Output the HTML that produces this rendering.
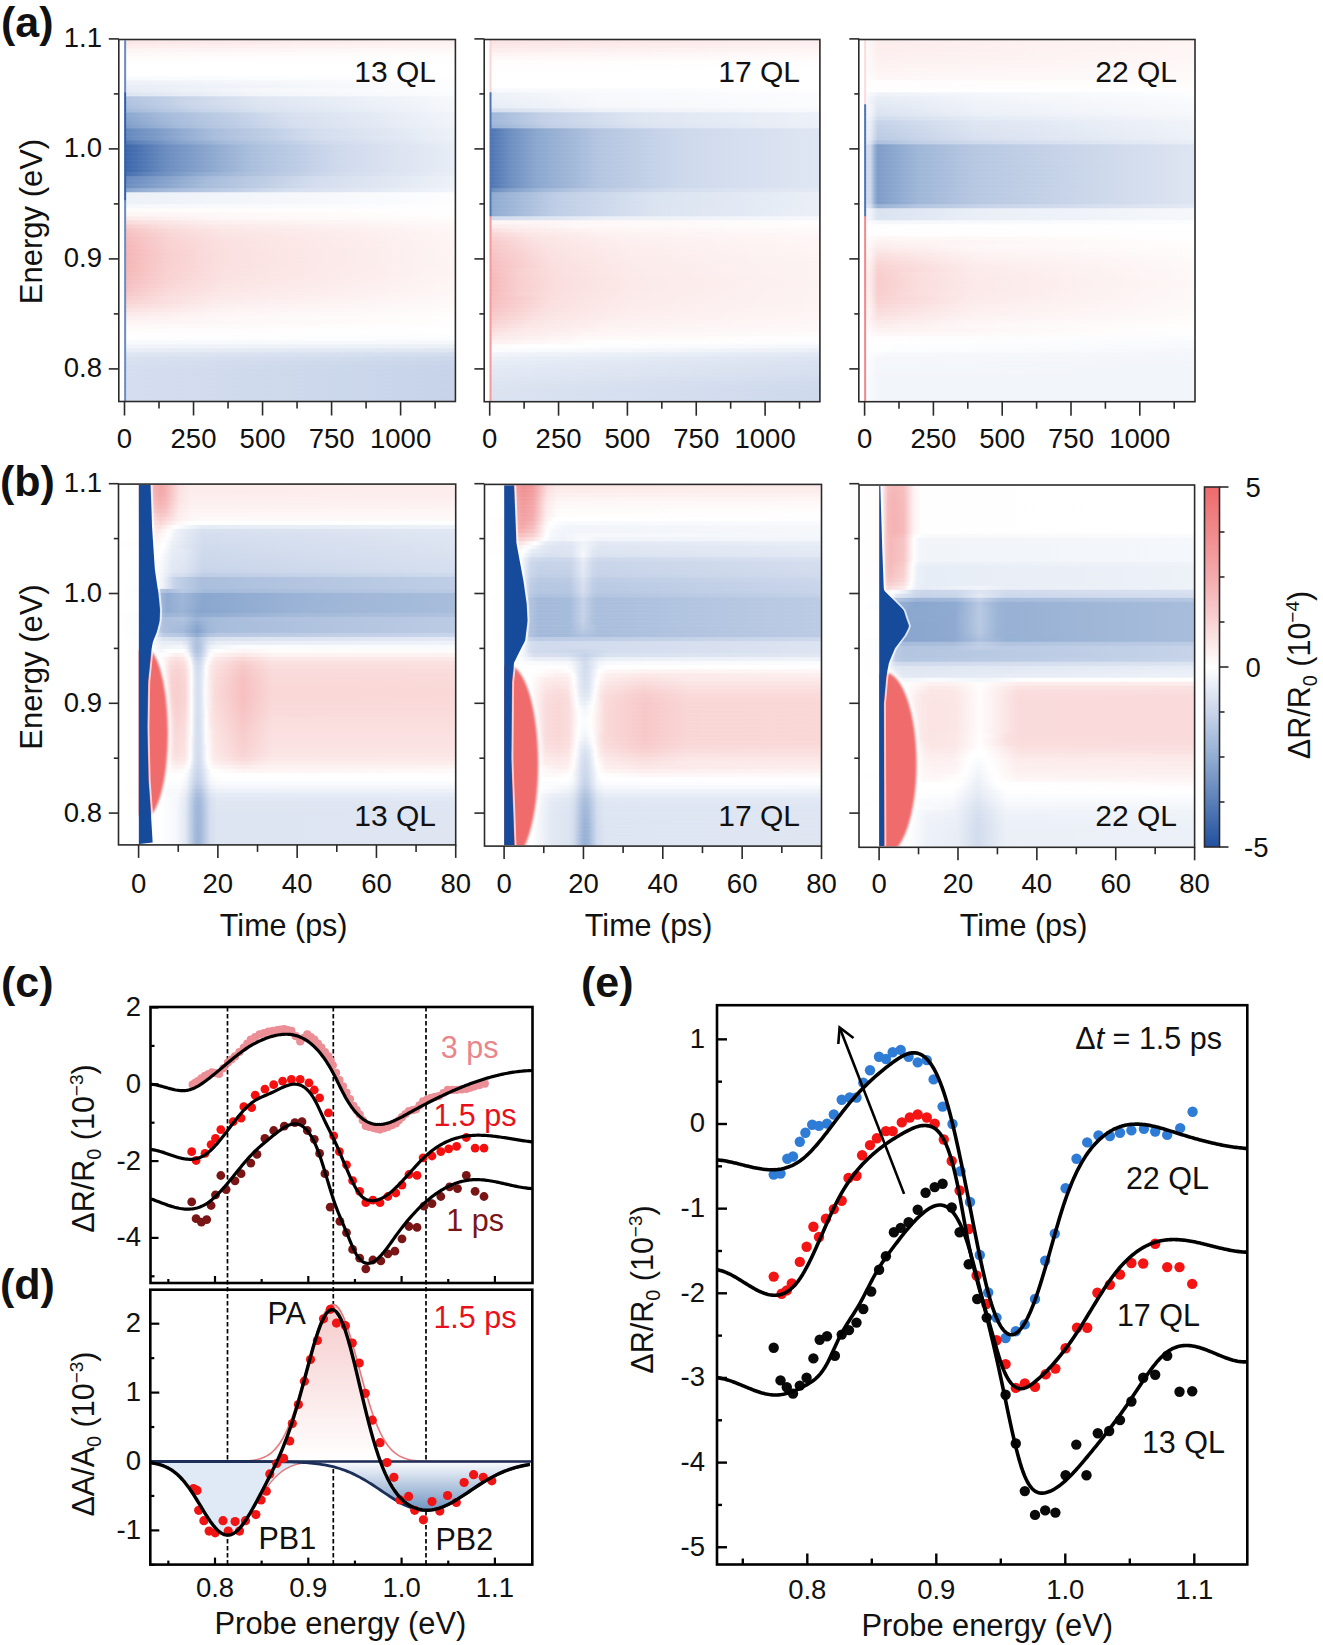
<!DOCTYPE html>
<html><head><meta charset="utf-8"><style>
html,body{margin:0;padding:0;background:#fff;}
svg{display:block;font-family:"Liberation Sans",sans-serif;}
</style></head><body>
<svg width="1323" height="1645" viewBox="0 0 1323 1645">
<rect width="1323" height="1645" fill="#fff"/>
<defs><filter id="bl1" x="-20%" y="-20%" width="140%" height="140%"><feGaussianBlur stdDeviation="1.3"/></filter><filter id="bl2" x="-20%" y="-20%" width="140%" height="140%"><feGaussianBlur stdDeviation="2"/></filter><linearGradient id="h1" x1="119.6" x2="454.6" gradientUnits="userSpaceOnUse"><stop offset="0" stop-color="#ffffff"/><stop offset="0.012" stop-color="#ffffff"/><stop offset="0.015" stop-color="#6a8cbf"/><stop offset="0.018" stop-color="#6a8cbf"/><stop offset="0.021" stop-color="#fce7e7"/><stop offset="1" stop-color="#fdf1f1"/></linearGradient><linearGradient id="h2" x1="119.6" x2="454.6" gradientUnits="userSpaceOnUse"><stop offset="0" stop-color="#ffffff"/><stop offset="0.012" stop-color="#ffffff"/><stop offset="0.015" stop-color="#6a8cbf"/><stop offset="0.018" stop-color="#6a8cbf"/><stop offset="0.021" stop-color="#fdeded"/><stop offset="1" stop-color="#fef5f5"/></linearGradient><linearGradient id="h3" x1="119.6" x2="454.6" gradientUnits="userSpaceOnUse"><stop offset="0" stop-color="#ffffff"/><stop offset="0.012" stop-color="#ffffff"/><stop offset="0.015" stop-color="#6a8cbf"/><stop offset="0.018" stop-color="#6a8cbf"/><stop offset="0.021" stop-color="#fdf4f4"/><stop offset="1" stop-color="#fef9f9"/></linearGradient><linearGradient id="h4" x1="119.6" x2="454.6" gradientUnits="userSpaceOnUse"><stop offset="0" stop-color="#ffffff"/><stop offset="0.012" stop-color="#ffffff"/><stop offset="0.015" stop-color="#6a8cbf"/><stop offset="0.018" stop-color="#6a8cbf"/><stop offset="0.021" stop-color="#fef9f9"/><stop offset="1" stop-color="#fffcfc"/></linearGradient><linearGradient id="h5" x1="119.6" x2="454.6" gradientUnits="userSpaceOnUse"><stop offset="0" stop-color="#ffffff"/><stop offset="0.012" stop-color="#ffffff"/><stop offset="0.015" stop-color="#6a8cbf"/><stop offset="0.018" stop-color="#6a8cbf"/><stop offset="0.021" stop-color="#fffcfc"/><stop offset="1" stop-color="#fffefe"/></linearGradient><linearGradient id="h6" x1="119.6" x2="454.6" gradientUnits="userSpaceOnUse"><stop offset="0" stop-color="#ffffff"/><stop offset="0.012" stop-color="#ffffff"/><stop offset="0.015" stop-color="#6a8cbf"/><stop offset="0.018" stop-color="#6a8cbf"/><stop offset="0.021" stop-color="#fffefe"/><stop offset="1" stop-color="#fffefe"/></linearGradient><linearGradient id="h7" x1="119.6" x2="454.6" gradientUnits="userSpaceOnUse"><stop offset="0" stop-color="#ffffff"/><stop offset="0.012" stop-color="#ffffff"/><stop offset="0.015" stop-color="#6a8cbf"/><stop offset="0.018" stop-color="#6a8cbf"/><stop offset="0.021" stop-color="#ffffff"/><stop offset="1" stop-color="#ffffff"/></linearGradient><linearGradient id="h8" x1="119.6" x2="454.6" gradientUnits="userSpaceOnUse"><stop offset="0" stop-color="#ffffff"/><stop offset="0.012" stop-color="#ffffff"/><stop offset="0.015" stop-color="#6a8cbf"/><stop offset="0.018" stop-color="#6a8cbf"/><stop offset="0.021" stop-color="#ffffff"/><stop offset="1" stop-color="#ffffff"/></linearGradient><linearGradient id="h9" x1="119.6" x2="454.6" gradientUnits="userSpaceOnUse"><stop offset="0" stop-color="#ffffff"/><stop offset="0.012" stop-color="#ffffff"/><stop offset="0.015" stop-color="#6a8cbf"/><stop offset="0.018" stop-color="#6a8cbf"/><stop offset="0.021" stop-color="#ffffff"/><stop offset="1" stop-color="#ffffff"/></linearGradient><linearGradient id="ha" x1="119.6" x2="454.6" gradientUnits="userSpaceOnUse"><stop offset="0" stop-color="#ffffff"/><stop offset="0.012" stop-color="#ffffff"/><stop offset="0.015" stop-color="#6a8cbf"/><stop offset="0.018" stop-color="#6a8cbf"/><stop offset="0.021" stop-color="#f9fbfd"/><stop offset="1" stop-color="#fefeff"/></linearGradient><linearGradient id="hb" x1="119.6" x2="454.6" gradientUnits="userSpaceOnUse"><stop offset="0" stop-color="#ffffff"/><stop offset="0.012" stop-color="#ffffff"/><stop offset="0.015" stop-color="#6a8cbf"/><stop offset="0.018" stop-color="#6a8cbf"/><stop offset="0.021" stop-color="#eef2f8"/><stop offset="1" stop-color="#fdfdfe"/></linearGradient><linearGradient id="hc" x1="119.6" x2="454.6" gradientUnits="userSpaceOnUse"><stop offset="0" stop-color="#ffffff"/><stop offset="0.012" stop-color="#ffffff"/><stop offset="0.015" stop-color="#6a8cbf"/><stop offset="0.018" stop-color="#6a8cbf"/><stop offset="0.021" stop-color="#e9eef7"/><stop offset="1" stop-color="#fcfdfe"/></linearGradient><linearGradient id="hd" x1="119.6" x2="454.6" gradientUnits="userSpaceOnUse"><stop offset="0" stop-color="#ffffff"/><stop offset="0.012" stop-color="#ffffff"/><stop offset="0.015" stop-color="#6a8cbf"/><stop offset="0.018" stop-color="#6a8cbf"/><stop offset="0.021" stop-color="#e6ecf5"/><stop offset="0.427" stop-color="#f5f7fb"/><stop offset="1" stop-color="#fcfdfe"/></linearGradient><linearGradient id="he" x1="119.6" x2="454.6" gradientUnits="userSpaceOnUse"><stop offset="0" stop-color="#ffffff"/><stop offset="0.012" stop-color="#ffffff"/><stop offset="0.015" stop-color="#315ea6"/><stop offset="0.018" stop-color="#315ea6"/><stop offset="0.021" stop-color="#dfe6f2"/><stop offset="0.427" stop-color="#f2f5fa"/><stop offset="1" stop-color="#fbfcfd"/></linearGradient><linearGradient id="hf" x1="119.6" x2="454.6" gradientUnits="userSpaceOnUse"><stop offset="0" stop-color="#ffffff"/><stop offset="0.012" stop-color="#ffffff"/><stop offset="0.015" stop-color="#315ea6"/><stop offset="0.018" stop-color="#315ea6"/><stop offset="0.021" stop-color="#b4c5e1"/><stop offset="0.424" stop-color="#e0e7f3"/><stop offset="1" stop-color="#f6f8fb"/></linearGradient><linearGradient id="h10" x1="119.6" x2="454.6" gradientUnits="userSpaceOnUse"><stop offset="0" stop-color="#ffffff"/><stop offset="0.012" stop-color="#ffffff"/><stop offset="0.015" stop-color="#315ea6"/><stop offset="0.018" stop-color="#315ea6"/><stop offset="0.021" stop-color="#b0c3df"/><stop offset="0.203" stop-color="#cad6ea"/><stop offset="0.424" stop-color="#dee6f2"/><stop offset="1" stop-color="#f6f8fb"/></linearGradient><linearGradient id="h11" x1="119.6" x2="454.6" gradientUnits="userSpaceOnUse"><stop offset="0" stop-color="#ffffff"/><stop offset="0.012" stop-color="#ffffff"/><stop offset="0.015" stop-color="#315ea6"/><stop offset="0.018" stop-color="#315ea6"/><stop offset="0.021" stop-color="#adc0de"/><stop offset="0.212" stop-color="#c9d5ea"/><stop offset="0.424" stop-color="#dde4f2"/><stop offset="1" stop-color="#f5f7fb"/></linearGradient><linearGradient id="h12" x1="119.6" x2="454.6" gradientUnits="userSpaceOnUse"><stop offset="0" stop-color="#ffffff"/><stop offset="0.012" stop-color="#ffffff"/><stop offset="0.015" stop-color="#315ea6"/><stop offset="0.018" stop-color="#315ea6"/><stop offset="0.021" stop-color="#a4bada"/><stop offset="0.027" stop-color="#a5bbda"/><stop offset="0.215" stop-color="#c3d1e8"/><stop offset="0.427" stop-color="#d9e2f0"/><stop offset="1" stop-color="#f4f7fb"/></linearGradient><linearGradient id="h13" x1="119.6" x2="454.6" gradientUnits="userSpaceOnUse"><stop offset="0" stop-color="#ffffff"/><stop offset="0.012" stop-color="#ffffff"/><stop offset="0.015" stop-color="#315ea6"/><stop offset="0.018" stop-color="#315ea6"/><stop offset="0.021" stop-color="#8da9d0"/><stop offset="0.134" stop-color="#a6bcdb"/><stop offset="0.499" stop-color="#d7e0ef"/><stop offset="1" stop-color="#f1f4fa"/></linearGradient><linearGradient id="h14" x1="119.6" x2="454.6" gradientUnits="userSpaceOnUse"><stop offset="0" stop-color="#ffffff"/><stop offset="0.012" stop-color="#ffffff"/><stop offset="0.015" stop-color="#315ea6"/><stop offset="0.018" stop-color="#315ea6"/><stop offset="0.021" stop-color="#8aa6ce"/><stop offset="0.146" stop-color="#a6bbdb"/><stop offset="0.504" stop-color="#d6dfef"/><stop offset="1" stop-color="#f1f4fa"/></linearGradient><linearGradient id="h15" x1="119.6" x2="454.6" gradientUnits="userSpaceOnUse"><stop offset="0" stop-color="#ffffff"/><stop offset="0.012" stop-color="#ffffff"/><stop offset="0.015" stop-color="#315ea6"/><stop offset="0.018" stop-color="#315ea6"/><stop offset="0.021" stop-color="#86a3cd"/><stop offset="0.161" stop-color="#a6bcdb"/><stop offset="0.516" stop-color="#d6dfef"/><stop offset="1" stop-color="#f1f4f9"/></linearGradient><linearGradient id="h16" x1="119.6" x2="454.6" gradientUnits="userSpaceOnUse"><stop offset="0" stop-color="#ffffff"/><stop offset="0.012" stop-color="#ffffff"/><stop offset="0.015" stop-color="#315ea6"/><stop offset="0.018" stop-color="#315ea6"/><stop offset="0.021" stop-color="#809eca"/><stop offset="0.185" stop-color="#a7bcdb"/><stop offset="0.531" stop-color="#d6dfef"/><stop offset="1" stop-color="#f0f3f9"/></linearGradient><linearGradient id="h17" x1="119.6" x2="454.6" gradientUnits="userSpaceOnUse"><stop offset="0" stop-color="#ffffff"/><stop offset="0.012" stop-color="#ffffff"/><stop offset="0.015" stop-color="#315ea6"/><stop offset="0.018" stop-color="#315ea6"/><stop offset="0.021" stop-color="#6689be"/><stop offset="0.275" stop-color="#a8bddc"/><stop offset="0.588" stop-color="#d3ddee"/><stop offset="1" stop-color="#edf1f8"/></linearGradient><linearGradient id="h18" x1="119.6" x2="454.6" gradientUnits="userSpaceOnUse"><stop offset="0" stop-color="#ffffff"/><stop offset="0.012" stop-color="#ffffff"/><stop offset="0.015" stop-color="#315ea6"/><stop offset="0.018" stop-color="#315ea6"/><stop offset="0.021" stop-color="#6689be"/><stop offset="0.275" stop-color="#a8bddc"/><stop offset="0.588" stop-color="#d3ddee"/><stop offset="1" stop-color="#edf1f8"/></linearGradient><linearGradient id="h19" x1="119.6" x2="454.6" gradientUnits="userSpaceOnUse"><stop offset="0" stop-color="#ffffff"/><stop offset="0.012" stop-color="#ffffff"/><stop offset="0.015" stop-color="#315ea6"/><stop offset="0.018" stop-color="#315ea6"/><stop offset="0.021" stop-color="#6689be"/><stop offset="0.275" stop-color="#a8bddc"/><stop offset="0.588" stop-color="#d3ddee"/><stop offset="1" stop-color="#edf1f8"/></linearGradient><linearGradient id="h1a" x1="119.6" x2="454.6" gradientUnits="userSpaceOnUse"><stop offset="0" stop-color="#ffffff"/><stop offset="0.012" stop-color="#ffffff"/><stop offset="0.015" stop-color="#315ea6"/><stop offset="0.018" stop-color="#315ea6"/><stop offset="0.021" stop-color="#5279b5"/><stop offset="0.039" stop-color="#5a7fb8"/><stop offset="0.182" stop-color="#87a4cd"/><stop offset="0.334" stop-color="#a9bedc"/><stop offset="0.624" stop-color="#d1dbed"/><stop offset="1" stop-color="#ebeff7"/></linearGradient><linearGradient id="h1b" x1="119.6" x2="454.6" gradientUnits="userSpaceOnUse"><stop offset="0" stop-color="#ffffff"/><stop offset="0.012" stop-color="#ffffff"/><stop offset="0.015" stop-color="#315ea6"/><stop offset="0.018" stop-color="#315ea6"/><stop offset="0.021" stop-color="#3e68ac"/><stop offset="0.146" stop-color="#6e8fc1"/><stop offset="0.391" stop-color="#aabfdd"/><stop offset="0.66" stop-color="#d0daed"/><stop offset="1" stop-color="#e8edf6"/></linearGradient><linearGradient id="h1c" x1="119.6" x2="454.6" gradientUnits="userSpaceOnUse"><stop offset="0" stop-color="#ffffff"/><stop offset="0.012" stop-color="#ffffff"/><stop offset="0.015" stop-color="#315ea6"/><stop offset="0.018" stop-color="#315ea6"/><stop offset="0.021" stop-color="#3e68ac"/><stop offset="0.146" stop-color="#6e8fc1"/><stop offset="0.391" stop-color="#aabfdd"/><stop offset="0.66" stop-color="#d0daed"/><stop offset="1" stop-color="#e8edf6"/></linearGradient><linearGradient id="h1d" x1="119.6" x2="454.6" gradientUnits="userSpaceOnUse"><stop offset="0" stop-color="#ffffff"/><stop offset="0.012" stop-color="#ffffff"/><stop offset="0.015" stop-color="#315ea6"/><stop offset="0.018" stop-color="#315ea6"/><stop offset="0.021" stop-color="#3e68ac"/><stop offset="0.146" stop-color="#6e8fc1"/><stop offset="0.391" stop-color="#aabfdd"/><stop offset="0.66" stop-color="#d0daed"/><stop offset="1" stop-color="#e8edf6"/></linearGradient><linearGradient id="h1e" x1="119.6" x2="454.6" gradientUnits="userSpaceOnUse"><stop offset="0" stop-color="#ffffff"/><stop offset="0.012" stop-color="#ffffff"/><stop offset="0.015" stop-color="#315ea6"/><stop offset="0.018" stop-color="#315ea6"/><stop offset="0.021" stop-color="#3e68ac"/><stop offset="0.146" stop-color="#6e8fc1"/><stop offset="0.391" stop-color="#aabfdd"/><stop offset="0.66" stop-color="#d0daed"/><stop offset="1" stop-color="#e8edf6"/></linearGradient><linearGradient id="h1f" x1="119.6" x2="454.6" gradientUnits="userSpaceOnUse"><stop offset="0" stop-color="#ffffff"/><stop offset="0.012" stop-color="#ffffff"/><stop offset="0.015" stop-color="#315ea6"/><stop offset="0.018" stop-color="#315ea6"/><stop offset="0.021" stop-color="#3e68ac"/><stop offset="0.146" stop-color="#6e8fc1"/><stop offset="0.391" stop-color="#aabfdd"/><stop offset="0.66" stop-color="#d0daed"/><stop offset="1" stop-color="#e8edf6"/></linearGradient><linearGradient id="h20" x1="119.6" x2="454.6" gradientUnits="userSpaceOnUse"><stop offset="0" stop-color="#ffffff"/><stop offset="0.012" stop-color="#ffffff"/><stop offset="0.015" stop-color="#315ea6"/><stop offset="0.018" stop-color="#315ea6"/><stop offset="0.021" stop-color="#3e68ac"/><stop offset="0.146" stop-color="#6e8fc1"/><stop offset="0.391" stop-color="#aabfdd"/><stop offset="0.66" stop-color="#d0daed"/><stop offset="1" stop-color="#e8edf6"/></linearGradient><linearGradient id="h21" x1="119.6" x2="454.6" gradientUnits="userSpaceOnUse"><stop offset="0" stop-color="#ffffff"/><stop offset="0.012" stop-color="#ffffff"/><stop offset="0.015" stop-color="#315ea6"/><stop offset="0.018" stop-color="#315ea6"/><stop offset="0.021" stop-color="#3e68ac"/><stop offset="0.146" stop-color="#6e8fc1"/><stop offset="0.391" stop-color="#aabfdd"/><stop offset="0.66" stop-color="#d0daed"/><stop offset="1" stop-color="#e8edf6"/></linearGradient><linearGradient id="h22" x1="119.6" x2="454.6" gradientUnits="userSpaceOnUse"><stop offset="0" stop-color="#ffffff"/><stop offset="0.012" stop-color="#ffffff"/><stop offset="0.015" stop-color="#315ea6"/><stop offset="0.018" stop-color="#315ea6"/><stop offset="0.021" stop-color="#4971b1"/><stop offset="0.084" stop-color="#6185bb"/><stop offset="0.236" stop-color="#8faad0"/><stop offset="0.361" stop-color="#aabedc"/><stop offset="0.642" stop-color="#d1dbed"/><stop offset="1" stop-color="#eaeef7"/></linearGradient><linearGradient id="h23" x1="119.6" x2="454.6" gradientUnits="userSpaceOnUse"><stop offset="0" stop-color="#ffffff"/><stop offset="0.012" stop-color="#ffffff"/><stop offset="0.015" stop-color="#315ea6"/><stop offset="0.018" stop-color="#315ea6"/><stop offset="0.021" stop-color="#678abe"/><stop offset="0.275" stop-color="#a8bddc"/><stop offset="0.588" stop-color="#d3ddee"/><stop offset="1" stop-color="#edf1f8"/></linearGradient><linearGradient id="h24" x1="119.6" x2="454.6" gradientUnits="userSpaceOnUse"><stop offset="0" stop-color="#ffffff"/><stop offset="0.012" stop-color="#ffffff"/><stop offset="0.015" stop-color="#315ea6"/><stop offset="0.018" stop-color="#315ea6"/><stop offset="0.021" stop-color="#6a8cc0"/><stop offset="0.263" stop-color="#a8bddb"/><stop offset="0.579" stop-color="#d3ddee"/><stop offset="1" stop-color="#edf1f8"/></linearGradient><linearGradient id="h25" x1="119.6" x2="454.6" gradientUnits="userSpaceOnUse"><stop offset="0" stop-color="#ffffff"/><stop offset="0.012" stop-color="#ffffff"/><stop offset="0.015" stop-color="#315ea6"/><stop offset="0.018" stop-color="#315ea6"/><stop offset="0.021" stop-color="#6e8fc1"/><stop offset="0.251" stop-color="#a7bddb"/><stop offset="0.573" stop-color="#d4ddee"/><stop offset="1" stop-color="#eef2f8"/></linearGradient><linearGradient id="h26" x1="119.6" x2="454.6" gradientUnits="userSpaceOnUse"><stop offset="0" stop-color="#ffffff"/><stop offset="0.012" stop-color="#ffffff"/><stop offset="0.015" stop-color="#315ea6"/><stop offset="0.018" stop-color="#315ea6"/><stop offset="0.021" stop-color="#8ba7cf"/><stop offset="0.14" stop-color="#a6bbdb"/><stop offset="0.501" stop-color="#d6dfef"/><stop offset="1" stop-color="#f1f4fa"/></linearGradient><linearGradient id="h27" x1="119.6" x2="454.6" gradientUnits="userSpaceOnUse"><stop offset="0" stop-color="#ffffff"/><stop offset="0.012" stop-color="#ffffff"/><stop offset="0.015" stop-color="#315ea6"/><stop offset="0.018" stop-color="#315ea6"/><stop offset="0.021" stop-color="#ecf1f8"/><stop offset="1" stop-color="#fdfdfe"/></linearGradient><linearGradient id="h28" x1="119.6" x2="454.6" gradientUnits="userSpaceOnUse"><stop offset="0" stop-color="#ffffff"/><stop offset="0.012" stop-color="#ffffff"/><stop offset="0.015" stop-color="#315ea6"/><stop offset="0.018" stop-color="#315ea6"/><stop offset="0.021" stop-color="#edf1f8"/><stop offset="1" stop-color="#fdfdfe"/></linearGradient><linearGradient id="h29" x1="119.6" x2="454.6" gradientUnits="userSpaceOnUse"><stop offset="0" stop-color="#ffffff"/><stop offset="0.012" stop-color="#ffffff"/><stop offset="0.015" stop-color="#6a8cbf"/><stop offset="0.018" stop-color="#6a8cbf"/><stop offset="0.021" stop-color="#edf1f8"/><stop offset="1" stop-color="#fdfdfe"/></linearGradient><linearGradient id="h2a" x1="119.6" x2="454.6" gradientUnits="userSpaceOnUse"><stop offset="0" stop-color="#ffffff"/><stop offset="0.012" stop-color="#ffffff"/><stop offset="0.015" stop-color="#6a8cbf"/><stop offset="0.018" stop-color="#6a8cbf"/><stop offset="0.021" stop-color="#f7f8fc"/><stop offset="1" stop-color="#fefeff"/></linearGradient><linearGradient id="h2b" x1="119.6" x2="454.6" gradientUnits="userSpaceOnUse"><stop offset="0" stop-color="#ffffff"/><stop offset="0.012" stop-color="#ffffff"/><stop offset="0.015" stop-color="#6a8cbf"/><stop offset="0.018" stop-color="#6a8cbf"/><stop offset="0.021" stop-color="#fefbfb"/><stop offset="1" stop-color="#fffefe"/></linearGradient><linearGradient id="h2c" x1="119.6" x2="454.6" gradientUnits="userSpaceOnUse"><stop offset="0" stop-color="#ffffff"/><stop offset="0.012" stop-color="#ffffff"/><stop offset="0.015" stop-color="#6a8cbf"/><stop offset="0.018" stop-color="#6a8cbf"/><stop offset="0.021" stop-color="#fef5f5"/><stop offset="1" stop-color="#fffefe"/></linearGradient><linearGradient id="h2d" x1="119.6" x2="454.6" gradientUnits="userSpaceOnUse"><stop offset="0" stop-color="#ffffff"/><stop offset="0.012" stop-color="#ffffff"/><stop offset="0.015" stop-color="#6a8cbf"/><stop offset="0.018" stop-color="#6a8cbf"/><stop offset="0.021" stop-color="#fcebeb"/><stop offset="0.304" stop-color="#fef7f7"/><stop offset="1" stop-color="#fffcfc"/></linearGradient><linearGradient id="h2e" x1="119.6" x2="454.6" gradientUnits="userSpaceOnUse"><stop offset="0" stop-color="#ffffff"/><stop offset="0.012" stop-color="#ffffff"/><stop offset="0.015" stop-color="#6a8cbf"/><stop offset="0.018" stop-color="#6a8cbf"/><stop offset="0.021" stop-color="#fadddd"/><stop offset="0.304" stop-color="#fdf0f0"/><stop offset="1" stop-color="#fefafa"/></linearGradient><linearGradient id="h2f" x1="119.6" x2="454.6" gradientUnits="userSpaceOnUse"><stop offset="0" stop-color="#ffffff"/><stop offset="0.012" stop-color="#ffffff"/><stop offset="0.015" stop-color="#6a8cbf"/><stop offset="0.018" stop-color="#6a8cbf"/><stop offset="0.021" stop-color="#f8cfcf"/><stop offset="0.143" stop-color="#fbe0e0"/><stop offset="0.307" stop-color="#fceaea"/><stop offset="1" stop-color="#fef8f8"/></linearGradient><linearGradient id="h30" x1="119.6" x2="454.6" gradientUnits="userSpaceOnUse"><stop offset="0" stop-color="#ffffff"/><stop offset="0.012" stop-color="#ffffff"/><stop offset="0.015" stop-color="#6a8cbf"/><stop offset="0.018" stop-color="#6a8cbf"/><stop offset="0.021" stop-color="#f7c5c6"/><stop offset="0.149" stop-color="#fadada"/><stop offset="0.313" stop-color="#fce6e6"/><stop offset="1" stop-color="#fef6f6"/></linearGradient><linearGradient id="h31" x1="119.6" x2="454.6" gradientUnits="userSpaceOnUse"><stop offset="0" stop-color="#ffffff"/><stop offset="0.012" stop-color="#ffffff"/><stop offset="0.015" stop-color="#6a8cbf"/><stop offset="0.018" stop-color="#6a8cbf"/><stop offset="0.021" stop-color="#f7c0c0"/><stop offset="0.149" stop-color="#f9d6d6"/><stop offset="0.313" stop-color="#fbe4e4"/><stop offset="1" stop-color="#fef5f5"/></linearGradient><linearGradient id="h32" x1="119.6" x2="454.6" gradientUnits="userSpaceOnUse"><stop offset="0" stop-color="#ffffff"/><stop offset="0.012" stop-color="#ffffff"/><stop offset="0.015" stop-color="#6a8cbf"/><stop offset="0.018" stop-color="#6a8cbf"/><stop offset="0.021" stop-color="#f6bcbd"/><stop offset="0.152" stop-color="#f9d4d4"/><stop offset="0.316" stop-color="#fbe2e2"/><stop offset="1" stop-color="#fef5f5"/></linearGradient><linearGradient id="h33" x1="119.6" x2="454.6" gradientUnits="userSpaceOnUse"><stop offset="0" stop-color="#ffffff"/><stop offset="0.012" stop-color="#ffffff"/><stop offset="0.015" stop-color="#6a8cbf"/><stop offset="0.018" stop-color="#6a8cbf"/><stop offset="0.021" stop-color="#f6babb"/><stop offset="0.137" stop-color="#f9d1d1"/><stop offset="0.316" stop-color="#fbe1e1"/><stop offset="1" stop-color="#fef4f4"/></linearGradient><linearGradient id="h34" x1="119.6" x2="454.6" gradientUnits="userSpaceOnUse"><stop offset="0" stop-color="#ffffff"/><stop offset="0.012" stop-color="#ffffff"/><stop offset="0.015" stop-color="#6a8cbf"/><stop offset="0.018" stop-color="#6a8cbf"/><stop offset="0.021" stop-color="#f6b8b9"/><stop offset="0.137" stop-color="#f9d0d0"/><stop offset="0.316" stop-color="#fbe1e1"/><stop offset="1" stop-color="#fef4f4"/></linearGradient><linearGradient id="h35" x1="119.6" x2="454.6" gradientUnits="userSpaceOnUse"><stop offset="0" stop-color="#ffffff"/><stop offset="0.012" stop-color="#ffffff"/><stop offset="0.015" stop-color="#6a8cbf"/><stop offset="0.018" stop-color="#6a8cbf"/><stop offset="0.021" stop-color="#f6b7b8"/><stop offset="0.137" stop-color="#f9cfcf"/><stop offset="0.316" stop-color="#fbe0e0"/><stop offset="1" stop-color="#fdf4f4"/></linearGradient><linearGradient id="h36" x1="119.6" x2="454.6" gradientUnits="userSpaceOnUse"><stop offset="0" stop-color="#ffffff"/><stop offset="0.012" stop-color="#ffffff"/><stop offset="0.015" stop-color="#6a8cbf"/><stop offset="0.018" stop-color="#6a8cbf"/><stop offset="0.021" stop-color="#f5b7b8"/><stop offset="0.137" stop-color="#f8cfcf"/><stop offset="0.316" stop-color="#fbe0e0"/><stop offset="1" stop-color="#fdf4f4"/></linearGradient><linearGradient id="h37" x1="119.6" x2="454.6" gradientUnits="userSpaceOnUse"><stop offset="0" stop-color="#ffffff"/><stop offset="0.012" stop-color="#ffffff"/><stop offset="0.015" stop-color="#6a8cbf"/><stop offset="0.018" stop-color="#6a8cbf"/><stop offset="0.021" stop-color="#f5b7b7"/><stop offset="0.137" stop-color="#f8cfcf"/><stop offset="0.316" stop-color="#fbe0e0"/><stop offset="1" stop-color="#fdf4f4"/></linearGradient><linearGradient id="h38" x1="119.6" x2="454.6" gradientUnits="userSpaceOnUse"><stop offset="0" stop-color="#ffffff"/><stop offset="0.012" stop-color="#ffffff"/><stop offset="0.015" stop-color="#6a8cbf"/><stop offset="0.018" stop-color="#6a8cbf"/><stop offset="0.021" stop-color="#f5b7b8"/><stop offset="0.137" stop-color="#f8cfcf"/><stop offset="0.316" stop-color="#fbe0e0"/><stop offset="1" stop-color="#fdf4f4"/></linearGradient><linearGradient id="h39" x1="119.6" x2="454.6" gradientUnits="userSpaceOnUse"><stop offset="0" stop-color="#ffffff"/><stop offset="0.012" stop-color="#ffffff"/><stop offset="0.015" stop-color="#6a8cbf"/><stop offset="0.018" stop-color="#6a8cbf"/><stop offset="0.021" stop-color="#f6b8b8"/><stop offset="0.137" stop-color="#f9cfcf"/><stop offset="0.316" stop-color="#fbe0e0"/><stop offset="1" stop-color="#fdf4f4"/></linearGradient><linearGradient id="h3a" x1="119.6" x2="454.6" gradientUnits="userSpaceOnUse"><stop offset="0" stop-color="#ffffff"/><stop offset="0.012" stop-color="#ffffff"/><stop offset="0.015" stop-color="#6a8cbf"/><stop offset="0.018" stop-color="#6a8cbf"/><stop offset="0.021" stop-color="#f6b9b9"/><stop offset="0.137" stop-color="#f9d0d0"/><stop offset="0.316" stop-color="#fbe1e1"/><stop offset="1" stop-color="#fef4f4"/></linearGradient><linearGradient id="h3b" x1="119.6" x2="454.6" gradientUnits="userSpaceOnUse"><stop offset="0" stop-color="#ffffff"/><stop offset="0.012" stop-color="#ffffff"/><stop offset="0.015" stop-color="#6a8cbf"/><stop offset="0.018" stop-color="#6a8cbf"/><stop offset="0.021" stop-color="#f6babb"/><stop offset="0.137" stop-color="#f9d1d1"/><stop offset="0.316" stop-color="#fbe1e1"/><stop offset="1" stop-color="#fef4f4"/></linearGradient><linearGradient id="h3c" x1="119.6" x2="454.6" gradientUnits="userSpaceOnUse"><stop offset="0" stop-color="#ffffff"/><stop offset="0.012" stop-color="#ffffff"/><stop offset="0.015" stop-color="#6a8cbf"/><stop offset="0.018" stop-color="#6a8cbf"/><stop offset="0.021" stop-color="#f6bcbc"/><stop offset="0.137" stop-color="#f9d2d2"/><stop offset="0.316" stop-color="#fbe2e2"/><stop offset="1" stop-color="#fef5f5"/></linearGradient><linearGradient id="h3d" x1="119.6" x2="454.6" gradientUnits="userSpaceOnUse"><stop offset="0" stop-color="#ffffff"/><stop offset="0.012" stop-color="#ffffff"/><stop offset="0.015" stop-color="#6a8cbf"/><stop offset="0.018" stop-color="#6a8cbf"/><stop offset="0.021" stop-color="#f6bebf"/><stop offset="0.149" stop-color="#f9d5d5"/><stop offset="0.313" stop-color="#fbe3e3"/><stop offset="1" stop-color="#fef5f5"/></linearGradient><linearGradient id="h3e" x1="119.6" x2="454.6" gradientUnits="userSpaceOnUse"><stop offset="0" stop-color="#ffffff"/><stop offset="0.012" stop-color="#ffffff"/><stop offset="0.015" stop-color="#6a8cbf"/><stop offset="0.018" stop-color="#6a8cbf"/><stop offset="0.021" stop-color="#f7c1c2"/><stop offset="0.149" stop-color="#fad7d7"/><stop offset="0.313" stop-color="#fbe5e5"/><stop offset="1" stop-color="#fef6f6"/></linearGradient><linearGradient id="h3f" x1="119.6" x2="454.6" gradientUnits="userSpaceOnUse"><stop offset="0" stop-color="#ffffff"/><stop offset="0.012" stop-color="#ffffff"/><stop offset="0.015" stop-color="#6a8cbf"/><stop offset="0.018" stop-color="#6a8cbf"/><stop offset="0.021" stop-color="#f7c5c5"/><stop offset="0.149" stop-color="#fadada"/><stop offset="0.313" stop-color="#fce6e6"/><stop offset="1" stop-color="#fef6f6"/></linearGradient><linearGradient id="h40" x1="119.6" x2="454.6" gradientUnits="userSpaceOnUse"><stop offset="0" stop-color="#ffffff"/><stop offset="0.012" stop-color="#ffffff"/><stop offset="0.015" stop-color="#6a8cbf"/><stop offset="0.018" stop-color="#6a8cbf"/><stop offset="0.021" stop-color="#f8c9c9"/><stop offset="0.146" stop-color="#fadcdc"/><stop offset="0.31" stop-color="#fce8e8"/><stop offset="1" stop-color="#fef7f7"/></linearGradient><linearGradient id="h41" x1="119.6" x2="454.6" gradientUnits="userSpaceOnUse"><stop offset="0" stop-color="#ffffff"/><stop offset="0.012" stop-color="#ffffff"/><stop offset="0.015" stop-color="#6a8cbf"/><stop offset="0.018" stop-color="#6a8cbf"/><stop offset="0.021" stop-color="#f8cece"/><stop offset="0.143" stop-color="#fbdfdf"/><stop offset="0.307" stop-color="#fceaea"/><stop offset="1" stop-color="#fef8f8"/></linearGradient><linearGradient id="h42" x1="119.6" x2="454.6" gradientUnits="userSpaceOnUse"><stop offset="0" stop-color="#ffffff"/><stop offset="0.012" stop-color="#ffffff"/><stop offset="0.015" stop-color="#6a8cbf"/><stop offset="0.018" stop-color="#6a8cbf"/><stop offset="0.021" stop-color="#f9d4d4"/><stop offset="0.304" stop-color="#fceded"/><stop offset="1" stop-color="#fef9f9"/></linearGradient><linearGradient id="h43" x1="119.6" x2="454.6" gradientUnits="userSpaceOnUse"><stop offset="0" stop-color="#ffffff"/><stop offset="0.012" stop-color="#ffffff"/><stop offset="0.015" stop-color="#6a8cbf"/><stop offset="0.018" stop-color="#6a8cbf"/><stop offset="0.021" stop-color="#fadbdb"/><stop offset="0.304" stop-color="#fdf0f0"/><stop offset="1" stop-color="#fefafa"/></linearGradient><linearGradient id="h44" x1="119.6" x2="454.6" gradientUnits="userSpaceOnUse"><stop offset="0" stop-color="#ffffff"/><stop offset="0.012" stop-color="#ffffff"/><stop offset="0.015" stop-color="#6a8cbf"/><stop offset="0.018" stop-color="#6a8cbf"/><stop offset="0.021" stop-color="#fbe2e2"/><stop offset="0.304" stop-color="#fdf3f3"/><stop offset="1" stop-color="#fefbfb"/></linearGradient><linearGradient id="h45" x1="119.6" x2="454.6" gradientUnits="userSpaceOnUse"><stop offset="0" stop-color="#ffffff"/><stop offset="0.012" stop-color="#ffffff"/><stop offset="0.015" stop-color="#6a8cbf"/><stop offset="0.018" stop-color="#6a8cbf"/><stop offset="0.021" stop-color="#fce9e9"/><stop offset="0.304" stop-color="#fef6f6"/><stop offset="1" stop-color="#fffcfc"/></linearGradient><linearGradient id="h46" x1="119.6" x2="454.6" gradientUnits="userSpaceOnUse"><stop offset="0" stop-color="#ffffff"/><stop offset="0.012" stop-color="#ffffff"/><stop offset="0.015" stop-color="#6a8cbf"/><stop offset="0.018" stop-color="#6a8cbf"/><stop offset="0.021" stop-color="#fdefef"/><stop offset="0.304" stop-color="#fef8f8"/><stop offset="1" stop-color="#fffdfd"/></linearGradient><linearGradient id="h47" x1="119.6" x2="454.6" gradientUnits="userSpaceOnUse"><stop offset="0" stop-color="#ffffff"/><stop offset="0.012" stop-color="#ffffff"/><stop offset="0.015" stop-color="#6a8cbf"/><stop offset="0.018" stop-color="#6a8cbf"/><stop offset="0.021" stop-color="#fdf4f4"/><stop offset="1" stop-color="#fffdfd"/></linearGradient><linearGradient id="h48" x1="119.6" x2="454.6" gradientUnits="userSpaceOnUse"><stop offset="0" stop-color="#ffffff"/><stop offset="0.012" stop-color="#ffffff"/><stop offset="0.015" stop-color="#6a8cbf"/><stop offset="0.018" stop-color="#6a8cbf"/><stop offset="0.021" stop-color="#fef8f8"/><stop offset="1" stop-color="#fffefe"/></linearGradient><linearGradient id="h49" x1="119.6" x2="454.6" gradientUnits="userSpaceOnUse"><stop offset="0" stop-color="#ffffff"/><stop offset="0.012" stop-color="#ffffff"/><stop offset="0.015" stop-color="#6a8cbf"/><stop offset="0.018" stop-color="#6a8cbf"/><stop offset="0.021" stop-color="#fefbfb"/><stop offset="1" stop-color="#ffffff"/></linearGradient><linearGradient id="h4a" x1="119.6" x2="454.6" gradientUnits="userSpaceOnUse"><stop offset="0" stop-color="#ffffff"/><stop offset="0.012" stop-color="#ffffff"/><stop offset="0.015" stop-color="#6a8cbf"/><stop offset="0.018" stop-color="#6a8cbf"/><stop offset="0.021" stop-color="#fffdfd"/><stop offset="1" stop-color="#fefefe"/></linearGradient><linearGradient id="h4b" x1="119.6" x2="454.6" gradientUnits="userSpaceOnUse"><stop offset="0" stop-color="#ffffff"/><stop offset="0.012" stop-color="#ffffff"/><stop offset="0.015" stop-color="#6a8cbf"/><stop offset="0.018" stop-color="#6a8cbf"/><stop offset="0.021" stop-color="#fefeff"/><stop offset="1" stop-color="#fbfcfd"/></linearGradient><linearGradient id="h4c" x1="119.6" x2="454.6" gradientUnits="userSpaceOnUse"><stop offset="0" stop-color="#ffffff"/><stop offset="0.012" stop-color="#ffffff"/><stop offset="0.015" stop-color="#6a8cbf"/><stop offset="0.018" stop-color="#6a8cbf"/><stop offset="0.021" stop-color="#f9fafd"/><stop offset="1" stop-color="#f5f7fb"/></linearGradient><linearGradient id="h4d" x1="119.6" x2="454.6" gradientUnits="userSpaceOnUse"><stop offset="0" stop-color="#ffffff"/><stop offset="0.012" stop-color="#ffffff"/><stop offset="0.015" stop-color="#6a8cbf"/><stop offset="0.018" stop-color="#6a8cbf"/><stop offset="0.021" stop-color="#f1f4fa"/><stop offset="1" stop-color="#ebf0f7"/></linearGradient><linearGradient id="h4e" x1="119.6" x2="454.6" gradientUnits="userSpaceOnUse"><stop offset="0" stop-color="#ffffff"/><stop offset="0.012" stop-color="#ffffff"/><stop offset="0.015" stop-color="#6a8cbf"/><stop offset="0.018" stop-color="#6a8cbf"/><stop offset="0.021" stop-color="#e8edf6"/><stop offset="1" stop-color="#dfe6f2"/></linearGradient><linearGradient id="h4f" x1="119.6" x2="454.6" gradientUnits="userSpaceOnUse"><stop offset="0" stop-color="#ffffff"/><stop offset="0.012" stop-color="#ffffff"/><stop offset="0.015" stop-color="#6a8cbf"/><stop offset="0.018" stop-color="#6a8cbf"/><stop offset="0.021" stop-color="#dfe6f3"/><stop offset="1" stop-color="#d3ddee"/></linearGradient><linearGradient id="h50" x1="119.6" x2="454.6" gradientUnits="userSpaceOnUse"><stop offset="0" stop-color="#ffffff"/><stop offset="0.012" stop-color="#ffffff"/><stop offset="0.015" stop-color="#6a8cbf"/><stop offset="0.018" stop-color="#6a8cbf"/><stop offset="0.021" stop-color="#dae2f0"/><stop offset="1" stop-color="#ccd8eb"/></linearGradient><linearGradient id="h51" x1="119.6" x2="454.6" gradientUnits="userSpaceOnUse"><stop offset="0" stop-color="#ffffff"/><stop offset="0.012" stop-color="#ffffff"/><stop offset="0.015" stop-color="#6a8cbf"/><stop offset="0.018" stop-color="#6a8cbf"/><stop offset="0.021" stop-color="#d7e0ef"/><stop offset="1" stop-color="#c9d5ea"/></linearGradient><linearGradient id="h52" x1="119.6" x2="454.6" gradientUnits="userSpaceOnUse"><stop offset="0" stop-color="#ffffff"/><stop offset="0.012" stop-color="#ffffff"/><stop offset="0.015" stop-color="#6a8cbf"/><stop offset="0.018" stop-color="#6a8cbf"/><stop offset="0.021" stop-color="#d6dfef"/><stop offset="1" stop-color="#c7d4e9"/></linearGradient><linearGradient id="h53" x1="119.6" x2="454.6" gradientUnits="userSpaceOnUse"><stop offset="0" stop-color="#ffffff"/><stop offset="0.012" stop-color="#ffffff"/><stop offset="0.015" stop-color="#6a8cbf"/><stop offset="0.018" stop-color="#6a8cbf"/><stop offset="0.021" stop-color="#d5deef"/><stop offset="1" stop-color="#c6d3e9"/></linearGradient><linearGradient id="h54" x1="119.6" x2="454.6" gradientUnits="userSpaceOnUse"><stop offset="0" stop-color="#ffffff"/><stop offset="0.012" stop-color="#ffffff"/><stop offset="0.015" stop-color="#6a8cbf"/><stop offset="0.018" stop-color="#6a8cbf"/><stop offset="0.021" stop-color="#d5deef"/><stop offset="1" stop-color="#c6d3e9"/></linearGradient><linearGradient id="h55" x1="119.6" x2="454.6" gradientUnits="userSpaceOnUse"><stop offset="0" stop-color="#ffffff"/><stop offset="0.012" stop-color="#ffffff"/><stop offset="0.015" stop-color="#6a8cbf"/><stop offset="0.018" stop-color="#6a8cbf"/><stop offset="0.021" stop-color="#d5deef"/><stop offset="1" stop-color="#c6d3e9"/></linearGradient><linearGradient id="h56" x1="119.6" x2="454.6" gradientUnits="userSpaceOnUse"><stop offset="0" stop-color="#ffffff"/><stop offset="0.012" stop-color="#ffffff"/><stop offset="0.015" stop-color="#6a8cbf"/><stop offset="0.018" stop-color="#6a8cbf"/><stop offset="0.021" stop-color="#d5deef"/><stop offset="1" stop-color="#c6d3e9"/></linearGradient><linearGradient id="h57" x1="119.6" x2="454.6" gradientUnits="userSpaceOnUse"><stop offset="0" stop-color="#ffffff"/><stop offset="0.012" stop-color="#ffffff"/><stop offset="0.015" stop-color="#6a8cbf"/><stop offset="0.018" stop-color="#6a8cbf"/><stop offset="0.021" stop-color="#d5deef"/><stop offset="1" stop-color="#c6d3e9"/></linearGradient><linearGradient id="h58" x1="119.6" x2="454.6" gradientUnits="userSpaceOnUse"><stop offset="0" stop-color="#ffffff"/><stop offset="0.012" stop-color="#ffffff"/><stop offset="0.015" stop-color="#6a8cbf"/><stop offset="0.018" stop-color="#6a8cbf"/><stop offset="0.021" stop-color="#d5deef"/><stop offset="1" stop-color="#c6d3e9"/></linearGradient><linearGradient id="h59" x1="119.6" x2="454.6" gradientUnits="userSpaceOnUse"><stop offset="0" stop-color="#ffffff"/><stop offset="0.012" stop-color="#ffffff"/><stop offset="0.015" stop-color="#6a8cbf"/><stop offset="0.018" stop-color="#6a8cbf"/><stop offset="0.021" stop-color="#d5deef"/><stop offset="1" stop-color="#c6d3e9"/></linearGradient><linearGradient id="h5a" x1="119.6" x2="454.6" gradientUnits="userSpaceOnUse"><stop offset="0" stop-color="#ffffff"/><stop offset="0.012" stop-color="#ffffff"/><stop offset="0.015" stop-color="#6a8cbf"/><stop offset="0.018" stop-color="#6a8cbf"/><stop offset="0.021" stop-color="#d5deef"/><stop offset="1" stop-color="#c6d3e9"/></linearGradient><linearGradient id="h5b" x1="119.6" x2="454.6" gradientUnits="userSpaceOnUse"><stop offset="0" stop-color="#ffffff"/><stop offset="0.012" stop-color="#ffffff"/><stop offset="0.015" stop-color="#6a8cbf"/><stop offset="0.018" stop-color="#6a8cbf"/><stop offset="0.021" stop-color="#d5deef"/><stop offset="1" stop-color="#c6d3e9"/></linearGradient><linearGradient id="h5c" x1="485" x2="819.1" gradientUnits="userSpaceOnUse"><stop offset="0" stop-color="#ffffff"/><stop offset="0.012" stop-color="#ffffff"/><stop offset="0.015" stop-color="#f9d5d5"/><stop offset="0.018" stop-color="#f9d5d5"/><stop offset="0.021" stop-color="#fbe3e3"/><stop offset="0.045" stop-color="#fbe4e4"/><stop offset="1" stop-color="#fdefef"/></linearGradient><linearGradient id="h5d" x1="485" x2="819.1" gradientUnits="userSpaceOnUse"><stop offset="0" stop-color="#ffffff"/><stop offset="0.012" stop-color="#ffffff"/><stop offset="0.015" stop-color="#f9d5d5"/><stop offset="0.018" stop-color="#f9d5d5"/><stop offset="0.021" stop-color="#fce8e8"/><stop offset="1" stop-color="#fdf2f2"/></linearGradient><linearGradient id="h5e" x1="485" x2="819.1" gradientUnits="userSpaceOnUse"><stop offset="0" stop-color="#ffffff"/><stop offset="0.012" stop-color="#ffffff"/><stop offset="0.015" stop-color="#f9d5d5"/><stop offset="0.018" stop-color="#f9d5d5"/><stop offset="0.021" stop-color="#fdeeee"/><stop offset="1" stop-color="#fef5f5"/></linearGradient><linearGradient id="h5f" x1="485" x2="819.1" gradientUnits="userSpaceOnUse"><stop offset="0" stop-color="#ffffff"/><stop offset="0.012" stop-color="#ffffff"/><stop offset="0.015" stop-color="#f9d5d5"/><stop offset="0.018" stop-color="#f9d5d5"/><stop offset="0.021" stop-color="#fef4f4"/><stop offset="1" stop-color="#fef9f9"/></linearGradient><linearGradient id="h60" x1="485" x2="819.1" gradientUnits="userSpaceOnUse"><stop offset="0" stop-color="#ffffff"/><stop offset="0.012" stop-color="#ffffff"/><stop offset="0.015" stop-color="#f9d5d5"/><stop offset="0.018" stop-color="#f9d5d5"/><stop offset="0.021" stop-color="#fef9f9"/><stop offset="1" stop-color="#fffbfb"/></linearGradient><linearGradient id="h61" x1="485" x2="819.1" gradientUnits="userSpaceOnUse"><stop offset="0" stop-color="#ffffff"/><stop offset="0.012" stop-color="#ffffff"/><stop offset="0.015" stop-color="#f9d5d5"/><stop offset="0.018" stop-color="#f9d5d5"/><stop offset="0.021" stop-color="#fffcfc"/><stop offset="1" stop-color="#fffdfd"/></linearGradient><linearGradient id="h62" x1="485" x2="819.1" gradientUnits="userSpaceOnUse"><stop offset="0" stop-color="#ffffff"/><stop offset="0.012" stop-color="#ffffff"/><stop offset="0.015" stop-color="#f9d5d5"/><stop offset="0.018" stop-color="#f9d5d5"/><stop offset="0.021" stop-color="#fffdfd"/><stop offset="1" stop-color="#fffefe"/></linearGradient><linearGradient id="h63" x1="485" x2="819.1" gradientUnits="userSpaceOnUse"><stop offset="0" stop-color="#ffffff"/><stop offset="0.012" stop-color="#ffffff"/><stop offset="0.015" stop-color="#f9d5d5"/><stop offset="0.018" stop-color="#f9d5d5"/><stop offset="0.021" stop-color="#fffefe"/><stop offset="1" stop-color="#ffffff"/></linearGradient><linearGradient id="h64" x1="485" x2="819.1" gradientUnits="userSpaceOnUse"><stop offset="0" stop-color="#ffffff"/><stop offset="0.012" stop-color="#ffffff"/><stop offset="0.015" stop-color="#f9d5d5"/><stop offset="0.018" stop-color="#f9d5d5"/><stop offset="0.021" stop-color="#ffffff"/><stop offset="1" stop-color="#ffffff"/></linearGradient><linearGradient id="h65" x1="485" x2="819.1" gradientUnits="userSpaceOnUse"><stop offset="0" stop-color="#ffffff"/><stop offset="0.012" stop-color="#ffffff"/><stop offset="0.015" stop-color="#f9d5d5"/><stop offset="0.018" stop-color="#f9d5d5"/><stop offset="0.021" stop-color="#ffffff"/><stop offset="1" stop-color="#ffffff"/></linearGradient><linearGradient id="h66" x1="485" x2="819.1" gradientUnits="userSpaceOnUse"><stop offset="0" stop-color="#ffffff"/><stop offset="0.012" stop-color="#ffffff"/><stop offset="0.015" stop-color="#f9d5d5"/><stop offset="0.018" stop-color="#f9d5d5"/><stop offset="0.021" stop-color="#ffffff"/><stop offset="1" stop-color="#ffffff"/></linearGradient><linearGradient id="h67" x1="485" x2="819.1" gradientUnits="userSpaceOnUse"><stop offset="0" stop-color="#ffffff"/><stop offset="0.012" stop-color="#ffffff"/><stop offset="0.015" stop-color="#f9d5d5"/><stop offset="0.018" stop-color="#f9d5d5"/><stop offset="0.021" stop-color="#ffffff"/><stop offset="1" stop-color="#ffffff"/></linearGradient><linearGradient id="h68" x1="485" x2="819.1" gradientUnits="userSpaceOnUse"><stop offset="0" stop-color="#ffffff"/><stop offset="0.012" stop-color="#ffffff"/><stop offset="0.015" stop-color="#f9d5d5"/><stop offset="0.018" stop-color="#f9d5d5"/><stop offset="0.021" stop-color="#f7f9fc"/><stop offset="1" stop-color="#fefefe"/></linearGradient><linearGradient id="h69" x1="485" x2="819.1" gradientUnits="userSpaceOnUse"><stop offset="0" stop-color="#ffffff"/><stop offset="0.012" stop-color="#ffffff"/><stop offset="0.015" stop-color="#4e75b3"/><stop offset="0.018" stop-color="#4e75b3"/><stop offset="0.021" stop-color="#eef2f8"/><stop offset="0.353" stop-color="#f8f9fc"/><stop offset="1" stop-color="#fcfcfe"/></linearGradient><linearGradient id="h6a" x1="485" x2="819.1" gradientUnits="userSpaceOnUse"><stop offset="0" stop-color="#ffffff"/><stop offset="0.012" stop-color="#ffffff"/><stop offset="0.015" stop-color="#4e75b3"/><stop offset="0.018" stop-color="#4e75b3"/><stop offset="0.021" stop-color="#ecf0f7"/><stop offset="0.353" stop-color="#f7f9fc"/><stop offset="1" stop-color="#fbfcfe"/></linearGradient><linearGradient id="h6b" x1="485" x2="819.1" gradientUnits="userSpaceOnUse"><stop offset="0" stop-color="#ffffff"/><stop offset="0.012" stop-color="#ffffff"/><stop offset="0.015" stop-color="#4e75b3"/><stop offset="0.018" stop-color="#4e75b3"/><stop offset="0.021" stop-color="#e9eef7"/><stop offset="0.353" stop-color="#f6f8fb"/><stop offset="1" stop-color="#fbfcfd"/></linearGradient><linearGradient id="h6c" x1="485" x2="819.1" gradientUnits="userSpaceOnUse"><stop offset="0" stop-color="#ffffff"/><stop offset="0.012" stop-color="#ffffff"/><stop offset="0.015" stop-color="#4e75b3"/><stop offset="0.018" stop-color="#4e75b3"/><stop offset="0.021" stop-color="#e7edf6"/><stop offset="0.353" stop-color="#f5f7fb"/><stop offset="1" stop-color="#fbfcfd"/></linearGradient><linearGradient id="h6d" x1="485" x2="819.1" gradientUnits="userSpaceOnUse"><stop offset="0" stop-color="#ffffff"/><stop offset="0.012" stop-color="#ffffff"/><stop offset="0.015" stop-color="#4e75b3"/><stop offset="0.018" stop-color="#4e75b3"/><stop offset="0.021" stop-color="#d6dfef"/><stop offset="0.353" stop-color="#eef1f8"/><stop offset="1" stop-color="#f7f9fc"/></linearGradient><linearGradient id="h6e" x1="485" x2="819.1" gradientUnits="userSpaceOnUse"><stop offset="0" stop-color="#ffffff"/><stop offset="0.012" stop-color="#ffffff"/><stop offset="0.015" stop-color="#4e75b3"/><stop offset="0.018" stop-color="#4e75b3"/><stop offset="0.021" stop-color="#a1b8d9"/><stop offset="0.168" stop-color="#c2d0e7"/><stop offset="0.467" stop-color="#dee6f2"/><stop offset="1" stop-color="#edf1f8"/></linearGradient><linearGradient id="h6f" x1="485" x2="819.1" gradientUnits="userSpaceOnUse"><stop offset="0" stop-color="#ffffff"/><stop offset="0.012" stop-color="#ffffff"/><stop offset="0.015" stop-color="#4e75b3"/><stop offset="0.018" stop-color="#4e75b3"/><stop offset="0.021" stop-color="#a1b8d9"/><stop offset="0.168" stop-color="#c2d0e7"/><stop offset="0.467" stop-color="#dee6f2"/><stop offset="1" stop-color="#edf1f8"/></linearGradient><linearGradient id="h70" x1="485" x2="819.1" gradientUnits="userSpaceOnUse"><stop offset="0" stop-color="#ffffff"/><stop offset="0.012" stop-color="#ffffff"/><stop offset="0.015" stop-color="#4e75b3"/><stop offset="0.018" stop-color="#4e75b3"/><stop offset="0.021" stop-color="#a1b8d9"/><stop offset="0.168" stop-color="#c2d0e7"/><stop offset="0.467" stop-color="#dee6f2"/><stop offset="1" stop-color="#edf1f8"/></linearGradient><linearGradient id="h71" x1="485" x2="819.1" gradientUnits="userSpaceOnUse"><stop offset="0" stop-color="#ffffff"/><stop offset="0.012" stop-color="#ffffff"/><stop offset="0.015" stop-color="#4e75b3"/><stop offset="0.018" stop-color="#4e75b3"/><stop offset="0.021" stop-color="#99b2d5"/><stop offset="0.192" stop-color="#c1cfe6"/><stop offset="0.488" stop-color="#dce4f2"/><stop offset="1" stop-color="#ecf0f8"/></linearGradient><linearGradient id="h72" x1="485" x2="819.1" gradientUnits="userSpaceOnUse"><stop offset="0" stop-color="#ffffff"/><stop offset="0.012" stop-color="#ffffff"/><stop offset="0.015" stop-color="#4e75b3"/><stop offset="0.078" stop-color="#6f90c2"/><stop offset="0.156" stop-color="#8ca8cf"/><stop offset="0.344" stop-color="#b5c6e1"/><stop offset="0.599" stop-color="#ced9ec"/><stop offset="1" stop-color="#dfe6f3"/></linearGradient><linearGradient id="h73" x1="485" x2="819.1" gradientUnits="userSpaceOnUse"><stop offset="0" stop-color="#ffffff"/><stop offset="0.012" stop-color="#ffffff"/><stop offset="0.015" stop-color="#4e75b3"/><stop offset="0.078" stop-color="#6f90c2"/><stop offset="0.156" stop-color="#8ca8cf"/><stop offset="0.344" stop-color="#b5c6e1"/><stop offset="0.599" stop-color="#ced9ec"/><stop offset="1" stop-color="#dfe6f3"/></linearGradient><linearGradient id="h74" x1="485" x2="819.1" gradientUnits="userSpaceOnUse"><stop offset="0" stop-color="#ffffff"/><stop offset="0.012" stop-color="#ffffff"/><stop offset="0.015" stop-color="#4e75b3"/><stop offset="0.078" stop-color="#6f90c2"/><stop offset="0.156" stop-color="#8ca8cf"/><stop offset="0.344" stop-color="#b5c6e1"/><stop offset="0.599" stop-color="#ced9ec"/><stop offset="1" stop-color="#dfe6f3"/></linearGradient><linearGradient id="h75" x1="485" x2="819.1" gradientUnits="userSpaceOnUse"><stop offset="0" stop-color="#ffffff"/><stop offset="0.012" stop-color="#ffffff"/><stop offset="0.015" stop-color="#4e75b3"/><stop offset="0.078" stop-color="#6f90c2"/><stop offset="0.156" stop-color="#8ca8cf"/><stop offset="0.344" stop-color="#b5c6e1"/><stop offset="0.599" stop-color="#ced9ec"/><stop offset="1" stop-color="#dfe6f3"/></linearGradient><linearGradient id="h76" x1="485" x2="819.1" gradientUnits="userSpaceOnUse"><stop offset="0" stop-color="#ffffff"/><stop offset="0.012" stop-color="#ffffff"/><stop offset="0.015" stop-color="#4e75b3"/><stop offset="0.078" stop-color="#6f90c2"/><stop offset="0.156" stop-color="#8ca8cf"/><stop offset="0.344" stop-color="#b5c6e1"/><stop offset="0.599" stop-color="#ced9ec"/><stop offset="1" stop-color="#dfe6f3"/></linearGradient><linearGradient id="h77" x1="485" x2="819.1" gradientUnits="userSpaceOnUse"><stop offset="0" stop-color="#ffffff"/><stop offset="0.012" stop-color="#ffffff"/><stop offset="0.015" stop-color="#4e75b3"/><stop offset="0.078" stop-color="#6f90c2"/><stop offset="0.156" stop-color="#8ca8cf"/><stop offset="0.344" stop-color="#b5c6e1"/><stop offset="0.599" stop-color="#ced9ec"/><stop offset="1" stop-color="#dfe6f3"/></linearGradient><linearGradient id="h78" x1="485" x2="819.1" gradientUnits="userSpaceOnUse"><stop offset="0" stop-color="#ffffff"/><stop offset="0.012" stop-color="#ffffff"/><stop offset="0.015" stop-color="#4e75b3"/><stop offset="0.078" stop-color="#6f90c2"/><stop offset="0.156" stop-color="#8ca8cf"/><stop offset="0.344" stop-color="#b5c6e1"/><stop offset="0.599" stop-color="#ced9ec"/><stop offset="1" stop-color="#dfe6f3"/></linearGradient><linearGradient id="h79" x1="485" x2="819.1" gradientUnits="userSpaceOnUse"><stop offset="0" stop-color="#ffffff"/><stop offset="0.012" stop-color="#ffffff"/><stop offset="0.015" stop-color="#4e75b3"/><stop offset="0.078" stop-color="#6f90c2"/><stop offset="0.156" stop-color="#8ca8cf"/><stop offset="0.344" stop-color="#b5c6e1"/><stop offset="0.599" stop-color="#ced9ec"/><stop offset="1" stop-color="#dfe6f3"/></linearGradient><linearGradient id="h7a" x1="485" x2="819.1" gradientUnits="userSpaceOnUse"><stop offset="0" stop-color="#ffffff"/><stop offset="0.012" stop-color="#ffffff"/><stop offset="0.015" stop-color="#4e75b3"/><stop offset="0.078" stop-color="#6f90c2"/><stop offset="0.156" stop-color="#8ca8cf"/><stop offset="0.344" stop-color="#b5c6e1"/><stop offset="0.599" stop-color="#ced9ec"/><stop offset="1" stop-color="#dfe6f3"/></linearGradient><linearGradient id="h7b" x1="485" x2="819.1" gradientUnits="userSpaceOnUse"><stop offset="0" stop-color="#ffffff"/><stop offset="0.012" stop-color="#ffffff"/><stop offset="0.015" stop-color="#4e75b3"/><stop offset="0.078" stop-color="#6f90c2"/><stop offset="0.156" stop-color="#8ca8cf"/><stop offset="0.344" stop-color="#b5c6e1"/><stop offset="0.599" stop-color="#ced9ec"/><stop offset="1" stop-color="#dfe6f3"/></linearGradient><linearGradient id="h7c" x1="485" x2="819.1" gradientUnits="userSpaceOnUse"><stop offset="0" stop-color="#ffffff"/><stop offset="0.012" stop-color="#ffffff"/><stop offset="0.015" stop-color="#4e75b3"/><stop offset="0.078" stop-color="#6f90c2"/><stop offset="0.156" stop-color="#8ca8cf"/><stop offset="0.344" stop-color="#b5c6e1"/><stop offset="0.599" stop-color="#ced9ec"/><stop offset="1" stop-color="#dfe6f3"/></linearGradient><linearGradient id="h7d" x1="485" x2="819.1" gradientUnits="userSpaceOnUse"><stop offset="0" stop-color="#ffffff"/><stop offset="0.012" stop-color="#ffffff"/><stop offset="0.015" stop-color="#4e75b3"/><stop offset="0.078" stop-color="#6f90c2"/><stop offset="0.156" stop-color="#8ca8cf"/><stop offset="0.344" stop-color="#b5c6e1"/><stop offset="0.599" stop-color="#ced9ec"/><stop offset="1" stop-color="#dfe6f3"/></linearGradient><linearGradient id="h7e" x1="485" x2="819.1" gradientUnits="userSpaceOnUse"><stop offset="0" stop-color="#ffffff"/><stop offset="0.012" stop-color="#ffffff"/><stop offset="0.015" stop-color="#4e75b3"/><stop offset="0.078" stop-color="#6f90c2"/><stop offset="0.156" stop-color="#8ca8cf"/><stop offset="0.344" stop-color="#b5c6e1"/><stop offset="0.599" stop-color="#ced9ec"/><stop offset="1" stop-color="#dfe6f3"/></linearGradient><linearGradient id="h7f" x1="485" x2="819.1" gradientUnits="userSpaceOnUse"><stop offset="0" stop-color="#ffffff"/><stop offset="0.012" stop-color="#ffffff"/><stop offset="0.015" stop-color="#4e75b3"/><stop offset="0.078" stop-color="#6f90c2"/><stop offset="0.156" stop-color="#8ca8cf"/><stop offset="0.344" stop-color="#b5c6e1"/><stop offset="0.599" stop-color="#ced9ec"/><stop offset="1" stop-color="#dfe6f3"/></linearGradient><linearGradient id="h80" x1="485" x2="819.1" gradientUnits="userSpaceOnUse"><stop offset="0" stop-color="#ffffff"/><stop offset="0.012" stop-color="#ffffff"/><stop offset="0.015" stop-color="#4e75b3"/><stop offset="0.078" stop-color="#6f90c2"/><stop offset="0.156" stop-color="#8ca8cf"/><stop offset="0.344" stop-color="#b5c6e1"/><stop offset="0.599" stop-color="#ced9ec"/><stop offset="1" stop-color="#dfe6f3"/></linearGradient><linearGradient id="h81" x1="485" x2="819.1" gradientUnits="userSpaceOnUse"><stop offset="0" stop-color="#ffffff"/><stop offset="0.012" stop-color="#ffffff"/><stop offset="0.015" stop-color="#4e75b3"/><stop offset="0.018" stop-color="#4e75b3"/><stop offset="0.021" stop-color="#6c8ec0"/><stop offset="0.072" stop-color="#82a0ca"/><stop offset="0.171" stop-color="#a1b8d8"/><stop offset="0.293" stop-color="#b9c9e3"/><stop offset="0.563" stop-color="#d3ddee"/><stop offset="1" stop-color="#e4eaf4"/></linearGradient><linearGradient id="h82" x1="485" x2="819.1" gradientUnits="userSpaceOnUse"><stop offset="0" stop-color="#ffffff"/><stop offset="0.012" stop-color="#ffffff"/><stop offset="0.015" stop-color="#4e75b3"/><stop offset="0.018" stop-color="#4e75b3"/><stop offset="0.021" stop-color="#90abd1"/><stop offset="0.213" stop-color="#bfcee6"/><stop offset="0.503" stop-color="#dae3f1"/><stop offset="1" stop-color="#eaeff7"/></linearGradient><linearGradient id="h83" x1="485" x2="819.1" gradientUnits="userSpaceOnUse"><stop offset="0" stop-color="#ffffff"/><stop offset="0.012" stop-color="#ffffff"/><stop offset="0.015" stop-color="#4e75b3"/><stop offset="0.018" stop-color="#4e75b3"/><stop offset="0.021" stop-color="#90abd1"/><stop offset="0.213" stop-color="#bfcee6"/><stop offset="0.503" stop-color="#dae3f1"/><stop offset="1" stop-color="#eaeff7"/></linearGradient><linearGradient id="h84" x1="485" x2="819.1" gradientUnits="userSpaceOnUse"><stop offset="0" stop-color="#ffffff"/><stop offset="0.012" stop-color="#ffffff"/><stop offset="0.015" stop-color="#4e75b3"/><stop offset="0.018" stop-color="#4e75b3"/><stop offset="0.021" stop-color="#90acd1"/><stop offset="0.213" stop-color="#bfcee6"/><stop offset="0.503" stop-color="#dae3f1"/><stop offset="1" stop-color="#eaeff7"/></linearGradient><linearGradient id="h85" x1="485" x2="819.1" gradientUnits="userSpaceOnUse"><stop offset="0" stop-color="#ffffff"/><stop offset="0.012" stop-color="#ffffff"/><stop offset="0.015" stop-color="#4e75b3"/><stop offset="0.018" stop-color="#4e75b3"/><stop offset="0.021" stop-color="#90acd1"/><stop offset="0.213" stop-color="#bfcee6"/><stop offset="0.503" stop-color="#dbe3f1"/><stop offset="1" stop-color="#eaeff7"/></linearGradient><linearGradient id="h86" x1="485" x2="819.1" gradientUnits="userSpaceOnUse"><stop offset="0" stop-color="#ffffff"/><stop offset="0.012" stop-color="#ffffff"/><stop offset="0.015" stop-color="#4e75b3"/><stop offset="0.018" stop-color="#4e75b3"/><stop offset="0.021" stop-color="#91acd2"/><stop offset="0.21" stop-color="#bfcee6"/><stop offset="0.5" stop-color="#dbe3f1"/><stop offset="1" stop-color="#eaeff7"/></linearGradient><linearGradient id="h87" x1="485" x2="819.1" gradientUnits="userSpaceOnUse"><stop offset="0" stop-color="#ffffff"/><stop offset="0.012" stop-color="#ffffff"/><stop offset="0.015" stop-color="#4e75b3"/><stop offset="0.018" stop-color="#4e75b3"/><stop offset="0.021" stop-color="#92add2"/><stop offset="0.207" stop-color="#bfcee6"/><stop offset="0.5" stop-color="#dbe3f1"/><stop offset="1" stop-color="#ebeff7"/></linearGradient><linearGradient id="h88" x1="485" x2="819.1" gradientUnits="userSpaceOnUse"><stop offset="0" stop-color="#ffffff"/><stop offset="0.012" stop-color="#ffffff"/><stop offset="0.015" stop-color="#f2999a"/><stop offset="0.018" stop-color="#f2999a"/><stop offset="0.021" stop-color="#d0dbed"/><stop offset="0.362" stop-color="#ebeff7"/><stop offset="1" stop-color="#f6f8fc"/></linearGradient><linearGradient id="h89" x1="485" x2="819.1" gradientUnits="userSpaceOnUse"><stop offset="0" stop-color="#ffffff"/><stop offset="0.012" stop-color="#ffffff"/><stop offset="0.015" stop-color="#f2999a"/><stop offset="0.018" stop-color="#f2999a"/><stop offset="0.021" stop-color="#fef5f5"/><stop offset="1" stop-color="#fffdfd"/></linearGradient><linearGradient id="h8a" x1="485" x2="819.1" gradientUnits="userSpaceOnUse"><stop offset="0" stop-color="#ffffff"/><stop offset="0.012" stop-color="#ffffff"/><stop offset="0.015" stop-color="#f2999a"/><stop offset="0.018" stop-color="#f2999a"/><stop offset="0.021" stop-color="#fcecec"/><stop offset="0.284" stop-color="#fef8f8"/><stop offset="1" stop-color="#fffcfc"/></linearGradient><linearGradient id="h8b" x1="485" x2="819.1" gradientUnits="userSpaceOnUse"><stop offset="0" stop-color="#ffffff"/><stop offset="0.012" stop-color="#ffffff"/><stop offset="0.015" stop-color="#f2999a"/><stop offset="0.018" stop-color="#f2999a"/><stop offset="0.021" stop-color="#fbe0e0"/><stop offset="0.087" stop-color="#fce9e9"/><stop offset="0.344" stop-color="#fef4f4"/><stop offset="1" stop-color="#fefafa"/></linearGradient><linearGradient id="h8c" x1="485" x2="819.1" gradientUnits="userSpaceOnUse"><stop offset="0" stop-color="#ffffff"/><stop offset="0.012" stop-color="#ffffff"/><stop offset="0.015" stop-color="#f2999a"/><stop offset="0.018" stop-color="#f2999a"/><stop offset="0.021" stop-color="#f9d6d6"/><stop offset="0.129" stop-color="#fce6e6"/><stop offset="0.383" stop-color="#fdf2f2"/><stop offset="1" stop-color="#fef8f8"/></linearGradient><linearGradient id="h8d" x1="485" x2="819.1" gradientUnits="userSpaceOnUse"><stop offset="0" stop-color="#ffffff"/><stop offset="0.012" stop-color="#ffffff"/><stop offset="0.015" stop-color="#f2999a"/><stop offset="0.018" stop-color="#f2999a"/><stop offset="0.021" stop-color="#f9cfd0"/><stop offset="0.153" stop-color="#fbe4e4"/><stop offset="0.404" stop-color="#fdf0f0"/><stop offset="1" stop-color="#fef6f6"/></linearGradient><linearGradient id="h8e" x1="485" x2="819.1" gradientUnits="userSpaceOnUse"><stop offset="0" stop-color="#ffffff"/><stop offset="0.012" stop-color="#ffffff"/><stop offset="0.015" stop-color="#f2999a"/><stop offset="0.018" stop-color="#f2999a"/><stop offset="0.021" stop-color="#f8cbcc"/><stop offset="0.165" stop-color="#fbe3e3"/><stop offset="0.416" stop-color="#fdefef"/><stop offset="1" stop-color="#fef6f6"/></linearGradient><linearGradient id="h8f" x1="485" x2="819.1" gradientUnits="userSpaceOnUse"><stop offset="0" stop-color="#ffffff"/><stop offset="0.012" stop-color="#ffffff"/><stop offset="0.015" stop-color="#f2999a"/><stop offset="0.018" stop-color="#f2999a"/><stop offset="0.021" stop-color="#f8c9c9"/><stop offset="0.174" stop-color="#fbe2e2"/><stop offset="0.425" stop-color="#fdeeee"/><stop offset="1" stop-color="#fef5f5"/></linearGradient><linearGradient id="h90" x1="485" x2="819.1" gradientUnits="userSpaceOnUse"><stop offset="0" stop-color="#ffffff"/><stop offset="0.012" stop-color="#ffffff"/><stop offset="0.015" stop-color="#f2999a"/><stop offset="0.018" stop-color="#f2999a"/><stop offset="0.021" stop-color="#f7c6c7"/><stop offset="0.183" stop-color="#fbe1e1"/><stop offset="0.431" stop-color="#fdeded"/><stop offset="1" stop-color="#fef5f5"/></linearGradient><linearGradient id="h91" x1="485" x2="819.1" gradientUnits="userSpaceOnUse"><stop offset="0" stop-color="#ffffff"/><stop offset="0.012" stop-color="#ffffff"/><stop offset="0.015" stop-color="#f2999a"/><stop offset="0.018" stop-color="#f2999a"/><stop offset="0.021" stop-color="#f7c4c5"/><stop offset="0.189" stop-color="#fbe1e1"/><stop offset="0.437" stop-color="#fdeded"/><stop offset="1" stop-color="#fef4f4"/></linearGradient><linearGradient id="h92" x1="485" x2="819.1" gradientUnits="userSpaceOnUse"><stop offset="0" stop-color="#ffffff"/><stop offset="0.012" stop-color="#ffffff"/><stop offset="0.015" stop-color="#f2999a"/><stop offset="0.018" stop-color="#f2999a"/><stop offset="0.021" stop-color="#f7c2c3"/><stop offset="0.195" stop-color="#fbe0e0"/><stop offset="0.443" stop-color="#fcecec"/><stop offset="1" stop-color="#fdf4f4"/></linearGradient><linearGradient id="h93" x1="485" x2="819.1" gradientUnits="userSpaceOnUse"><stop offset="0" stop-color="#ffffff"/><stop offset="0.012" stop-color="#ffffff"/><stop offset="0.015" stop-color="#f2999a"/><stop offset="0.018" stop-color="#f2999a"/><stop offset="0.021" stop-color="#f7c0c1"/><stop offset="0.201" stop-color="#fbe0e0"/><stop offset="0.449" stop-color="#fcecec"/><stop offset="1" stop-color="#fdf3f3"/></linearGradient><linearGradient id="h94" x1="485" x2="819.1" gradientUnits="userSpaceOnUse"><stop offset="0" stop-color="#ffffff"/><stop offset="0.012" stop-color="#ffffff"/><stop offset="0.015" stop-color="#f2999a"/><stop offset="0.018" stop-color="#f2999a"/><stop offset="0.021" stop-color="#f6bfbf"/><stop offset="0.204" stop-color="#fbdfdf"/><stop offset="0.452" stop-color="#fcebeb"/><stop offset="1" stop-color="#fdf3f3"/></linearGradient><linearGradient id="h95" x1="485" x2="819.1" gradientUnits="userSpaceOnUse"><stop offset="0" stop-color="#ffffff"/><stop offset="0.012" stop-color="#ffffff"/><stop offset="0.015" stop-color="#f2999a"/><stop offset="0.018" stop-color="#f2999a"/><stop offset="0.021" stop-color="#f6bdbe"/><stop offset="0.099" stop-color="#f9d0d0"/><stop offset="0.21" stop-color="#fbdfdf"/><stop offset="0.458" stop-color="#fcebeb"/><stop offset="1" stop-color="#fdf3f3"/></linearGradient><linearGradient id="h96" x1="485" x2="819.1" gradientUnits="userSpaceOnUse"><stop offset="0" stop-color="#ffffff"/><stop offset="0.012" stop-color="#ffffff"/><stop offset="0.015" stop-color="#f2999a"/><stop offset="0.018" stop-color="#f2999a"/><stop offset="0.021" stop-color="#f6bcbd"/><stop offset="0.102" stop-color="#f9d0d0"/><stop offset="0.213" stop-color="#fbdfdf"/><stop offset="0.458" stop-color="#fcebeb"/><stop offset="1" stop-color="#fdf3f3"/></linearGradient><linearGradient id="h97" x1="485" x2="819.1" gradientUnits="userSpaceOnUse"><stop offset="0" stop-color="#ffffff"/><stop offset="0.012" stop-color="#ffffff"/><stop offset="0.015" stop-color="#f2999a"/><stop offset="0.018" stop-color="#f2999a"/><stop offset="0.021" stop-color="#f6bbbc"/><stop offset="0.102" stop-color="#f9cfd0"/><stop offset="0.213" stop-color="#fbdede"/><stop offset="0.458" stop-color="#fceaea"/><stop offset="1" stop-color="#fdf3f3"/></linearGradient><linearGradient id="h98" x1="485" x2="819.1" gradientUnits="userSpaceOnUse"><stop offset="0" stop-color="#ffffff"/><stop offset="0.012" stop-color="#ffffff"/><stop offset="0.015" stop-color="#f2999a"/><stop offset="0.018" stop-color="#f2999a"/><stop offset="0.021" stop-color="#f6bbbb"/><stop offset="0.102" stop-color="#f9cfcf"/><stop offset="0.216" stop-color="#fbdede"/><stop offset="0.461" stop-color="#fceaea"/><stop offset="1" stop-color="#fdf2f2"/></linearGradient><linearGradient id="h99" x1="485" x2="819.1" gradientUnits="userSpaceOnUse"><stop offset="0" stop-color="#ffffff"/><stop offset="0.012" stop-color="#ffffff"/><stop offset="0.015" stop-color="#f2999a"/><stop offset="0.018" stop-color="#f2999a"/><stop offset="0.021" stop-color="#f6bbbc"/><stop offset="0.102" stop-color="#f9cfcf"/><stop offset="0.216" stop-color="#fbdede"/><stop offset="0.461" stop-color="#fceaea"/><stop offset="1" stop-color="#fdf2f2"/></linearGradient><linearGradient id="h9a" x1="485" x2="819.1" gradientUnits="userSpaceOnUse"><stop offset="0" stop-color="#ffffff"/><stop offset="0.012" stop-color="#ffffff"/><stop offset="0.015" stop-color="#f2999a"/><stop offset="0.018" stop-color="#f2999a"/><stop offset="0.021" stop-color="#f6bbbc"/><stop offset="0.102" stop-color="#f9cfd0"/><stop offset="0.213" stop-color="#fbdede"/><stop offset="0.458" stop-color="#fceaea"/><stop offset="1" stop-color="#fdf3f3"/></linearGradient><linearGradient id="h9b" x1="485" x2="819.1" gradientUnits="userSpaceOnUse"><stop offset="0" stop-color="#ffffff"/><stop offset="0.012" stop-color="#ffffff"/><stop offset="0.015" stop-color="#f2999a"/><stop offset="0.018" stop-color="#f2999a"/><stop offset="0.021" stop-color="#f6bcbd"/><stop offset="0.099" stop-color="#f9d0d0"/><stop offset="0.21" stop-color="#fbdfdf"/><stop offset="0.458" stop-color="#fcebeb"/><stop offset="1" stop-color="#fdf3f3"/></linearGradient><linearGradient id="h9c" x1="485" x2="819.1" gradientUnits="userSpaceOnUse"><stop offset="0" stop-color="#ffffff"/><stop offset="0.012" stop-color="#ffffff"/><stop offset="0.015" stop-color="#f2999a"/><stop offset="0.018" stop-color="#f2999a"/><stop offset="0.021" stop-color="#f6bebe"/><stop offset="0.207" stop-color="#fbdfdf"/><stop offset="0.455" stop-color="#fcebeb"/><stop offset="1" stop-color="#fdf3f3"/></linearGradient><linearGradient id="h9d" x1="485" x2="819.1" gradientUnits="userSpaceOnUse"><stop offset="0" stop-color="#ffffff"/><stop offset="0.012" stop-color="#ffffff"/><stop offset="0.015" stop-color="#f2999a"/><stop offset="0.018" stop-color="#f2999a"/><stop offset="0.021" stop-color="#f7c0c0"/><stop offset="0.201" stop-color="#fbe0e0"/><stop offset="0.449" stop-color="#fcecec"/><stop offset="1" stop-color="#fdf3f3"/></linearGradient><linearGradient id="h9e" x1="485" x2="819.1" gradientUnits="userSpaceOnUse"><stop offset="0" stop-color="#ffffff"/><stop offset="0.012" stop-color="#ffffff"/><stop offset="0.015" stop-color="#f2999a"/><stop offset="0.018" stop-color="#f2999a"/><stop offset="0.021" stop-color="#f7c2c3"/><stop offset="0.195" stop-color="#fbe0e0"/><stop offset="0.443" stop-color="#fcecec"/><stop offset="1" stop-color="#fdf4f4"/></linearGradient><linearGradient id="h9f" x1="485" x2="819.1" gradientUnits="userSpaceOnUse"><stop offset="0" stop-color="#ffffff"/><stop offset="0.012" stop-color="#ffffff"/><stop offset="0.015" stop-color="#f2999a"/><stop offset="0.018" stop-color="#f2999a"/><stop offset="0.021" stop-color="#f7c5c6"/><stop offset="0.186" stop-color="#fbe1e1"/><stop offset="0.434" stop-color="#fdeded"/><stop offset="1" stop-color="#fef4f4"/></linearGradient><linearGradient id="ha0" x1="485" x2="819.1" gradientUnits="userSpaceOnUse"><stop offset="0" stop-color="#ffffff"/><stop offset="0.012" stop-color="#ffffff"/><stop offset="0.015" stop-color="#f2999a"/><stop offset="0.018" stop-color="#f2999a"/><stop offset="0.021" stop-color="#f8c9c9"/><stop offset="0.174" stop-color="#fbe2e2"/><stop offset="0.425" stop-color="#fdeeee"/><stop offset="1" stop-color="#fef5f5"/></linearGradient><linearGradient id="ha1" x1="485" x2="819.1" gradientUnits="userSpaceOnUse"><stop offset="0" stop-color="#ffffff"/><stop offset="0.012" stop-color="#ffffff"/><stop offset="0.015" stop-color="#f2999a"/><stop offset="0.018" stop-color="#f2999a"/><stop offset="0.021" stop-color="#f8cdcd"/><stop offset="0.159" stop-color="#fbe3e3"/><stop offset="0.41" stop-color="#fdefef"/><stop offset="1" stop-color="#fef6f6"/></linearGradient><linearGradient id="ha2" x1="485" x2="819.1" gradientUnits="userSpaceOnUse"><stop offset="0" stop-color="#ffffff"/><stop offset="0.012" stop-color="#ffffff"/><stop offset="0.015" stop-color="#f2999a"/><stop offset="0.018" stop-color="#f2999a"/><stop offset="0.021" stop-color="#f9d2d2"/><stop offset="0.144" stop-color="#fbe5e5"/><stop offset="0.395" stop-color="#fdf1f1"/><stop offset="1" stop-color="#fef7f7"/></linearGradient><linearGradient id="ha3" x1="485" x2="819.1" gradientUnits="userSpaceOnUse"><stop offset="0" stop-color="#ffffff"/><stop offset="0.012" stop-color="#ffffff"/><stop offset="0.015" stop-color="#f2999a"/><stop offset="0.018" stop-color="#f2999a"/><stop offset="0.021" stop-color="#fad7d7"/><stop offset="0.123" stop-color="#fce6e6"/><stop offset="0.377" stop-color="#fdf2f2"/><stop offset="1" stop-color="#fef8f8"/></linearGradient><linearGradient id="ha4" x1="485" x2="819.1" gradientUnits="userSpaceOnUse"><stop offset="0" stop-color="#ffffff"/><stop offset="0.012" stop-color="#ffffff"/><stop offset="0.015" stop-color="#f2999a"/><stop offset="0.018" stop-color="#f2999a"/><stop offset="0.021" stop-color="#fadddd"/><stop offset="0.102" stop-color="#fce8e8"/><stop offset="0.359" stop-color="#fdf4f4"/><stop offset="1" stop-color="#fef9f9"/></linearGradient><linearGradient id="ha5" x1="485" x2="819.1" gradientUnits="userSpaceOnUse"><stop offset="0" stop-color="#ffffff"/><stop offset="0.012" stop-color="#ffffff"/><stop offset="0.015" stop-color="#f2999a"/><stop offset="0.018" stop-color="#f2999a"/><stop offset="0.021" stop-color="#fbe4e4"/><stop offset="0.072" stop-color="#fceaea"/><stop offset="0.332" stop-color="#fef6f6"/><stop offset="1" stop-color="#fefbfb"/></linearGradient><linearGradient id="ha6" x1="485" x2="819.1" gradientUnits="userSpaceOnUse"><stop offset="0" stop-color="#ffffff"/><stop offset="0.012" stop-color="#ffffff"/><stop offset="0.015" stop-color="#f2999a"/><stop offset="0.018" stop-color="#f2999a"/><stop offset="0.021" stop-color="#fceaea"/><stop offset="0.042" stop-color="#fcecec"/><stop offset="0.302" stop-color="#fef9f9"/><stop offset="1" stop-color="#fffefe"/></linearGradient><linearGradient id="ha7" x1="485" x2="819.1" gradientUnits="userSpaceOnUse"><stop offset="0" stop-color="#ffffff"/><stop offset="0.012" stop-color="#ffffff"/><stop offset="0.015" stop-color="#f2999a"/><stop offset="0.018" stop-color="#f2999a"/><stop offset="0.021" stop-color="#fdf1f1"/><stop offset="0.359" stop-color="#fffefe"/><stop offset="1" stop-color="#fcfdfe"/></linearGradient><linearGradient id="ha8" x1="485" x2="819.1" gradientUnits="userSpaceOnUse"><stop offset="0" stop-color="#ffffff"/><stop offset="0.012" stop-color="#ffffff"/><stop offset="0.015" stop-color="#f2999a"/><stop offset="0.018" stop-color="#f2999a"/><stop offset="0.021" stop-color="#fefafa"/><stop offset="0.12" stop-color="#ffffff"/><stop offset="1" stop-color="#f4f7fb"/></linearGradient><linearGradient id="ha9" x1="485" x2="819.1" gradientUnits="userSpaceOnUse"><stop offset="0" stop-color="#ffffff"/><stop offset="0.012" stop-color="#ffffff"/><stop offset="0.015" stop-color="#f2999a"/><stop offset="0.018" stop-color="#f2999a"/><stop offset="0.021" stop-color="#fbfcfd"/><stop offset="1" stop-color="#ebeff7"/></linearGradient><linearGradient id="haa" x1="485" x2="819.1" gradientUnits="userSpaceOnUse"><stop offset="0" stop-color="#ffffff"/><stop offset="0.012" stop-color="#ffffff"/><stop offset="0.015" stop-color="#f2999a"/><stop offset="0.018" stop-color="#f2999a"/><stop offset="0.021" stop-color="#f1f4fa"/><stop offset="1" stop-color="#e2e9f4"/></linearGradient><linearGradient id="hab" x1="485" x2="819.1" gradientUnits="userSpaceOnUse"><stop offset="0" stop-color="#ffffff"/><stop offset="0.012" stop-color="#ffffff"/><stop offset="0.015" stop-color="#f2999a"/><stop offset="0.018" stop-color="#f2999a"/><stop offset="0.021" stop-color="#ebf0f7"/><stop offset="1" stop-color="#dde4f2"/></linearGradient><linearGradient id="hac" x1="485" x2="819.1" gradientUnits="userSpaceOnUse"><stop offset="0" stop-color="#ffffff"/><stop offset="0.012" stop-color="#ffffff"/><stop offset="0.015" stop-color="#f2999a"/><stop offset="0.018" stop-color="#f2999a"/><stop offset="0.021" stop-color="#e7edf6"/><stop offset="1" stop-color="#dae2f1"/></linearGradient><linearGradient id="had" x1="485" x2="819.1" gradientUnits="userSpaceOnUse"><stop offset="0" stop-color="#ffffff"/><stop offset="0.012" stop-color="#ffffff"/><stop offset="0.015" stop-color="#f2999a"/><stop offset="0.018" stop-color="#f2999a"/><stop offset="0.021" stop-color="#e5ebf5"/><stop offset="1" stop-color="#d8e1f0"/></linearGradient><linearGradient id="hae" x1="485" x2="819.1" gradientUnits="userSpaceOnUse"><stop offset="0" stop-color="#ffffff"/><stop offset="0.012" stop-color="#ffffff"/><stop offset="0.015" stop-color="#f2999a"/><stop offset="0.018" stop-color="#f2999a"/><stop offset="0.021" stop-color="#e3e9f4"/><stop offset="1" stop-color="#d7e0ef"/></linearGradient><linearGradient id="haf" x1="485" x2="819.1" gradientUnits="userSpaceOnUse"><stop offset="0" stop-color="#ffffff"/><stop offset="0.012" stop-color="#ffffff"/><stop offset="0.015" stop-color="#f2999a"/><stop offset="0.018" stop-color="#f2999a"/><stop offset="0.021" stop-color="#e2e8f4"/><stop offset="1" stop-color="#d6dfef"/></linearGradient><linearGradient id="hb0" x1="485" x2="819.1" gradientUnits="userSpaceOnUse"><stop offset="0" stop-color="#ffffff"/><stop offset="0.012" stop-color="#ffffff"/><stop offset="0.015" stop-color="#f2999a"/><stop offset="0.018" stop-color="#f2999a"/><stop offset="0.021" stop-color="#e0e7f3"/><stop offset="1" stop-color="#d3ddee"/></linearGradient><linearGradient id="hb1" x1="485" x2="819.1" gradientUnits="userSpaceOnUse"><stop offset="0" stop-color="#ffffff"/><stop offset="0.012" stop-color="#ffffff"/><stop offset="0.015" stop-color="#f2999a"/><stop offset="0.018" stop-color="#f2999a"/><stop offset="0.021" stop-color="#dee5f2"/><stop offset="1" stop-color="#d1dbed"/></linearGradient><linearGradient id="hb2" x1="485" x2="819.1" gradientUnits="userSpaceOnUse"><stop offset="0" stop-color="#ffffff"/><stop offset="0.012" stop-color="#ffffff"/><stop offset="0.015" stop-color="#f2999a"/><stop offset="0.018" stop-color="#f2999a"/><stop offset="0.021" stop-color="#dce4f1"/><stop offset="1" stop-color="#cfdaec"/></linearGradient><linearGradient id="hb3" x1="485" x2="819.1" gradientUnits="userSpaceOnUse"><stop offset="0" stop-color="#ffffff"/><stop offset="0.012" stop-color="#ffffff"/><stop offset="0.015" stop-color="#f2999a"/><stop offset="0.018" stop-color="#f2999a"/><stop offset="0.021" stop-color="#dbe3f1"/><stop offset="1" stop-color="#ced9ec"/></linearGradient><linearGradient id="hb4" x1="485" x2="819.1" gradientUnits="userSpaceOnUse"><stop offset="0" stop-color="#ffffff"/><stop offset="0.012" stop-color="#ffffff"/><stop offset="0.015" stop-color="#f2999a"/><stop offset="0.018" stop-color="#f2999a"/><stop offset="0.021" stop-color="#dbe3f1"/><stop offset="1" stop-color="#ced9ec"/></linearGradient><linearGradient id="hb5" x1="485" x2="819.1" gradientUnits="userSpaceOnUse"><stop offset="0" stop-color="#ffffff"/><stop offset="0.012" stop-color="#ffffff"/><stop offset="0.015" stop-color="#f2999a"/><stop offset="0.018" stop-color="#f2999a"/><stop offset="0.021" stop-color="#dae3f1"/><stop offset="1" stop-color="#ced9ec"/></linearGradient><linearGradient id="hb6" x1="485" x2="819.1" gradientUnits="userSpaceOnUse"><stop offset="0" stop-color="#ffffff"/><stop offset="0.012" stop-color="#ffffff"/><stop offset="0.015" stop-color="#f2999a"/><stop offset="0.018" stop-color="#f2999a"/><stop offset="0.021" stop-color="#dae3f1"/><stop offset="1" stop-color="#cdd8ec"/></linearGradient><linearGradient id="hb7" x1="859.6" x2="1194.2" gradientUnits="userSpaceOnUse"><stop offset="0" stop-color="#ffffff"/><stop offset="0.012" stop-color="#ffffff"/><stop offset="0.015" stop-color="#fadcdc"/><stop offset="0.018" stop-color="#fadcdc"/><stop offset="0.021" stop-color="#fef9f9"/><stop offset="0.054" stop-color="#fceded"/><stop offset="1" stop-color="#fef4f4"/></linearGradient><linearGradient id="hb8" x1="859.6" x2="1194.2" gradientUnits="userSpaceOnUse"><stop offset="0" stop-color="#ffffff"/><stop offset="0.012" stop-color="#ffffff"/><stop offset="0.015" stop-color="#fadcdc"/><stop offset="0.018" stop-color="#fadcdc"/><stop offset="0.021" stop-color="#fef9f9"/><stop offset="0.054" stop-color="#fdeded"/><stop offset="1" stop-color="#fef5f5"/></linearGradient><linearGradient id="hb9" x1="859.6" x2="1194.2" gradientUnits="userSpaceOnUse"><stop offset="0" stop-color="#ffffff"/><stop offset="0.012" stop-color="#ffffff"/><stop offset="0.015" stop-color="#fadcdc"/><stop offset="0.018" stop-color="#fadcdc"/><stop offset="0.021" stop-color="#fefafa"/><stop offset="0.054" stop-color="#fdeeee"/><stop offset="1" stop-color="#fef5f5"/></linearGradient><linearGradient id="hba" x1="859.6" x2="1194.2" gradientUnits="userSpaceOnUse"><stop offset="0" stop-color="#ffffff"/><stop offset="0.012" stop-color="#ffffff"/><stop offset="0.015" stop-color="#fadcdc"/><stop offset="0.018" stop-color="#fadcdc"/><stop offset="0.021" stop-color="#fefafa"/><stop offset="0.054" stop-color="#fdefef"/><stop offset="1" stop-color="#fef6f6"/></linearGradient><linearGradient id="hbb" x1="859.6" x2="1194.2" gradientUnits="userSpaceOnUse"><stop offset="0" stop-color="#ffffff"/><stop offset="0.012" stop-color="#ffffff"/><stop offset="0.015" stop-color="#fadcdc"/><stop offset="0.018" stop-color="#fadcdc"/><stop offset="0.021" stop-color="#fefafa"/><stop offset="0.054" stop-color="#fdf0f0"/><stop offset="1" stop-color="#fef6f6"/></linearGradient><linearGradient id="hbc" x1="859.6" x2="1194.2" gradientUnits="userSpaceOnUse"><stop offset="0" stop-color="#ffffff"/><stop offset="0.012" stop-color="#ffffff"/><stop offset="0.015" stop-color="#fadcdc"/><stop offset="0.018" stop-color="#fadcdc"/><stop offset="0.021" stop-color="#fefbfb"/><stop offset="0.054" stop-color="#fdf1f1"/><stop offset="1" stop-color="#fef7f7"/></linearGradient><linearGradient id="hbd" x1="859.6" x2="1194.2" gradientUnits="userSpaceOnUse"><stop offset="0" stop-color="#ffffff"/><stop offset="0.012" stop-color="#ffffff"/><stop offset="0.015" stop-color="#fadcdc"/><stop offset="0.018" stop-color="#fadcdc"/><stop offset="0.021" stop-color="#fefbfb"/><stop offset="0.054" stop-color="#fdf3f3"/><stop offset="1" stop-color="#fef8f8"/></linearGradient><linearGradient id="hbe" x1="859.6" x2="1194.2" gradientUnits="userSpaceOnUse"><stop offset="0" stop-color="#ffffff"/><stop offset="0.012" stop-color="#ffffff"/><stop offset="0.015" stop-color="#fadcdc"/><stop offset="0.018" stop-color="#fadcdc"/><stop offset="0.021" stop-color="#fffcfc"/><stop offset="0.054" stop-color="#fef4f4"/><stop offset="1" stop-color="#fef9f9"/></linearGradient><linearGradient id="hbf" x1="859.6" x2="1194.2" gradientUnits="userSpaceOnUse"><stop offset="0" stop-color="#ffffff"/><stop offset="0.012" stop-color="#ffffff"/><stop offset="0.015" stop-color="#fadcdc"/><stop offset="0.018" stop-color="#fadcdc"/><stop offset="0.021" stop-color="#fffcfc"/><stop offset="0.054" stop-color="#fef6f6"/><stop offset="1" stop-color="#fefafa"/></linearGradient><linearGradient id="hc0" x1="859.6" x2="1194.2" gradientUnits="userSpaceOnUse"><stop offset="0" stop-color="#ffffff"/><stop offset="0.012" stop-color="#ffffff"/><stop offset="0.015" stop-color="#fadcdc"/><stop offset="0.018" stop-color="#fadcdc"/><stop offset="0.021" stop-color="#fffdfd"/><stop offset="0.054" stop-color="#fef7f7"/><stop offset="1" stop-color="#fefafa"/></linearGradient><linearGradient id="hc1" x1="859.6" x2="1194.2" gradientUnits="userSpaceOnUse"><stop offset="0" stop-color="#ffffff"/><stop offset="0.012" stop-color="#ffffff"/><stop offset="0.015" stop-color="#fadcdc"/><stop offset="0.018" stop-color="#fadcdc"/><stop offset="0.021" stop-color="#fffdfd"/><stop offset="1" stop-color="#fefbfb"/></linearGradient><linearGradient id="hc2" x1="859.6" x2="1194.2" gradientUnits="userSpaceOnUse"><stop offset="0" stop-color="#ffffff"/><stop offset="0.012" stop-color="#ffffff"/><stop offset="0.015" stop-color="#fadcdc"/><stop offset="0.018" stop-color="#fadcdc"/><stop offset="0.021" stop-color="#fffdfd"/><stop offset="1" stop-color="#fffcfc"/></linearGradient><linearGradient id="hc3" x1="859.6" x2="1194.2" gradientUnits="userSpaceOnUse"><stop offset="0" stop-color="#ffffff"/><stop offset="0.012" stop-color="#ffffff"/><stop offset="0.015" stop-color="#fadcdc"/><stop offset="0.018" stop-color="#fadcdc"/><stop offset="0.021" stop-color="#feffff"/><stop offset="1" stop-color="#fffefe"/></linearGradient><linearGradient id="hc4" x1="859.6" x2="1194.2" gradientUnits="userSpaceOnUse"><stop offset="0" stop-color="#ffffff"/><stop offset="0.012" stop-color="#ffffff"/><stop offset="0.015" stop-color="#fadcdc"/><stop offset="0.018" stop-color="#fadcdc"/><stop offset="0.021" stop-color="#fafbfd"/><stop offset="0.054" stop-color="#eff3f9"/><stop offset="1" stop-color="#fcfdfe"/></linearGradient><linearGradient id="hc5" x1="859.6" x2="1194.2" gradientUnits="userSpaceOnUse"><stop offset="0" stop-color="#ffffff"/><stop offset="0.012" stop-color="#ffffff"/><stop offset="0.015" stop-color="#fadcdc"/><stop offset="0.018" stop-color="#fadcdc"/><stop offset="0.021" stop-color="#f7f9fc"/><stop offset="0.054" stop-color="#e7edf6"/><stop offset="0.347" stop-color="#f2f5fa"/><stop offset="1" stop-color="#fafbfd"/></linearGradient><linearGradient id="hc6" x1="859.6" x2="1194.2" gradientUnits="userSpaceOnUse"><stop offset="0" stop-color="#ffffff"/><stop offset="0.012" stop-color="#ffffff"/><stop offset="0.015" stop-color="#fadcdc"/><stop offset="0.018" stop-color="#fadcdc"/><stop offset="0.021" stop-color="#f6f8fb"/><stop offset="0.054" stop-color="#e4eaf4"/><stop offset="0.347" stop-color="#f0f3f9"/><stop offset="1" stop-color="#f9fafd"/></linearGradient><linearGradient id="hc7" x1="859.6" x2="1194.2" gradientUnits="userSpaceOnUse"><stop offset="0" stop-color="#ffffff"/><stop offset="0.012" stop-color="#ffffff"/><stop offset="0.015" stop-color="#4e75b3"/><stop offset="0.018" stop-color="#4e75b3"/><stop offset="0.021" stop-color="#f5f7fb"/><stop offset="0.033" stop-color="#f3f5fa"/><stop offset="0.054" stop-color="#e1e8f3"/><stop offset="0.35" stop-color="#eef2f9"/><stop offset="1" stop-color="#f8f9fc"/></linearGradient><linearGradient id="hc8" x1="859.6" x2="1194.2" gradientUnits="userSpaceOnUse"><stop offset="0" stop-color="#ffffff"/><stop offset="0.012" stop-color="#ffffff"/><stop offset="0.015" stop-color="#4e75b3"/><stop offset="0.018" stop-color="#4e75b3"/><stop offset="0.021" stop-color="#f4f6fb"/><stop offset="0.033" stop-color="#f2f5fa"/><stop offset="0.054" stop-color="#dee5f2"/><stop offset="0.35" stop-color="#edf1f8"/><stop offset="1" stop-color="#f7f9fc"/></linearGradient><linearGradient id="hc9" x1="859.6" x2="1194.2" gradientUnits="userSpaceOnUse"><stop offset="0" stop-color="#ffffff"/><stop offset="0.012" stop-color="#ffffff"/><stop offset="0.015" stop-color="#4e75b3"/><stop offset="0.018" stop-color="#4e75b3"/><stop offset="0.021" stop-color="#f3f6fa"/><stop offset="0.033" stop-color="#f0f4f9"/><stop offset="0.054" stop-color="#dbe3f1"/><stop offset="0.35" stop-color="#ebeff7"/><stop offset="1" stop-color="#f6f8fb"/></linearGradient><linearGradient id="hca" x1="859.6" x2="1194.2" gradientUnits="userSpaceOnUse"><stop offset="0" stop-color="#ffffff"/><stop offset="0.012" stop-color="#ffffff"/><stop offset="0.015" stop-color="#4e75b3"/><stop offset="0.018" stop-color="#4e75b3"/><stop offset="0.021" stop-color="#f0f3f9"/><stop offset="0.033" stop-color="#edf1f8"/><stop offset="0.054" stop-color="#d1dced"/><stop offset="0.35" stop-color="#e5ebf5"/><stop offset="1" stop-color="#f3f6fa"/></linearGradient><linearGradient id="hcb" x1="859.6" x2="1194.2" gradientUnits="userSpaceOnUse"><stop offset="0" stop-color="#ffffff"/><stop offset="0.012" stop-color="#ffffff"/><stop offset="0.015" stop-color="#4e75b3"/><stop offset="0.018" stop-color="#4e75b3"/><stop offset="0.021" stop-color="#ecf0f8"/><stop offset="0.033" stop-color="#e8edf6"/><stop offset="0.054" stop-color="#c6d3e9"/><stop offset="0.35" stop-color="#dfe6f3"/><stop offset="1" stop-color="#f0f3f9"/></linearGradient><linearGradient id="hcc" x1="859.6" x2="1194.2" gradientUnits="userSpaceOnUse"><stop offset="0" stop-color="#ffffff"/><stop offset="0.012" stop-color="#ffffff"/><stop offset="0.015" stop-color="#4e75b3"/><stop offset="0.018" stop-color="#4e75b3"/><stop offset="0.021" stop-color="#ebeff7"/><stop offset="0.033" stop-color="#e7ecf6"/><stop offset="0.054" stop-color="#c3d1e7"/><stop offset="0.35" stop-color="#dde5f2"/><stop offset="1" stop-color="#eff3f9"/></linearGradient><linearGradient id="hcd" x1="859.6" x2="1194.2" gradientUnits="userSpaceOnUse"><stop offset="0" stop-color="#ffffff"/><stop offset="0.012" stop-color="#ffffff"/><stop offset="0.015" stop-color="#4e75b3"/><stop offset="0.018" stop-color="#4e75b3"/><stop offset="0.021" stop-color="#eaeff7"/><stop offset="0.033" stop-color="#e6ebf5"/><stop offset="0.054" stop-color="#c0cfe6"/><stop offset="0.35" stop-color="#dce4f1"/><stop offset="1" stop-color="#eff2f9"/></linearGradient><linearGradient id="hce" x1="859.6" x2="1194.2" gradientUnits="userSpaceOnUse"><stop offset="0" stop-color="#ffffff"/><stop offset="0.012" stop-color="#ffffff"/><stop offset="0.015" stop-color="#4e75b3"/><stop offset="0.018" stop-color="#4e75b3"/><stop offset="0.021" stop-color="#e9eef6"/><stop offset="0.033" stop-color="#e5ebf5"/><stop offset="0.054" stop-color="#becde5"/><stop offset="0.35" stop-color="#dae2f1"/><stop offset="1" stop-color="#eef2f8"/></linearGradient><linearGradient id="hcf" x1="859.6" x2="1194.2" gradientUnits="userSpaceOnUse"><stop offset="0" stop-color="#ffffff"/><stop offset="0.012" stop-color="#ffffff"/><stop offset="0.015" stop-color="#4e75b3"/><stop offset="0.018" stop-color="#4e75b3"/><stop offset="0.021" stop-color="#e8edf6"/><stop offset="0.033" stop-color="#e4eaf4"/><stop offset="0.054" stop-color="#bbcbe4"/><stop offset="0.35" stop-color="#d9e1f0"/><stop offset="1" stop-color="#edf1f8"/></linearGradient><linearGradient id="hd0" x1="859.6" x2="1194.2" gradientUnits="userSpaceOnUse"><stop offset="0" stop-color="#ffffff"/><stop offset="0.012" stop-color="#ffffff"/><stop offset="0.015" stop-color="#4e75b3"/><stop offset="0.018" stop-color="#4e75b3"/><stop offset="0.021" stop-color="#e3e9f4"/><stop offset="0.033" stop-color="#dde5f2"/><stop offset="0.045" stop-color="#bbcae4"/><stop offset="0.054" stop-color="#abbfdd"/><stop offset="0.176" stop-color="#c0cfe6"/><stop offset="0.35" stop-color="#d0daed"/><stop offset="1" stop-color="#e9eef6"/></linearGradient><linearGradient id="hd1" x1="859.6" x2="1194.2" gradientUnits="userSpaceOnUse"><stop offset="0" stop-color="#ffffff"/><stop offset="0.012" stop-color="#ffffff"/><stop offset="0.015" stop-color="#4e75b3"/><stop offset="0.018" stop-color="#4e75b3"/><stop offset="0.021" stop-color="#d4deee"/><stop offset="0.033" stop-color="#ccd7eb"/><stop offset="0.045" stop-color="#97b1d4"/><stop offset="0.054" stop-color="#7f9dc9"/><stop offset="0.176" stop-color="#a0b7d8"/><stop offset="0.353" stop-color="#b8c8e2"/><stop offset="1" stop-color="#dee5f2"/></linearGradient><linearGradient id="hd2" x1="859.6" x2="1194.2" gradientUnits="userSpaceOnUse"><stop offset="0" stop-color="#ffffff"/><stop offset="0.012" stop-color="#ffffff"/><stop offset="0.015" stop-color="#4e75b3"/><stop offset="0.018" stop-color="#4e75b3"/><stop offset="0.021" stop-color="#d4deee"/><stop offset="0.033" stop-color="#ccd7eb"/><stop offset="0.045" stop-color="#97b1d4"/><stop offset="0.054" stop-color="#7f9dc9"/><stop offset="0.176" stop-color="#9fb7d8"/><stop offset="0.353" stop-color="#b8c8e2"/><stop offset="1" stop-color="#dee5f2"/></linearGradient><linearGradient id="hd3" x1="859.6" x2="1194.2" gradientUnits="userSpaceOnUse"><stop offset="0" stop-color="#ffffff"/><stop offset="0.012" stop-color="#ffffff"/><stop offset="0.015" stop-color="#4e75b3"/><stop offset="0.018" stop-color="#4e75b3"/><stop offset="0.021" stop-color="#d4deee"/><stop offset="0.033" stop-color="#ccd7eb"/><stop offset="0.045" stop-color="#97b1d4"/><stop offset="0.054" stop-color="#7f9dc9"/><stop offset="0.176" stop-color="#9fb7d8"/><stop offset="0.353" stop-color="#b8c8e2"/><stop offset="1" stop-color="#dee5f2"/></linearGradient><linearGradient id="hd4" x1="859.6" x2="1194.2" gradientUnits="userSpaceOnUse"><stop offset="0" stop-color="#ffffff"/><stop offset="0.012" stop-color="#ffffff"/><stop offset="0.015" stop-color="#4e75b3"/><stop offset="0.018" stop-color="#4e75b3"/><stop offset="0.021" stop-color="#d4deee"/><stop offset="0.033" stop-color="#ccd7eb"/><stop offset="0.045" stop-color="#97b1d4"/><stop offset="0.054" stop-color="#7f9dc9"/><stop offset="0.176" stop-color="#9fb7d8"/><stop offset="0.353" stop-color="#b8c8e2"/><stop offset="1" stop-color="#dee5f2"/></linearGradient><linearGradient id="hd5" x1="859.6" x2="1194.2" gradientUnits="userSpaceOnUse"><stop offset="0" stop-color="#ffffff"/><stop offset="0.012" stop-color="#ffffff"/><stop offset="0.015" stop-color="#4e75b3"/><stop offset="0.018" stop-color="#4e75b3"/><stop offset="0.021" stop-color="#d4deee"/><stop offset="0.033" stop-color="#ccd7eb"/><stop offset="0.045" stop-color="#97b1d4"/><stop offset="0.054" stop-color="#7f9dc9"/><stop offset="0.176" stop-color="#9fb7d8"/><stop offset="0.353" stop-color="#b8c8e2"/><stop offset="1" stop-color="#dee5f2"/></linearGradient><linearGradient id="hd6" x1="859.6" x2="1194.2" gradientUnits="userSpaceOnUse"><stop offset="0" stop-color="#ffffff"/><stop offset="0.012" stop-color="#ffffff"/><stop offset="0.015" stop-color="#4e75b3"/><stop offset="0.018" stop-color="#4e75b3"/><stop offset="0.021" stop-color="#d4deee"/><stop offset="0.033" stop-color="#ccd7eb"/><stop offset="0.045" stop-color="#97b1d4"/><stop offset="0.054" stop-color="#7f9dc9"/><stop offset="0.176" stop-color="#9fb7d8"/><stop offset="0.353" stop-color="#b7c8e2"/><stop offset="1" stop-color="#dee5f2"/></linearGradient><linearGradient id="hd7" x1="859.6" x2="1194.2" gradientUnits="userSpaceOnUse"><stop offset="0" stop-color="#ffffff"/><stop offset="0.012" stop-color="#ffffff"/><stop offset="0.015" stop-color="#4e75b3"/><stop offset="0.018" stop-color="#4e75b3"/><stop offset="0.021" stop-color="#d4deee"/><stop offset="0.033" stop-color="#ccd7eb"/><stop offset="0.045" stop-color="#97b1d4"/><stop offset="0.054" stop-color="#7f9dc9"/><stop offset="0.176" stop-color="#9fb7d8"/><stop offset="0.353" stop-color="#b7c8e2"/><stop offset="1" stop-color="#dee5f2"/></linearGradient><linearGradient id="hd8" x1="859.6" x2="1194.2" gradientUnits="userSpaceOnUse"><stop offset="0" stop-color="#ffffff"/><stop offset="0.012" stop-color="#ffffff"/><stop offset="0.015" stop-color="#4e75b3"/><stop offset="0.018" stop-color="#4e75b3"/><stop offset="0.021" stop-color="#d4deee"/><stop offset="0.033" stop-color="#ccd7eb"/><stop offset="0.045" stop-color="#97b1d4"/><stop offset="0.054" stop-color="#7f9dc9"/><stop offset="0.176" stop-color="#9fb7d8"/><stop offset="0.353" stop-color="#b7c8e2"/><stop offset="1" stop-color="#dee5f2"/></linearGradient><linearGradient id="hd9" x1="859.6" x2="1194.2" gradientUnits="userSpaceOnUse"><stop offset="0" stop-color="#ffffff"/><stop offset="0.012" stop-color="#ffffff"/><stop offset="0.015" stop-color="#4e75b3"/><stop offset="0.018" stop-color="#4e75b3"/><stop offset="0.021" stop-color="#d4deee"/><stop offset="0.033" stop-color="#ccd7eb"/><stop offset="0.045" stop-color="#97b1d4"/><stop offset="0.054" stop-color="#7f9dc9"/><stop offset="0.176" stop-color="#9fb7d8"/><stop offset="0.353" stop-color="#b7c8e2"/><stop offset="1" stop-color="#dee5f2"/></linearGradient><linearGradient id="hda" x1="859.6" x2="1194.2" gradientUnits="userSpaceOnUse"><stop offset="0" stop-color="#ffffff"/><stop offset="0.012" stop-color="#ffffff"/><stop offset="0.015" stop-color="#4e75b3"/><stop offset="0.018" stop-color="#4e75b3"/><stop offset="0.021" stop-color="#d4deee"/><stop offset="0.033" stop-color="#ccd7eb"/><stop offset="0.045" stop-color="#97b1d4"/><stop offset="0.054" stop-color="#7f9dc9"/><stop offset="0.176" stop-color="#9fb7d8"/><stop offset="0.353" stop-color="#b7c8e2"/><stop offset="1" stop-color="#dee5f2"/></linearGradient><linearGradient id="hdb" x1="859.6" x2="1194.2" gradientUnits="userSpaceOnUse"><stop offset="0" stop-color="#ffffff"/><stop offset="0.012" stop-color="#ffffff"/><stop offset="0.015" stop-color="#4e75b3"/><stop offset="0.018" stop-color="#4e75b3"/><stop offset="0.021" stop-color="#d4deee"/><stop offset="0.033" stop-color="#ccd7eb"/><stop offset="0.045" stop-color="#97b1d4"/><stop offset="0.054" stop-color="#7f9dc9"/><stop offset="0.176" stop-color="#9fb7d8"/><stop offset="0.353" stop-color="#b7c8e2"/><stop offset="1" stop-color="#dee5f2"/></linearGradient><linearGradient id="hdc" x1="859.6" x2="1194.2" gradientUnits="userSpaceOnUse"><stop offset="0" stop-color="#ffffff"/><stop offset="0.012" stop-color="#ffffff"/><stop offset="0.015" stop-color="#4e75b3"/><stop offset="0.018" stop-color="#4e75b3"/><stop offset="0.021" stop-color="#d4deee"/><stop offset="0.033" stop-color="#ccd7eb"/><stop offset="0.045" stop-color="#97b1d4"/><stop offset="0.054" stop-color="#7f9dc9"/><stop offset="0.176" stop-color="#9fb7d8"/><stop offset="0.353" stop-color="#b8c8e2"/><stop offset="1" stop-color="#dee5f2"/></linearGradient><linearGradient id="hdd" x1="859.6" x2="1194.2" gradientUnits="userSpaceOnUse"><stop offset="0" stop-color="#ffffff"/><stop offset="0.012" stop-color="#ffffff"/><stop offset="0.015" stop-color="#4e75b3"/><stop offset="0.018" stop-color="#4e75b3"/><stop offset="0.021" stop-color="#d4deee"/><stop offset="0.033" stop-color="#ccd7eb"/><stop offset="0.045" stop-color="#97b1d4"/><stop offset="0.054" stop-color="#7f9dc9"/><stop offset="0.176" stop-color="#a0b7d8"/><stop offset="0.353" stop-color="#b8c8e2"/><stop offset="1" stop-color="#dee5f2"/></linearGradient><linearGradient id="hde" x1="859.6" x2="1194.2" gradientUnits="userSpaceOnUse"><stop offset="0" stop-color="#ffffff"/><stop offset="0.012" stop-color="#ffffff"/><stop offset="0.015" stop-color="#4e75b3"/><stop offset="0.018" stop-color="#4e75b3"/><stop offset="0.021" stop-color="#d4deee"/><stop offset="0.033" stop-color="#ccd7eb"/><stop offset="0.045" stop-color="#97b1d4"/><stop offset="0.054" stop-color="#7f9dc9"/><stop offset="0.176" stop-color="#a0b7d8"/><stop offset="0.353" stop-color="#b8c8e2"/><stop offset="1" stop-color="#dee5f2"/></linearGradient><linearGradient id="hdf" x1="859.6" x2="1194.2" gradientUnits="userSpaceOnUse"><stop offset="0" stop-color="#ffffff"/><stop offset="0.012" stop-color="#ffffff"/><stop offset="0.015" stop-color="#4e75b3"/><stop offset="0.018" stop-color="#4e75b3"/><stop offset="0.021" stop-color="#d4deee"/><stop offset="0.033" stop-color="#ccd7eb"/><stop offset="0.045" stop-color="#97b1d4"/><stop offset="0.054" stop-color="#7f9dc9"/><stop offset="0.176" stop-color="#a0b7d8"/><stop offset="0.353" stop-color="#b8c8e2"/><stop offset="1" stop-color="#dee5f2"/></linearGradient><linearGradient id="he0" x1="859.6" x2="1194.2" gradientUnits="userSpaceOnUse"><stop offset="0" stop-color="#ffffff"/><stop offset="0.012" stop-color="#ffffff"/><stop offset="0.015" stop-color="#4e75b3"/><stop offset="0.018" stop-color="#4e75b3"/><stop offset="0.021" stop-color="#dde5f2"/><stop offset="0.033" stop-color="#d6dfef"/><stop offset="0.045" stop-color="#adc1de"/><stop offset="0.054" stop-color="#9ab3d5"/><stop offset="0.179" stop-color="#b4c6e1"/><stop offset="0.356" stop-color="#c7d3e9"/><stop offset="1" stop-color="#e4eaf5"/></linearGradient><linearGradient id="he1" x1="859.6" x2="1194.2" gradientUnits="userSpaceOnUse"><stop offset="0" stop-color="#ffffff"/><stop offset="0.012" stop-color="#ffffff"/><stop offset="0.015" stop-color="#4e75b3"/><stop offset="0.018" stop-color="#4e75b3"/><stop offset="0.021" stop-color="#f2f5fa"/><stop offset="0.033" stop-color="#f0f3f9"/><stop offset="0.054" stop-color="#dae2f0"/><stop offset="0.353" stop-color="#eaeff7"/><stop offset="1" stop-color="#f5f7fb"/></linearGradient><linearGradient id="he2" x1="859.6" x2="1194.2" gradientUnits="userSpaceOnUse"><stop offset="0" stop-color="#ffffff"/><stop offset="0.012" stop-color="#ffffff"/><stop offset="0.015" stop-color="#4e75b3"/><stop offset="0.018" stop-color="#4e75b3"/><stop offset="0.021" stop-color="#f3f5fa"/><stop offset="0.033" stop-color="#f0f3f9"/><stop offset="0.054" stop-color="#dae2f1"/><stop offset="0.353" stop-color="#eaeff7"/><stop offset="1" stop-color="#f5f7fb"/></linearGradient><linearGradient id="he3" x1="859.6" x2="1194.2" gradientUnits="userSpaceOnUse"><stop offset="0" stop-color="#ffffff"/><stop offset="0.012" stop-color="#ffffff"/><stop offset="0.015" stop-color="#f0898b"/><stop offset="0.018" stop-color="#f0898b"/><stop offset="0.021" stop-color="#f3f5fa"/><stop offset="0.033" stop-color="#f0f3f9"/><stop offset="0.054" stop-color="#dae3f1"/><stop offset="0.353" stop-color="#eaeff7"/><stop offset="1" stop-color="#f5f7fb"/></linearGradient><linearGradient id="he4" x1="859.6" x2="1194.2" gradientUnits="userSpaceOnUse"><stop offset="0" stop-color="#ffffff"/><stop offset="0.012" stop-color="#ffffff"/><stop offset="0.015" stop-color="#f0898b"/><stop offset="0.018" stop-color="#f0898b"/><stop offset="0.021" stop-color="#fcfcfe"/><stop offset="0.054" stop-color="#f5f7fb"/><stop offset="1" stop-color="#fcfdfe"/></linearGradient><linearGradient id="he5" x1="859.6" x2="1194.2" gradientUnits="userSpaceOnUse"><stop offset="0" stop-color="#ffffff"/><stop offset="0.012" stop-color="#ffffff"/><stop offset="0.015" stop-color="#f0898b"/><stop offset="0.018" stop-color="#f0898b"/><stop offset="0.021" stop-color="#fffefe"/><stop offset="1" stop-color="#ffffff"/></linearGradient><linearGradient id="he6" x1="859.6" x2="1194.2" gradientUnits="userSpaceOnUse"><stop offset="0" stop-color="#ffffff"/><stop offset="0.012" stop-color="#ffffff"/><stop offset="0.015" stop-color="#f0898b"/><stop offset="0.018" stop-color="#f0898b"/><stop offset="0.021" stop-color="#fffefe"/><stop offset="1" stop-color="#fffefe"/></linearGradient><linearGradient id="he7" x1="859.6" x2="1194.2" gradientUnits="userSpaceOnUse"><stop offset="0" stop-color="#ffffff"/><stop offset="0.012" stop-color="#ffffff"/><stop offset="0.015" stop-color="#f0898b"/><stop offset="0.018" stop-color="#f0898b"/><stop offset="0.021" stop-color="#fffdfd"/><stop offset="1" stop-color="#fffefe"/></linearGradient><linearGradient id="he8" x1="859.6" x2="1194.2" gradientUnits="userSpaceOnUse"><stop offset="0" stop-color="#ffffff"/><stop offset="0.012" stop-color="#ffffff"/><stop offset="0.015" stop-color="#f0898b"/><stop offset="0.018" stop-color="#f0898b"/><stop offset="0.021" stop-color="#fffcfc"/><stop offset="0.054" stop-color="#fef6f6"/><stop offset="1" stop-color="#fffefe"/></linearGradient><linearGradient id="he9" x1="859.6" x2="1194.2" gradientUnits="userSpaceOnUse"><stop offset="0" stop-color="#ffffff"/><stop offset="0.012" stop-color="#ffffff"/><stop offset="0.015" stop-color="#f0898b"/><stop offset="0.018" stop-color="#f0898b"/><stop offset="0.021" stop-color="#fefafa"/><stop offset="0.054" stop-color="#fdf2f2"/><stop offset="1" stop-color="#fffdfd"/></linearGradient><linearGradient id="hea" x1="859.6" x2="1194.2" gradientUnits="userSpaceOnUse"><stop offset="0" stop-color="#ffffff"/><stop offset="0.012" stop-color="#ffffff"/><stop offset="0.015" stop-color="#f0898b"/><stop offset="0.018" stop-color="#f0898b"/><stop offset="0.021" stop-color="#fef9f9"/><stop offset="0.054" stop-color="#fceded"/><stop offset="0.344" stop-color="#fef7f7"/><stop offset="1" stop-color="#fffcfc"/></linearGradient><linearGradient id="heb" x1="859.6" x2="1194.2" gradientUnits="userSpaceOnUse"><stop offset="0" stop-color="#ffffff"/><stop offset="0.012" stop-color="#ffffff"/><stop offset="0.015" stop-color="#f0898b"/><stop offset="0.018" stop-color="#f0898b"/><stop offset="0.021" stop-color="#fef7f7"/><stop offset="0.054" stop-color="#fce7e7"/><stop offset="0.344" stop-color="#fef5f5"/><stop offset="1" stop-color="#fffbfb"/></linearGradient><linearGradient id="hec" x1="859.6" x2="1194.2" gradientUnits="userSpaceOnUse"><stop offset="0" stop-color="#ffffff"/><stop offset="0.012" stop-color="#ffffff"/><stop offset="0.015" stop-color="#f0898b"/><stop offset="0.018" stop-color="#f0898b"/><stop offset="0.021" stop-color="#fef5f5"/><stop offset="0.033" stop-color="#fdf3f3"/><stop offset="0.054" stop-color="#fbe1e1"/><stop offset="0.344" stop-color="#fdf2f2"/><stop offset="1" stop-color="#fefbfb"/></linearGradient><linearGradient id="hed" x1="859.6" x2="1194.2" gradientUnits="userSpaceOnUse"><stop offset="0" stop-color="#ffffff"/><stop offset="0.012" stop-color="#ffffff"/><stop offset="0.015" stop-color="#f0898b"/><stop offset="0.018" stop-color="#f0898b"/><stop offset="0.021" stop-color="#fdf3f3"/><stop offset="0.033" stop-color="#fdf0f0"/><stop offset="0.054" stop-color="#fadcdc"/><stop offset="0.344" stop-color="#fdf0f0"/><stop offset="1" stop-color="#fefafa"/></linearGradient><linearGradient id="hee" x1="859.6" x2="1194.2" gradientUnits="userSpaceOnUse"><stop offset="0" stop-color="#ffffff"/><stop offset="0.012" stop-color="#ffffff"/><stop offset="0.015" stop-color="#f0898b"/><stop offset="0.018" stop-color="#f0898b"/><stop offset="0.021" stop-color="#fdf1f1"/><stop offset="0.033" stop-color="#fdeeee"/><stop offset="0.054" stop-color="#fad7d7"/><stop offset="0.344" stop-color="#fdeeee"/><stop offset="1" stop-color="#fef9f9"/></linearGradient><linearGradient id="hef" x1="859.6" x2="1194.2" gradientUnits="userSpaceOnUse"><stop offset="0" stop-color="#ffffff"/><stop offset="0.012" stop-color="#ffffff"/><stop offset="0.015" stop-color="#f0898b"/><stop offset="0.018" stop-color="#f0898b"/><stop offset="0.021" stop-color="#fdf0f0"/><stop offset="0.033" stop-color="#fdeded"/><stop offset="0.054" stop-color="#f9d3d3"/><stop offset="0.344" stop-color="#fcecec"/><stop offset="1" stop-color="#fef9f9"/></linearGradient><linearGradient id="hf0" x1="859.6" x2="1194.2" gradientUnits="userSpaceOnUse"><stop offset="0" stop-color="#ffffff"/><stop offset="0.012" stop-color="#ffffff"/><stop offset="0.015" stop-color="#f0898b"/><stop offset="0.018" stop-color="#f0898b"/><stop offset="0.021" stop-color="#fdefef"/><stop offset="0.033" stop-color="#fcebeb"/><stop offset="0.054" stop-color="#f9d0d0"/><stop offset="0.344" stop-color="#fcebeb"/><stop offset="1" stop-color="#fef8f8"/></linearGradient><linearGradient id="hf1" x1="859.6" x2="1194.2" gradientUnits="userSpaceOnUse"><stop offset="0" stop-color="#ffffff"/><stop offset="0.012" stop-color="#ffffff"/><stop offset="0.015" stop-color="#f0898b"/><stop offset="0.018" stop-color="#f0898b"/><stop offset="0.021" stop-color="#fdeeee"/><stop offset="0.033" stop-color="#fceaea"/><stop offset="0.054" stop-color="#f8cece"/><stop offset="0.179" stop-color="#fbdfdf"/><stop offset="0.347" stop-color="#fceaea"/><stop offset="1" stop-color="#fef8f8"/></linearGradient><linearGradient id="hf2" x1="859.6" x2="1194.2" gradientUnits="userSpaceOnUse"><stop offset="0" stop-color="#ffffff"/><stop offset="0.012" stop-color="#ffffff"/><stop offset="0.015" stop-color="#f0898b"/><stop offset="0.018" stop-color="#f0898b"/><stop offset="0.021" stop-color="#fdeded"/><stop offset="0.033" stop-color="#fceaea"/><stop offset="0.054" stop-color="#f8cdcd"/><stop offset="0.179" stop-color="#fbdede"/><stop offset="0.347" stop-color="#fce9e9"/><stop offset="1" stop-color="#fef8f8"/></linearGradient><linearGradient id="hf3" x1="859.6" x2="1194.2" gradientUnits="userSpaceOnUse"><stop offset="0" stop-color="#ffffff"/><stop offset="0.012" stop-color="#ffffff"/><stop offset="0.015" stop-color="#f0898b"/><stop offset="0.018" stop-color="#f0898b"/><stop offset="0.021" stop-color="#fdeded"/><stop offset="0.033" stop-color="#fceaea"/><stop offset="0.054" stop-color="#f8cccc"/><stop offset="0.179" stop-color="#fadede"/><stop offset="0.347" stop-color="#fce9e9"/><stop offset="1" stop-color="#fef7f7"/></linearGradient><linearGradient id="hf4" x1="859.6" x2="1194.2" gradientUnits="userSpaceOnUse"><stop offset="0" stop-color="#ffffff"/><stop offset="0.012" stop-color="#ffffff"/><stop offset="0.015" stop-color="#f0898b"/><stop offset="0.018" stop-color="#f0898b"/><stop offset="0.021" stop-color="#fdeded"/><stop offset="0.033" stop-color="#fceaea"/><stop offset="0.054" stop-color="#f8cccc"/><stop offset="0.179" stop-color="#fadede"/><stop offset="0.347" stop-color="#fce9e9"/><stop offset="1" stop-color="#fef7f7"/></linearGradient><linearGradient id="hf5" x1="859.6" x2="1194.2" gradientUnits="userSpaceOnUse"><stop offset="0" stop-color="#ffffff"/><stop offset="0.012" stop-color="#ffffff"/><stop offset="0.015" stop-color="#f0898b"/><stop offset="0.018" stop-color="#f0898b"/><stop offset="0.021" stop-color="#fdeded"/><stop offset="0.033" stop-color="#fceaea"/><stop offset="0.054" stop-color="#f8cdcd"/><stop offset="0.179" stop-color="#fbdede"/><stop offset="0.347" stop-color="#fce9e9"/><stop offset="1" stop-color="#fef8f8"/></linearGradient><linearGradient id="hf6" x1="859.6" x2="1194.2" gradientUnits="userSpaceOnUse"><stop offset="0" stop-color="#ffffff"/><stop offset="0.012" stop-color="#ffffff"/><stop offset="0.015" stop-color="#f0898b"/><stop offset="0.018" stop-color="#f0898b"/><stop offset="0.021" stop-color="#fdeeee"/><stop offset="0.033" stop-color="#fcebeb"/><stop offset="0.054" stop-color="#f8cecf"/><stop offset="0.179" stop-color="#fbdfdf"/><stop offset="0.347" stop-color="#fceaea"/><stop offset="1" stop-color="#fef8f8"/></linearGradient><linearGradient id="hf7" x1="859.6" x2="1194.2" gradientUnits="userSpaceOnUse"><stop offset="0" stop-color="#ffffff"/><stop offset="0.012" stop-color="#ffffff"/><stop offset="0.015" stop-color="#f0898b"/><stop offset="0.018" stop-color="#f0898b"/><stop offset="0.021" stop-color="#fdefef"/><stop offset="0.033" stop-color="#fcecec"/><stop offset="0.054" stop-color="#f9d1d1"/><stop offset="0.344" stop-color="#fcebeb"/><stop offset="1" stop-color="#fef8f8"/></linearGradient><linearGradient id="hf8" x1="859.6" x2="1194.2" gradientUnits="userSpaceOnUse"><stop offset="0" stop-color="#ffffff"/><stop offset="0.012" stop-color="#ffffff"/><stop offset="0.015" stop-color="#f0898b"/><stop offset="0.018" stop-color="#f0898b"/><stop offset="0.021" stop-color="#fdf0f0"/><stop offset="0.033" stop-color="#fdeded"/><stop offset="0.054" stop-color="#f9d3d3"/><stop offset="0.344" stop-color="#fcecec"/><stop offset="1" stop-color="#fef9f9"/></linearGradient><linearGradient id="hf9" x1="859.6" x2="1194.2" gradientUnits="userSpaceOnUse"><stop offset="0" stop-color="#ffffff"/><stop offset="0.012" stop-color="#ffffff"/><stop offset="0.015" stop-color="#f0898b"/><stop offset="0.018" stop-color="#f0898b"/><stop offset="0.021" stop-color="#fdf1f1"/><stop offset="0.033" stop-color="#fdeeee"/><stop offset="0.054" stop-color="#fad7d7"/><stop offset="0.344" stop-color="#fdeeee"/><stop offset="1" stop-color="#fef9f9"/></linearGradient><linearGradient id="hfa" x1="859.6" x2="1194.2" gradientUnits="userSpaceOnUse"><stop offset="0" stop-color="#ffffff"/><stop offset="0.012" stop-color="#ffffff"/><stop offset="0.015" stop-color="#f0898b"/><stop offset="0.018" stop-color="#f0898b"/><stop offset="0.021" stop-color="#fdf2f2"/><stop offset="0.033" stop-color="#fdf0f0"/><stop offset="0.054" stop-color="#fadbdb"/><stop offset="0.344" stop-color="#fdefef"/><stop offset="1" stop-color="#fefafa"/></linearGradient><linearGradient id="hfb" x1="859.6" x2="1194.2" gradientUnits="userSpaceOnUse"><stop offset="0" stop-color="#ffffff"/><stop offset="0.012" stop-color="#ffffff"/><stop offset="0.015" stop-color="#f0898b"/><stop offset="0.018" stop-color="#f0898b"/><stop offset="0.021" stop-color="#fdf4f4"/><stop offset="0.033" stop-color="#fdf2f2"/><stop offset="0.054" stop-color="#fbdfdf"/><stop offset="0.344" stop-color="#fdf1f1"/><stop offset="1" stop-color="#fefafa"/></linearGradient><linearGradient id="hfc" x1="859.6" x2="1194.2" gradientUnits="userSpaceOnUse"><stop offset="0" stop-color="#ffffff"/><stop offset="0.012" stop-color="#ffffff"/><stop offset="0.015" stop-color="#f0898b"/><stop offset="0.018" stop-color="#f0898b"/><stop offset="0.021" stop-color="#fef6f6"/><stop offset="0.054" stop-color="#fbe4e4"/><stop offset="0.344" stop-color="#fdf3f3"/><stop offset="1" stop-color="#fefbfb"/></linearGradient><linearGradient id="hfd" x1="859.6" x2="1194.2" gradientUnits="userSpaceOnUse"><stop offset="0" stop-color="#ffffff"/><stop offset="0.012" stop-color="#ffffff"/><stop offset="0.015" stop-color="#f0898b"/><stop offset="0.018" stop-color="#f0898b"/><stop offset="0.021" stop-color="#fef7f7"/><stop offset="0.054" stop-color="#fce9e9"/><stop offset="0.344" stop-color="#fef6f6"/><stop offset="1" stop-color="#fffcfc"/></linearGradient><linearGradient id="hfe" x1="859.6" x2="1194.2" gradientUnits="userSpaceOnUse"><stop offset="0" stop-color="#ffffff"/><stop offset="0.012" stop-color="#ffffff"/><stop offset="0.015" stop-color="#f0898b"/><stop offset="0.018" stop-color="#f0898b"/><stop offset="0.021" stop-color="#fef9f9"/><stop offset="0.054" stop-color="#fdeeee"/><stop offset="0.344" stop-color="#fef8f8"/><stop offset="1" stop-color="#fffdfd"/></linearGradient><linearGradient id="hff" x1="859.6" x2="1194.2" gradientUnits="userSpaceOnUse"><stop offset="0" stop-color="#ffffff"/><stop offset="0.012" stop-color="#ffffff"/><stop offset="0.015" stop-color="#f0898b"/><stop offset="0.018" stop-color="#f0898b"/><stop offset="0.021" stop-color="#fefbfb"/><stop offset="0.054" stop-color="#fdf2f2"/><stop offset="1" stop-color="#ffffff"/></linearGradient><linearGradient id="h100" x1="859.6" x2="1194.2" gradientUnits="userSpaceOnUse"><stop offset="0" stop-color="#ffffff"/><stop offset="0.012" stop-color="#ffffff"/><stop offset="0.015" stop-color="#f0898b"/><stop offset="0.018" stop-color="#f0898b"/><stop offset="0.021" stop-color="#fffcfc"/><stop offset="0.054" stop-color="#fef7f7"/><stop offset="1" stop-color="#fefefe"/></linearGradient><linearGradient id="h101" x1="859.6" x2="1194.2" gradientUnits="userSpaceOnUse"><stop offset="0" stop-color="#ffffff"/><stop offset="0.012" stop-color="#ffffff"/><stop offset="0.015" stop-color="#f0898b"/><stop offset="0.018" stop-color="#f0898b"/><stop offset="0.021" stop-color="#fffdfd"/><stop offset="1" stop-color="#fbfcfe"/></linearGradient><linearGradient id="h102" x1="859.6" x2="1194.2" gradientUnits="userSpaceOnUse"><stop offset="0" stop-color="#ffffff"/><stop offset="0.012" stop-color="#ffffff"/><stop offset="0.015" stop-color="#f0898b"/><stop offset="0.018" stop-color="#f0898b"/><stop offset="0.021" stop-color="#ffffff"/><stop offset="1" stop-color="#f9fafd"/></linearGradient><linearGradient id="h103" x1="859.6" x2="1194.2" gradientUnits="userSpaceOnUse"><stop offset="0" stop-color="#ffffff"/><stop offset="0.012" stop-color="#ffffff"/><stop offset="0.015" stop-color="#f0898b"/><stop offset="0.018" stop-color="#f0898b"/><stop offset="0.021" stop-color="#fefeff"/><stop offset="1" stop-color="#f7f9fc"/></linearGradient><linearGradient id="h104" x1="859.6" x2="1194.2" gradientUnits="userSpaceOnUse"><stop offset="0" stop-color="#ffffff"/><stop offset="0.012" stop-color="#ffffff"/><stop offset="0.015" stop-color="#f0898b"/><stop offset="0.018" stop-color="#f0898b"/><stop offset="0.021" stop-color="#fdfefe"/><stop offset="1" stop-color="#f5f7fb"/></linearGradient><linearGradient id="h105" x1="859.6" x2="1194.2" gradientUnits="userSpaceOnUse"><stop offset="0" stop-color="#ffffff"/><stop offset="0.012" stop-color="#ffffff"/><stop offset="0.015" stop-color="#f0898b"/><stop offset="0.018" stop-color="#f0898b"/><stop offset="0.021" stop-color="#fcfdfe"/><stop offset="0.087" stop-color="#f6f8fb"/><stop offset="1" stop-color="#f4f6fb"/></linearGradient><linearGradient id="h106" x1="859.6" x2="1194.2" gradientUnits="userSpaceOnUse"><stop offset="0" stop-color="#ffffff"/><stop offset="0.012" stop-color="#ffffff"/><stop offset="0.015" stop-color="#f0898b"/><stop offset="0.018" stop-color="#f0898b"/><stop offset="0.021" stop-color="#fcfdfe"/><stop offset="0.054" stop-color="#f5f7fb"/><stop offset="1" stop-color="#f3f6fa"/></linearGradient><linearGradient id="h107" x1="859.6" x2="1194.2" gradientUnits="userSpaceOnUse"><stop offset="0" stop-color="#ffffff"/><stop offset="0.012" stop-color="#ffffff"/><stop offset="0.015" stop-color="#f0898b"/><stop offset="0.018" stop-color="#f0898b"/><stop offset="0.021" stop-color="#fcfcfe"/><stop offset="0.054" stop-color="#f4f6fb"/><stop offset="1" stop-color="#f3f5fa"/></linearGradient><linearGradient id="h108" x1="859.6" x2="1194.2" gradientUnits="userSpaceOnUse"><stop offset="0" stop-color="#ffffff"/><stop offset="0.012" stop-color="#ffffff"/><stop offset="0.015" stop-color="#f0898b"/><stop offset="0.018" stop-color="#f0898b"/><stop offset="0.021" stop-color="#fbfcfe"/><stop offset="0.054" stop-color="#f3f6fa"/><stop offset="1" stop-color="#f2f5fa"/></linearGradient><linearGradient id="h109" x1="859.6" x2="1194.2" gradientUnits="userSpaceOnUse"><stop offset="0" stop-color="#ffffff"/><stop offset="0.012" stop-color="#ffffff"/><stop offset="0.015" stop-color="#f0898b"/><stop offset="0.018" stop-color="#f0898b"/><stop offset="0.021" stop-color="#fbfcfe"/><stop offset="0.054" stop-color="#f3f6fa"/><stop offset="1" stop-color="#f2f5fa"/></linearGradient><linearGradient id="h10a" x1="859.6" x2="1194.2" gradientUnits="userSpaceOnUse"><stop offset="0" stop-color="#ffffff"/><stop offset="0.012" stop-color="#ffffff"/><stop offset="0.015" stop-color="#f0898b"/><stop offset="0.018" stop-color="#f0898b"/><stop offset="0.021" stop-color="#fbfcfe"/><stop offset="0.054" stop-color="#f3f5fa"/><stop offset="1" stop-color="#f2f5fa"/></linearGradient><linearGradient id="h10b" x1="859.6" x2="1194.2" gradientUnits="userSpaceOnUse"><stop offset="0" stop-color="#ffffff"/><stop offset="0.012" stop-color="#ffffff"/><stop offset="0.015" stop-color="#f0898b"/><stop offset="0.018" stop-color="#f0898b"/><stop offset="0.021" stop-color="#fbfcfe"/><stop offset="0.054" stop-color="#f2f5fa"/><stop offset="1" stop-color="#f2f5fa"/></linearGradient><linearGradient id="h10c" x1="859.6" x2="1194.2" gradientUnits="userSpaceOnUse"><stop offset="0" stop-color="#ffffff"/><stop offset="0.012" stop-color="#ffffff"/><stop offset="0.015" stop-color="#f0898b"/><stop offset="0.018" stop-color="#f0898b"/><stop offset="0.021" stop-color="#fbfcfd"/><stop offset="0.054" stop-color="#f2f5fa"/><stop offset="1" stop-color="#f2f5fa"/></linearGradient><linearGradient id="h10d" x1="859.6" x2="1194.2" gradientUnits="userSpaceOnUse"><stop offset="0" stop-color="#ffffff"/><stop offset="0.012" stop-color="#ffffff"/><stop offset="0.015" stop-color="#f0898b"/><stop offset="0.018" stop-color="#f0898b"/><stop offset="0.021" stop-color="#fbfcfd"/><stop offset="0.054" stop-color="#f2f5fa"/><stop offset="1" stop-color="#f2f5fa"/></linearGradient><linearGradient id="h10e" x1="859.6" x2="1194.2" gradientUnits="userSpaceOnUse"><stop offset="0" stop-color="#ffffff"/><stop offset="0.012" stop-color="#ffffff"/><stop offset="0.015" stop-color="#f0898b"/><stop offset="0.018" stop-color="#f0898b"/><stop offset="0.021" stop-color="#fbfcfd"/><stop offset="0.054" stop-color="#f2f5fa"/><stop offset="1" stop-color="#f2f5fa"/></linearGradient><linearGradient id="h10f" x1="859.6" x2="1194.2" gradientUnits="userSpaceOnUse"><stop offset="0" stop-color="#ffffff"/><stop offset="0.012" stop-color="#ffffff"/><stop offset="0.015" stop-color="#f0898b"/><stop offset="0.018" stop-color="#f0898b"/><stop offset="0.021" stop-color="#fbfcfd"/><stop offset="0.054" stop-color="#f2f5fa"/><stop offset="1" stop-color="#f2f5fa"/></linearGradient><linearGradient id="h110" x1="859.6" x2="1194.2" gradientUnits="userSpaceOnUse"><stop offset="0" stop-color="#ffffff"/><stop offset="0.012" stop-color="#ffffff"/><stop offset="0.015" stop-color="#f0898b"/><stop offset="0.018" stop-color="#f0898b"/><stop offset="0.021" stop-color="#fbfcfd"/><stop offset="0.054" stop-color="#f2f5fa"/><stop offset="1" stop-color="#f2f5fa"/></linearGradient><linearGradient id="h111" x1="859.6" x2="1194.2" gradientUnits="userSpaceOnUse"><stop offset="0" stop-color="#ffffff"/><stop offset="0.012" stop-color="#ffffff"/><stop offset="0.015" stop-color="#f0898b"/><stop offset="0.018" stop-color="#f0898b"/><stop offset="0.021" stop-color="#fbfcfd"/><stop offset="0.054" stop-color="#f2f5fa"/><stop offset="1" stop-color="#f2f5fa"/></linearGradient><linearGradient id="h112" x1="119.3" x2="454.9" gradientUnits="userSpaceOnUse"><stop offset="0" stop-color="#ffffff"/><stop offset="0.054" stop-color="#ffffff"/><stop offset="0.057" stop-color="#fce7e7"/><stop offset="0.074" stop-color="#fad9d9"/><stop offset="0.107" stop-color="#f5afb0"/><stop offset="0.122" stop-color="#f4a8a9"/><stop offset="0.137" stop-color="#f4afaf"/><stop offset="0.179" stop-color="#fbe1e1"/><stop offset="0.212" stop-color="#fcecec"/><stop offset="1" stop-color="#fdeded"/></linearGradient><linearGradient id="h113" x1="119.3" x2="454.9" gradientUnits="userSpaceOnUse"><stop offset="0" stop-color="#ffffff"/><stop offset="0.054" stop-color="#ffffff"/><stop offset="0.057" stop-color="#fce7e7"/><stop offset="0.074" stop-color="#fadada"/><stop offset="0.107" stop-color="#f5b1b2"/><stop offset="0.122" stop-color="#f4a9aa"/><stop offset="0.137" stop-color="#f5b0b1"/><stop offset="0.179" stop-color="#fbe1e1"/><stop offset="0.212" stop-color="#fceded"/><stop offset="1" stop-color="#fdeded"/></linearGradient><linearGradient id="h114" x1="119.3" x2="454.9" gradientUnits="userSpaceOnUse"><stop offset="0" stop-color="#ffffff"/><stop offset="0.054" stop-color="#ffffff"/><stop offset="0.057" stop-color="#fce8e8"/><stop offset="0.074" stop-color="#fadbdb"/><stop offset="0.107" stop-color="#f5b3b4"/><stop offset="0.122" stop-color="#f4abac"/><stop offset="0.137" stop-color="#f5b2b3"/><stop offset="0.179" stop-color="#fbe3e3"/><stop offset="0.212" stop-color="#fdeded"/><stop offset="1" stop-color="#fdeeee"/></linearGradient><linearGradient id="h115" x1="119.3" x2="454.9" gradientUnits="userSpaceOnUse"><stop offset="0" stop-color="#ffffff"/><stop offset="0.054" stop-color="#ffffff"/><stop offset="0.057" stop-color="#fceaea"/><stop offset="0.074" stop-color="#fadddd"/><stop offset="0.107" stop-color="#f5b6b7"/><stop offset="0.122" stop-color="#f4aeaf"/><stop offset="0.137" stop-color="#f5b5b6"/><stop offset="0.179" stop-color="#fbe4e4"/><stop offset="0.212" stop-color="#fdefef"/><stop offset="1" stop-color="#fdefef"/></linearGradient><linearGradient id="h116" x1="119.3" x2="454.9" gradientUnits="userSpaceOnUse"><stop offset="0" stop-color="#ffffff"/><stop offset="0.054" stop-color="#ffffff"/><stop offset="0.057" stop-color="#fcecec"/><stop offset="0.074" stop-color="#fbdfdf"/><stop offset="0.107" stop-color="#f6baba"/><stop offset="0.122" stop-color="#f5b2b3"/><stop offset="0.137" stop-color="#f6b9ba"/><stop offset="0.179" stop-color="#fce6e6"/><stop offset="0.212" stop-color="#fdf0f0"/><stop offset="1" stop-color="#fdf1f1"/></linearGradient><linearGradient id="h117" x1="119.3" x2="454.9" gradientUnits="userSpaceOnUse"><stop offset="0" stop-color="#ffffff"/><stop offset="0.054" stop-color="#ffffff"/><stop offset="0.057" stop-color="#fdeeee"/><stop offset="0.074" stop-color="#fbe2e2"/><stop offset="0.107" stop-color="#f6bfbf"/><stop offset="0.122" stop-color="#f6b8b8"/><stop offset="0.137" stop-color="#f6bebf"/><stop offset="0.179" stop-color="#fce9e9"/><stop offset="0.215" stop-color="#fdf2f2"/><stop offset="1" stop-color="#fdf3f3"/></linearGradient><linearGradient id="h118" x1="119.3" x2="454.9" gradientUnits="userSpaceOnUse"><stop offset="0" stop-color="#ffffff"/><stop offset="0.054" stop-color="#ffffff"/><stop offset="0.057" stop-color="#fdf0f0"/><stop offset="0.107" stop-color="#f7c5c5"/><stop offset="0.122" stop-color="#f6bebf"/><stop offset="0.137" stop-color="#f7c4c5"/><stop offset="0.179" stop-color="#fcebeb"/><stop offset="0.215" stop-color="#fef4f4"/><stop offset="1" stop-color="#fef5f5"/></linearGradient><linearGradient id="h119" x1="119.3" x2="454.9" gradientUnits="userSpaceOnUse"><stop offset="0" stop-color="#ffffff"/><stop offset="0.054" stop-color="#ffffff"/><stop offset="0.057" stop-color="#fdf3f3"/><stop offset="0.122" stop-color="#f7c6c6"/><stop offset="0.137" stop-color="#f8cbcb"/><stop offset="0.179" stop-color="#fdeeee"/><stop offset="0.221" stop-color="#fef7f7"/><stop offset="1" stop-color="#fef7f7"/></linearGradient><linearGradient id="h11a" x1="119.3" x2="454.9" gradientUnits="userSpaceOnUse"><stop offset="0" stop-color="#ffffff"/><stop offset="0.054" stop-color="#ffffff"/><stop offset="0.057" stop-color="#fef6f6"/><stop offset="0.122" stop-color="#f8cdce"/><stop offset="0.179" stop-color="#fdefef"/><stop offset="0.229" stop-color="#fef9f9"/><stop offset="1" stop-color="#fef9f9"/></linearGradient><linearGradient id="h11b" x1="119.3" x2="454.9" gradientUnits="userSpaceOnUse"><stop offset="0" stop-color="#ffffff"/><stop offset="0.054" stop-color="#ffffff"/><stop offset="0.057" stop-color="#fef8f8"/><stop offset="0.122" stop-color="#f9d6d6"/><stop offset="0.173" stop-color="#fef5f5"/><stop offset="0.212" stop-color="#ffffff"/><stop offset="1" stop-color="#fdfefe"/></linearGradient><linearGradient id="h11c" x1="119.3" x2="454.9" gradientUnits="userSpaceOnUse"><stop offset="0" stop-color="#ffffff"/><stop offset="0.054" stop-color="#ffffff"/><stop offset="0.119" stop-color="#fbe0e0"/><stop offset="0.164" stop-color="#ffffff"/><stop offset="0.247" stop-color="#e6ecf5"/><stop offset="1" stop-color="#edf1f8"/></linearGradient><linearGradient id="h11d" x1="119.3" x2="454.9" gradientUnits="userSpaceOnUse"><stop offset="0" stop-color="#ffffff"/><stop offset="0.054" stop-color="#ffffff"/><stop offset="0.116" stop-color="#fce8e8"/><stop offset="0.149" stop-color="#fffefe"/><stop offset="0.173" stop-color="#edf1f8"/><stop offset="0.247" stop-color="#d7e0ef"/><stop offset="1" stop-color="#e1e8f3"/></linearGradient><linearGradient id="h11e" x1="119.3" x2="454.9" gradientUnits="userSpaceOnUse"><stop offset="0" stop-color="#ffffff"/><stop offset="0.054" stop-color="#ffffff"/><stop offset="0.113" stop-color="#fdeeee"/><stop offset="0.146" stop-color="#ffffff"/><stop offset="0.167" stop-color="#eef2f8"/><stop offset="0.25" stop-color="#d5deef"/><stop offset="1" stop-color="#dfe6f3"/></linearGradient><linearGradient id="h11f" x1="119.3" x2="454.9" gradientUnits="userSpaceOnUse"><stop offset="0" stop-color="#ffffff"/><stop offset="0.054" stop-color="#ffffff"/><stop offset="0.113" stop-color="#fdf3f3"/><stop offset="0.14" stop-color="#fffefe"/><stop offset="0.164" stop-color="#edf1f8"/><stop offset="0.25" stop-color="#d3ddee"/><stop offset="1" stop-color="#dee5f2"/></linearGradient><linearGradient id="h120" x1="119.3" x2="454.9" gradientUnits="userSpaceOnUse"><stop offset="0" stop-color="#ffffff"/><stop offset="0.11" stop-color="#fef7f7"/><stop offset="0.134" stop-color="#fffefe"/><stop offset="0.161" stop-color="#ebf0f7"/><stop offset="0.25" stop-color="#d2dced"/><stop offset="1" stop-color="#dde4f2"/></linearGradient><linearGradient id="h121" x1="119.3" x2="454.9" gradientUnits="userSpaceOnUse"><stop offset="0" stop-color="#ffffff"/><stop offset="0.107" stop-color="#fefafa"/><stop offset="0.131" stop-color="#ffffff"/><stop offset="0.161" stop-color="#e9eef6"/><stop offset="0.25" stop-color="#d0dbed"/><stop offset="1" stop-color="#dce3f1"/></linearGradient><linearGradient id="h122" x1="119.3" x2="454.9" gradientUnits="userSpaceOnUse"><stop offset="0" stop-color="#ffffff"/><stop offset="0.125" stop-color="#ffffff"/><stop offset="0.158" stop-color="#e8edf6"/><stop offset="0.191" stop-color="#e5eaf5"/><stop offset="0.25" stop-color="#cfdaec"/><stop offset="1" stop-color="#dbe3f1"/></linearGradient><linearGradient id="h123" x1="119.3" x2="454.9" gradientUnits="userSpaceOnUse"><stop offset="0" stop-color="#ffffff"/><stop offset="0.119" stop-color="#ffffff"/><stop offset="0.158" stop-color="#e6ecf5"/><stop offset="0.191" stop-color="#e3e9f4"/><stop offset="0.25" stop-color="#ced9ec"/><stop offset="1" stop-color="#dae2f0"/></linearGradient><linearGradient id="h124" x1="119.3" x2="454.9" gradientUnits="userSpaceOnUse"><stop offset="0" stop-color="#ffffff"/><stop offset="0.116" stop-color="#ffffff"/><stop offset="0.158" stop-color="#e5ebf5"/><stop offset="0.191" stop-color="#e2e8f4"/><stop offset="0.25" stop-color="#cdd8eb"/><stop offset="1" stop-color="#d9e1f0"/></linearGradient><linearGradient id="h125" x1="119.3" x2="454.9" gradientUnits="userSpaceOnUse"><stop offset="0" stop-color="#ffffff"/><stop offset="0.113" stop-color="#fefeff"/><stop offset="0.158" stop-color="#e3e9f4"/><stop offset="0.191" stop-color="#e1e7f3"/><stop offset="0.25" stop-color="#cbd7eb"/><stop offset="1" stop-color="#d7e0f0"/></linearGradient><linearGradient id="h126" x1="119.3" x2="454.9" gradientUnits="userSpaceOnUse"><stop offset="0" stop-color="#ffffff"/><stop offset="0.113" stop-color="#fefefe"/><stop offset="0.158" stop-color="#e2e8f4"/><stop offset="0.191" stop-color="#dfe6f3"/><stop offset="0.25" stop-color="#cad6ea"/><stop offset="1" stop-color="#d6dfef"/></linearGradient><linearGradient id="h127" x1="119.3" x2="454.9" gradientUnits="userSpaceOnUse"><stop offset="0" stop-color="#ffffff"/><stop offset="0.113" stop-color="#fdfdfe"/><stop offset="0.158" stop-color="#e1e7f3"/><stop offset="0.191" stop-color="#dee5f2"/><stop offset="0.25" stop-color="#c8d4ea"/><stop offset="1" stop-color="#d5dfef"/></linearGradient><linearGradient id="h128" x1="119.3" x2="454.9" gradientUnits="userSpaceOnUse"><stop offset="0" stop-color="#ffffff"/><stop offset="0.113" stop-color="#fcfdfe"/><stop offset="0.161" stop-color="#d9e1f0"/><stop offset="0.191" stop-color="#d5dfef"/><stop offset="0.247" stop-color="#c0cee6"/><stop offset="1" stop-color="#cfdaec"/></linearGradient><linearGradient id="h129" x1="119.3" x2="454.9" gradientUnits="userSpaceOnUse"><stop offset="0" stop-color="#ffffff"/><stop offset="0.113" stop-color="#fbfcfd"/><stop offset="0.128" stop-color="#f1f4fa"/><stop offset="0.164" stop-color="#c6d3e9"/><stop offset="0.244" stop-color="#abbfdd"/><stop offset="1" stop-color="#bfcee6"/></linearGradient><linearGradient id="h12a" x1="119.3" x2="454.9" gradientUnits="userSpaceOnUse"><stop offset="0" stop-color="#ffffff"/><stop offset="0.113" stop-color="#fbfcfd"/><stop offset="0.128" stop-color="#f1f4fa"/><stop offset="0.164" stop-color="#c6d3e9"/><stop offset="0.244" stop-color="#abbfdd"/><stop offset="1" stop-color="#bfcee6"/></linearGradient><linearGradient id="h12b" x1="119.3" x2="454.9" gradientUnits="userSpaceOnUse"><stop offset="0" stop-color="#ffffff"/><stop offset="0.113" stop-color="#fafbfd"/><stop offset="0.128" stop-color="#f1f4f9"/><stop offset="0.164" stop-color="#c6d3e9"/><stop offset="0.244" stop-color="#abbfdd"/><stop offset="1" stop-color="#bfcee6"/></linearGradient><linearGradient id="h12c" x1="119.3" x2="454.9" gradientUnits="userSpaceOnUse"><stop offset="0" stop-color="#ffffff"/><stop offset="0.086" stop-color="#f9fafd"/><stop offset="0.101" stop-color="#e7ecf6"/><stop offset="0.125" stop-color="#b5c7e1"/><stop offset="0.143" stop-color="#abbfdd"/><stop offset="0.188" stop-color="#bacae3"/><stop offset="0.253" stop-color="#a5bbda"/><stop offset="1" stop-color="#bbcbe4"/></linearGradient><linearGradient id="h12d" x1="119.3" x2="454.9" gradientUnits="userSpaceOnUse"><stop offset="0" stop-color="#ffffff"/><stop offset="0.066" stop-color="#fefeff"/><stop offset="0.086" stop-color="#f7f9fc"/><stop offset="0.101" stop-color="#e0e7f3"/><stop offset="0.125" stop-color="#9fb7d8"/><stop offset="0.143" stop-color="#91acd2"/><stop offset="0.188" stop-color="#9fb7d8"/><stop offset="0.25" stop-color="#8ba7cf"/><stop offset="0.584" stop-color="#9db5d7"/><stop offset="1" stop-color="#a8bddb"/></linearGradient><linearGradient id="h12e" x1="119.3" x2="454.9" gradientUnits="userSpaceOnUse"><stop offset="0" stop-color="#ffffff"/><stop offset="0.066" stop-color="#fefeff"/><stop offset="0.086" stop-color="#f7f9fc"/><stop offset="0.101" stop-color="#e0e7f3"/><stop offset="0.125" stop-color="#9fb7d8"/><stop offset="0.143" stop-color="#91acd1"/><stop offset="0.188" stop-color="#9fb6d8"/><stop offset="0.25" stop-color="#8ba7cf"/><stop offset="0.584" stop-color="#9db5d7"/><stop offset="1" stop-color="#a8bddb"/></linearGradient><linearGradient id="h12f" x1="119.3" x2="454.9" gradientUnits="userSpaceOnUse"><stop offset="0" stop-color="#ffffff"/><stop offset="0.066" stop-color="#fefeff"/><stop offset="0.086" stop-color="#f7f9fc"/><stop offset="0.101" stop-color="#e0e7f3"/><stop offset="0.125" stop-color="#9fb7d8"/><stop offset="0.143" stop-color="#91acd1"/><stop offset="0.188" stop-color="#9fb6d8"/><stop offset="0.247" stop-color="#8ba7cf"/><stop offset="0.581" stop-color="#9db5d7"/><stop offset="1" stop-color="#a8bddb"/></linearGradient><linearGradient id="h130" x1="119.3" x2="454.9" gradientUnits="userSpaceOnUse"><stop offset="0" stop-color="#ffffff"/><stop offset="0.066" stop-color="#fefeff"/><stop offset="0.086" stop-color="#f7f9fc"/><stop offset="0.101" stop-color="#e0e7f3"/><stop offset="0.125" stop-color="#9fb7d8"/><stop offset="0.143" stop-color="#91acd1"/><stop offset="0.188" stop-color="#9eb6d7"/><stop offset="0.244" stop-color="#8aa7ce"/><stop offset="0.572" stop-color="#9db5d7"/><stop offset="1" stop-color="#a8bddb"/></linearGradient><linearGradient id="h131" x1="119.3" x2="454.9" gradientUnits="userSpaceOnUse"><stop offset="0" stop-color="#ffffff"/><stop offset="0.066" stop-color="#fefeff"/><stop offset="0.086" stop-color="#f7f9fc"/><stop offset="0.101" stop-color="#dfe6f3"/><stop offset="0.125" stop-color="#9fb7d8"/><stop offset="0.143" stop-color="#90acd1"/><stop offset="0.185" stop-color="#9cb4d6"/><stop offset="0.241" stop-color="#89a5ce"/><stop offset="0.551" stop-color="#9cb4d6"/><stop offset="1" stop-color="#a8bddb"/></linearGradient><linearGradient id="h132" x1="119.3" x2="454.9" gradientUnits="userSpaceOnUse"><stop offset="0" stop-color="#ffffff"/><stop offset="0.086" stop-color="#f7f9fc"/><stop offset="0.101" stop-color="#e2e9f4"/><stop offset="0.122" stop-color="#adc0de"/><stop offset="0.137" stop-color="#9bb4d6"/><stop offset="0.191" stop-color="#a3b9d9"/><stop offset="0.235" stop-color="#8fabd1"/><stop offset="0.504" stop-color="#a2b9d9"/><stop offset="1" stop-color="#afc2df"/></linearGradient><linearGradient id="h133" x1="119.3" x2="454.9" gradientUnits="userSpaceOnUse"><stop offset="0" stop-color="#ffffff"/><stop offset="0.083" stop-color="#fafbfd"/><stop offset="0.098" stop-color="#ecf0f8"/><stop offset="0.122" stop-color="#b9cae3"/><stop offset="0.134" stop-color="#acc0dd"/><stop offset="0.191" stop-color="#b0c3df"/><stop offset="0.232" stop-color="#9ab3d6"/><stop offset="0.28" stop-color="#a6bcdb"/><stop offset="0.402" stop-color="#adc0de"/><stop offset="1" stop-color="#bccbe4"/></linearGradient><linearGradient id="h134" x1="119.3" x2="454.9" gradientUnits="userSpaceOnUse"><stop offset="0" stop-color="#ffffff"/><stop offset="0.083" stop-color="#fafbfd"/><stop offset="0.098" stop-color="#ecf0f8"/><stop offset="0.122" stop-color="#b9cae3"/><stop offset="0.134" stop-color="#acc0dd"/><stop offset="0.191" stop-color="#abbfdd"/><stop offset="0.232" stop-color="#92add2"/><stop offset="0.271" stop-color="#a4bada"/><stop offset="0.31" stop-color="#a8bddc"/><stop offset="1" stop-color="#bccbe4"/></linearGradient><linearGradient id="h135" x1="119.3" x2="454.9" gradientUnits="userSpaceOnUse"><stop offset="0" stop-color="#ffffff"/><stop offset="0.083" stop-color="#fafbfd"/><stop offset="0.098" stop-color="#ecf0f8"/><stop offset="0.122" stop-color="#b9c9e3"/><stop offset="0.134" stop-color="#acc0dd"/><stop offset="0.191" stop-color="#a7bcdb"/><stop offset="0.232" stop-color="#8ba7cf"/><stop offset="0.268" stop-color="#a2b9d9"/><stop offset="0.298" stop-color="#a8bddb"/><stop offset="1" stop-color="#bccbe4"/></linearGradient><linearGradient id="h136" x1="119.3" x2="454.9" gradientUnits="userSpaceOnUse"><stop offset="0" stop-color="#ffffff"/><stop offset="0.083" stop-color="#fafbfd"/><stop offset="0.098" stop-color="#ecf0f8"/><stop offset="0.119" stop-color="#bfcde5"/><stop offset="0.131" stop-color="#aec1de"/><stop offset="0.191" stop-color="#a4bada"/><stop offset="0.232" stop-color="#86a3cc"/><stop offset="0.268" stop-color="#a1b8d9"/><stop offset="0.298" stop-color="#a8bddc"/><stop offset="1" stop-color="#bccbe4"/></linearGradient><linearGradient id="h137" x1="119.3" x2="454.9" gradientUnits="userSpaceOnUse"><stop offset="0" stop-color="#ffffff"/><stop offset="0.086" stop-color="#fafbfd"/><stop offset="0.098" stop-color="#eff3f9"/><stop offset="0.131" stop-color="#bccce5"/><stop offset="0.191" stop-color="#b3c5e1"/><stop offset="0.232" stop-color="#91acd1"/><stop offset="0.268" stop-color="#b1c3df"/><stop offset="0.295" stop-color="#b8c8e2"/><stop offset="1" stop-color="#c8d4ea"/></linearGradient><linearGradient id="h138" x1="119.3" x2="454.9" gradientUnits="userSpaceOnUse"><stop offset="0" stop-color="#ffffff"/><stop offset="0.089" stop-color="#fbfcfe"/><stop offset="0.131" stop-color="#dce4f1"/><stop offset="0.194" stop-color="#d5deef"/><stop offset="0.232" stop-color="#acc0de"/><stop offset="0.268" stop-color="#d2dcee"/><stop offset="0.292" stop-color="#dae2f1"/><stop offset="1" stop-color="#e3e9f4"/></linearGradient><linearGradient id="h139" x1="119.3" x2="454.9" gradientUnits="userSpaceOnUse"><stop offset="0" stop-color="#ffffff"/><stop offset="0.083" stop-color="#fefefe"/><stop offset="0.128" stop-color="#e8edf6"/><stop offset="0.185" stop-color="#e7ecf6"/><stop offset="0.2" stop-color="#dde5f2"/><stop offset="0.223" stop-color="#b5c7e1"/><stop offset="0.232" stop-color="#afc2df"/><stop offset="0.241" stop-color="#b4c6e1"/><stop offset="0.268" stop-color="#dee5f2"/><stop offset="0.295" stop-color="#e9eef6"/><stop offset="1" stop-color="#eff2f9"/></linearGradient><linearGradient id="h13a" x1="119.3" x2="454.9" gradientUnits="userSpaceOnUse"><stop offset="0" stop-color="#ffffff"/><stop offset="0.086" stop-color="#fefefe"/><stop offset="0.128" stop-color="#eef2f8"/><stop offset="0.185" stop-color="#f4f7fb"/><stop offset="0.2" stop-color="#e8edf6"/><stop offset="0.223" stop-color="#b6c7e2"/><stop offset="0.232" stop-color="#adc1de"/><stop offset="0.241" stop-color="#b3c5e0"/><stop offset="0.265" stop-color="#e2e9f4"/><stop offset="0.277" stop-color="#eff3f9"/><stop offset="0.358" stop-color="#fbfcfe"/><stop offset="1" stop-color="#f9fafd"/></linearGradient><linearGradient id="h13b" x1="119.3" x2="454.9" gradientUnits="userSpaceOnUse"><stop offset="0" stop-color="#ffffff"/><stop offset="0.083" stop-color="#fefeff"/><stop offset="0.125" stop-color="#f5f7fb"/><stop offset="0.146" stop-color="#feffff"/><stop offset="0.191" stop-color="#ffffff"/><stop offset="0.203" stop-color="#f0f3f9"/><stop offset="0.223" stop-color="#bbcbe4"/><stop offset="0.232" stop-color="#b0c3df"/><stop offset="0.244" stop-color="#bccbe4"/><stop offset="0.268" stop-color="#f1f4f9"/><stop offset="0.286" stop-color="#ffffff"/><stop offset="0.369" stop-color="#fdf4f4"/><stop offset="0.453" stop-color="#fffcfc"/><stop offset="1" stop-color="#fefbfb"/></linearGradient><linearGradient id="h13c" x1="119.3" x2="454.9" gradientUnits="userSpaceOnUse"><stop offset="0" stop-color="#ffffff"/><stop offset="0.134" stop-color="#fefefe"/><stop offset="0.167" stop-color="#fdefef"/><stop offset="0.188" stop-color="#fdf2f2"/><stop offset="0.2" stop-color="#fffcfc"/><stop offset="0.206" stop-color="#f6f8fc"/><stop offset="0.223" stop-color="#c4d1e8"/><stop offset="0.232" stop-color="#b8c9e3"/><stop offset="0.244" stop-color="#c3d1e8"/><stop offset="0.271" stop-color="#fffefe"/><stop offset="0.289" stop-color="#fef4f4"/><stop offset="0.369" stop-color="#fce7e7"/><stop offset="0.456" stop-color="#fdf3f3"/><stop offset="1" stop-color="#fdf2f2"/></linearGradient><linearGradient id="h13d" x1="119.3" x2="454.9" gradientUnits="userSpaceOnUse"><stop offset="0" stop-color="#ffffff"/><stop offset="0.122" stop-color="#ffffff"/><stop offset="0.155" stop-color="#fbe5e5"/><stop offset="0.17" stop-color="#fbe2e2"/><stop offset="0.191" stop-color="#fce6e6"/><stop offset="0.206" stop-color="#fefafa"/><stop offset="0.209" stop-color="#fdfefe"/><stop offset="0.226" stop-color="#cbd6eb"/><stop offset="0.235" stop-color="#c4d2e8"/><stop offset="0.244" stop-color="#cfdaec"/><stop offset="0.265" stop-color="#fffdfd"/><stop offset="0.286" stop-color="#fceaea"/><stop offset="0.369" stop-color="#fad8d8"/><stop offset="0.456" stop-color="#fce8e8"/><stop offset="1" stop-color="#fce8e8"/></linearGradient><linearGradient id="h13e" x1="119.3" x2="454.9" gradientUnits="userSpaceOnUse"><stop offset="0" stop-color="#ffffff"/><stop offset="0.122" stop-color="#fffefe"/><stop offset="0.134" stop-color="#fef8f8"/><stop offset="0.152" stop-color="#fbe0e0"/><stop offset="0.17" stop-color="#fadada"/><stop offset="0.194" stop-color="#fbe0e0"/><stop offset="0.212" stop-color="#fefeff"/><stop offset="0.223" stop-color="#d9e1f0"/><stop offset="0.235" stop-color="#ccd7eb"/><stop offset="0.244" stop-color="#d6dfef"/><stop offset="0.262" stop-color="#fffdfd"/><stop offset="0.283" stop-color="#fbe5e5"/><stop offset="0.369" stop-color="#f8cece"/><stop offset="0.456" stop-color="#fbe2e2"/><stop offset="1" stop-color="#fbe2e2"/></linearGradient><linearGradient id="h13f" x1="119.3" x2="454.9" gradientUnits="userSpaceOnUse"><stop offset="0" stop-color="#ffffff"/><stop offset="0.122" stop-color="#fffefe"/><stop offset="0.134" stop-color="#fef7f7"/><stop offset="0.152" stop-color="#fadbdb"/><stop offset="0.17" stop-color="#f9d5d5"/><stop offset="0.194" stop-color="#fadbdb"/><stop offset="0.212" stop-color="#fefbfb"/><stop offset="0.215" stop-color="#fafbfd"/><stop offset="0.226" stop-color="#d8e1f0"/><stop offset="0.235" stop-color="#d1dbed"/><stop offset="0.244" stop-color="#dae2f1"/><stop offset="0.259" stop-color="#feffff"/><stop offset="0.271" stop-color="#fcebeb"/><stop offset="0.283" stop-color="#fbe2e2"/><stop offset="0.369" stop-color="#f8c8c8"/><stop offset="0.456" stop-color="#fadede"/><stop offset="1" stop-color="#fbdede"/></linearGradient><linearGradient id="h140" x1="119.3" x2="454.9" gradientUnits="userSpaceOnUse"><stop offset="0" stop-color="#ffffff"/><stop offset="0.122" stop-color="#fffefe"/><stop offset="0.134" stop-color="#fef6f6"/><stop offset="0.155" stop-color="#f9d6d6"/><stop offset="0.173" stop-color="#f9d2d2"/><stop offset="0.197" stop-color="#fadbdb"/><stop offset="0.215" stop-color="#fdfdfe"/><stop offset="0.226" stop-color="#dbe3f1"/><stop offset="0.235" stop-color="#d3ddee"/><stop offset="0.244" stop-color="#dce4f2"/><stop offset="0.259" stop-color="#fffefe"/><stop offset="0.271" stop-color="#fce9e9"/><stop offset="0.283" stop-color="#fbe0e0"/><stop offset="0.369" stop-color="#f7c5c5"/><stop offset="0.456" stop-color="#fadcdc"/><stop offset="1" stop-color="#fadcdc"/></linearGradient><linearGradient id="h141" x1="119.3" x2="454.9" gradientUnits="userSpaceOnUse"><stop offset="0" stop-color="#ffffff"/><stop offset="0.122" stop-color="#fffefe"/><stop offset="0.134" stop-color="#fef6f6"/><stop offset="0.155" stop-color="#f9d5d5"/><stop offset="0.173" stop-color="#f9d1d1"/><stop offset="0.197" stop-color="#fad9d9"/><stop offset="0.215" stop-color="#ffffff"/><stop offset="0.226" stop-color="#dce4f2"/><stop offset="0.235" stop-color="#d5deef"/><stop offset="0.244" stop-color="#dee5f2"/><stop offset="0.259" stop-color="#fffdfd"/><stop offset="0.271" stop-color="#fce8e8"/><stop offset="0.283" stop-color="#fbdede"/><stop offset="0.369" stop-color="#f7c3c3"/><stop offset="0.456" stop-color="#fadada"/><stop offset="1" stop-color="#fadbdb"/></linearGradient><linearGradient id="h142" x1="119.3" x2="454.9" gradientUnits="userSpaceOnUse"><stop offset="0" stop-color="#ffffff"/><stop offset="0.122" stop-color="#fffefe"/><stop offset="0.134" stop-color="#fef6f6"/><stop offset="0.155" stop-color="#f9d4d4"/><stop offset="0.173" stop-color="#f9cfd0"/><stop offset="0.197" stop-color="#fad8d8"/><stop offset="0.215" stop-color="#fffefe"/><stop offset="0.226" stop-color="#dde5f2"/><stop offset="0.235" stop-color="#d5dfef"/><stop offset="0.244" stop-color="#dee6f2"/><stop offset="0.256" stop-color="#fbfcfd"/><stop offset="0.283" stop-color="#fadddd"/><stop offset="0.369" stop-color="#f7c1c2"/><stop offset="0.456" stop-color="#fad9d9"/><stop offset="1" stop-color="#fadada"/></linearGradient><linearGradient id="h143" x1="119.3" x2="454.9" gradientUnits="userSpaceOnUse"><stop offset="0" stop-color="#ffffff"/><stop offset="0.122" stop-color="#fffdfd"/><stop offset="0.134" stop-color="#fef5f5"/><stop offset="0.155" stop-color="#f9d3d3"/><stop offset="0.173" stop-color="#f8cfcf"/><stop offset="0.197" stop-color="#fad7d7"/><stop offset="0.215" stop-color="#fffefe"/><stop offset="0.226" stop-color="#dee5f2"/><stop offset="0.235" stop-color="#d6dfef"/><stop offset="0.244" stop-color="#dfe6f2"/><stop offset="0.256" stop-color="#fbfcfd"/><stop offset="0.283" stop-color="#fadddd"/><stop offset="0.369" stop-color="#f7c0c1"/><stop offset="0.456" stop-color="#fad9d9"/><stop offset="1" stop-color="#fad9d9"/></linearGradient><linearGradient id="h144" x1="119.3" x2="454.9" gradientUnits="userSpaceOnUse"><stop offset="0" stop-color="#ffffff"/><stop offset="0.122" stop-color="#fffdfd"/><stop offset="0.134" stop-color="#fef5f5"/><stop offset="0.155" stop-color="#f9d3d3"/><stop offset="0.173" stop-color="#f8cece"/><stop offset="0.197" stop-color="#f9d6d6"/><stop offset="0.215" stop-color="#fffefe"/><stop offset="0.226" stop-color="#dee5f2"/><stop offset="0.235" stop-color="#d6dfef"/><stop offset="0.244" stop-color="#dfe6f2"/><stop offset="0.256" stop-color="#fbfcfe"/><stop offset="0.283" stop-color="#fadcdc"/><stop offset="0.369" stop-color="#f7c0c0"/><stop offset="0.456" stop-color="#fad8d8"/><stop offset="1" stop-color="#fad9d9"/></linearGradient><linearGradient id="h145" x1="119.3" x2="454.9" gradientUnits="userSpaceOnUse"><stop offset="0" stop-color="#ffffff"/><stop offset="0.122" stop-color="#fffdfd"/><stop offset="0.134" stop-color="#fef5f5"/><stop offset="0.155" stop-color="#f9d2d2"/><stop offset="0.173" stop-color="#f8cece"/><stop offset="0.197" stop-color="#f9d6d6"/><stop offset="0.215" stop-color="#fffdfd"/><stop offset="0.226" stop-color="#dee5f2"/><stop offset="0.235" stop-color="#d6dfef"/><stop offset="0.244" stop-color="#dfe6f3"/><stop offset="0.256" stop-color="#fcfcfe"/><stop offset="0.283" stop-color="#fadcdc"/><stop offset="0.369" stop-color="#f7bfc0"/><stop offset="0.456" stop-color="#fad8d8"/><stop offset="1" stop-color="#fad8d8"/></linearGradient><linearGradient id="h146" x1="119.3" x2="454.9" gradientUnits="userSpaceOnUse"><stop offset="0" stop-color="#ffffff"/><stop offset="0.122" stop-color="#fffdfd"/><stop offset="0.134" stop-color="#fef5f5"/><stop offset="0.155" stop-color="#f9d2d2"/><stop offset="0.173" stop-color="#f8cece"/><stop offset="0.197" stop-color="#f9d6d6"/><stop offset="0.215" stop-color="#fffdfd"/><stop offset="0.226" stop-color="#dee5f2"/><stop offset="0.235" stop-color="#d6dfef"/><stop offset="0.244" stop-color="#dfe6f3"/><stop offset="0.256" stop-color="#fcfcfe"/><stop offset="0.283" stop-color="#fadcdc"/><stop offset="0.369" stop-color="#f7bfc0"/><stop offset="0.456" stop-color="#fad8d8"/><stop offset="1" stop-color="#fad8d8"/></linearGradient><linearGradient id="h147" x1="119.3" x2="454.9" gradientUnits="userSpaceOnUse"><stop offset="0" stop-color="#ffffff"/><stop offset="0.122" stop-color="#fffdfd"/><stop offset="0.134" stop-color="#fef5f5"/><stop offset="0.155" stop-color="#f9d3d3"/><stop offset="0.173" stop-color="#f8cece"/><stop offset="0.197" stop-color="#f9d6d6"/><stop offset="0.215" stop-color="#fffefe"/><stop offset="0.226" stop-color="#dee5f2"/><stop offset="0.235" stop-color="#d6dfef"/><stop offset="0.244" stop-color="#dfe6f2"/><stop offset="0.256" stop-color="#fbfcfe"/><stop offset="0.283" stop-color="#fadcdc"/><stop offset="0.369" stop-color="#f7c0c0"/><stop offset="0.456" stop-color="#fad8d8"/><stop offset="1" stop-color="#fad9d9"/></linearGradient><linearGradient id="h148" x1="119.3" x2="454.9" gradientUnits="userSpaceOnUse"><stop offset="0" stop-color="#ffffff"/><stop offset="0.122" stop-color="#fffdfd"/><stop offset="0.134" stop-color="#fef6f6"/><stop offset="0.155" stop-color="#f9d3d3"/><stop offset="0.173" stop-color="#f8cfcf"/><stop offset="0.197" stop-color="#fad7d7"/><stop offset="0.215" stop-color="#fffefe"/><stop offset="0.226" stop-color="#dee5f2"/><stop offset="0.235" stop-color="#d6dfef"/><stop offset="0.244" stop-color="#dfe6f2"/><stop offset="0.256" stop-color="#fbfcfd"/><stop offset="0.283" stop-color="#fadddd"/><stop offset="0.369" stop-color="#f7c1c1"/><stop offset="0.456" stop-color="#fad9d9"/><stop offset="1" stop-color="#fad9d9"/></linearGradient><linearGradient id="h149" x1="119.3" x2="454.9" gradientUnits="userSpaceOnUse"><stop offset="0" stop-color="#ffffff"/><stop offset="0.122" stop-color="#fffefe"/><stop offset="0.134" stop-color="#fef6f6"/><stop offset="0.155" stop-color="#f9d4d4"/><stop offset="0.173" stop-color="#f9d0d0"/><stop offset="0.197" stop-color="#fad8d8"/><stop offset="0.215" stop-color="#fffefe"/><stop offset="0.226" stop-color="#dde5f2"/><stop offset="0.235" stop-color="#d6dfef"/><stop offset="0.244" stop-color="#dee6f2"/><stop offset="0.256" stop-color="#fbfcfd"/><stop offset="0.283" stop-color="#fadede"/><stop offset="0.369" stop-color="#f7c2c2"/><stop offset="0.456" stop-color="#fadada"/><stop offset="1" stop-color="#fadada"/></linearGradient><linearGradient id="h14a" x1="119.3" x2="454.9" gradientUnits="userSpaceOnUse"><stop offset="0" stop-color="#ffffff"/><stop offset="0.122" stop-color="#fffefe"/><stop offset="0.134" stop-color="#fef6f6"/><stop offset="0.155" stop-color="#f9d5d5"/><stop offset="0.173" stop-color="#f9d1d1"/><stop offset="0.197" stop-color="#fad9d9"/><stop offset="0.215" stop-color="#ffffff"/><stop offset="0.226" stop-color="#dde5f2"/><stop offset="0.235" stop-color="#d6dfef"/><stop offset="0.244" stop-color="#dee6f2"/><stop offset="0.259" stop-color="#fffdfd"/><stop offset="0.271" stop-color="#fce8e8"/><stop offset="0.283" stop-color="#fbdede"/><stop offset="0.369" stop-color="#f7c3c3"/><stop offset="0.456" stop-color="#fadada"/><stop offset="1" stop-color="#fadbdb"/></linearGradient><linearGradient id="h14b" x1="119.3" x2="454.9" gradientUnits="userSpaceOnUse"><stop offset="0" stop-color="#ffffff"/><stop offset="0.122" stop-color="#fffefe"/><stop offset="0.134" stop-color="#fef6f6"/><stop offset="0.155" stop-color="#f9d6d6"/><stop offset="0.173" stop-color="#f9d2d2"/><stop offset="0.197" stop-color="#fadada"/><stop offset="0.215" stop-color="#fefeff"/><stop offset="0.226" stop-color="#dde4f2"/><stop offset="0.235" stop-color="#d5dfef"/><stop offset="0.244" stop-color="#dee5f2"/><stop offset="0.259" stop-color="#fffdfd"/><stop offset="0.271" stop-color="#fce9e9"/><stop offset="0.283" stop-color="#fbdfdf"/><stop offset="0.369" stop-color="#f7c5c5"/><stop offset="0.456" stop-color="#fadbdb"/><stop offset="1" stop-color="#fadcdc"/></linearGradient><linearGradient id="h14c" x1="119.3" x2="454.9" gradientUnits="userSpaceOnUse"><stop offset="0" stop-color="#ffffff"/><stop offset="0.122" stop-color="#fffefe"/><stop offset="0.134" stop-color="#fef6f6"/><stop offset="0.155" stop-color="#fad8d8"/><stop offset="0.173" stop-color="#f9d3d3"/><stop offset="0.197" stop-color="#fadcdc"/><stop offset="0.215" stop-color="#fefefe"/><stop offset="0.226" stop-color="#dde4f2"/><stop offset="0.235" stop-color="#d5deef"/><stop offset="0.244" stop-color="#dee5f2"/><stop offset="0.259" stop-color="#fffefe"/><stop offset="0.271" stop-color="#fceaea"/><stop offset="0.283" stop-color="#fbe0e0"/><stop offset="0.369" stop-color="#f7c6c7"/><stop offset="0.456" stop-color="#fadddd"/><stop offset="1" stop-color="#fadddd"/></linearGradient><linearGradient id="h14d" x1="119.3" x2="454.9" gradientUnits="userSpaceOnUse"><stop offset="0" stop-color="#ffffff"/><stop offset="0.122" stop-color="#fffefe"/><stop offset="0.134" stop-color="#fef7f7"/><stop offset="0.152" stop-color="#fadbdb"/><stop offset="0.17" stop-color="#f9d5d5"/><stop offset="0.194" stop-color="#fadada"/><stop offset="0.212" stop-color="#fef9f9"/><stop offset="0.215" stop-color="#fdfdfe"/><stop offset="0.226" stop-color="#dce4f1"/><stop offset="0.235" stop-color="#d5deef"/><stop offset="0.244" stop-color="#dde5f2"/><stop offset="0.259" stop-color="#fffefe"/><stop offset="0.271" stop-color="#fcebeb"/><stop offset="0.283" stop-color="#fbe1e1"/><stop offset="0.369" stop-color="#f8c8c8"/><stop offset="0.456" stop-color="#fadede"/><stop offset="1" stop-color="#fadede"/></linearGradient><linearGradient id="h14e" x1="119.3" x2="454.9" gradientUnits="userSpaceOnUse"><stop offset="0" stop-color="#ffffff"/><stop offset="0.122" stop-color="#fffefe"/><stop offset="0.134" stop-color="#fef7f7"/><stop offset="0.152" stop-color="#fadcdc"/><stop offset="0.17" stop-color="#f9d6d6"/><stop offset="0.194" stop-color="#fadcdc"/><stop offset="0.212" stop-color="#fefafa"/><stop offset="0.215" stop-color="#fcfdfe"/><stop offset="0.226" stop-color="#dce4f1"/><stop offset="0.235" stop-color="#d5deef"/><stop offset="0.244" stop-color="#dde5f2"/><stop offset="0.259" stop-color="#ffffff"/><stop offset="0.271" stop-color="#fcecec"/><stop offset="0.283" stop-color="#fbe2e2"/><stop offset="0.369" stop-color="#f8caca"/><stop offset="0.456" stop-color="#fbdfdf"/><stop offset="1" stop-color="#fbdfdf"/></linearGradient><linearGradient id="h14f" x1="119.3" x2="454.9" gradientUnits="userSpaceOnUse"><stop offset="0" stop-color="#ffffff"/><stop offset="0.122" stop-color="#fffefe"/><stop offset="0.134" stop-color="#fef7f7"/><stop offset="0.152" stop-color="#fadede"/><stop offset="0.17" stop-color="#fad7d7"/><stop offset="0.194" stop-color="#fadddd"/><stop offset="0.212" stop-color="#fefafa"/><stop offset="0.215" stop-color="#fbfcfd"/><stop offset="0.226" stop-color="#dce3f1"/><stop offset="0.235" stop-color="#d5deee"/><stop offset="0.244" stop-color="#dde4f2"/><stop offset="0.259" stop-color="#ffffff"/><stop offset="0.283" stop-color="#fbe3e3"/><stop offset="0.369" stop-color="#f8cbcb"/><stop offset="0.456" stop-color="#fbe0e0"/><stop offset="1" stop-color="#fbe0e0"/></linearGradient><linearGradient id="h150" x1="119.3" x2="454.9" gradientUnits="userSpaceOnUse"><stop offset="0" stop-color="#ffffff"/><stop offset="0.122" stop-color="#fffefe"/><stop offset="0.134" stop-color="#fef7f7"/><stop offset="0.152" stop-color="#fbdfdf"/><stop offset="0.17" stop-color="#fad8d8"/><stop offset="0.194" stop-color="#fadede"/><stop offset="0.212" stop-color="#fefbfb"/><stop offset="0.215" stop-color="#fafbfd"/><stop offset="0.226" stop-color="#dbe3f1"/><stop offset="0.235" stop-color="#d4deee"/><stop offset="0.244" stop-color="#dce4f2"/><stop offset="0.259" stop-color="#fefeff"/><stop offset="0.262" stop-color="#fefafa"/><stop offset="0.283" stop-color="#fbe4e4"/><stop offset="0.369" stop-color="#f8cdcd"/><stop offset="0.456" stop-color="#fbe1e1"/><stop offset="1" stop-color="#fbe1e1"/></linearGradient><linearGradient id="h151" x1="119.3" x2="454.9" gradientUnits="userSpaceOnUse"><stop offset="0" stop-color="#ffffff"/><stop offset="0.122" stop-color="#fffefe"/><stop offset="0.134" stop-color="#fef8f8"/><stop offset="0.152" stop-color="#fbdfdf"/><stop offset="0.17" stop-color="#fadada"/><stop offset="0.194" stop-color="#fbdfdf"/><stop offset="0.212" stop-color="#fffcfc"/><stop offset="0.226" stop-color="#dbe3f1"/><stop offset="0.235" stop-color="#d4deee"/><stop offset="0.244" stop-color="#dce4f1"/><stop offset="0.259" stop-color="#fdfefe"/><stop offset="0.262" stop-color="#fefbfb"/><stop offset="0.283" stop-color="#fbe5e5"/><stop offset="0.369" stop-color="#f8cece"/><stop offset="0.456" stop-color="#fbe1e1"/><stop offset="1" stop-color="#fbe2e2"/></linearGradient><linearGradient id="h152" x1="119.3" x2="454.9" gradientUnits="userSpaceOnUse"><stop offset="0" stop-color="#ffffff"/><stop offset="0.122" stop-color="#fffefe"/><stop offset="0.134" stop-color="#fef8f8"/><stop offset="0.152" stop-color="#fbe0e0"/><stop offset="0.17" stop-color="#fadada"/><stop offset="0.194" stop-color="#fbe0e0"/><stop offset="0.212" stop-color="#fffcfc"/><stop offset="0.226" stop-color="#dbe3f1"/><stop offset="0.235" stop-color="#d4ddee"/><stop offset="0.244" stop-color="#dce4f1"/><stop offset="0.259" stop-color="#fdfdfe"/><stop offset="0.262" stop-color="#fffbfb"/><stop offset="0.283" stop-color="#fce6e6"/><stop offset="0.369" stop-color="#f8cfcf"/><stop offset="0.456" stop-color="#fbe2e2"/><stop offset="1" stop-color="#fbe2e2"/></linearGradient><linearGradient id="h153" x1="119.3" x2="454.9" gradientUnits="userSpaceOnUse"><stop offset="0" stop-color="#ffffff"/><stop offset="0.122" stop-color="#fffefe"/><stop offset="0.134" stop-color="#fef8f8"/><stop offset="0.152" stop-color="#fbe1e1"/><stop offset="0.17" stop-color="#fadbdb"/><stop offset="0.194" stop-color="#fbe1e1"/><stop offset="0.212" stop-color="#fffdfd"/><stop offset="0.226" stop-color="#dae2f1"/><stop offset="0.235" stop-color="#d3ddee"/><stop offset="0.244" stop-color="#dbe3f1"/><stop offset="0.262" stop-color="#fffcfc"/><stop offset="0.283" stop-color="#fce6e6"/><stop offset="0.369" stop-color="#f9d0d0"/><stop offset="0.456" stop-color="#fbe3e3"/><stop offset="1" stop-color="#fbe3e3"/></linearGradient><linearGradient id="h154" x1="119.3" x2="454.9" gradientUnits="userSpaceOnUse"><stop offset="0" stop-color="#ffffff"/><stop offset="0.122" stop-color="#fffefe"/><stop offset="0.134" stop-color="#fef8f8"/><stop offset="0.155" stop-color="#fbe0e0"/><stop offset="0.173" stop-color="#fadddd"/><stop offset="0.197" stop-color="#fbe4e4"/><stop offset="0.212" stop-color="#fffefe"/><stop offset="0.226" stop-color="#dae2f0"/><stop offset="0.235" stop-color="#d3ddee"/><stop offset="0.244" stop-color="#dbe3f1"/><stop offset="0.262" stop-color="#fffdfd"/><stop offset="0.283" stop-color="#fce7e7"/><stop offset="0.369" stop-color="#f9d2d2"/><stop offset="0.456" stop-color="#fbe4e4"/><stop offset="1" stop-color="#fbe4e4"/></linearGradient><linearGradient id="h155" x1="119.3" x2="454.9" gradientUnits="userSpaceOnUse"><stop offset="0" stop-color="#ffffff"/><stop offset="0.122" stop-color="#fffefe"/><stop offset="0.155" stop-color="#fbe2e2"/><stop offset="0.173" stop-color="#fbdfdf"/><stop offset="0.197" stop-color="#fce6e6"/><stop offset="0.212" stop-color="#ffffff"/><stop offset="0.223" stop-color="#dee6f2"/><stop offset="0.235" stop-color="#d2dcee"/><stop offset="0.244" stop-color="#dae2f1"/><stop offset="0.262" stop-color="#fffefe"/><stop offset="0.283" stop-color="#fce9e9"/><stop offset="0.369" stop-color="#f9d4d4"/><stop offset="0.456" stop-color="#fce5e5"/><stop offset="1" stop-color="#fce6e6"/></linearGradient><linearGradient id="h156" x1="119.3" x2="454.9" gradientUnits="userSpaceOnUse"><stop offset="0" stop-color="#ffffff"/><stop offset="0.122" stop-color="#fffefe"/><stop offset="0.152" stop-color="#fce7e7"/><stop offset="0.17" stop-color="#fbe2e2"/><stop offset="0.194" stop-color="#fce7e7"/><stop offset="0.209" stop-color="#fefbfb"/><stop offset="0.212" stop-color="#fcfdfe"/><stop offset="0.226" stop-color="#d7e0f0"/><stop offset="0.235" stop-color="#d1dbed"/><stop offset="0.244" stop-color="#d9e1f0"/><stop offset="0.262" stop-color="#fefeff"/><stop offset="0.283" stop-color="#fcebeb"/><stop offset="0.369" stop-color="#fad9d9"/><stop offset="0.456" stop-color="#fce8e8"/><stop offset="1" stop-color="#fce9e9"/></linearGradient><linearGradient id="h157" x1="119.3" x2="454.9" gradientUnits="userSpaceOnUse"><stop offset="0" stop-color="#ffffff"/><stop offset="0.122" stop-color="#fffefe"/><stop offset="0.17" stop-color="#fce8e8"/><stop offset="0.194" stop-color="#fdeded"/><stop offset="0.209" stop-color="#feffff"/><stop offset="0.223" stop-color="#dae3f1"/><stop offset="0.235" stop-color="#cfdaec"/><stop offset="0.244" stop-color="#d7e0ef"/><stop offset="0.265" stop-color="#fffefe"/><stop offset="0.286" stop-color="#fdefef"/><stop offset="0.369" stop-color="#fbe1e1"/><stop offset="0.456" stop-color="#fdeded"/><stop offset="1" stop-color="#fdeded"/></linearGradient><linearGradient id="h158" x1="119.3" x2="454.9" gradientUnits="userSpaceOnUse"><stop offset="0" stop-color="#ffffff"/><stop offset="0.122" stop-color="#ffffff"/><stop offset="0.167" stop-color="#fdf0f0"/><stop offset="0.188" stop-color="#fdf2f2"/><stop offset="0.203" stop-color="#fffcfc"/><stop offset="0.206" stop-color="#fdfefe"/><stop offset="0.226" stop-color="#d3ddee"/><stop offset="0.235" stop-color="#cdd8ec"/><stop offset="0.244" stop-color="#d4deee"/><stop offset="0.268" stop-color="#ffffff"/><stop offset="0.286" stop-color="#fef5f5"/><stop offset="0.369" stop-color="#fcebeb"/><stop offset="0.456" stop-color="#fdf3f3"/><stop offset="1" stop-color="#fdf3f3"/></linearGradient><linearGradient id="h159" x1="119.3" x2="454.9" gradientUnits="userSpaceOnUse"><stop offset="0" stop-color="#ffffff"/><stop offset="0.122" stop-color="#ffffff"/><stop offset="0.167" stop-color="#fef7f7"/><stop offset="0.2" stop-color="#fefeff"/><stop offset="0.223" stop-color="#d4deee"/><stop offset="0.235" stop-color="#cbd6eb"/><stop offset="0.244" stop-color="#d1dced"/><stop offset="0.274" stop-color="#ffffff"/><stop offset="0.369" stop-color="#fef4f4"/><stop offset="1" stop-color="#fef9f9"/></linearGradient><linearGradient id="h15a" x1="119.3" x2="454.9" gradientUnits="userSpaceOnUse"><stop offset="0" stop-color="#ffffff"/><stop offset="0.191" stop-color="#ffffff"/><stop offset="0.206" stop-color="#f1f4fa"/><stop offset="0.226" stop-color="#cdd8ec"/><stop offset="0.235" stop-color="#c8d4e9"/><stop offset="0.244" stop-color="#cfd9ec"/><stop offset="0.268" stop-color="#f5f8fb"/><stop offset="0.283" stop-color="#ffffff"/><stop offset="1" stop-color="#fffdfd"/></linearGradient><linearGradient id="h15b" x1="119.3" x2="454.9" gradientUnits="userSpaceOnUse"><stop offset="0" stop-color="#ffffff"/><stop offset="0.185" stop-color="#fefeff"/><stop offset="0.2" stop-color="#f5f7fb"/><stop offset="0.226" stop-color="#cad6ea"/><stop offset="0.235" stop-color="#c4d2e8"/><stop offset="0.244" stop-color="#cbd7eb"/><stop offset="0.271" stop-color="#f5f7fb"/><stop offset="0.295" stop-color="#fefeff"/><stop offset="1" stop-color="#fefeff"/></linearGradient><linearGradient id="h15c" x1="119.3" x2="454.9" gradientUnits="userSpaceOnUse"><stop offset="0" stop-color="#ffffff"/><stop offset="0.182" stop-color="#fcfdfe"/><stop offset="0.2" stop-color="#f2f5fa"/><stop offset="0.226" stop-color="#c5d2e8"/><stop offset="0.235" stop-color="#c0cee6"/><stop offset="0.244" stop-color="#c7d3e9"/><stop offset="0.271" stop-color="#f1f4fa"/><stop offset="0.295" stop-color="#fafbfd"/><stop offset="1" stop-color="#fafbfd"/></linearGradient><linearGradient id="h15d" x1="119.3" x2="454.9" gradientUnits="userSpaceOnUse"><stop offset="0" stop-color="#ffffff"/><stop offset="0.182" stop-color="#fafbfd"/><stop offset="0.2" stop-color="#edf1f8"/><stop offset="0.226" stop-color="#bfcee6"/><stop offset="0.235" stop-color="#b9c9e3"/><stop offset="0.244" stop-color="#c0cfe6"/><stop offset="0.271" stop-color="#ebf0f7"/><stop offset="0.292" stop-color="#f4f6fb"/><stop offset="1" stop-color="#f5f7fb"/></linearGradient><linearGradient id="h15e" x1="119.3" x2="454.9" gradientUnits="userSpaceOnUse"><stop offset="0" stop-color="#ffffff"/><stop offset="0.179" stop-color="#f8f9fc"/><stop offset="0.2" stop-color="#e8edf6"/><stop offset="0.226" stop-color="#b7c8e2"/><stop offset="0.235" stop-color="#b1c3df"/><stop offset="0.244" stop-color="#b8c8e2"/><stop offset="0.271" stop-color="#e4eaf4"/><stop offset="0.292" stop-color="#edf1f8"/><stop offset="1" stop-color="#edf1f8"/></linearGradient><linearGradient id="h15f" x1="119.3" x2="454.9" gradientUnits="userSpaceOnUse"><stop offset="0" stop-color="#ffffff"/><stop offset="0.173" stop-color="#f7f9fc"/><stop offset="0.197" stop-color="#e8edf6"/><stop offset="0.226" stop-color="#b0c3df"/><stop offset="0.235" stop-color="#a9bedc"/><stop offset="0.244" stop-color="#b0c3df"/><stop offset="0.271" stop-color="#dde5f2"/><stop offset="0.292" stop-color="#e6ecf5"/><stop offset="1" stop-color="#e7ecf6"/></linearGradient><linearGradient id="h160" x1="119.3" x2="454.9" gradientUnits="userSpaceOnUse"><stop offset="0" stop-color="#ffffff"/><stop offset="0.128" stop-color="#fefeff"/><stop offset="0.173" stop-color="#f6f8fc"/><stop offset="0.197" stop-color="#e5ebf5"/><stop offset="0.226" stop-color="#abbfdd"/><stop offset="0.235" stop-color="#a4bada"/><stop offset="0.244" stop-color="#abbfdd"/><stop offset="0.271" stop-color="#d9e1f0"/><stop offset="0.292" stop-color="#e2e8f4"/><stop offset="1" stop-color="#e2e9f4"/></linearGradient><linearGradient id="h161" x1="119.3" x2="454.9" gradientUnits="userSpaceOnUse"><stop offset="0" stop-color="#ffffff"/><stop offset="0.128" stop-color="#fefeff"/><stop offset="0.173" stop-color="#f5f7fb"/><stop offset="0.197" stop-color="#e3e9f4"/><stop offset="0.226" stop-color="#a8bddc"/><stop offset="0.235" stop-color="#a1b8d9"/><stop offset="0.244" stop-color="#a8bddc"/><stop offset="0.271" stop-color="#d7e0ef"/><stop offset="0.292" stop-color="#e0e7f3"/><stop offset="1" stop-color="#e0e7f3"/></linearGradient><linearGradient id="h162" x1="119.3" x2="454.9" gradientUnits="userSpaceOnUse"><stop offset="0" stop-color="#ffffff"/><stop offset="0.125" stop-color="#fefeff"/><stop offset="0.17" stop-color="#f6f8fc"/><stop offset="0.197" stop-color="#e3e9f4"/><stop offset="0.226" stop-color="#a7bcdb"/><stop offset="0.235" stop-color="#a0b7d8"/><stop offset="0.244" stop-color="#a7bcdb"/><stop offset="0.271" stop-color="#d5dfef"/><stop offset="0.292" stop-color="#dfe6f2"/><stop offset="1" stop-color="#dfe6f3"/></linearGradient><linearGradient id="h163" x1="119.3" x2="454.9" gradientUnits="userSpaceOnUse"><stop offset="0" stop-color="#ffffff"/><stop offset="0.125" stop-color="#fefeff"/><stop offset="0.17" stop-color="#f6f8fc"/><stop offset="0.197" stop-color="#e2e9f4"/><stop offset="0.226" stop-color="#a6bbdb"/><stop offset="0.235" stop-color="#9fb6d8"/><stop offset="0.244" stop-color="#a6bcdb"/><stop offset="0.271" stop-color="#d5deef"/><stop offset="0.292" stop-color="#dee6f2"/><stop offset="1" stop-color="#dfe6f3"/></linearGradient><linearGradient id="h164" x1="119.3" x2="454.9" gradientUnits="userSpaceOnUse"><stop offset="0" stop-color="#ffffff"/><stop offset="0.125" stop-color="#fefeff"/><stop offset="0.17" stop-color="#f6f8fc"/><stop offset="0.197" stop-color="#e2e8f4"/><stop offset="0.226" stop-color="#a5bbda"/><stop offset="0.235" stop-color="#9eb6d7"/><stop offset="0.244" stop-color="#a6bbdb"/><stop offset="0.271" stop-color="#d5deef"/><stop offset="0.292" stop-color="#dee5f2"/><stop offset="1" stop-color="#dfe6f2"/></linearGradient><linearGradient id="h165" x1="119.3" x2="454.9" gradientUnits="userSpaceOnUse"><stop offset="0" stop-color="#ffffff"/><stop offset="0.125" stop-color="#fefeff"/><stop offset="0.17" stop-color="#f6f8fc"/><stop offset="0.197" stop-color="#e2e8f4"/><stop offset="0.226" stop-color="#a5bbda"/><stop offset="0.235" stop-color="#9eb6d7"/><stop offset="0.244" stop-color="#a5bbda"/><stop offset="0.271" stop-color="#d5deef"/><stop offset="0.292" stop-color="#dee5f2"/><stop offset="1" stop-color="#dfe6f2"/></linearGradient><linearGradient id="h166" x1="119.3" x2="454.9" gradientUnits="userSpaceOnUse"><stop offset="0" stop-color="#ffffff"/><stop offset="0.125" stop-color="#fefeff"/><stop offset="0.17" stop-color="#f6f8fc"/><stop offset="0.197" stop-color="#e2e8f4"/><stop offset="0.226" stop-color="#a5bbda"/><stop offset="0.235" stop-color="#9eb6d7"/><stop offset="0.244" stop-color="#a5bbda"/><stop offset="0.271" stop-color="#d5deef"/><stop offset="0.292" stop-color="#dee5f2"/><stop offset="1" stop-color="#dfe6f2"/></linearGradient><linearGradient id="h167" x1="119.3" x2="454.9" gradientUnits="userSpaceOnUse"><stop offset="0" stop-color="#ffffff"/><stop offset="0.125" stop-color="#fefeff"/><stop offset="0.17" stop-color="#f6f8fc"/><stop offset="0.197" stop-color="#e2e8f4"/><stop offset="0.226" stop-color="#a5bbda"/><stop offset="0.235" stop-color="#9eb5d7"/><stop offset="0.244" stop-color="#a5bbda"/><stop offset="0.271" stop-color="#d5deef"/><stop offset="0.292" stop-color="#dee5f2"/><stop offset="1" stop-color="#dfe6f2"/></linearGradient><linearGradient id="h168" x1="119.3" x2="454.9" gradientUnits="userSpaceOnUse"><stop offset="0" stop-color="#ffffff"/><stop offset="0.125" stop-color="#fefeff"/><stop offset="0.17" stop-color="#f6f8fc"/><stop offset="0.197" stop-color="#e2e8f4"/><stop offset="0.226" stop-color="#a5bbda"/><stop offset="0.235" stop-color="#9eb5d7"/><stop offset="0.244" stop-color="#a5bbda"/><stop offset="0.271" stop-color="#d5deef"/><stop offset="0.292" stop-color="#dee5f2"/><stop offset="1" stop-color="#dfe6f2"/></linearGradient><linearGradient id="h169" x1="119.3" x2="454.9" gradientUnits="userSpaceOnUse"><stop offset="0" stop-color="#ffffff"/><stop offset="0.125" stop-color="#fefeff"/><stop offset="0.17" stop-color="#f6f8fc"/><stop offset="0.197" stop-color="#e2e8f4"/><stop offset="0.226" stop-color="#a5bbda"/><stop offset="0.235" stop-color="#9db5d7"/><stop offset="0.244" stop-color="#a5bbda"/><stop offset="0.271" stop-color="#d5deef"/><stop offset="0.292" stop-color="#dee5f2"/><stop offset="1" stop-color="#dfe6f2"/></linearGradient><linearGradient id="h16a" x1="119.3" x2="454.9" gradientUnits="userSpaceOnUse"><stop offset="0" stop-color="#ffffff"/><stop offset="0.125" stop-color="#fefeff"/><stop offset="0.17" stop-color="#f6f8fc"/><stop offset="0.197" stop-color="#e2e8f4"/><stop offset="0.226" stop-color="#a5bbda"/><stop offset="0.235" stop-color="#9db5d7"/><stop offset="0.244" stop-color="#a5bbda"/><stop offset="0.271" stop-color="#d5deee"/><stop offset="0.292" stop-color="#dee5f2"/><stop offset="1" stop-color="#dfe6f2"/></linearGradient><linearGradient id="h16b" x1="119.3" x2="454.9" gradientUnits="userSpaceOnUse"><stop offset="0" stop-color="#ffffff"/><stop offset="0.125" stop-color="#fefeff"/><stop offset="0.17" stop-color="#f6f8fc"/><stop offset="0.197" stop-color="#e2e8f4"/><stop offset="0.226" stop-color="#a5bbda"/><stop offset="0.235" stop-color="#9db5d7"/><stop offset="0.244" stop-color="#a5bbda"/><stop offset="0.271" stop-color="#d5deee"/><stop offset="0.292" stop-color="#dee5f2"/><stop offset="1" stop-color="#dfe6f2"/></linearGradient><clipPath id="bc0"><rect x="138.6" y="484.9" width="316.3" height="359.2"/></clipPath><linearGradient id="h16c" x1="485.3" x2="820.7" gradientUnits="userSpaceOnUse"><stop offset="0" stop-color="#ffffff"/><stop offset="0.054" stop-color="#ffffff"/><stop offset="0.057" stop-color="#fceaea"/><stop offset="0.075" stop-color="#fadddd"/><stop offset="0.095" stop-color="#f29c9d"/><stop offset="0.113" stop-color="#f19193"/><stop offset="0.143" stop-color="#f29c9d"/><stop offset="0.185" stop-color="#fadddd"/><stop offset="0.215" stop-color="#fceaea"/><stop offset="1" stop-color="#fcebeb"/></linearGradient><linearGradient id="h16d" x1="485.3" x2="820.7" gradientUnits="userSpaceOnUse"><stop offset="0" stop-color="#ffffff"/><stop offset="0.054" stop-color="#ffffff"/><stop offset="0.057" stop-color="#fdeded"/><stop offset="0.075" stop-color="#fbe0e0"/><stop offset="0.095" stop-color="#f29e9f"/><stop offset="0.113" stop-color="#f19394"/><stop offset="0.143" stop-color="#f29e9f"/><stop offset="0.185" stop-color="#fbe0e0"/><stop offset="0.215" stop-color="#fcecec"/><stop offset="1" stop-color="#fdeeee"/></linearGradient><linearGradient id="h16e" x1="485.3" x2="820.7" gradientUnits="userSpaceOnUse"><stop offset="0" stop-color="#ffffff"/><stop offset="0.054" stop-color="#ffffff"/><stop offset="0.057" stop-color="#fdf0f0"/><stop offset="0.075" stop-color="#fbe3e3"/><stop offset="0.095" stop-color="#f3a0a2"/><stop offset="0.113" stop-color="#f19597"/><stop offset="0.143" stop-color="#f3a0a2"/><stop offset="0.185" stop-color="#fbe3e3"/><stop offset="0.215" stop-color="#fdf0f0"/><stop offset="1" stop-color="#fdf1f1"/></linearGradient><linearGradient id="h16f" x1="485.3" x2="820.7" gradientUnits="userSpaceOnUse"><stop offset="0" stop-color="#ffffff"/><stop offset="0.054" stop-color="#ffffff"/><stop offset="0.057" stop-color="#fef4f4"/><stop offset="0.075" stop-color="#fce7e7"/><stop offset="0.095" stop-color="#f3a3a4"/><stop offset="0.113" stop-color="#f2989a"/><stop offset="0.143" stop-color="#f3a3a4"/><stop offset="0.182" stop-color="#fbe4e4"/><stop offset="0.215" stop-color="#fdf4f4"/><stop offset="1" stop-color="#fef5f5"/></linearGradient><linearGradient id="h170" x1="485.3" x2="820.7" gradientUnits="userSpaceOnUse"><stop offset="0" stop-color="#ffffff"/><stop offset="0.054" stop-color="#ffffff"/><stop offset="0.057" stop-color="#fef7f7"/><stop offset="0.069" stop-color="#fdf3f3"/><stop offset="0.078" stop-color="#fbe3e3"/><stop offset="0.095" stop-color="#f3a6a7"/><stop offset="0.113" stop-color="#f29b9c"/><stop offset="0.143" stop-color="#f3a6a7"/><stop offset="0.182" stop-color="#fce7e7"/><stop offset="0.215" stop-color="#fef7f7"/><stop offset="1" stop-color="#fef8f8"/></linearGradient><linearGradient id="h171" x1="485.3" x2="820.7" gradientUnits="userSpaceOnUse"><stop offset="0" stop-color="#ffffff"/><stop offset="0.054" stop-color="#ffffff"/><stop offset="0.069" stop-color="#fef5f5"/><stop offset="0.078" stop-color="#fce5e5"/><stop offset="0.095" stop-color="#f4a8a9"/><stop offset="0.113" stop-color="#f29d9e"/><stop offset="0.143" stop-color="#f4a8a9"/><stop offset="0.182" stop-color="#fceaea"/><stop offset="0.215" stop-color="#fef9f9"/><stop offset="1" stop-color="#fefbfb"/></linearGradient><linearGradient id="h172" x1="485.3" x2="820.7" gradientUnits="userSpaceOnUse"><stop offset="0" stop-color="#ffffff"/><stop offset="0.054" stop-color="#ffffff"/><stop offset="0.069" stop-color="#fef7f7"/><stop offset="0.078" stop-color="#fce7e7"/><stop offset="0.095" stop-color="#f4a9aa"/><stop offset="0.113" stop-color="#f29ea0"/><stop offset="0.143" stop-color="#f4a9aa"/><stop offset="0.182" stop-color="#fcebeb"/><stop offset="0.215" stop-color="#fefbfb"/><stop offset="1" stop-color="#fffcfc"/></linearGradient><linearGradient id="h173" x1="485.3" x2="820.7" gradientUnits="userSpaceOnUse"><stop offset="0" stop-color="#ffffff"/><stop offset="0.054" stop-color="#ffffff"/><stop offset="0.069" stop-color="#fef8f8"/><stop offset="0.078" stop-color="#fce8e8"/><stop offset="0.095" stop-color="#f4abac"/><stop offset="0.113" stop-color="#f3a0a1"/><stop offset="0.143" stop-color="#f4abac"/><stop offset="0.182" stop-color="#fceded"/><stop offset="0.215" stop-color="#fffcfc"/><stop offset="1" stop-color="#fffefe"/></linearGradient><linearGradient id="h174" x1="485.3" x2="820.7" gradientUnits="userSpaceOnUse"><stop offset="0" stop-color="#ffffff"/><stop offset="0.069" stop-color="#fef9f9"/><stop offset="0.078" stop-color="#fce9e9"/><stop offset="0.095" stop-color="#f4acad"/><stop offset="0.113" stop-color="#f3a2a3"/><stop offset="0.14" stop-color="#f4acad"/><stop offset="0.182" stop-color="#fdf0f0"/><stop offset="0.209" stop-color="#ffffff"/><stop offset="1" stop-color="#fefefe"/></linearGradient><linearGradient id="h175" x1="485.3" x2="820.7" gradientUnits="userSpaceOnUse"><stop offset="0" stop-color="#ffffff"/><stop offset="0.069" stop-color="#fef9f9"/><stop offset="0.078" stop-color="#fceaea"/><stop offset="0.095" stop-color="#f5afb0"/><stop offset="0.11" stop-color="#f3a5a6"/><stop offset="0.143" stop-color="#f5b5b6"/><stop offset="0.176" stop-color="#fdeded"/><stop offset="0.194" stop-color="#ffffff"/><stop offset="0.242" stop-color="#f7f9fc"/><stop offset="1" stop-color="#f9fafd"/></linearGradient><linearGradient id="h176" x1="485.3" x2="820.7" gradientUnits="userSpaceOnUse"><stop offset="0" stop-color="#ffffff"/><stop offset="0.069" stop-color="#fefafa"/><stop offset="0.078" stop-color="#fcecec"/><stop offset="0.095" stop-color="#f5b4b4"/><stop offset="0.11" stop-color="#f4aaab"/><stop offset="0.143" stop-color="#f6bdbe"/><stop offset="0.176" stop-color="#fdf3f3"/><stop offset="0.188" stop-color="#fefefe"/><stop offset="0.236" stop-color="#f2f5fa"/><stop offset="1" stop-color="#f5f7fb"/></linearGradient><linearGradient id="h177" x1="485.3" x2="820.7" gradientUnits="userSpaceOnUse"><stop offset="0" stop-color="#ffffff"/><stop offset="0.069" stop-color="#fefafa"/><stop offset="0.078" stop-color="#fdeeee"/><stop offset="0.095" stop-color="#f6bbbc"/><stop offset="0.107" stop-color="#f5b3b3"/><stop offset="0.143" stop-color="#f7c5c6"/><stop offset="0.185" stop-color="#feffff"/><stop offset="0.203" stop-color="#f4f7fb"/><stop offset="0.236" stop-color="#f1f4fa"/><stop offset="1" stop-color="#f5f7fb"/></linearGradient><linearGradient id="h178" x1="485.3" x2="820.7" gradientUnits="userSpaceOnUse"><stop offset="0" stop-color="#ffffff"/><stop offset="0.069" stop-color="#fefbfb"/><stop offset="0.078" stop-color="#fdf1f1"/><stop offset="0.095" stop-color="#f8c7c7"/><stop offset="0.107" stop-color="#f7c0c0"/><stop offset="0.146" stop-color="#f9d3d3"/><stop offset="0.182" stop-color="#ffffff"/><stop offset="0.2" stop-color="#f4f7fb"/><stop offset="0.233" stop-color="#f1f4fa"/><stop offset="0.292" stop-color="#f6f8fc"/><stop offset="1" stop-color="#f4f7fb"/></linearGradient><linearGradient id="h179" x1="485.3" x2="820.7" gradientUnits="userSpaceOnUse"><stop offset="0" stop-color="#ffffff"/><stop offset="0.069" stop-color="#fffcfc"/><stop offset="0.078" stop-color="#fef5f5"/><stop offset="0.095" stop-color="#f9d6d6"/><stop offset="0.107" stop-color="#f9d1d1"/><stop offset="0.143" stop-color="#fbe2e2"/><stop offset="0.176" stop-color="#fefefe"/><stop offset="0.197" stop-color="#f2f5fa"/><stop offset="0.233" stop-color="#eff2f9"/><stop offset="0.292" stop-color="#f8fafc"/><stop offset="0.34" stop-color="#f0f3f9"/><stop offset="1" stop-color="#f3f6fa"/></linearGradient><linearGradient id="h17a" x1="485.3" x2="820.7" gradientUnits="userSpaceOnUse"><stop offset="0" stop-color="#ffffff"/><stop offset="0.069" stop-color="#fffdfd"/><stop offset="0.104" stop-color="#fbe3e3"/><stop offset="0.149" stop-color="#ffffff"/><stop offset="0.182" stop-color="#e7edf6"/><stop offset="0.221" stop-color="#e1e8f3"/><stop offset="0.259" stop-color="#e3e9f4"/><stop offset="0.292" stop-color="#f0f3f9"/><stop offset="0.34" stop-color="#e3e9f4"/><stop offset="1" stop-color="#e9eef6"/></linearGradient><linearGradient id="h17b" x1="485.3" x2="820.7" gradientUnits="userSpaceOnUse"><stop offset="0" stop-color="#ffffff"/><stop offset="0.069" stop-color="#fffefe"/><stop offset="0.101" stop-color="#fdf0f0"/><stop offset="0.125" stop-color="#fefeff"/><stop offset="0.173" stop-color="#e3e9f4"/><stop offset="0.212" stop-color="#dde4f2"/><stop offset="0.259" stop-color="#dfe6f3"/><stop offset="0.292" stop-color="#f1f4fa"/><stop offset="0.34" stop-color="#dfe6f2"/><stop offset="1" stop-color="#e5ebf5"/></linearGradient><linearGradient id="h17c" x1="485.3" x2="820.7" gradientUnits="userSpaceOnUse"><stop offset="0" stop-color="#ffffff"/><stop offset="0.098" stop-color="#fef8f8"/><stop offset="0.116" stop-color="#feffff"/><stop offset="0.14" stop-color="#e7edf6"/><stop offset="0.206" stop-color="#dbe3f1"/><stop offset="0.256" stop-color="#dde4f2"/><stop offset="0.292" stop-color="#f4f6fb"/><stop offset="0.322" stop-color="#e0e7f3"/><stop offset="0.34" stop-color="#dde5f2"/><stop offset="1" stop-color="#e4eaf4"/></linearGradient><linearGradient id="h17d" x1="485.3" x2="820.7" gradientUnits="userSpaceOnUse"><stop offset="0" stop-color="#ffffff"/><stop offset="0.107" stop-color="#fffefe"/><stop offset="0.14" stop-color="#e0e7f3"/><stop offset="0.194" stop-color="#d9e1f0"/><stop offset="0.256" stop-color="#dbe3f1"/><stop offset="0.292" stop-color="#f5f7fb"/><stop offset="0.322" stop-color="#dfe6f3"/><stop offset="0.34" stop-color="#dbe3f1"/><stop offset="1" stop-color="#e2e9f4"/></linearGradient><linearGradient id="h17e" x1="485.3" x2="820.7" gradientUnits="userSpaceOnUse"><stop offset="0" stop-color="#ffffff"/><stop offset="0.101" stop-color="#ffffff"/><stop offset="0.137" stop-color="#d2dcee"/><stop offset="0.182" stop-color="#cbd7eb"/><stop offset="0.256" stop-color="#cdd8ec"/><stop offset="0.292" stop-color="#e9eef6"/><stop offset="0.322" stop-color="#d2dcee"/><stop offset="0.34" stop-color="#ced9ec"/><stop offset="1" stop-color="#d8e1f0"/></linearGradient><linearGradient id="h17f" x1="485.3" x2="820.7" gradientUnits="userSpaceOnUse"><stop offset="0" stop-color="#ffffff"/><stop offset="0.098" stop-color="#fefeff"/><stop offset="0.11" stop-color="#f6f8fc"/><stop offset="0.137" stop-color="#ccd7eb"/><stop offset="0.167" stop-color="#c6d3e9"/><stop offset="0.253" stop-color="#c7d4e9"/><stop offset="0.292" stop-color="#e5eaf5"/><stop offset="0.322" stop-color="#cdd8ec"/><stop offset="0.34" stop-color="#c9d5ea"/><stop offset="1" stop-color="#d4ddee"/></linearGradient><linearGradient id="h180" x1="485.3" x2="820.7" gradientUnits="userSpaceOnUse"><stop offset="0" stop-color="#ffffff"/><stop offset="0.098" stop-color="#fdfefe"/><stop offset="0.11" stop-color="#f5f7fb"/><stop offset="0.134" stop-color="#cdd8eb"/><stop offset="0.161" stop-color="#c4d2e8"/><stop offset="0.253" stop-color="#c6d3e9"/><stop offset="0.292" stop-color="#e4eaf4"/><stop offset="0.322" stop-color="#ccd7eb"/><stop offset="0.34" stop-color="#c8d4e9"/><stop offset="1" stop-color="#d3ddee"/></linearGradient><linearGradient id="h181" x1="485.3" x2="820.7" gradientUnits="userSpaceOnUse"><stop offset="0" stop-color="#ffffff"/><stop offset="0.098" stop-color="#fdfdfe"/><stop offset="0.11" stop-color="#f4f7fb"/><stop offset="0.134" stop-color="#cbd7eb"/><stop offset="0.161" stop-color="#c3d0e7"/><stop offset="0.253" stop-color="#c4d2e8"/><stop offset="0.292" stop-color="#e3e9f4"/><stop offset="0.322" stop-color="#cbd6eb"/><stop offset="0.34" stop-color="#c7d3e9"/><stop offset="1" stop-color="#d2dced"/></linearGradient><linearGradient id="h182" x1="485.3" x2="820.7" gradientUnits="userSpaceOnUse"><stop offset="0" stop-color="#ffffff"/><stop offset="0.098" stop-color="#fdfdfe"/><stop offset="0.11" stop-color="#f4f6fb"/><stop offset="0.134" stop-color="#c9d5ea"/><stop offset="0.158" stop-color="#c1cfe6"/><stop offset="0.253" stop-color="#c2d0e7"/><stop offset="0.292" stop-color="#e1e8f3"/><stop offset="0.322" stop-color="#c9d5ea"/><stop offset="0.34" stop-color="#c5d2e8"/><stop offset="1" stop-color="#d1dbed"/></linearGradient><linearGradient id="h183" x1="485.3" x2="820.7" gradientUnits="userSpaceOnUse"><stop offset="0" stop-color="#ffffff"/><stop offset="0.098" stop-color="#fcfdfe"/><stop offset="0.11" stop-color="#f3f5fa"/><stop offset="0.134" stop-color="#c3d1e7"/><stop offset="0.158" stop-color="#bacae3"/><stop offset="0.253" stop-color="#bccbe4"/><stop offset="0.292" stop-color="#dae3f1"/><stop offset="0.322" stop-color="#c2d0e7"/><stop offset="0.34" stop-color="#becde5"/><stop offset="1" stop-color="#cbd7eb"/></linearGradient><linearGradient id="h184" x1="485.3" x2="820.7" gradientUnits="userSpaceOnUse"><stop offset="0" stop-color="#ffffff"/><stop offset="0.098" stop-color="#fcfdfe"/><stop offset="0.11" stop-color="#f2f5fa"/><stop offset="0.134" stop-color="#c0cfe6"/><stop offset="0.158" stop-color="#b7c8e2"/><stop offset="0.253" stop-color="#b9c9e3"/><stop offset="0.292" stop-color="#d8e0f0"/><stop offset="0.322" stop-color="#bfcee6"/><stop offset="0.34" stop-color="#bbcbe4"/><stop offset="1" stop-color="#c9d5ea"/></linearGradient><linearGradient id="h185" x1="485.3" x2="820.7" gradientUnits="userSpaceOnUse"><stop offset="0" stop-color="#ffffff"/><stop offset="0.098" stop-color="#fcfdfe"/><stop offset="0.11" stop-color="#f2f5fa"/><stop offset="0.134" stop-color="#bfcee6"/><stop offset="0.158" stop-color="#b5c7e1"/><stop offset="0.253" stop-color="#b7c8e2"/><stop offset="0.292" stop-color="#d6dfef"/><stop offset="0.322" stop-color="#becde5"/><stop offset="0.34" stop-color="#bacae3"/><stop offset="1" stop-color="#c8d4ea"/></linearGradient><linearGradient id="h186" x1="485.3" x2="820.7" gradientUnits="userSpaceOnUse"><stop offset="0" stop-color="#ffffff"/><stop offset="0.098" stop-color="#fcfdfe"/><stop offset="0.11" stop-color="#f2f5fa"/><stop offset="0.134" stop-color="#becde5"/><stop offset="0.158" stop-color="#b4c6e1"/><stop offset="0.253" stop-color="#b6c7e2"/><stop offset="0.292" stop-color="#d5deef"/><stop offset="0.322" stop-color="#bdcce5"/><stop offset="0.34" stop-color="#b9c9e3"/><stop offset="1" stop-color="#c7d4e9"/></linearGradient><linearGradient id="h187" x1="485.3" x2="820.7" gradientUnits="userSpaceOnUse"><stop offset="0" stop-color="#ffffff"/><stop offset="0.098" stop-color="#fcfdfe"/><stop offset="0.11" stop-color="#f1f4f9"/><stop offset="0.134" stop-color="#b9cae3"/><stop offset="0.158" stop-color="#afc2de"/><stop offset="0.253" stop-color="#b0c3df"/><stop offset="0.292" stop-color="#d0daed"/><stop offset="0.322" stop-color="#b7c8e2"/><stop offset="0.34" stop-color="#b4c5e1"/><stop offset="1" stop-color="#c3d1e7"/></linearGradient><linearGradient id="h188" x1="485.3" x2="820.7" gradientUnits="userSpaceOnUse"><stop offset="0" stop-color="#ffffff"/><stop offset="0.098" stop-color="#fbfcfe"/><stop offset="0.11" stop-color="#eff2f9"/><stop offset="0.134" stop-color="#b1c3df"/><stop offset="0.158" stop-color="#a5bada"/><stop offset="0.253" stop-color="#a6bcdb"/><stop offset="0.292" stop-color="#c6d3e9"/><stop offset="0.322" stop-color="#aec1de"/><stop offset="0.34" stop-color="#aabfdd"/><stop offset="1" stop-color="#bccbe4"/></linearGradient><linearGradient id="h189" x1="485.3" x2="820.7" gradientUnits="userSpaceOnUse"><stop offset="0" stop-color="#ffffff"/><stop offset="0.098" stop-color="#fbfcfe"/><stop offset="0.11" stop-color="#eff2f9"/><stop offset="0.134" stop-color="#b1c3df"/><stop offset="0.158" stop-color="#a5bada"/><stop offset="0.253" stop-color="#a6bcdb"/><stop offset="0.292" stop-color="#c6d3e9"/><stop offset="0.322" stop-color="#aec1de"/><stop offset="0.34" stop-color="#aabfdd"/><stop offset="1" stop-color="#bccbe4"/></linearGradient><linearGradient id="h18a" x1="485.3" x2="820.7" gradientUnits="userSpaceOnUse"><stop offset="0" stop-color="#ffffff"/><stop offset="0.098" stop-color="#fbfcfe"/><stop offset="0.11" stop-color="#eff2f9"/><stop offset="0.134" stop-color="#b1c3df"/><stop offset="0.158" stop-color="#a5bada"/><stop offset="0.253" stop-color="#a6bcdb"/><stop offset="0.292" stop-color="#c6d3e9"/><stop offset="0.322" stop-color="#aec1de"/><stop offset="0.34" stop-color="#aabfdd"/><stop offset="1" stop-color="#bccbe4"/></linearGradient><linearGradient id="h18b" x1="485.3" x2="820.7" gradientUnits="userSpaceOnUse"><stop offset="0" stop-color="#ffffff"/><stop offset="0.098" stop-color="#fbfcfe"/><stop offset="0.11" stop-color="#eff2f9"/><stop offset="0.134" stop-color="#b1c3df"/><stop offset="0.158" stop-color="#a5bada"/><stop offset="0.253" stop-color="#a6bcdb"/><stop offset="0.292" stop-color="#c6d3e9"/><stop offset="0.322" stop-color="#aec1de"/><stop offset="0.34" stop-color="#aabfdd"/><stop offset="1" stop-color="#bccbe4"/></linearGradient><linearGradient id="h18c" x1="485.3" x2="820.7" gradientUnits="userSpaceOnUse"><stop offset="0" stop-color="#ffffff"/><stop offset="0.098" stop-color="#fbfcfe"/><stop offset="0.11" stop-color="#eff2f9"/><stop offset="0.134" stop-color="#b1c3df"/><stop offset="0.158" stop-color="#a5bada"/><stop offset="0.253" stop-color="#a6bcdb"/><stop offset="0.292" stop-color="#c6d3e9"/><stop offset="0.322" stop-color="#aec1de"/><stop offset="0.34" stop-color="#aabfdd"/><stop offset="1" stop-color="#bccbe4"/></linearGradient><linearGradient id="h18d" x1="485.3" x2="820.7" gradientUnits="userSpaceOnUse"><stop offset="0" stop-color="#ffffff"/><stop offset="0.098" stop-color="#fbfcfe"/><stop offset="0.11" stop-color="#eff2f9"/><stop offset="0.134" stop-color="#b1c3df"/><stop offset="0.158" stop-color="#a5bada"/><stop offset="0.253" stop-color="#a6bcdb"/><stop offset="0.292" stop-color="#c5d2e8"/><stop offset="0.322" stop-color="#aec1de"/><stop offset="0.34" stop-color="#aabfdd"/><stop offset="1" stop-color="#bccbe4"/></linearGradient><linearGradient id="h18e" x1="485.3" x2="820.7" gradientUnits="userSpaceOnUse"><stop offset="0" stop-color="#ffffff"/><stop offset="0.098" stop-color="#fbfcfe"/><stop offset="0.11" stop-color="#eff2f9"/><stop offset="0.134" stop-color="#b1c3df"/><stop offset="0.158" stop-color="#a5bada"/><stop offset="0.253" stop-color="#a6bcdb"/><stop offset="0.292" stop-color="#c3d0e7"/><stop offset="0.322" stop-color="#adc1de"/><stop offset="0.34" stop-color="#aabfdd"/><stop offset="1" stop-color="#bccbe4"/></linearGradient><linearGradient id="h18f" x1="485.3" x2="820.7" gradientUnits="userSpaceOnUse"><stop offset="0" stop-color="#ffffff"/><stop offset="0.098" stop-color="#fbfcfe"/><stop offset="0.11" stop-color="#eff2f9"/><stop offset="0.134" stop-color="#b1c3df"/><stop offset="0.158" stop-color="#a5bada"/><stop offset="0.253" stop-color="#a6bcdb"/><stop offset="0.292" stop-color="#becde5"/><stop offset="0.337" stop-color="#aabfdd"/><stop offset="1" stop-color="#bccbe4"/></linearGradient><linearGradient id="h190" x1="485.3" x2="820.7" gradientUnits="userSpaceOnUse"><stop offset="0" stop-color="#ffffff"/><stop offset="0.098" stop-color="#fbfcfe"/><stop offset="0.11" stop-color="#eff2f9"/><stop offset="0.134" stop-color="#b1c3df"/><stop offset="0.158" stop-color="#a5bada"/><stop offset="0.25" stop-color="#a5bbda"/><stop offset="0.292" stop-color="#b8c9e3"/><stop offset="0.337" stop-color="#aabedc"/><stop offset="1" stop-color="#bccbe4"/></linearGradient><linearGradient id="h191" x1="485.3" x2="820.7" gradientUnits="userSpaceOnUse"><stop offset="0" stop-color="#ffffff"/><stop offset="0.098" stop-color="#fbfcfe"/><stop offset="0.11" stop-color="#eff2f9"/><stop offset="0.134" stop-color="#b1c3df"/><stop offset="0.158" stop-color="#a5bada"/><stop offset="0.25" stop-color="#a5bbda"/><stop offset="0.292" stop-color="#b1c4e0"/><stop offset="0.337" stop-color="#aabedc"/><stop offset="1" stop-color="#bccbe4"/></linearGradient><linearGradient id="h192" x1="485.3" x2="820.7" gradientUnits="userSpaceOnUse"><stop offset="0" stop-color="#ffffff"/><stop offset="0.098" stop-color="#fcfdfe"/><stop offset="0.11" stop-color="#f3f6fa"/><stop offset="0.134" stop-color="#c5d2e8"/><stop offset="0.158" stop-color="#bccce4"/><stop offset="1" stop-color="#cdd8ec"/></linearGradient><linearGradient id="h193" x1="485.3" x2="820.7" gradientUnits="userSpaceOnUse"><stop offset="0" stop-color="#ffffff"/><stop offset="0.098" stop-color="#fdfefe"/><stop offset="0.11" stop-color="#f6f8fc"/><stop offset="0.134" stop-color="#d6dfef"/><stop offset="0.158" stop-color="#d0daed"/><stop offset="1" stop-color="#dce3f1"/></linearGradient><linearGradient id="h194" x1="485.3" x2="820.7" gradientUnits="userSpaceOnUse"><stop offset="0" stop-color="#ffffff"/><stop offset="0.098" stop-color="#fdfefe"/><stop offset="0.11" stop-color="#f6f8fc"/><stop offset="0.134" stop-color="#d6dfef"/><stop offset="0.158" stop-color="#d0daed"/><stop offset="1" stop-color="#dce3f1"/></linearGradient><linearGradient id="h195" x1="485.3" x2="820.7" gradientUnits="userSpaceOnUse"><stop offset="0" stop-color="#ffffff"/><stop offset="0.101" stop-color="#fcfdfe"/><stop offset="0.113" stop-color="#f3f6fa"/><stop offset="0.131" stop-color="#d9e1f0"/><stop offset="0.146" stop-color="#d1dbed"/><stop offset="0.295" stop-color="#cad6ea"/><stop offset="0.376" stop-color="#d3ddee"/><stop offset="1" stop-color="#dce4f1"/></linearGradient><linearGradient id="h196" x1="485.3" x2="820.7" gradientUnits="userSpaceOnUse"><stop offset="0" stop-color="#ffffff"/><stop offset="0.098" stop-color="#fdfefe"/><stop offset="0.143" stop-color="#d8e0f0"/><stop offset="0.25" stop-color="#d5deef"/><stop offset="0.298" stop-color="#c5d2e8"/><stop offset="0.367" stop-color="#d9e2f0"/><stop offset="1" stop-color="#e1e7f3"/></linearGradient><linearGradient id="h197" x1="485.3" x2="820.7" gradientUnits="userSpaceOnUse"><stop offset="0" stop-color="#ffffff"/><stop offset="0.095" stop-color="#feffff"/><stop offset="0.143" stop-color="#ebeff7"/><stop offset="0.247" stop-color="#e9eef6"/><stop offset="0.298" stop-color="#ccd7eb"/><stop offset="0.34" stop-color="#e7ecf6"/><stop offset="0.364" stop-color="#ecf0f7"/><stop offset="1" stop-color="#f0f3f9"/></linearGradient><linearGradient id="h198" x1="485.3" x2="820.7" gradientUnits="userSpaceOnUse"><stop offset="0" stop-color="#ffffff"/><stop offset="0.242" stop-color="#f7f9fc"/><stop offset="0.259" stop-color="#f1f4fa"/><stop offset="0.298" stop-color="#d1dbed"/><stop offset="0.34" stop-color="#f3f5fa"/><stop offset="0.364" stop-color="#f9fafd"/><stop offset="1" stop-color="#fbfcfd"/></linearGradient><linearGradient id="h199" x1="485.3" x2="820.7" gradientUnits="userSpaceOnUse"><stop offset="0" stop-color="#ffffff"/><stop offset="0.242" stop-color="#fefefe"/><stop offset="0.259" stop-color="#f6f8fb"/><stop offset="0.298" stop-color="#d1dbed"/><stop offset="0.31" stop-color="#d7e0ef"/><stop offset="0.34" stop-color="#f7f9fc"/><stop offset="0.364" stop-color="#ffffff"/><stop offset="1" stop-color="#fffefe"/></linearGradient><linearGradient id="h19a" x1="485.3" x2="820.7" gradientUnits="userSpaceOnUse"><stop offset="0" stop-color="#ffffff"/><stop offset="0.143" stop-color="#ffffff"/><stop offset="0.212" stop-color="#fef7f7"/><stop offset="0.256" stop-color="#fffefe"/><stop offset="0.286" stop-color="#dae3f1"/><stop offset="0.298" stop-color="#d4ddee"/><stop offset="0.31" stop-color="#dae2f1"/><stop offset="0.34" stop-color="#ffffff"/><stop offset="0.364" stop-color="#fef7f7"/><stop offset="0.474" stop-color="#fdf3f3"/><stop offset="1" stop-color="#fef6f6"/></linearGradient><linearGradient id="h19b" x1="485.3" x2="820.7" gradientUnits="userSpaceOnUse"><stop offset="0" stop-color="#ffffff"/><stop offset="0.134" stop-color="#fffefe"/><stop offset="0.215" stop-color="#fdefef"/><stop offset="0.244" stop-color="#fdf1f1"/><stop offset="0.262" stop-color="#ffffff"/><stop offset="0.283" stop-color="#dfe6f3"/><stop offset="0.298" stop-color="#d5deef"/><stop offset="0.31" stop-color="#dce4f1"/><stop offset="0.337" stop-color="#fffcfc"/><stop offset="0.364" stop-color="#fdefef"/><stop offset="0.474" stop-color="#fce8e8"/><stop offset="1" stop-color="#fdefef"/></linearGradient><linearGradient id="h19c" x1="485.3" x2="820.7" gradientUnits="userSpaceOnUse"><stop offset="0" stop-color="#ffffff"/><stop offset="0.134" stop-color="#fffefe"/><stop offset="0.179" stop-color="#fceded"/><stop offset="0.209" stop-color="#fce9e9"/><stop offset="0.244" stop-color="#fcecec"/><stop offset="0.262" stop-color="#fffcfc"/><stop offset="0.265" stop-color="#fefefe"/><stop offset="0.286" stop-color="#dde4f2"/><stop offset="0.298" stop-color="#d6dfef"/><stop offset="0.31" stop-color="#dde4f2"/><stop offset="0.334" stop-color="#fffdfd"/><stop offset="0.361" stop-color="#fcebeb"/><stop offset="0.474" stop-color="#fbe1e1"/><stop offset="0.605" stop-color="#fce9e9"/><stop offset="1" stop-color="#fce9e9"/></linearGradient><linearGradient id="h19d" x1="485.3" x2="820.7" gradientUnits="userSpaceOnUse"><stop offset="0" stop-color="#ffffff"/><stop offset="0.134" stop-color="#fffefe"/><stop offset="0.182" stop-color="#fce8e8"/><stop offset="0.215" stop-color="#fce6e6"/><stop offset="0.247" stop-color="#fceaea"/><stop offset="0.265" stop-color="#fffefe"/><stop offset="0.283" stop-color="#e1e8f3"/><stop offset="0.298" stop-color="#d7e0ef"/><stop offset="0.31" stop-color="#dee5f2"/><stop offset="0.331" stop-color="#ffffff"/><stop offset="0.346" stop-color="#fdeeee"/><stop offset="0.361" stop-color="#fce7e7"/><stop offset="0.474" stop-color="#fadbdb"/><stop offset="0.605" stop-color="#fbe5e5"/><stop offset="1" stop-color="#fce5e5"/></linearGradient><linearGradient id="h19e" x1="485.3" x2="820.7" gradientUnits="userSpaceOnUse"><stop offset="0" stop-color="#ffffff"/><stop offset="0.134" stop-color="#fffefe"/><stop offset="0.179" stop-color="#fce6e6"/><stop offset="0.212" stop-color="#fbe2e2"/><stop offset="0.244" stop-color="#fbe5e5"/><stop offset="0.265" stop-color="#fffcfc"/><stop offset="0.286" stop-color="#dfe6f3"/><stop offset="0.298" stop-color="#d8e1f0"/><stop offset="0.31" stop-color="#dfe6f3"/><stop offset="0.331" stop-color="#fffdfd"/><stop offset="0.346" stop-color="#fcebeb"/><stop offset="0.361" stop-color="#fbe3e3"/><stop offset="0.474" stop-color="#f9d6d6"/><stop offset="0.605" stop-color="#fbe1e1"/><stop offset="1" stop-color="#fbe1e1"/></linearGradient><linearGradient id="h19f" x1="485.3" x2="820.7" gradientUnits="userSpaceOnUse"><stop offset="0" stop-color="#ffffff"/><stop offset="0.134" stop-color="#fffdfd"/><stop offset="0.182" stop-color="#fbe1e1"/><stop offset="0.218" stop-color="#fadddd"/><stop offset="0.247" stop-color="#fbe2e2"/><stop offset="0.268" stop-color="#ffffff"/><stop offset="0.283" stop-color="#e5eaf5"/><stop offset="0.298" stop-color="#dbe3f1"/><stop offset="0.31" stop-color="#e2e8f4"/><stop offset="0.328" stop-color="#ffffff"/><stop offset="0.343" stop-color="#fceaea"/><stop offset="0.358" stop-color="#fbe0e0"/><stop offset="0.474" stop-color="#f9d0d0"/><stop offset="0.605" stop-color="#fadddd"/><stop offset="1" stop-color="#fadddd"/></linearGradient><linearGradient id="h1a0" x1="485.3" x2="820.7" gradientUnits="userSpaceOnUse"><stop offset="0" stop-color="#ffffff"/><stop offset="0.134" stop-color="#fffdfd"/><stop offset="0.182" stop-color="#fbdede"/><stop offset="0.218" stop-color="#fadada"/><stop offset="0.247" stop-color="#fbdfdf"/><stop offset="0.268" stop-color="#fffdfd"/><stop offset="0.286" stop-color="#e5eaf5"/><stop offset="0.298" stop-color="#dfe6f2"/><stop offset="0.31" stop-color="#e5ebf5"/><stop offset="0.325" stop-color="#fcfdfe"/><stop offset="0.346" stop-color="#fbe4e4"/><stop offset="0.361" stop-color="#fadcdc"/><stop offset="0.477" stop-color="#f8cccc"/><stop offset="0.605" stop-color="#fadada"/><stop offset="1" stop-color="#fadada"/></linearGradient><linearGradient id="h1a1" x1="485.3" x2="820.7" gradientUnits="userSpaceOnUse"><stop offset="0" stop-color="#ffffff"/><stop offset="0.134" stop-color="#fffdfd"/><stop offset="0.182" stop-color="#fadddd"/><stop offset="0.218" stop-color="#fad8d8"/><stop offset="0.247" stop-color="#fadddd"/><stop offset="0.271" stop-color="#fefeff"/><stop offset="0.283" stop-color="#ecf0f8"/><stop offset="0.298" stop-color="#e4eaf4"/><stop offset="0.31" stop-color="#eaeff7"/><stop offset="0.325" stop-color="#ffffff"/><stop offset="0.343" stop-color="#fce6e6"/><stop offset="0.358" stop-color="#fadbdb"/><stop offset="0.477" stop-color="#f8caca"/><stop offset="0.605" stop-color="#fad8d8"/><stop offset="1" stop-color="#fad8d8"/></linearGradient><linearGradient id="h1a2" x1="485.3" x2="820.7" gradientUnits="userSpaceOnUse"><stop offset="0" stop-color="#ffffff"/><stop offset="0.134" stop-color="#fffdfd"/><stop offset="0.182" stop-color="#fadcdc"/><stop offset="0.218" stop-color="#fad7d7"/><stop offset="0.247" stop-color="#fadcdc"/><stop offset="0.271" stop-color="#fffdfd"/><stop offset="0.286" stop-color="#eef2f8"/><stop offset="0.298" stop-color="#eaeff7"/><stop offset="0.322" stop-color="#fefefe"/><stop offset="0.358" stop-color="#fadada"/><stop offset="0.477" stop-color="#f8c8c9"/><stop offset="0.605" stop-color="#f9d7d7"/><stop offset="1" stop-color="#fad7d7"/></linearGradient><linearGradient id="h1a3" x1="485.3" x2="820.7" gradientUnits="userSpaceOnUse"><stop offset="0" stop-color="#ffffff"/><stop offset="0.134" stop-color="#fffdfd"/><stop offset="0.182" stop-color="#fadbdb"/><stop offset="0.218" stop-color="#fad7d7"/><stop offset="0.25" stop-color="#fadede"/><stop offset="0.274" stop-color="#ffffff"/><stop offset="0.295" stop-color="#f0f4f9"/><stop offset="0.319" stop-color="#fdfefe"/><stop offset="0.358" stop-color="#fadada"/><stop offset="0.477" stop-color="#f8c8c8"/><stop offset="0.605" stop-color="#f9d6d6"/><stop offset="1" stop-color="#fad7d7"/></linearGradient><linearGradient id="h1a4" x1="485.3" x2="820.7" gradientUnits="userSpaceOnUse"><stop offset="0" stop-color="#ffffff"/><stop offset="0.134" stop-color="#fffdfd"/><stop offset="0.182" stop-color="#fadbdb"/><stop offset="0.218" stop-color="#fad7d7"/><stop offset="0.25" stop-color="#fadddd"/><stop offset="0.277" stop-color="#fefeff"/><stop offset="0.298" stop-color="#f5f7fb"/><stop offset="0.319" stop-color="#fffefe"/><stop offset="0.358" stop-color="#fad9d9"/><stop offset="0.477" stop-color="#f8c8c8"/><stop offset="0.605" stop-color="#f9d6d6"/><stop offset="1" stop-color="#f9d7d7"/></linearGradient><linearGradient id="h1a5" x1="485.3" x2="820.7" gradientUnits="userSpaceOnUse"><stop offset="0" stop-color="#ffffff"/><stop offset="0.134" stop-color="#fffdfd"/><stop offset="0.182" stop-color="#fadbdb"/><stop offset="0.218" stop-color="#fad7d7"/><stop offset="0.25" stop-color="#fadddd"/><stop offset="0.277" stop-color="#fffefe"/><stop offset="0.298" stop-color="#f8fafc"/><stop offset="0.316" stop-color="#fffefe"/><stop offset="0.358" stop-color="#fad9d9"/><stop offset="0.477" stop-color="#f8c8c8"/><stop offset="0.605" stop-color="#f9d6d6"/><stop offset="1" stop-color="#f9d7d7"/></linearGradient><linearGradient id="h1a6" x1="485.3" x2="820.7" gradientUnits="userSpaceOnUse"><stop offset="0" stop-color="#ffffff"/><stop offset="0.134" stop-color="#fffdfd"/><stop offset="0.182" stop-color="#fadbdb"/><stop offset="0.218" stop-color="#fad7d7"/><stop offset="0.25" stop-color="#fadddd"/><stop offset="0.28" stop-color="#ffffff"/><stop offset="0.295" stop-color="#fafbfd"/><stop offset="0.313" stop-color="#ffffff"/><stop offset="0.358" stop-color="#fad9d9"/><stop offset="0.477" stop-color="#f8c8c8"/><stop offset="0.605" stop-color="#f9d6d6"/><stop offset="1" stop-color="#f9d7d7"/></linearGradient><linearGradient id="h1a7" x1="485.3" x2="820.7" gradientUnits="userSpaceOnUse"><stop offset="0" stop-color="#ffffff"/><stop offset="0.134" stop-color="#fffdfd"/><stop offset="0.182" stop-color="#fadbdb"/><stop offset="0.218" stop-color="#fad7d7"/><stop offset="0.25" stop-color="#fadddd"/><stop offset="0.28" stop-color="#ffffff"/><stop offset="0.295" stop-color="#f9fbfd"/><stop offset="0.313" stop-color="#ffffff"/><stop offset="0.358" stop-color="#fad9d9"/><stop offset="0.477" stop-color="#f8c8c8"/><stop offset="0.605" stop-color="#f9d6d6"/><stop offset="1" stop-color="#f9d7d7"/></linearGradient><linearGradient id="h1a8" x1="485.3" x2="820.7" gradientUnits="userSpaceOnUse"><stop offset="0" stop-color="#ffffff"/><stop offset="0.134" stop-color="#fffdfd"/><stop offset="0.182" stop-color="#fadbdb"/><stop offset="0.218" stop-color="#fad7d7"/><stop offset="0.25" stop-color="#fadddd"/><stop offset="0.277" stop-color="#fffefe"/><stop offset="0.298" stop-color="#f8f9fc"/><stop offset="0.316" stop-color="#fffefe"/><stop offset="0.358" stop-color="#fad9d9"/><stop offset="0.477" stop-color="#f8c8c8"/><stop offset="0.605" stop-color="#f9d6d6"/><stop offset="1" stop-color="#f9d7d7"/></linearGradient><linearGradient id="h1a9" x1="485.3" x2="820.7" gradientUnits="userSpaceOnUse"><stop offset="0" stop-color="#ffffff"/><stop offset="0.134" stop-color="#fffdfd"/><stop offset="0.182" stop-color="#fadbdb"/><stop offset="0.218" stop-color="#fad7d7"/><stop offset="0.25" stop-color="#fadddd"/><stop offset="0.277" stop-color="#ffffff"/><stop offset="0.295" stop-color="#f5f7fb"/><stop offset="0.316" stop-color="#fefeff"/><stop offset="0.358" stop-color="#fad9d9"/><stop offset="0.477" stop-color="#f8c8c8"/><stop offset="0.605" stop-color="#f9d6d6"/><stop offset="1" stop-color="#f9d7d7"/></linearGradient><linearGradient id="h1aa" x1="485.3" x2="820.7" gradientUnits="userSpaceOnUse"><stop offset="0" stop-color="#ffffff"/><stop offset="0.134" stop-color="#fffdfd"/><stop offset="0.182" stop-color="#fadbdb"/><stop offset="0.218" stop-color="#fad7d7"/><stop offset="0.25" stop-color="#fadddd"/><stop offset="0.274" stop-color="#fffefe"/><stop offset="0.298" stop-color="#f1f4f9"/><stop offset="0.319" stop-color="#ffffff"/><stop offset="0.343" stop-color="#fbe3e3"/><stop offset="0.358" stop-color="#fad9d9"/><stop offset="0.477" stop-color="#f8c8c8"/><stop offset="0.605" stop-color="#f9d6d6"/><stop offset="1" stop-color="#fad7d7"/></linearGradient><linearGradient id="h1ab" x1="485.3" x2="820.7" gradientUnits="userSpaceOnUse"><stop offset="0" stop-color="#ffffff"/><stop offset="0.134" stop-color="#fffdfd"/><stop offset="0.182" stop-color="#fadcdc"/><stop offset="0.218" stop-color="#fad8d8"/><stop offset="0.25" stop-color="#fadede"/><stop offset="0.274" stop-color="#fefeff"/><stop offset="0.298" stop-color="#ecf0f7"/><stop offset="0.322" stop-color="#fffefe"/><stop offset="0.343" stop-color="#fbe3e3"/><stop offset="0.358" stop-color="#fadada"/><stop offset="0.477" stop-color="#f8c9c9"/><stop offset="0.605" stop-color="#fad7d7"/><stop offset="1" stop-color="#fad7d7"/></linearGradient><linearGradient id="h1ac" x1="485.3" x2="820.7" gradientUnits="userSpaceOnUse"><stop offset="0" stop-color="#ffffff"/><stop offset="0.134" stop-color="#fffdfd"/><stop offset="0.182" stop-color="#fadddd"/><stop offset="0.218" stop-color="#fad9d9"/><stop offset="0.25" stop-color="#fbdfdf"/><stop offset="0.271" stop-color="#fffdfd"/><stop offset="0.286" stop-color="#ecf0f7"/><stop offset="0.298" stop-color="#e6ebf5"/><stop offset="0.322" stop-color="#fdfdfe"/><stop offset="0.343" stop-color="#fbe5e5"/><stop offset="0.358" stop-color="#fadbdb"/><stop offset="0.477" stop-color="#f8caca"/><stop offset="0.605" stop-color="#fad8d8"/><stop offset="1" stop-color="#fad8d8"/></linearGradient><linearGradient id="h1ad" x1="485.3" x2="820.7" gradientUnits="userSpaceOnUse"><stop offset="0" stop-color="#ffffff"/><stop offset="0.134" stop-color="#fffdfd"/><stop offset="0.182" stop-color="#fbdfdf"/><stop offset="0.218" stop-color="#fadbdb"/><stop offset="0.25" stop-color="#fbe1e1"/><stop offset="0.271" stop-color="#fefeff"/><stop offset="0.286" stop-color="#e7ecf6"/><stop offset="0.298" stop-color="#e0e7f3"/><stop offset="0.31" stop-color="#e7edf6"/><stop offset="0.325" stop-color="#ffffff"/><stop offset="0.343" stop-color="#fce6e6"/><stop offset="0.358" stop-color="#fadddd"/><stop offset="0.477" stop-color="#f8cdcd"/><stop offset="0.605" stop-color="#fadada"/><stop offset="1" stop-color="#fadbdb"/></linearGradient><linearGradient id="h1ae" x1="485.3" x2="820.7" gradientUnits="userSpaceOnUse"><stop offset="0" stop-color="#ffffff"/><stop offset="0.134" stop-color="#fffdfd"/><stop offset="0.182" stop-color="#fbe2e2"/><stop offset="0.215" stop-color="#fbdede"/><stop offset="0.247" stop-color="#fbe2e2"/><stop offset="0.268" stop-color="#fffdfd"/><stop offset="0.286" stop-color="#e2e9f4"/><stop offset="0.298" stop-color="#dbe3f1"/><stop offset="0.31" stop-color="#e3e9f4"/><stop offset="0.328" stop-color="#fffdfd"/><stop offset="0.343" stop-color="#fce9e9"/><stop offset="0.358" stop-color="#fbe0e0"/><stop offset="0.474" stop-color="#f9d1d1"/><stop offset="0.605" stop-color="#fadede"/><stop offset="1" stop-color="#fbdede"/></linearGradient><linearGradient id="h1af" x1="485.3" x2="820.7" gradientUnits="userSpaceOnUse"><stop offset="0" stop-color="#ffffff"/><stop offset="0.134" stop-color="#fffefe"/><stop offset="0.182" stop-color="#fce6e6"/><stop offset="0.218" stop-color="#fbe3e3"/><stop offset="0.247" stop-color="#fce6e6"/><stop offset="0.268" stop-color="#ffffff"/><stop offset="0.286" stop-color="#dfe6f2"/><stop offset="0.298" stop-color="#d6dfef"/><stop offset="0.31" stop-color="#dfe6f3"/><stop offset="0.328" stop-color="#ffffff"/><stop offset="0.343" stop-color="#fceded"/><stop offset="0.358" stop-color="#fbe5e5"/><stop offset="0.474" stop-color="#fad7d7"/><stop offset="0.605" stop-color="#fbe2e2"/><stop offset="1" stop-color="#fbe2e2"/></linearGradient><linearGradient id="h1b0" x1="485.3" x2="820.7" gradientUnits="userSpaceOnUse"><stop offset="0" stop-color="#ffffff"/><stop offset="0.134" stop-color="#fffefe"/><stop offset="0.179" stop-color="#fceaea"/><stop offset="0.212" stop-color="#fce7e7"/><stop offset="0.247" stop-color="#fceaea"/><stop offset="0.265" stop-color="#fffdfd"/><stop offset="0.286" stop-color="#dce4f1"/><stop offset="0.298" stop-color="#d3ddee"/><stop offset="0.31" stop-color="#dce4f1"/><stop offset="0.331" stop-color="#fffdfd"/><stop offset="0.358" stop-color="#fce8e8"/><stop offset="0.474" stop-color="#fadddd"/><stop offset="0.605" stop-color="#fce6e6"/><stop offset="1" stop-color="#fce6e6"/></linearGradient><linearGradient id="h1b1" x1="485.3" x2="820.7" gradientUnits="userSpaceOnUse"><stop offset="0" stop-color="#ffffff"/><stop offset="0.134" stop-color="#fffefe"/><stop offset="0.182" stop-color="#fcecec"/><stop offset="0.218" stop-color="#fceaea"/><stop offset="0.247" stop-color="#fdeded"/><stop offset="0.265" stop-color="#fffefe"/><stop offset="0.286" stop-color="#dae2f1"/><stop offset="0.298" stop-color="#d0dbed"/><stop offset="0.31" stop-color="#dae2f0"/><stop offset="0.331" stop-color="#ffffff"/><stop offset="0.358" stop-color="#fcecec"/><stop offset="0.474" stop-color="#fbe2e2"/><stop offset="0.605" stop-color="#fceaea"/><stop offset="1" stop-color="#fceaea"/></linearGradient><linearGradient id="h1b2" x1="485.3" x2="820.7" gradientUnits="userSpaceOnUse"><stop offset="0" stop-color="#ffffff"/><stop offset="0.134" stop-color="#fffefe"/><stop offset="0.212" stop-color="#fdeeee"/><stop offset="0.244" stop-color="#fdf0f0"/><stop offset="0.262" stop-color="#fffdfd"/><stop offset="0.286" stop-color="#d8e1f0"/><stop offset="0.298" stop-color="#ced9ec"/><stop offset="0.31" stop-color="#d8e0f0"/><stop offset="0.334" stop-color="#fffefe"/><stop offset="0.361" stop-color="#fdefef"/><stop offset="0.474" stop-color="#fce7e7"/><stop offset="1" stop-color="#fdeeee"/></linearGradient><linearGradient id="h1b3" x1="485.3" x2="820.7" gradientUnits="userSpaceOnUse"><stop offset="0" stop-color="#ffffff"/><stop offset="0.134" stop-color="#fffefe"/><stop offset="0.209" stop-color="#fdf4f4"/><stop offset="0.244" stop-color="#fef5f5"/><stop offset="0.259" stop-color="#fffdfd"/><stop offset="0.289" stop-color="#d3dcee"/><stop offset="0.298" stop-color="#cdd8eb"/><stop offset="0.307" stop-color="#d2dcee"/><stop offset="0.337" stop-color="#fffefe"/><stop offset="0.361" stop-color="#fef4f4"/><stop offset="0.474" stop-color="#fdefef"/><stop offset="1" stop-color="#fdf3f3"/></linearGradient><linearGradient id="h1b4" x1="485.3" x2="820.7" gradientUnits="userSpaceOnUse"><stop offset="0" stop-color="#ffffff"/><stop offset="0.206" stop-color="#fef9f9"/><stop offset="0.256" stop-color="#fffefe"/><stop offset="0.289" stop-color="#d1dbed"/><stop offset="0.298" stop-color="#cbd7eb"/><stop offset="0.307" stop-color="#d0dbed"/><stop offset="0.34" stop-color="#ffffff"/><stop offset="0.474" stop-color="#fef6f6"/><stop offset="1" stop-color="#fef9f9"/></linearGradient><linearGradient id="h1b5" x1="485.3" x2="820.7" gradientUnits="userSpaceOnUse"><stop offset="0" stop-color="#ffffff"/><stop offset="0.247" stop-color="#ffffff"/><stop offset="0.262" stop-color="#f7f9fc"/><stop offset="0.289" stop-color="#cfdaec"/><stop offset="0.298" stop-color="#c9d5ea"/><stop offset="0.307" stop-color="#ced9ec"/><stop offset="0.334" stop-color="#f6f8fb"/><stop offset="0.349" stop-color="#ffffff"/><stop offset="1" stop-color="#fffdfd"/></linearGradient><linearGradient id="h1b6" x1="485.3" x2="820.7" gradientUnits="userSpaceOnUse"><stop offset="0" stop-color="#ffffff"/><stop offset="0.247" stop-color="#fbfcfd"/><stop offset="0.265" stop-color="#f0f3f9"/><stop offset="0.289" stop-color="#ccd7eb"/><stop offset="0.298" stop-color="#c6d3e9"/><stop offset="0.307" stop-color="#cbd7eb"/><stop offset="0.334" stop-color="#f2f5fa"/><stop offset="0.358" stop-color="#fcfcfe"/><stop offset="1" stop-color="#fcfdfe"/></linearGradient><linearGradient id="h1b7" x1="485.3" x2="820.7" gradientUnits="userSpaceOnUse"><stop offset="0" stop-color="#ffffff"/><stop offset="0.143" stop-color="#feffff"/><stop offset="0.247" stop-color="#f5f7fb"/><stop offset="0.265" stop-color="#eaeff7"/><stop offset="0.289" stop-color="#c6d3e9"/><stop offset="0.298" stop-color="#c0cfe6"/><stop offset="0.307" stop-color="#c5d2e8"/><stop offset="0.334" stop-color="#edf1f8"/><stop offset="0.358" stop-color="#f6f8fb"/><stop offset="1" stop-color="#f6f8fc"/></linearGradient><linearGradient id="h1b8" x1="485.3" x2="820.7" gradientUnits="userSpaceOnUse"><stop offset="0" stop-color="#ffffff"/><stop offset="0.14" stop-color="#fefeff"/><stop offset="0.247" stop-color="#eef1f8"/><stop offset="0.265" stop-color="#e3e9f4"/><stop offset="0.289" stop-color="#bfcde5"/><stop offset="0.298" stop-color="#b8c9e3"/><stop offset="0.307" stop-color="#becde5"/><stop offset="0.334" stop-color="#e5ebf5"/><stop offset="0.358" stop-color="#eff2f9"/><stop offset="1" stop-color="#eff3f9"/></linearGradient><linearGradient id="h1b9" x1="485.3" x2="820.7" gradientUnits="userSpaceOnUse"><stop offset="0" stop-color="#ffffff"/><stop offset="0.14" stop-color="#fefeff"/><stop offset="0.197" stop-color="#ebeff7"/><stop offset="0.25" stop-color="#e6ebf5"/><stop offset="0.265" stop-color="#dce4f1"/><stop offset="0.289" stop-color="#b7c8e2"/><stop offset="0.298" stop-color="#b0c3df"/><stop offset="0.307" stop-color="#b6c7e2"/><stop offset="0.334" stop-color="#dee6f2"/><stop offset="0.358" stop-color="#e8edf6"/><stop offset="1" stop-color="#e8edf6"/></linearGradient><linearGradient id="h1ba" x1="485.3" x2="820.7" gradientUnits="userSpaceOnUse"><stop offset="0" stop-color="#ffffff"/><stop offset="0.14" stop-color="#fefefe"/><stop offset="0.197" stop-color="#e7ecf6"/><stop offset="0.25" stop-color="#e1e8f3"/><stop offset="0.265" stop-color="#d7e0ef"/><stop offset="0.289" stop-color="#b1c3df"/><stop offset="0.298" stop-color="#aabfdd"/><stop offset="0.307" stop-color="#b0c3df"/><stop offset="0.334" stop-color="#d9e2f0"/><stop offset="0.358" stop-color="#e3e9f4"/><stop offset="1" stop-color="#e3e9f4"/></linearGradient><linearGradient id="h1bb" x1="485.3" x2="820.7" gradientUnits="userSpaceOnUse"><stop offset="0" stop-color="#ffffff"/><stop offset="0.14" stop-color="#fdfefe"/><stop offset="0.197" stop-color="#e5eaf5"/><stop offset="0.25" stop-color="#dee6f2"/><stop offset="0.265" stop-color="#d4deee"/><stop offset="0.289" stop-color="#adc1de"/><stop offset="0.298" stop-color="#a6bcdb"/><stop offset="0.307" stop-color="#acc0dd"/><stop offset="0.334" stop-color="#d6dfef"/><stop offset="0.358" stop-color="#e0e7f3"/><stop offset="1" stop-color="#e1e7f3"/></linearGradient><linearGradient id="h1bc" x1="485.3" x2="820.7" gradientUnits="userSpaceOnUse"><stop offset="0" stop-color="#ffffff"/><stop offset="0.14" stop-color="#fdfefe"/><stop offset="0.197" stop-color="#e4eaf4"/><stop offset="0.25" stop-color="#dde5f2"/><stop offset="0.265" stop-color="#d3ddee"/><stop offset="0.289" stop-color="#aabfdd"/><stop offset="0.298" stop-color="#a3bada"/><stop offset="0.307" stop-color="#a9bedc"/><stop offset="0.334" stop-color="#d5deef"/><stop offset="0.358" stop-color="#dfe6f3"/><stop offset="1" stop-color="#dfe6f3"/></linearGradient><linearGradient id="h1bd" x1="485.3" x2="820.7" gradientUnits="userSpaceOnUse"><stop offset="0" stop-color="#ffffff"/><stop offset="0.14" stop-color="#fdfefe"/><stop offset="0.197" stop-color="#e3e9f4"/><stop offset="0.25" stop-color="#dde4f2"/><stop offset="0.265" stop-color="#d2dced"/><stop offset="0.289" stop-color="#a8bddc"/><stop offset="0.298" stop-color="#a1b8d9"/><stop offset="0.307" stop-color="#a7bcdb"/><stop offset="0.334" stop-color="#d4deee"/><stop offset="0.358" stop-color="#dee6f2"/><stop offset="1" stop-color="#dfe6f3"/></linearGradient><linearGradient id="h1be" x1="485.3" x2="820.7" gradientUnits="userSpaceOnUse"><stop offset="0" stop-color="#ffffff"/><stop offset="0.14" stop-color="#fdfefe"/><stop offset="0.197" stop-color="#e3e9f4"/><stop offset="0.25" stop-color="#dce4f2"/><stop offset="0.265" stop-color="#d1dbed"/><stop offset="0.289" stop-color="#a6bcdb"/><stop offset="0.298" stop-color="#9fb6d8"/><stop offset="0.307" stop-color="#a5bbda"/><stop offset="0.334" stop-color="#d4ddee"/><stop offset="0.358" stop-color="#dee6f2"/><stop offset="1" stop-color="#dfe6f2"/></linearGradient><linearGradient id="h1bf" x1="485.3" x2="820.7" gradientUnits="userSpaceOnUse"><stop offset="0" stop-color="#ffffff"/><stop offset="0.14" stop-color="#fdfefe"/><stop offset="0.197" stop-color="#e3e9f4"/><stop offset="0.25" stop-color="#dce4f1"/><stop offset="0.265" stop-color="#d1dbed"/><stop offset="0.289" stop-color="#a4bada"/><stop offset="0.298" stop-color="#9db5d7"/><stop offset="0.307" stop-color="#a3bada"/><stop offset="0.334" stop-color="#d3ddee"/><stop offset="0.358" stop-color="#dee5f2"/><stop offset="1" stop-color="#dfe6f2"/></linearGradient><linearGradient id="h1c0" x1="485.3" x2="820.7" gradientUnits="userSpaceOnUse"><stop offset="0" stop-color="#ffffff"/><stop offset="0.14" stop-color="#fdfefe"/><stop offset="0.197" stop-color="#e3e9f4"/><stop offset="0.25" stop-color="#dce4f1"/><stop offset="0.265" stop-color="#d0dbed"/><stop offset="0.289" stop-color="#a3b9d9"/><stop offset="0.298" stop-color="#9bb4d6"/><stop offset="0.307" stop-color="#a2b8d9"/><stop offset="0.334" stop-color="#d3ddee"/><stop offset="0.358" stop-color="#dee5f2"/><stop offset="1" stop-color="#dfe6f2"/></linearGradient><linearGradient id="h1c1" x1="485.3" x2="820.7" gradientUnits="userSpaceOnUse"><stop offset="0" stop-color="#ffffff"/><stop offset="0.14" stop-color="#fdfefe"/><stop offset="0.197" stop-color="#e3e9f4"/><stop offset="0.25" stop-color="#dce4f1"/><stop offset="0.265" stop-color="#d0daed"/><stop offset="0.289" stop-color="#a2b8d9"/><stop offset="0.298" stop-color="#9ab3d5"/><stop offset="0.307" stop-color="#a0b7d8"/><stop offset="0.334" stop-color="#d3ddee"/><stop offset="0.358" stop-color="#dee5f2"/><stop offset="1" stop-color="#dfe6f2"/></linearGradient><linearGradient id="h1c2" x1="485.3" x2="820.7" gradientUnits="userSpaceOnUse"><stop offset="0" stop-color="#ffffff"/><stop offset="0.14" stop-color="#fdfefe"/><stop offset="0.197" stop-color="#e3e9f4"/><stop offset="0.25" stop-color="#dce4f1"/><stop offset="0.265" stop-color="#d0daed"/><stop offset="0.289" stop-color="#a1b8d8"/><stop offset="0.298" stop-color="#99b2d5"/><stop offset="0.307" stop-color="#9fb7d8"/><stop offset="0.334" stop-color="#d3dcee"/><stop offset="0.358" stop-color="#dee5f2"/><stop offset="1" stop-color="#dfe6f2"/></linearGradient><linearGradient id="h1c3" x1="485.3" x2="820.7" gradientUnits="userSpaceOnUse"><stop offset="0" stop-color="#ffffff"/><stop offset="0.14" stop-color="#fdfefe"/><stop offset="0.197" stop-color="#e3e9f4"/><stop offset="0.25" stop-color="#dce4f1"/><stop offset="0.265" stop-color="#d0daed"/><stop offset="0.289" stop-color="#a0b7d8"/><stop offset="0.298" stop-color="#98b1d4"/><stop offset="0.307" stop-color="#9eb6d7"/><stop offset="0.334" stop-color="#d2dcee"/><stop offset="0.358" stop-color="#dee5f2"/><stop offset="1" stop-color="#dfe6f2"/></linearGradient><linearGradient id="h1c4" x1="485.3" x2="820.7" gradientUnits="userSpaceOnUse"><stop offset="0" stop-color="#ffffff"/><stop offset="0.14" stop-color="#fdfefe"/><stop offset="0.197" stop-color="#e3e9f4"/><stop offset="0.25" stop-color="#dce4f1"/><stop offset="0.265" stop-color="#cfdaec"/><stop offset="0.289" stop-color="#9fb7d8"/><stop offset="0.298" stop-color="#97b1d4"/><stop offset="0.307" stop-color="#9eb6d7"/><stop offset="0.334" stop-color="#d2dcee"/><stop offset="0.358" stop-color="#dee5f2"/><stop offset="1" stop-color="#dfe6f2"/></linearGradient><linearGradient id="h1c5" x1="485.3" x2="820.7" gradientUnits="userSpaceOnUse"><stop offset="0" stop-color="#ffffff"/><stop offset="0.14" stop-color="#fdfefe"/><stop offset="0.197" stop-color="#e3e9f4"/><stop offset="0.25" stop-color="#dce4f1"/><stop offset="0.265" stop-color="#cfdaec"/><stop offset="0.289" stop-color="#9fb6d8"/><stop offset="0.298" stop-color="#96b0d4"/><stop offset="0.307" stop-color="#9db5d7"/><stop offset="0.334" stop-color="#d2dcee"/><stop offset="0.358" stop-color="#dee5f2"/><stop offset="1" stop-color="#dfe6f2"/></linearGradient><linearGradient id="h1c6" x1="485.3" x2="820.7" gradientUnits="userSpaceOnUse"><stop offset="0" stop-color="#ffffff"/><stop offset="0.14" stop-color="#fdfefe"/><stop offset="0.197" stop-color="#e3e9f4"/><stop offset="0.25" stop-color="#dce4f1"/><stop offset="0.265" stop-color="#cfdaec"/><stop offset="0.289" stop-color="#9fb6d7"/><stop offset="0.298" stop-color="#96b0d4"/><stop offset="0.307" stop-color="#9db5d7"/><stop offset="0.334" stop-color="#d2dcee"/><stop offset="0.358" stop-color="#dee5f2"/><stop offset="1" stop-color="#dfe6f2"/></linearGradient><clipPath id="bc1"><rect x="504.1" y="485.2" width="316.6" height="360.1"/></clipPath><linearGradient id="h1c7" x1="859.8" x2="1193.8" gradientUnits="userSpaceOnUse"><stop offset="0" stop-color="#ffffff"/><stop offset="0.06" stop-color="#fffcfc"/><stop offset="0.069" stop-color="#fdeded"/><stop offset="0.084" stop-color="#f7c0c0"/><stop offset="0.102" stop-color="#f6b8b9"/><stop offset="0.132" stop-color="#f7c0c1"/><stop offset="0.162" stop-color="#fdf4f4"/><stop offset="0.186" stop-color="#fffefe"/><stop offset="1" stop-color="#ffffff"/></linearGradient><linearGradient id="h1c8" x1="859.8" x2="1193.8" gradientUnits="userSpaceOnUse"><stop offset="0" stop-color="#ffffff"/><stop offset="0.06" stop-color="#fffcfc"/><stop offset="0.069" stop-color="#fdeded"/><stop offset="0.084" stop-color="#f6bebf"/><stop offset="0.102" stop-color="#f5b6b7"/><stop offset="0.132" stop-color="#f6bfbf"/><stop offset="0.162" stop-color="#fdf3f3"/><stop offset="0.186" stop-color="#fffefe"/><stop offset="1" stop-color="#ffffff"/></linearGradient><linearGradient id="h1c9" x1="859.8" x2="1193.8" gradientUnits="userSpaceOnUse"><stop offset="0" stop-color="#ffffff"/><stop offset="0.06" stop-color="#fffcfc"/><stop offset="0.069" stop-color="#fcecec"/><stop offset="0.084" stop-color="#f6bdbd"/><stop offset="0.102" stop-color="#f5b5b6"/><stop offset="0.132" stop-color="#f6bebe"/><stop offset="0.162" stop-color="#fdf3f3"/><stop offset="0.186" stop-color="#fffefe"/><stop offset="1" stop-color="#ffffff"/></linearGradient><linearGradient id="h1ca" x1="859.8" x2="1193.8" gradientUnits="userSpaceOnUse"><stop offset="0" stop-color="#ffffff"/><stop offset="0.06" stop-color="#fffbfb"/><stop offset="0.069" stop-color="#fcecec"/><stop offset="0.084" stop-color="#f6bcbd"/><stop offset="0.102" stop-color="#f5b4b5"/><stop offset="0.132" stop-color="#f6bdbd"/><stop offset="0.162" stop-color="#fdf3f3"/><stop offset="0.186" stop-color="#fffefe"/><stop offset="1" stop-color="#ffffff"/></linearGradient><linearGradient id="h1cb" x1="859.8" x2="1193.8" gradientUnits="userSpaceOnUse"><stop offset="0" stop-color="#ffffff"/><stop offset="0.06" stop-color="#fffbfb"/><stop offset="0.069" stop-color="#fcecec"/><stop offset="0.084" stop-color="#f6bbbc"/><stop offset="0.102" stop-color="#f5b3b4"/><stop offset="0.132" stop-color="#f6bcbd"/><stop offset="0.162" stop-color="#fdf3f3"/><stop offset="0.186" stop-color="#fffefe"/><stop offset="1" stop-color="#ffffff"/></linearGradient><linearGradient id="h1cc" x1="859.8" x2="1193.8" gradientUnits="userSpaceOnUse"><stop offset="0" stop-color="#ffffff"/><stop offset="0.06" stop-color="#fffbfb"/><stop offset="0.069" stop-color="#fcecec"/><stop offset="0.084" stop-color="#f6bbbc"/><stop offset="0.102" stop-color="#f5b3b4"/><stop offset="0.132" stop-color="#f6bcbc"/><stop offset="0.162" stop-color="#fdf3f3"/><stop offset="0.186" stop-color="#fffefe"/><stop offset="1" stop-color="#ffffff"/></linearGradient><linearGradient id="h1cd" x1="859.8" x2="1193.8" gradientUnits="userSpaceOnUse"><stop offset="0" stop-color="#ffffff"/><stop offset="0.06" stop-color="#fffbfb"/><stop offset="0.069" stop-color="#fcecec"/><stop offset="0.084" stop-color="#f6bbbb"/><stop offset="0.102" stop-color="#f5b3b3"/><stop offset="0.132" stop-color="#f6bcbc"/><stop offset="0.162" stop-color="#fdf3f3"/><stop offset="0.186" stop-color="#fffefe"/><stop offset="1" stop-color="#ffffff"/></linearGradient><linearGradient id="h1ce" x1="859.8" x2="1193.8" gradientUnits="userSpaceOnUse"><stop offset="0" stop-color="#ffffff"/><stop offset="0.06" stop-color="#fffbfb"/><stop offset="0.069" stop-color="#fcecec"/><stop offset="0.084" stop-color="#f6bbbb"/><stop offset="0.102" stop-color="#f5b2b3"/><stop offset="0.132" stop-color="#f6bbbc"/><stop offset="0.162" stop-color="#fdf3f3"/><stop offset="0.186" stop-color="#fffefe"/><stop offset="1" stop-color="#ffffff"/></linearGradient><linearGradient id="h1cf" x1="859.8" x2="1193.8" gradientUnits="userSpaceOnUse"><stop offset="0" stop-color="#ffffff"/><stop offset="0.06" stop-color="#fffbfb"/><stop offset="0.069" stop-color="#fcecec"/><stop offset="0.084" stop-color="#f6babb"/><stop offset="0.102" stop-color="#f5b2b3"/><stop offset="0.132" stop-color="#f6bbbc"/><stop offset="0.162" stop-color="#fdf3f3"/><stop offset="0.186" stop-color="#fffefe"/><stop offset="1" stop-color="#ffffff"/></linearGradient><linearGradient id="h1d0" x1="859.8" x2="1193.8" gradientUnits="userSpaceOnUse"><stop offset="0" stop-color="#ffffff"/><stop offset="0.06" stop-color="#fffbfb"/><stop offset="0.069" stop-color="#fcecec"/><stop offset="0.084" stop-color="#f6babb"/><stop offset="0.102" stop-color="#f5b2b3"/><stop offset="0.132" stop-color="#f6bbbc"/><stop offset="0.162" stop-color="#fdf3f3"/><stop offset="0.186" stop-color="#fffefe"/><stop offset="1" stop-color="#ffffff"/></linearGradient><linearGradient id="h1d1" x1="859.8" x2="1193.8" gradientUnits="userSpaceOnUse"><stop offset="0" stop-color="#ffffff"/><stop offset="0.06" stop-color="#fffbfb"/><stop offset="0.069" stop-color="#fcecec"/><stop offset="0.084" stop-color="#f6babb"/><stop offset="0.102" stop-color="#f5b2b3"/><stop offset="0.132" stop-color="#f6bbbc"/><stop offset="0.162" stop-color="#fdf3f3"/><stop offset="0.186" stop-color="#fffefe"/><stop offset="1" stop-color="#ffffff"/></linearGradient><linearGradient id="h1d2" x1="859.8" x2="1193.8" gradientUnits="userSpaceOnUse"><stop offset="0" stop-color="#ffffff"/><stop offset="0.06" stop-color="#fffbfb"/><stop offset="0.069" stop-color="#fcecec"/><stop offset="0.084" stop-color="#f6babb"/><stop offset="0.102" stop-color="#f5b2b3"/><stop offset="0.132" stop-color="#f6bbbc"/><stop offset="0.162" stop-color="#fdf3f3"/><stop offset="0.186" stop-color="#fffefe"/><stop offset="1" stop-color="#ffffff"/></linearGradient><linearGradient id="h1d3" x1="859.8" x2="1193.8" gradientUnits="userSpaceOnUse"><stop offset="0" stop-color="#ffffff"/><stop offset="0.06" stop-color="#fffbfb"/><stop offset="0.069" stop-color="#fcecec"/><stop offset="0.081" stop-color="#f7c1c1"/><stop offset="0.096" stop-color="#f5b5b6"/><stop offset="0.132" stop-color="#f7c0c1"/><stop offset="0.159" stop-color="#fef4f4"/><stop offset="0.168" stop-color="#fffefe"/><stop offset="0.21" stop-color="#f8fafc"/><stop offset="1" stop-color="#fafbfd"/></linearGradient><linearGradient id="h1d4" x1="859.8" x2="1193.8" gradientUnits="userSpaceOnUse"><stop offset="0" stop-color="#ffffff"/><stop offset="0.06" stop-color="#fffbfb"/><stop offset="0.069" stop-color="#fcecec"/><stop offset="0.081" stop-color="#f7c2c2"/><stop offset="0.093" stop-color="#f6b8b9"/><stop offset="0.132" stop-color="#f7c5c6"/><stop offset="0.162" stop-color="#fffefe"/><stop offset="0.177" stop-color="#f4f6fb"/><stop offset="0.204" stop-color="#f1f4f9"/><stop offset="1" stop-color="#f4f7fb"/></linearGradient><linearGradient id="h1d5" x1="859.8" x2="1193.8" gradientUnits="userSpaceOnUse"><stop offset="0" stop-color="#ffffff"/><stop offset="0.06" stop-color="#fffbfb"/><stop offset="0.069" stop-color="#fcecec"/><stop offset="0.081" stop-color="#f7c2c2"/><stop offset="0.093" stop-color="#f6b8b9"/><stop offset="0.132" stop-color="#f7c5c6"/><stop offset="0.162" stop-color="#fffefe"/><stop offset="0.177" stop-color="#f4f6fb"/><stop offset="0.204" stop-color="#f1f4f9"/><stop offset="1" stop-color="#f4f7fb"/></linearGradient><linearGradient id="h1d6" x1="859.8" x2="1193.8" gradientUnits="userSpaceOnUse"><stop offset="0" stop-color="#ffffff"/><stop offset="0.06" stop-color="#fffbfb"/><stop offset="0.069" stop-color="#fcecec"/><stop offset="0.081" stop-color="#f7c2c2"/><stop offset="0.093" stop-color="#f6b8b9"/><stop offset="0.132" stop-color="#f7c5c6"/><stop offset="0.162" stop-color="#fffefe"/><stop offset="0.177" stop-color="#f4f6fb"/><stop offset="0.204" stop-color="#f1f4f9"/><stop offset="1" stop-color="#f4f7fb"/></linearGradient><linearGradient id="h1d7" x1="859.8" x2="1193.8" gradientUnits="userSpaceOnUse"><stop offset="0" stop-color="#ffffff"/><stop offset="0.06" stop-color="#fffbfb"/><stop offset="0.069" stop-color="#fcecec"/><stop offset="0.081" stop-color="#f7c2c2"/><stop offset="0.093" stop-color="#f6b8b9"/><stop offset="0.132" stop-color="#f7c5c6"/><stop offset="0.162" stop-color="#fffefe"/><stop offset="0.177" stop-color="#f4f6fb"/><stop offset="0.204" stop-color="#f1f4f9"/><stop offset="1" stop-color="#f4f7fb"/></linearGradient><linearGradient id="h1d8" x1="859.8" x2="1193.8" gradientUnits="userSpaceOnUse"><stop offset="0" stop-color="#ffffff"/><stop offset="0.06" stop-color="#fffbfb"/><stop offset="0.069" stop-color="#fcecec"/><stop offset="0.081" stop-color="#f7c2c2"/><stop offset="0.093" stop-color="#f6b8b9"/><stop offset="0.132" stop-color="#f7c6c6"/><stop offset="0.162" stop-color="#fffefe"/><stop offset="0.177" stop-color="#f4f6fb"/><stop offset="0.204" stop-color="#f1f4f9"/><stop offset="1" stop-color="#f4f7fb"/></linearGradient><linearGradient id="h1d9" x1="859.8" x2="1193.8" gradientUnits="userSpaceOnUse"><stop offset="0" stop-color="#ffffff"/><stop offset="0.06" stop-color="#fffbfb"/><stop offset="0.069" stop-color="#fcecec"/><stop offset="0.081" stop-color="#f7c2c2"/><stop offset="0.093" stop-color="#f6b8b9"/><stop offset="0.132" stop-color="#f7c6c6"/><stop offset="0.162" stop-color="#fffefe"/><stop offset="0.177" stop-color="#f4f6fb"/><stop offset="0.204" stop-color="#f1f4f9"/><stop offset="1" stop-color="#f4f7fb"/></linearGradient><linearGradient id="h1da" x1="859.8" x2="1193.8" gradientUnits="userSpaceOnUse"><stop offset="0" stop-color="#ffffff"/><stop offset="0.06" stop-color="#fffcfc"/><stop offset="0.069" stop-color="#fcecec"/><stop offset="0.081" stop-color="#f7c3c3"/><stop offset="0.09" stop-color="#f6babb"/><stop offset="0.132" stop-color="#f8caca"/><stop offset="0.159" stop-color="#ffffff"/><stop offset="0.174" stop-color="#eff3f9"/><stop offset="0.201" stop-color="#ebf0f7"/><stop offset="1" stop-color="#f0f3f9"/></linearGradient><linearGradient id="h1db" x1="859.8" x2="1193.8" gradientUnits="userSpaceOnUse"><stop offset="0" stop-color="#ffffff"/><stop offset="0.06" stop-color="#fffcfc"/><stop offset="0.069" stop-color="#fceded"/><stop offset="0.081" stop-color="#f7c4c4"/><stop offset="0.09" stop-color="#f6bcbd"/><stop offset="0.132" stop-color="#f8cece"/><stop offset="0.156" stop-color="#fffdfd"/><stop offset="0.174" stop-color="#ebf0f7"/><stop offset="0.201" stop-color="#e7edf6"/><stop offset="1" stop-color="#edf1f8"/></linearGradient><linearGradient id="h1dc" x1="859.8" x2="1193.8" gradientUnits="userSpaceOnUse"><stop offset="0" stop-color="#ffffff"/><stop offset="0.06" stop-color="#fffcfc"/><stop offset="0.069" stop-color="#fdeded"/><stop offset="0.081" stop-color="#f7c5c6"/><stop offset="0.09" stop-color="#f6bebe"/><stop offset="0.132" stop-color="#f9cfcf"/><stop offset="0.156" stop-color="#fffdfd"/><stop offset="0.174" stop-color="#ebf0f7"/><stop offset="0.201" stop-color="#e7edf6"/><stop offset="1" stop-color="#edf1f8"/></linearGradient><linearGradient id="h1dd" x1="859.8" x2="1193.8" gradientUnits="userSpaceOnUse"><stop offset="0" stop-color="#ffffff"/><stop offset="0.06" stop-color="#fffcfc"/><stop offset="0.069" stop-color="#fdeeee"/><stop offset="0.081" stop-color="#f8c8c8"/><stop offset="0.09" stop-color="#f7c1c1"/><stop offset="0.132" stop-color="#f9d2d2"/><stop offset="0.156" stop-color="#fffefe"/><stop offset="0.171" stop-color="#ecf1f8"/><stop offset="0.201" stop-color="#e7edf6"/><stop offset="1" stop-color="#edf1f8"/></linearGradient><linearGradient id="h1de" x1="859.8" x2="1193.8" gradientUnits="userSpaceOnUse"><stop offset="0" stop-color="#ffffff"/><stop offset="0.06" stop-color="#fffcfc"/><stop offset="0.069" stop-color="#fdefef"/><stop offset="0.081" stop-color="#f8cccc"/><stop offset="0.09" stop-color="#f7c6c6"/><stop offset="0.132" stop-color="#fad7d7"/><stop offset="0.156" stop-color="#fefeff"/><stop offset="0.171" stop-color="#ecf0f8"/><stop offset="0.201" stop-color="#e7edf6"/><stop offset="1" stop-color="#edf1f8"/></linearGradient><linearGradient id="h1df" x1="859.8" x2="1193.8" gradientUnits="userSpaceOnUse"><stop offset="0" stop-color="#ffffff"/><stop offset="0.06" stop-color="#fffdfd"/><stop offset="0.069" stop-color="#fdf2f2"/><stop offset="0.081" stop-color="#f9d3d3"/><stop offset="0.087" stop-color="#f8cece"/><stop offset="0.132" stop-color="#fbdfdf"/><stop offset="0.153" stop-color="#fffefe"/><stop offset="0.171" stop-color="#ebf0f7"/><stop offset="0.198" stop-color="#e7edf6"/><stop offset="1" stop-color="#edf1f8"/></linearGradient><linearGradient id="h1e0" x1="859.8" x2="1193.8" gradientUnits="userSpaceOnUse"><stop offset="0" stop-color="#ffffff"/><stop offset="0.06" stop-color="#fffdfd"/><stop offset="0.087" stop-color="#fadada"/><stop offset="0.132" stop-color="#fcebeb"/><stop offset="0.15" stop-color="#ffffff"/><stop offset="0.168" stop-color="#ecf0f7"/><stop offset="0.195" stop-color="#e7edf6"/><stop offset="0.359" stop-color="#f1f4fa"/><stop offset="0.44" stop-color="#eaeff7"/><stop offset="1" stop-color="#edf1f8"/></linearGradient><linearGradient id="h1e1" x1="859.8" x2="1193.8" gradientUnits="userSpaceOnUse"><stop offset="0" stop-color="#ffffff"/><stop offset="0.06" stop-color="#fffefe"/><stop offset="0.081" stop-color="#fdeded"/><stop offset="0.099" stop-color="#fffefe"/><stop offset="0.135" stop-color="#eaeff7"/><stop offset="0.162" stop-color="#d0dbed"/><stop offset="0.186" stop-color="#cbd6eb"/><stop offset="0.29" stop-color="#cdd8ec"/><stop offset="0.359" stop-color="#dee5f2"/><stop offset="0.44" stop-color="#d1dbed"/><stop offset="1" stop-color="#d8e1f0"/></linearGradient><linearGradient id="h1e2" x1="859.8" x2="1193.8" gradientUnits="userSpaceOnUse"><stop offset="0" stop-color="#ffffff"/><stop offset="0.06" stop-color="#ffffff"/><stop offset="0.081" stop-color="#fef7f7"/><stop offset="0.09" stop-color="#ffffff"/><stop offset="0.111" stop-color="#e1e7f3"/><stop offset="0.183" stop-color="#c6d3e9"/><stop offset="0.29" stop-color="#cad6ea"/><stop offset="0.359" stop-color="#e3e9f4"/><stop offset="0.44" stop-color="#cdd8ec"/><stop offset="1" stop-color="#d5deee"/></linearGradient><linearGradient id="h1e3" x1="859.8" x2="1193.8" gradientUnits="userSpaceOnUse"><stop offset="0" stop-color="#ffffff"/><stop offset="0.078" stop-color="#fdfefe"/><stop offset="0.084" stop-color="#f5f8fb"/><stop offset="0.102" stop-color="#c0cee6"/><stop offset="0.111" stop-color="#b1c3df"/><stop offset="0.171" stop-color="#9db5d7"/><stop offset="0.287" stop-color="#a2b8d9"/><stop offset="0.359" stop-color="#c4d1e8"/><stop offset="0.413" stop-color="#acc0de"/><stop offset="0.44" stop-color="#a8bddc"/><stop offset="1" stop-color="#b6c7e2"/></linearGradient><linearGradient id="h1e4" x1="859.8" x2="1193.8" gradientUnits="userSpaceOnUse"><stop offset="0" stop-color="#ffffff"/><stop offset="0.075" stop-color="#fafbfd"/><stop offset="0.084" stop-color="#ecf0f8"/><stop offset="0.102" stop-color="#abbfdd"/><stop offset="0.111" stop-color="#99b2d5"/><stop offset="0.165" stop-color="#8aa6ce"/><stop offset="0.287" stop-color="#8fabd1"/><stop offset="0.359" stop-color="#b6c7e2"/><stop offset="0.413" stop-color="#9cb4d6"/><stop offset="0.44" stop-color="#98b1d4"/><stop offset="1" stop-color="#a8bddb"/></linearGradient><linearGradient id="h1e5" x1="859.8" x2="1193.8" gradientUnits="userSpaceOnUse"><stop offset="0" stop-color="#ffffff"/><stop offset="0.075" stop-color="#f9fafd"/><stop offset="0.084" stop-color="#e9eef7"/><stop offset="0.102" stop-color="#a8bddc"/><stop offset="0.111" stop-color="#96b0d4"/><stop offset="0.156" stop-color="#8aa7ce"/><stop offset="0.287" stop-color="#8fabd1"/><stop offset="0.359" stop-color="#b8c9e3"/><stop offset="0.413" stop-color="#9cb5d7"/><stop offset="0.44" stop-color="#98b1d4"/><stop offset="1" stop-color="#a8bddb"/></linearGradient><linearGradient id="h1e6" x1="859.8" x2="1193.8" gradientUnits="userSpaceOnUse"><stop offset="0" stop-color="#ffffff"/><stop offset="0.054" stop-color="#ffffff"/><stop offset="0.075" stop-color="#f8f9fc"/><stop offset="0.084" stop-color="#e8edf6"/><stop offset="0.099" stop-color="#b0c3df"/><stop offset="0.108" stop-color="#98b2d5"/><stop offset="0.132" stop-color="#8ba7cf"/><stop offset="0.284" stop-color="#8faad0"/><stop offset="0.359" stop-color="#b9c9e3"/><stop offset="0.413" stop-color="#9cb5d7"/><stop offset="0.44" stop-color="#98b1d4"/><stop offset="1" stop-color="#a8bddb"/></linearGradient><linearGradient id="h1e7" x1="859.8" x2="1193.8" gradientUnits="userSpaceOnUse"><stop offset="0" stop-color="#ffffff"/><stop offset="0.054" stop-color="#ffffff"/><stop offset="0.075" stop-color="#f7f9fc"/><stop offset="0.084" stop-color="#e7ecf6"/><stop offset="0.099" stop-color="#afc2df"/><stop offset="0.108" stop-color="#98b1d4"/><stop offset="0.132" stop-color="#8aa7cf"/><stop offset="0.284" stop-color="#8faad0"/><stop offset="0.359" stop-color="#b9cae3"/><stop offset="0.413" stop-color="#9db5d7"/><stop offset="0.44" stop-color="#98b1d4"/><stop offset="1" stop-color="#a8bddb"/></linearGradient><linearGradient id="h1e8" x1="859.8" x2="1193.8" gradientUnits="userSpaceOnUse"><stop offset="0" stop-color="#ffffff"/><stop offset="0.054" stop-color="#ffffff"/><stop offset="0.075" stop-color="#f7f9fc"/><stop offset="0.084" stop-color="#e7ecf6"/><stop offset="0.099" stop-color="#afc2df"/><stop offset="0.108" stop-color="#97b1d4"/><stop offset="0.132" stop-color="#8aa7ce"/><stop offset="0.284" stop-color="#8faad0"/><stop offset="0.359" stop-color="#b9cae3"/><stop offset="0.413" stop-color="#9db5d7"/><stop offset="0.44" stop-color="#98b1d4"/><stop offset="1" stop-color="#a8bddb"/></linearGradient><linearGradient id="h1e9" x1="859.8" x2="1193.8" gradientUnits="userSpaceOnUse"><stop offset="0" stop-color="#ffffff"/><stop offset="0.054" stop-color="#ffffff"/><stop offset="0.075" stop-color="#f7f9fc"/><stop offset="0.084" stop-color="#e7ecf6"/><stop offset="0.099" stop-color="#afc2de"/><stop offset="0.108" stop-color="#97b1d4"/><stop offset="0.132" stop-color="#8aa6ce"/><stop offset="0.284" stop-color="#8faad0"/><stop offset="0.359" stop-color="#b9cae3"/><stop offset="0.413" stop-color="#9cb5d7"/><stop offset="0.44" stop-color="#98b1d4"/><stop offset="1" stop-color="#a8bddb"/></linearGradient><linearGradient id="h1ea" x1="859.8" x2="1193.8" gradientUnits="userSpaceOnUse"><stop offset="0" stop-color="#ffffff"/><stop offset="0.054" stop-color="#ffffff"/><stop offset="0.075" stop-color="#f7f9fc"/><stop offset="0.084" stop-color="#e7ecf6"/><stop offset="0.099" stop-color="#afc2de"/><stop offset="0.108" stop-color="#97b1d4"/><stop offset="0.132" stop-color="#8aa6ce"/><stop offset="0.284" stop-color="#8faad0"/><stop offset="0.359" stop-color="#b9c9e3"/><stop offset="0.413" stop-color="#9cb5d7"/><stop offset="0.44" stop-color="#98b1d4"/><stop offset="1" stop-color="#a8bddb"/></linearGradient><linearGradient id="h1eb" x1="859.8" x2="1193.8" gradientUnits="userSpaceOnUse"><stop offset="0" stop-color="#ffffff"/><stop offset="0.054" stop-color="#ffffff"/><stop offset="0.075" stop-color="#f7f9fc"/><stop offset="0.084" stop-color="#e7ecf5"/><stop offset="0.099" stop-color="#aec2de"/><stop offset="0.108" stop-color="#97b1d4"/><stop offset="0.132" stop-color="#8aa6ce"/><stop offset="0.284" stop-color="#8faad0"/><stop offset="0.359" stop-color="#b7c8e2"/><stop offset="0.413" stop-color="#9cb4d6"/><stop offset="0.44" stop-color="#98b1d4"/><stop offset="1" stop-color="#a8bddb"/></linearGradient><linearGradient id="h1ec" x1="859.8" x2="1193.8" gradientUnits="userSpaceOnUse"><stop offset="0" stop-color="#ffffff"/><stop offset="0.054" stop-color="#ffffff"/><stop offset="0.075" stop-color="#f7f9fc"/><stop offset="0.084" stop-color="#e7ecf5"/><stop offset="0.099" stop-color="#aec2de"/><stop offset="0.108" stop-color="#97b1d4"/><stop offset="0.132" stop-color="#8aa6ce"/><stop offset="0.284" stop-color="#8eaad0"/><stop offset="0.359" stop-color="#b3c5e0"/><stop offset="0.413" stop-color="#9bb4d6"/><stop offset="0.44" stop-color="#97b1d4"/><stop offset="1" stop-color="#a8bddb"/></linearGradient><linearGradient id="h1ed" x1="859.8" x2="1193.8" gradientUnits="userSpaceOnUse"><stop offset="0" stop-color="#ffffff"/><stop offset="0.072" stop-color="#fafbfd"/><stop offset="0.084" stop-color="#e7ecf5"/><stop offset="0.099" stop-color="#aec2de"/><stop offset="0.108" stop-color="#97b1d4"/><stop offset="0.132" stop-color="#8aa6ce"/><stop offset="0.281" stop-color="#8ea9d0"/><stop offset="0.359" stop-color="#adc0de"/><stop offset="0.44" stop-color="#97b1d4"/><stop offset="1" stop-color="#a8bddb"/></linearGradient><linearGradient id="h1ee" x1="859.8" x2="1193.8" gradientUnits="userSpaceOnUse"><stop offset="0" stop-color="#ffffff"/><stop offset="0.072" stop-color="#fbfcfd"/><stop offset="0.084" stop-color="#ecf1f8"/><stop offset="0.108" stop-color="#b0c3df"/><stop offset="0.132" stop-color="#a7bcdb"/><stop offset="0.281" stop-color="#aabedc"/><stop offset="0.359" stop-color="#bfcee6"/><stop offset="0.44" stop-color="#b1c3df"/><stop offset="1" stop-color="#bdcce5"/></linearGradient><linearGradient id="h1ef" x1="859.8" x2="1193.8" gradientUnits="userSpaceOnUse"><stop offset="0" stop-color="#ffffff"/><stop offset="0.072" stop-color="#fbfcfe"/><stop offset="0.084" stop-color="#eff3f9"/><stop offset="0.108" stop-color="#bbcbe4"/><stop offset="0.132" stop-color="#b3c5e0"/><stop offset="0.275" stop-color="#b5c6e1"/><stop offset="0.359" stop-color="#c2d0e7"/><stop offset="0.437" stop-color="#bbcbe4"/><stop offset="1" stop-color="#c6d3e9"/></linearGradient><linearGradient id="h1f0" x1="859.8" x2="1193.8" gradientUnits="userSpaceOnUse"><stop offset="0" stop-color="#ffffff"/><stop offset="0.072" stop-color="#fbfcfe"/><stop offset="0.084" stop-color="#eff3f9"/><stop offset="0.108" stop-color="#bbcbe4"/><stop offset="0.132" stop-color="#b3c5e0"/><stop offset="1" stop-color="#c6d3e9"/></linearGradient><linearGradient id="h1f1" x1="859.8" x2="1193.8" gradientUnits="userSpaceOnUse"><stop offset="0" stop-color="#ffffff"/><stop offset="0.072" stop-color="#fbfcfe"/><stop offset="0.084" stop-color="#eff3f9"/><stop offset="0.108" stop-color="#bbcbe4"/><stop offset="0.132" stop-color="#b3c5e0"/><stop offset="1" stop-color="#c6d3e9"/></linearGradient><linearGradient id="h1f2" x1="859.8" x2="1193.8" gradientUnits="userSpaceOnUse"><stop offset="0" stop-color="#ffffff"/><stop offset="0.072" stop-color="#fcfcfe"/><stop offset="0.084" stop-color="#f0f3f9"/><stop offset="0.108" stop-color="#becde5"/><stop offset="0.132" stop-color="#b6c7e2"/><stop offset="1" stop-color="#c8d5ea"/></linearGradient><linearGradient id="h1f3" x1="859.8" x2="1193.8" gradientUnits="userSpaceOnUse"><stop offset="0" stop-color="#ffffff"/><stop offset="0.072" stop-color="#fdfdfe"/><stop offset="0.084" stop-color="#f5f7fb"/><stop offset="0.108" stop-color="#d5deef"/><stop offset="0.132" stop-color="#d0daed"/><stop offset="1" stop-color="#dce4f1"/></linearGradient><linearGradient id="h1f4" x1="859.8" x2="1193.8" gradientUnits="userSpaceOnUse"><stop offset="0" stop-color="#ffffff"/><stop offset="0.075" stop-color="#fdfdfe"/><stop offset="0.105" stop-color="#e4eaf4"/><stop offset="0.129" stop-color="#dfe6f2"/><stop offset="1" stop-color="#e7edf6"/></linearGradient><linearGradient id="h1f5" x1="859.8" x2="1193.8" gradientUnits="userSpaceOnUse"><stop offset="0" stop-color="#ffffff"/><stop offset="0.075" stop-color="#fdfdfe"/><stop offset="0.105" stop-color="#e6ebf5"/><stop offset="0.129" stop-color="#e1e8f3"/><stop offset="1" stop-color="#eaeef7"/></linearGradient><linearGradient id="h1f6" x1="859.8" x2="1193.8" gradientUnits="userSpaceOnUse"><stop offset="0" stop-color="#ffffff"/><stop offset="0.075" stop-color="#fdfdfe"/><stop offset="0.105" stop-color="#e7ecf6"/><stop offset="0.129" stop-color="#e3e9f4"/><stop offset="1" stop-color="#eef2f8"/></linearGradient><linearGradient id="h1f7" x1="859.8" x2="1193.8" gradientUnits="userSpaceOnUse"><stop offset="0" stop-color="#ffffff"/><stop offset="0.075" stop-color="#fefeff"/><stop offset="0.126" stop-color="#f2f5fa"/><stop offset="0.219" stop-color="#f9fbfd"/><stop offset="0.368" stop-color="#f3f6fa"/><stop offset="0.485" stop-color="#fefeff"/><stop offset="1" stop-color="#fffefe"/></linearGradient><linearGradient id="h1f8" x1="859.8" x2="1193.8" gradientUnits="userSpaceOnUse"><stop offset="0" stop-color="#ffffff"/><stop offset="0.132" stop-color="#fffefe"/><stop offset="0.213" stop-color="#fdf1f1"/><stop offset="0.284" stop-color="#fdf2f2"/><stop offset="0.359" stop-color="#fffdfd"/><stop offset="0.476" stop-color="#fcecec"/><stop offset="1" stop-color="#fcecec"/></linearGradient><linearGradient id="h1f9" x1="859.8" x2="1193.8" gradientUnits="userSpaceOnUse"><stop offset="0" stop-color="#ffffff"/><stop offset="0.132" stop-color="#fffefe"/><stop offset="0.213" stop-color="#fce9e9"/><stop offset="0.284" stop-color="#fcebeb"/><stop offset="0.359" stop-color="#fffdfd"/><stop offset="0.476" stop-color="#fbe3e3"/><stop offset="1" stop-color="#fbe2e2"/></linearGradient><linearGradient id="h1fa" x1="859.8" x2="1193.8" gradientUnits="userSpaceOnUse"><stop offset="0" stop-color="#ffffff"/><stop offset="0.132" stop-color="#fffdfd"/><stop offset="0.213" stop-color="#fce5e5"/><stop offset="0.284" stop-color="#fce7e7"/><stop offset="0.359" stop-color="#fffcfc"/><stop offset="0.476" stop-color="#fadede"/><stop offset="1" stop-color="#fadddd"/></linearGradient><linearGradient id="h1fb" x1="859.8" x2="1193.8" gradientUnits="userSpaceOnUse"><stop offset="0" stop-color="#ffffff"/><stop offset="0.132" stop-color="#fffdfd"/><stop offset="0.183" stop-color="#fce8e8"/><stop offset="0.213" stop-color="#fbe4e4"/><stop offset="0.284" stop-color="#fce6e6"/><stop offset="0.359" stop-color="#fffcfc"/><stop offset="0.476" stop-color="#fadcdc"/><stop offset="1" stop-color="#fadbdb"/></linearGradient><linearGradient id="h1fc" x1="859.8" x2="1193.8" gradientUnits="userSpaceOnUse"><stop offset="0" stop-color="#ffffff"/><stop offset="0.132" stop-color="#fffdfd"/><stop offset="0.183" stop-color="#fce8e8"/><stop offset="0.213" stop-color="#fbe4e4"/><stop offset="0.284" stop-color="#fce5e5"/><stop offset="0.359" stop-color="#fffcfc"/><stop offset="0.476" stop-color="#fadbdb"/><stop offset="1" stop-color="#fadada"/></linearGradient><linearGradient id="h1fd" x1="859.8" x2="1193.8" gradientUnits="userSpaceOnUse"><stop offset="0" stop-color="#ffffff"/><stop offset="0.132" stop-color="#fffdfd"/><stop offset="0.183" stop-color="#fce8e8"/><stop offset="0.213" stop-color="#fbe3e3"/><stop offset="0.284" stop-color="#fce5e5"/><stop offset="0.359" stop-color="#fffcfc"/><stop offset="0.476" stop-color="#fadbdb"/><stop offset="1" stop-color="#fadada"/></linearGradient><linearGradient id="h1fe" x1="859.8" x2="1193.8" gradientUnits="userSpaceOnUse"><stop offset="0" stop-color="#ffffff"/><stop offset="0.132" stop-color="#fffdfd"/><stop offset="0.183" stop-color="#fce8e8"/><stop offset="0.213" stop-color="#fbe3e3"/><stop offset="0.284" stop-color="#fbe5e5"/><stop offset="0.359" stop-color="#fffcfc"/><stop offset="0.476" stop-color="#fadbdb"/><stop offset="1" stop-color="#fadada"/></linearGradient><linearGradient id="h1ff" x1="859.8" x2="1193.8" gradientUnits="userSpaceOnUse"><stop offset="0" stop-color="#ffffff"/><stop offset="0.132" stop-color="#fffdfd"/><stop offset="0.183" stop-color="#fce8e8"/><stop offset="0.213" stop-color="#fbe3e3"/><stop offset="0.284" stop-color="#fbe5e5"/><stop offset="0.359" stop-color="#fffcfc"/><stop offset="0.476" stop-color="#fadbdb"/><stop offset="1" stop-color="#fadada"/></linearGradient><linearGradient id="h200" x1="859.8" x2="1193.8" gradientUnits="userSpaceOnUse"><stop offset="0" stop-color="#ffffff"/><stop offset="0.132" stop-color="#fffdfd"/><stop offset="0.183" stop-color="#fce8e8"/><stop offset="0.213" stop-color="#fbe3e3"/><stop offset="0.284" stop-color="#fbe5e5"/><stop offset="0.359" stop-color="#fffcfc"/><stop offset="0.476" stop-color="#fadbdb"/><stop offset="1" stop-color="#fadada"/></linearGradient><linearGradient id="h201" x1="859.8" x2="1193.8" gradientUnits="userSpaceOnUse"><stop offset="0" stop-color="#ffffff"/><stop offset="0.132" stop-color="#fffdfd"/><stop offset="0.183" stop-color="#fce8e8"/><stop offset="0.213" stop-color="#fbe3e3"/><stop offset="0.284" stop-color="#fbe5e5"/><stop offset="0.359" stop-color="#fffcfc"/><stop offset="0.476" stop-color="#fadbdb"/><stop offset="1" stop-color="#fadada"/></linearGradient><linearGradient id="h202" x1="859.8" x2="1193.8" gradientUnits="userSpaceOnUse"><stop offset="0" stop-color="#ffffff"/><stop offset="0.132" stop-color="#fffdfd"/><stop offset="0.183" stop-color="#fce8e8"/><stop offset="0.213" stop-color="#fbe3e3"/><stop offset="0.284" stop-color="#fbe5e5"/><stop offset="0.359" stop-color="#fffcfc"/><stop offset="0.476" stop-color="#fadbdb"/><stop offset="1" stop-color="#fadada"/></linearGradient><linearGradient id="h203" x1="859.8" x2="1193.8" gradientUnits="userSpaceOnUse"><stop offset="0" stop-color="#ffffff"/><stop offset="0.132" stop-color="#fffdfd"/><stop offset="0.183" stop-color="#fce8e8"/><stop offset="0.213" stop-color="#fbe3e3"/><stop offset="0.284" stop-color="#fce5e5"/><stop offset="0.359" stop-color="#fffcfc"/><stop offset="0.476" stop-color="#fadbdb"/><stop offset="1" stop-color="#fadada"/></linearGradient><linearGradient id="h204" x1="859.8" x2="1193.8" gradientUnits="userSpaceOnUse"><stop offset="0" stop-color="#ffffff"/><stop offset="0.132" stop-color="#fffdfd"/><stop offset="0.183" stop-color="#fce8e8"/><stop offset="0.213" stop-color="#fbe3e3"/><stop offset="0.284" stop-color="#fce5e5"/><stop offset="0.359" stop-color="#fffcfc"/><stop offset="0.476" stop-color="#fadbdb"/><stop offset="1" stop-color="#fadada"/></linearGradient><linearGradient id="h205" x1="859.8" x2="1193.8" gradientUnits="userSpaceOnUse"><stop offset="0" stop-color="#ffffff"/><stop offset="0.132" stop-color="#fffdfd"/><stop offset="0.183" stop-color="#fce8e8"/><stop offset="0.213" stop-color="#fbe4e4"/><stop offset="0.284" stop-color="#fce6e6"/><stop offset="0.359" stop-color="#fffdfd"/><stop offset="0.389" stop-color="#fef7f7"/><stop offset="0.44" stop-color="#fbe1e1"/><stop offset="0.476" stop-color="#fadbdb"/><stop offset="1" stop-color="#fadada"/></linearGradient><linearGradient id="h206" x1="859.8" x2="1193.8" gradientUnits="userSpaceOnUse"><stop offset="0" stop-color="#ffffff"/><stop offset="0.132" stop-color="#fffdfd"/><stop offset="0.183" stop-color="#fce8e8"/><stop offset="0.213" stop-color="#fbe4e4"/><stop offset="0.284" stop-color="#fce6e6"/><stop offset="0.359" stop-color="#fffdfd"/><stop offset="0.44" stop-color="#fbe1e1"/><stop offset="0.476" stop-color="#fadcdc"/><stop offset="1" stop-color="#fadbdb"/></linearGradient><linearGradient id="h207" x1="859.8" x2="1193.8" gradientUnits="userSpaceOnUse"><stop offset="0" stop-color="#ffffff"/><stop offset="0.132" stop-color="#fffdfd"/><stop offset="0.213" stop-color="#fbe5e5"/><stop offset="0.284" stop-color="#fce7e7"/><stop offset="0.359" stop-color="#fffefe"/><stop offset="0.44" stop-color="#fbe2e2"/><stop offset="0.476" stop-color="#fadddd"/><stop offset="1" stop-color="#fadcdc"/></linearGradient><linearGradient id="h208" x1="859.8" x2="1193.8" gradientUnits="userSpaceOnUse"><stop offset="0" stop-color="#ffffff"/><stop offset="0.132" stop-color="#fffefe"/><stop offset="0.213" stop-color="#fce7e7"/><stop offset="0.284" stop-color="#fce9e9"/><stop offset="0.359" stop-color="#ffffff"/><stop offset="0.476" stop-color="#fbe0e0"/><stop offset="1" stop-color="#fbdfdf"/></linearGradient><linearGradient id="h209" x1="859.8" x2="1193.8" gradientUnits="userSpaceOnUse"><stop offset="0" stop-color="#ffffff"/><stop offset="0.132" stop-color="#fffefe"/><stop offset="0.213" stop-color="#fceaea"/><stop offset="0.284" stop-color="#fcebeb"/><stop offset="0.341" stop-color="#fffefe"/><stop offset="0.371" stop-color="#ffffff"/><stop offset="0.473" stop-color="#fbe3e3"/><stop offset="1" stop-color="#fbe2e2"/></linearGradient><linearGradient id="h20a" x1="859.8" x2="1193.8" gradientUnits="userSpaceOnUse"><stop offset="0" stop-color="#ffffff"/><stop offset="0.132" stop-color="#fffefe"/><stop offset="0.213" stop-color="#fdeded"/><stop offset="0.281" stop-color="#fdeeee"/><stop offset="0.335" stop-color="#ffffff"/><stop offset="0.377" stop-color="#ffffff"/><stop offset="0.473" stop-color="#fce7e7"/><stop offset="1" stop-color="#fce7e7"/></linearGradient><linearGradient id="h20b" x1="859.8" x2="1193.8" gradientUnits="userSpaceOnUse"><stop offset="0" stop-color="#ffffff"/><stop offset="0.132" stop-color="#fffefe"/><stop offset="0.213" stop-color="#fdefef"/><stop offset="0.278" stop-color="#fdf0f0"/><stop offset="0.329" stop-color="#ffffff"/><stop offset="0.356" stop-color="#fafbfd"/><stop offset="0.383" stop-color="#ffffff"/><stop offset="0.473" stop-color="#fcebeb"/><stop offset="1" stop-color="#fceaea"/></linearGradient><linearGradient id="h20c" x1="859.8" x2="1193.8" gradientUnits="userSpaceOnUse"><stop offset="0" stop-color="#ffffff"/><stop offset="0.132" stop-color="#fffefe"/><stop offset="0.213" stop-color="#fdf1f1"/><stop offset="0.284" stop-color="#fdf2f2"/><stop offset="0.326" stop-color="#ffffff"/><stop offset="0.356" stop-color="#f7f9fc"/><stop offset="0.386" stop-color="#fefeff"/><stop offset="0.473" stop-color="#fdeded"/><stop offset="1" stop-color="#fcecec"/></linearGradient><linearGradient id="h20d" x1="859.8" x2="1193.8" gradientUnits="userSpaceOnUse"><stop offset="0" stop-color="#ffffff"/><stop offset="0.132" stop-color="#fffefe"/><stop offset="0.219" stop-color="#fdf2f2"/><stop offset="0.284" stop-color="#fdf4f4"/><stop offset="0.32" stop-color="#fffefe"/><stop offset="0.356" stop-color="#f5f7fb"/><stop offset="0.392" stop-color="#ffffff"/><stop offset="0.479" stop-color="#fdeeee"/><stop offset="1" stop-color="#fdeeee"/></linearGradient><linearGradient id="h20e" x1="859.8" x2="1193.8" gradientUnits="userSpaceOnUse"><stop offset="0" stop-color="#ffffff"/><stop offset="0.129" stop-color="#fffefe"/><stop offset="0.234" stop-color="#fdf3f3"/><stop offset="0.284" stop-color="#fef5f5"/><stop offset="0.317" stop-color="#ffffff"/><stop offset="0.353" stop-color="#f2f5fa"/><stop offset="0.395" stop-color="#ffffff"/><stop offset="0.473" stop-color="#fdf0f0"/><stop offset="1" stop-color="#fdf0f0"/></linearGradient><linearGradient id="h20f" x1="859.8" x2="1193.8" gradientUnits="userSpaceOnUse"><stop offset="0" stop-color="#ffffff"/><stop offset="0.228" stop-color="#fef6f6"/><stop offset="0.311" stop-color="#fffefe"/><stop offset="0.353" stop-color="#eff3f9"/><stop offset="0.401" stop-color="#fffefe"/><stop offset="0.476" stop-color="#fdf3f3"/><stop offset="1" stop-color="#fdf2f2"/></linearGradient><linearGradient id="h210" x1="859.8" x2="1193.8" gradientUnits="userSpaceOnUse"><stop offset="0" stop-color="#ffffff"/><stop offset="0.225" stop-color="#fef8f8"/><stop offset="0.305" stop-color="#fffefe"/><stop offset="0.353" stop-color="#edf1f8"/><stop offset="0.404" stop-color="#ffffff"/><stop offset="0.473" stop-color="#fef6f6"/><stop offset="1" stop-color="#fef6f6"/></linearGradient><linearGradient id="h211" x1="859.8" x2="1193.8" gradientUnits="userSpaceOnUse"><stop offset="0" stop-color="#ffffff"/><stop offset="0.299" stop-color="#ffffff"/><stop offset="0.353" stop-color="#eaeff7"/><stop offset="0.413" stop-color="#ffffff"/><stop offset="1" stop-color="#fef9f9"/></linearGradient><linearGradient id="h212" x1="859.8" x2="1193.8" gradientUnits="userSpaceOnUse"><stop offset="0" stop-color="#ffffff"/><stop offset="0.284" stop-color="#ffffff"/><stop offset="0.353" stop-color="#e8edf6"/><stop offset="0.422" stop-color="#ffffff"/><stop offset="1" stop-color="#fffdfd"/></linearGradient><linearGradient id="h213" x1="859.8" x2="1193.8" gradientUnits="userSpaceOnUse"><stop offset="0" stop-color="#ffffff"/><stop offset="0.275" stop-color="#fefefe"/><stop offset="0.353" stop-color="#e6ebf5"/><stop offset="0.443" stop-color="#fefeff"/><stop offset="1" stop-color="#ffffff"/></linearGradient><linearGradient id="h214" x1="859.8" x2="1193.8" gradientUnits="userSpaceOnUse"><stop offset="0" stop-color="#ffffff"/><stop offset="0.278" stop-color="#fbfcfd"/><stop offset="0.353" stop-color="#e3e9f4"/><stop offset="0.44" stop-color="#fcfcfe"/><stop offset="1" stop-color="#fcfdfe"/></linearGradient><linearGradient id="h215" x1="859.8" x2="1193.8" gradientUnits="userSpaceOnUse"><stop offset="0" stop-color="#ffffff"/><stop offset="0.278" stop-color="#f8f9fc"/><stop offset="0.353" stop-color="#e0e7f3"/><stop offset="0.44" stop-color="#f9fafd"/><stop offset="1" stop-color="#f9fafd"/></linearGradient><linearGradient id="h216" x1="859.8" x2="1193.8" gradientUnits="userSpaceOnUse"><stop offset="0" stop-color="#ffffff"/><stop offset="0.278" stop-color="#f5f7fb"/><stop offset="0.353" stop-color="#dde4f2"/><stop offset="0.44" stop-color="#f6f8fb"/><stop offset="1" stop-color="#f6f8fb"/></linearGradient><linearGradient id="h217" x1="859.8" x2="1193.8" gradientUnits="userSpaceOnUse"><stop offset="0" stop-color="#ffffff"/><stop offset="0.141" stop-color="#feffff"/><stop offset="0.281" stop-color="#f2f5fa"/><stop offset="0.353" stop-color="#dae2f0"/><stop offset="0.437" stop-color="#f2f5fa"/><stop offset="1" stop-color="#f3f6fa"/></linearGradient><linearGradient id="h218" x1="859.8" x2="1193.8" gradientUnits="userSpaceOnUse"><stop offset="0" stop-color="#ffffff"/><stop offset="0.141" stop-color="#fefeff"/><stop offset="0.204" stop-color="#f2f5fa"/><stop offset="0.281" stop-color="#eff3f9"/><stop offset="0.353" stop-color="#d7e0ef"/><stop offset="0.437" stop-color="#f0f3f9"/><stop offset="1" stop-color="#f0f4f9"/></linearGradient><linearGradient id="h219" x1="859.8" x2="1193.8" gradientUnits="userSpaceOnUse"><stop offset="0" stop-color="#ffffff"/><stop offset="0.15" stop-color="#fdfefe"/><stop offset="0.201" stop-color="#f0f4f9"/><stop offset="0.29" stop-color="#ecf0f8"/><stop offset="0.353" stop-color="#d5deef"/><stop offset="0.437" stop-color="#eef2f8"/><stop offset="1" stop-color="#eef2f9"/></linearGradient><linearGradient id="h21a" x1="859.8" x2="1193.8" gradientUnits="userSpaceOnUse"><stop offset="0" stop-color="#ffffff"/><stop offset="0.15" stop-color="#fdfefe"/><stop offset="0.201" stop-color="#eff3f9"/><stop offset="0.29" stop-color="#ebeff7"/><stop offset="0.353" stop-color="#d4ddee"/><stop offset="0.437" stop-color="#edf1f8"/><stop offset="1" stop-color="#edf1f8"/></linearGradient><linearGradient id="h21b" x1="859.8" x2="1193.8" gradientUnits="userSpaceOnUse"><stop offset="0" stop-color="#ffffff"/><stop offset="0.147" stop-color="#fefefe"/><stop offset="0.204" stop-color="#eef2f8"/><stop offset="0.29" stop-color="#eaeff7"/><stop offset="0.353" stop-color="#d3ddee"/><stop offset="0.437" stop-color="#ecf0f8"/><stop offset="1" stop-color="#edf1f8"/></linearGradient><linearGradient id="h21c" x1="859.8" x2="1193.8" gradientUnits="userSpaceOnUse"><stop offset="0" stop-color="#ffffff"/><stop offset="0.147" stop-color="#fefefe"/><stop offset="0.204" stop-color="#eef2f8"/><stop offset="0.29" stop-color="#e9eef7"/><stop offset="0.353" stop-color="#d2dcee"/><stop offset="0.437" stop-color="#ecf0f7"/><stop offset="1" stop-color="#ecf0f8"/></linearGradient><linearGradient id="h21d" x1="859.8" x2="1193.8" gradientUnits="userSpaceOnUse"><stop offset="0" stop-color="#ffffff"/><stop offset="0.147" stop-color="#fefefe"/><stop offset="0.204" stop-color="#eef1f8"/><stop offset="0.29" stop-color="#e9eef6"/><stop offset="0.353" stop-color="#d2dcee"/><stop offset="0.437" stop-color="#ebf0f7"/><stop offset="1" stop-color="#ecf0f8"/></linearGradient><linearGradient id="h21e" x1="859.8" x2="1193.8" gradientUnits="userSpaceOnUse"><stop offset="0" stop-color="#ffffff"/><stop offset="0.147" stop-color="#fdfefe"/><stop offset="0.204" stop-color="#edf1f8"/><stop offset="0.29" stop-color="#e9eef6"/><stop offset="0.353" stop-color="#d2dced"/><stop offset="0.437" stop-color="#ebf0f7"/><stop offset="1" stop-color="#ecf0f8"/></linearGradient><linearGradient id="h21f" x1="859.8" x2="1193.8" gradientUnits="userSpaceOnUse"><stop offset="0" stop-color="#ffffff"/><stop offset="0.147" stop-color="#fdfefe"/><stop offset="0.204" stop-color="#edf1f8"/><stop offset="0.29" stop-color="#e9eef6"/><stop offset="0.353" stop-color="#d2dced"/><stop offset="0.437" stop-color="#ebf0f7"/><stop offset="1" stop-color="#ecf0f7"/></linearGradient><linearGradient id="h220" x1="859.8" x2="1193.8" gradientUnits="userSpaceOnUse"><stop offset="0" stop-color="#ffffff"/><stop offset="0.147" stop-color="#fdfefe"/><stop offset="0.204" stop-color="#edf1f8"/><stop offset="0.29" stop-color="#e9eef6"/><stop offset="0.353" stop-color="#d2dced"/><stop offset="0.437" stop-color="#ebf0f7"/><stop offset="1" stop-color="#ecf0f7"/></linearGradient><linearGradient id="h221" x1="859.8" x2="1193.8" gradientUnits="userSpaceOnUse"><stop offset="0" stop-color="#ffffff"/><stop offset="0.147" stop-color="#fdfefe"/><stop offset="0.204" stop-color="#edf1f8"/><stop offset="0.29" stop-color="#e9eef6"/><stop offset="0.353" stop-color="#d2dced"/><stop offset="0.437" stop-color="#ebf0f7"/><stop offset="1" stop-color="#ecf0f7"/></linearGradient><clipPath id="bc2"><rect x="879.1" y="485.8" width="314.7" height="360.7"/></clipPath></defs>
<rect x="119.6" y="40.3" width="335" height="4.6" fill="url(#h1)"/>
<rect x="119.6" y="44.3" width="335" height="4.6" fill="url(#h2)"/>
<rect x="119.6" y="48.3" width="335" height="4.6" fill="url(#h3)"/>
<rect x="119.6" y="52.3" width="335" height="4.6" fill="url(#h4)"/>
<rect x="119.6" y="56.3" width="335" height="4.6" fill="url(#h5)"/>
<rect x="119.6" y="60.3" width="335" height="4.6" fill="url(#h6)"/>
<rect x="119.6" y="64.3" width="335" height="4.6" fill="url(#h7)"/>
<rect x="119.6" y="68.3" width="335" height="4.6" fill="url(#h8)"/>
<rect x="119.6" y="72.3" width="335" height="4.6" fill="url(#h9)"/>
<rect x="119.6" y="76.3" width="335" height="4.6" fill="url(#ha)"/>
<rect x="119.6" y="80.3" width="335" height="4.6" fill="url(#hb)"/>
<rect x="119.6" y="84.3" width="335" height="4.6" fill="url(#hc)"/>
<rect x="119.6" y="88.3" width="335" height="4.6" fill="url(#hd)"/>
<rect x="119.6" y="92.3" width="335" height="4.6" fill="url(#he)"/>
<rect x="119.6" y="96.3" width="335" height="4.6" fill="url(#hf)"/>
<rect x="119.6" y="100.3" width="335" height="4.6" fill="url(#h10)"/>
<rect x="119.6" y="104.3" width="335" height="4.6" fill="url(#h11)"/>
<rect x="119.6" y="108.3" width="335" height="4.6" fill="url(#h12)"/>
<rect x="119.6" y="112.3" width="335" height="4.6" fill="url(#h13)"/>
<rect x="119.6" y="116.3" width="335" height="4.6" fill="url(#h14)"/>
<rect x="119.6" y="120.3" width="335" height="4.6" fill="url(#h15)"/>
<rect x="119.6" y="124.3" width="335" height="4.6" fill="url(#h16)"/>
<rect x="119.6" y="128.3" width="335" height="4.6" fill="url(#h17)"/>
<rect x="119.6" y="132.3" width="335" height="4.6" fill="url(#h18)"/>
<rect x="119.6" y="136.3" width="335" height="4.6" fill="url(#h19)"/>
<rect x="119.6" y="140.3" width="335" height="4.6" fill="url(#h1a)"/>
<rect x="119.6" y="144.3" width="335" height="4.6" fill="url(#h1b)"/>
<rect x="119.6" y="148.3" width="335" height="4.6" fill="url(#h1c)"/>
<rect x="119.6" y="152.3" width="335" height="4.6" fill="url(#h1d)"/>
<rect x="119.6" y="156.3" width="335" height="4.6" fill="url(#h1e)"/>
<rect x="119.6" y="160.3" width="335" height="4.6" fill="url(#h1f)"/>
<rect x="119.6" y="164.3" width="335" height="4.6" fill="url(#h20)"/>
<rect x="119.6" y="168.3" width="335" height="4.6" fill="url(#h21)"/>
<rect x="119.6" y="172.3" width="335" height="4.6" fill="url(#h22)"/>
<rect x="119.6" y="176.3" width="335" height="4.6" fill="url(#h23)"/>
<rect x="119.6" y="180.3" width="335" height="4.6" fill="url(#h24)"/>
<rect x="119.6" y="184.3" width="335" height="4.6" fill="url(#h25)"/>
<rect x="119.6" y="188.3" width="335" height="4.6" fill="url(#h26)"/>
<rect x="119.6" y="192.3" width="335" height="4.6" fill="url(#h27)"/>
<rect x="119.6" y="196.3" width="335" height="4.6" fill="url(#h28)"/>
<rect x="119.6" y="200.3" width="335" height="4.6" fill="url(#h29)"/>
<rect x="119.6" y="204.3" width="335" height="4.6" fill="url(#h2a)"/>
<rect x="119.6" y="208.3" width="335" height="4.6" fill="url(#h2b)"/>
<rect x="119.6" y="212.3" width="335" height="4.6" fill="url(#h2c)"/>
<rect x="119.6" y="216.3" width="335" height="4.6" fill="url(#h2d)"/>
<rect x="119.6" y="220.3" width="335" height="4.6" fill="url(#h2e)"/>
<rect x="119.6" y="224.3" width="335" height="4.6" fill="url(#h2f)"/>
<rect x="119.6" y="228.3" width="335" height="4.6" fill="url(#h30)"/>
<rect x="119.6" y="232.3" width="335" height="4.6" fill="url(#h31)"/>
<rect x="119.6" y="236.3" width="335" height="4.6" fill="url(#h32)"/>
<rect x="119.6" y="240.3" width="335" height="4.6" fill="url(#h33)"/>
<rect x="119.6" y="244.3" width="335" height="4.6" fill="url(#h34)"/>
<rect x="119.6" y="248.3" width="335" height="4.6" fill="url(#h35)"/>
<rect x="119.6" y="252.3" width="335" height="4.6" fill="url(#h36)"/>
<rect x="119.6" y="256.3" width="335" height="4.6" fill="url(#h37)"/>
<rect x="119.6" y="260.3" width="335" height="4.6" fill="url(#h38)"/>
<rect x="119.6" y="264.3" width="335" height="4.6" fill="url(#h39)"/>
<rect x="119.6" y="268.3" width="335" height="4.6" fill="url(#h3a)"/>
<rect x="119.6" y="272.3" width="335" height="4.6" fill="url(#h3b)"/>
<rect x="119.6" y="276.3" width="335" height="4.6" fill="url(#h3c)"/>
<rect x="119.6" y="280.3" width="335" height="4.6" fill="url(#h3d)"/>
<rect x="119.6" y="284.3" width="335" height="4.6" fill="url(#h3e)"/>
<rect x="119.6" y="288.3" width="335" height="4.6" fill="url(#h3f)"/>
<rect x="119.6" y="292.3" width="335" height="4.6" fill="url(#h40)"/>
<rect x="119.6" y="296.3" width="335" height="4.6" fill="url(#h41)"/>
<rect x="119.6" y="300.3" width="335" height="4.6" fill="url(#h42)"/>
<rect x="119.6" y="304.3" width="335" height="4.6" fill="url(#h43)"/>
<rect x="119.6" y="308.3" width="335" height="4.6" fill="url(#h44)"/>
<rect x="119.6" y="312.3" width="335" height="4.6" fill="url(#h45)"/>
<rect x="119.6" y="316.3" width="335" height="4.6" fill="url(#h46)"/>
<rect x="119.6" y="320.3" width="335" height="4.6" fill="url(#h47)"/>
<rect x="119.6" y="324.3" width="335" height="4.6" fill="url(#h48)"/>
<rect x="119.6" y="328.3" width="335" height="4.6" fill="url(#h49)"/>
<rect x="119.6" y="332.3" width="335" height="4.6" fill="url(#h4a)"/>
<rect x="119.6" y="336.3" width="335" height="4.6" fill="url(#h4b)"/>
<rect x="119.6" y="340.3" width="335" height="4.6" fill="url(#h4c)"/>
<rect x="119.6" y="344.3" width="335" height="4.6" fill="url(#h4d)"/>
<rect x="119.6" y="348.3" width="335" height="4.6" fill="url(#h4e)"/>
<rect x="119.6" y="352.3" width="335" height="4.6" fill="url(#h4f)"/>
<rect x="119.6" y="356.3" width="335" height="4.6" fill="url(#h50)"/>
<rect x="119.6" y="360.3" width="335" height="4.6" fill="url(#h51)"/>
<rect x="119.6" y="364.3" width="335" height="4.6" fill="url(#h52)"/>
<rect x="119.6" y="368.3" width="335" height="4.6" fill="url(#h53)"/>
<rect x="119.6" y="372.3" width="335" height="4.6" fill="url(#h54)"/>
<rect x="119.6" y="376.3" width="335" height="4.6" fill="url(#h55)"/>
<rect x="119.6" y="380.3" width="335" height="4.6" fill="url(#h56)"/>
<rect x="119.6" y="384.3" width="335" height="4.6" fill="url(#h57)"/>
<rect x="119.6" y="388.3" width="335" height="4.6" fill="url(#h58)"/>
<rect x="119.6" y="392.3" width="335" height="4.6" fill="url(#h59)"/>
<rect x="119.6" y="396.3" width="335" height="4.6" fill="url(#h5a)"/>
<rect x="119.6" y="400.3" width="335" height="0.4" fill="url(#h5b)"/>
<rect x="485" y="40.3" width="334.1" height="4.6" fill="url(#h5c)"/>
<rect x="485" y="44.3" width="334.1" height="4.6" fill="url(#h5d)"/>
<rect x="485" y="48.3" width="334.1" height="4.6" fill="url(#h5e)"/>
<rect x="485" y="52.3" width="334.1" height="4.6" fill="url(#h5f)"/>
<rect x="485" y="56.3" width="334.1" height="4.6" fill="url(#h60)"/>
<rect x="485" y="60.3" width="334.1" height="4.6" fill="url(#h61)"/>
<rect x="485" y="64.3" width="334.1" height="4.6" fill="url(#h62)"/>
<rect x="485" y="68.3" width="334.1" height="4.6" fill="url(#h63)"/>
<rect x="485" y="72.3" width="334.1" height="4.6" fill="url(#h64)"/>
<rect x="485" y="76.3" width="334.1" height="4.6" fill="url(#h65)"/>
<rect x="485" y="80.3" width="334.1" height="4.6" fill="url(#h66)"/>
<rect x="485" y="84.3" width="334.1" height="4.6" fill="url(#h67)"/>
<rect x="485" y="88.3" width="334.1" height="4.6" fill="url(#h68)"/>
<rect x="485" y="92.3" width="334.1" height="4.6" fill="url(#h69)"/>
<rect x="485" y="96.3" width="334.1" height="4.6" fill="url(#h6a)"/>
<rect x="485" y="100.3" width="334.1" height="4.6" fill="url(#h6b)"/>
<rect x="485" y="104.3" width="334.1" height="4.6" fill="url(#h6c)"/>
<rect x="485" y="108.3" width="334.1" height="4.6" fill="url(#h6d)"/>
<rect x="485" y="112.3" width="334.1" height="4.6" fill="url(#h6e)"/>
<rect x="485" y="116.3" width="334.1" height="4.6" fill="url(#h6f)"/>
<rect x="485" y="120.3" width="334.1" height="4.6" fill="url(#h70)"/>
<rect x="485" y="124.3" width="334.1" height="4.6" fill="url(#h71)"/>
<rect x="485" y="128.3" width="334.1" height="4.6" fill="url(#h72)"/>
<rect x="485" y="132.3" width="334.1" height="4.6" fill="url(#h73)"/>
<rect x="485" y="136.3" width="334.1" height="4.6" fill="url(#h74)"/>
<rect x="485" y="140.3" width="334.1" height="4.6" fill="url(#h75)"/>
<rect x="485" y="144.3" width="334.1" height="4.6" fill="url(#h76)"/>
<rect x="485" y="148.3" width="334.1" height="4.6" fill="url(#h77)"/>
<rect x="485" y="152.3" width="334.1" height="4.6" fill="url(#h78)"/>
<rect x="485" y="156.3" width="334.1" height="4.6" fill="url(#h79)"/>
<rect x="485" y="160.3" width="334.1" height="4.6" fill="url(#h7a)"/>
<rect x="485" y="164.3" width="334.1" height="4.6" fill="url(#h7b)"/>
<rect x="485" y="168.3" width="334.1" height="4.6" fill="url(#h7c)"/>
<rect x="485" y="172.3" width="334.1" height="4.6" fill="url(#h7d)"/>
<rect x="485" y="176.3" width="334.1" height="4.6" fill="url(#h7e)"/>
<rect x="485" y="180.3" width="334.1" height="4.6" fill="url(#h7f)"/>
<rect x="485" y="184.3" width="334.1" height="4.6" fill="url(#h80)"/>
<rect x="485" y="188.3" width="334.1" height="4.6" fill="url(#h81)"/>
<rect x="485" y="192.3" width="334.1" height="4.6" fill="url(#h82)"/>
<rect x="485" y="196.3" width="334.1" height="4.6" fill="url(#h83)"/>
<rect x="485" y="200.3" width="334.1" height="4.6" fill="url(#h84)"/>
<rect x="485" y="204.3" width="334.1" height="4.6" fill="url(#h85)"/>
<rect x="485" y="208.3" width="334.1" height="4.6" fill="url(#h86)"/>
<rect x="485" y="212.3" width="334.1" height="4.6" fill="url(#h87)"/>
<rect x="485" y="216.3" width="334.1" height="4.6" fill="url(#h88)"/>
<rect x="485" y="220.3" width="334.1" height="4.6" fill="url(#h89)"/>
<rect x="485" y="224.3" width="334.1" height="4.6" fill="url(#h8a)"/>
<rect x="485" y="228.3" width="334.1" height="4.6" fill="url(#h8b)"/>
<rect x="485" y="232.3" width="334.1" height="4.6" fill="url(#h8c)"/>
<rect x="485" y="236.3" width="334.1" height="4.6" fill="url(#h8d)"/>
<rect x="485" y="240.3" width="334.1" height="4.6" fill="url(#h8e)"/>
<rect x="485" y="244.3" width="334.1" height="4.6" fill="url(#h8f)"/>
<rect x="485" y="248.3" width="334.1" height="4.6" fill="url(#h90)"/>
<rect x="485" y="252.3" width="334.1" height="4.6" fill="url(#h91)"/>
<rect x="485" y="256.3" width="334.1" height="4.6" fill="url(#h92)"/>
<rect x="485" y="260.3" width="334.1" height="4.6" fill="url(#h93)"/>
<rect x="485" y="264.3" width="334.1" height="4.6" fill="url(#h94)"/>
<rect x="485" y="268.3" width="334.1" height="4.6" fill="url(#h95)"/>
<rect x="485" y="272.3" width="334.1" height="4.6" fill="url(#h96)"/>
<rect x="485" y="276.3" width="334.1" height="4.6" fill="url(#h97)"/>
<rect x="485" y="280.3" width="334.1" height="4.6" fill="url(#h98)"/>
<rect x="485" y="284.3" width="334.1" height="4.6" fill="url(#h99)"/>
<rect x="485" y="288.3" width="334.1" height="4.6" fill="url(#h9a)"/>
<rect x="485" y="292.3" width="334.1" height="4.6" fill="url(#h9b)"/>
<rect x="485" y="296.3" width="334.1" height="4.6" fill="url(#h9c)"/>
<rect x="485" y="300.3" width="334.1" height="4.6" fill="url(#h9d)"/>
<rect x="485" y="304.3" width="334.1" height="4.6" fill="url(#h9e)"/>
<rect x="485" y="308.3" width="334.1" height="4.6" fill="url(#h9f)"/>
<rect x="485" y="312.3" width="334.1" height="4.6" fill="url(#ha0)"/>
<rect x="485" y="316.3" width="334.1" height="4.6" fill="url(#ha1)"/>
<rect x="485" y="320.3" width="334.1" height="4.6" fill="url(#ha2)"/>
<rect x="485" y="324.3" width="334.1" height="4.6" fill="url(#ha3)"/>
<rect x="485" y="328.3" width="334.1" height="4.6" fill="url(#ha4)"/>
<rect x="485" y="332.3" width="334.1" height="4.6" fill="url(#ha5)"/>
<rect x="485" y="336.3" width="334.1" height="4.6" fill="url(#ha6)"/>
<rect x="485" y="340.3" width="334.1" height="4.6" fill="url(#ha7)"/>
<rect x="485" y="344.3" width="334.1" height="4.6" fill="url(#ha8)"/>
<rect x="485" y="348.3" width="334.1" height="4.6" fill="url(#ha9)"/>
<rect x="485" y="352.3" width="334.1" height="4.6" fill="url(#haa)"/>
<rect x="485" y="356.3" width="334.1" height="4.6" fill="url(#hab)"/>
<rect x="485" y="360.3" width="334.1" height="4.6" fill="url(#hac)"/>
<rect x="485" y="364.3" width="334.1" height="4.6" fill="url(#had)"/>
<rect x="485" y="368.3" width="334.1" height="4.6" fill="url(#hae)"/>
<rect x="485" y="372.3" width="334.1" height="4.6" fill="url(#haf)"/>
<rect x="485" y="376.3" width="334.1" height="4.6" fill="url(#hb0)"/>
<rect x="485" y="380.3" width="334.1" height="4.6" fill="url(#hb1)"/>
<rect x="485" y="384.3" width="334.1" height="4.6" fill="url(#hb2)"/>
<rect x="485" y="388.3" width="334.1" height="4.6" fill="url(#hb3)"/>
<rect x="485" y="392.3" width="334.1" height="4.6" fill="url(#hb4)"/>
<rect x="485" y="396.3" width="334.1" height="4.6" fill="url(#hb5)"/>
<rect x="485" y="400.3" width="334.1" height="0.6" fill="url(#hb6)"/>
<rect x="859.6" y="40.3" width="334.6" height="4.6" fill="url(#hb7)"/>
<rect x="859.6" y="44.3" width="334.6" height="4.6" fill="url(#hb8)"/>
<rect x="859.6" y="48.3" width="334.6" height="4.6" fill="url(#hb9)"/>
<rect x="859.6" y="52.3" width="334.6" height="4.6" fill="url(#hba)"/>
<rect x="859.6" y="56.3" width="334.6" height="4.6" fill="url(#hbb)"/>
<rect x="859.6" y="60.3" width="334.6" height="4.6" fill="url(#hbc)"/>
<rect x="859.6" y="64.3" width="334.6" height="4.6" fill="url(#hbd)"/>
<rect x="859.6" y="68.3" width="334.6" height="4.6" fill="url(#hbe)"/>
<rect x="859.6" y="72.3" width="334.6" height="4.6" fill="url(#hbf)"/>
<rect x="859.6" y="76.3" width="334.6" height="4.6" fill="url(#hc0)"/>
<rect x="859.6" y="80.3" width="334.6" height="4.6" fill="url(#hc1)"/>
<rect x="859.6" y="84.3" width="334.6" height="4.6" fill="url(#hc2)"/>
<rect x="859.6" y="88.3" width="334.6" height="4.6" fill="url(#hc3)"/>
<rect x="859.6" y="92.3" width="334.6" height="4.6" fill="url(#hc4)"/>
<rect x="859.6" y="96.3" width="334.6" height="4.6" fill="url(#hc5)"/>
<rect x="859.6" y="100.3" width="334.6" height="4.6" fill="url(#hc6)"/>
<rect x="859.6" y="104.3" width="334.6" height="4.6" fill="url(#hc7)"/>
<rect x="859.6" y="108.3" width="334.6" height="4.6" fill="url(#hc8)"/>
<rect x="859.6" y="112.3" width="334.6" height="4.6" fill="url(#hc9)"/>
<rect x="859.6" y="116.3" width="334.6" height="4.6" fill="url(#hca)"/>
<rect x="859.6" y="120.3" width="334.6" height="4.6" fill="url(#hcb)"/>
<rect x="859.6" y="124.3" width="334.6" height="4.6" fill="url(#hcc)"/>
<rect x="859.6" y="128.3" width="334.6" height="4.6" fill="url(#hcd)"/>
<rect x="859.6" y="132.3" width="334.6" height="4.6" fill="url(#hce)"/>
<rect x="859.6" y="136.3" width="334.6" height="4.6" fill="url(#hcf)"/>
<rect x="859.6" y="140.3" width="334.6" height="4.6" fill="url(#hd0)"/>
<rect x="859.6" y="144.3" width="334.6" height="4.6" fill="url(#hd1)"/>
<rect x="859.6" y="148.3" width="334.6" height="4.6" fill="url(#hd2)"/>
<rect x="859.6" y="152.3" width="334.6" height="4.6" fill="url(#hd3)"/>
<rect x="859.6" y="156.3" width="334.6" height="4.6" fill="url(#hd4)"/>
<rect x="859.6" y="160.3" width="334.6" height="4.6" fill="url(#hd5)"/>
<rect x="859.6" y="164.3" width="334.6" height="4.6" fill="url(#hd6)"/>
<rect x="859.6" y="168.3" width="334.6" height="4.6" fill="url(#hd7)"/>
<rect x="859.6" y="172.3" width="334.6" height="4.6" fill="url(#hd8)"/>
<rect x="859.6" y="176.3" width="334.6" height="4.6" fill="url(#hd9)"/>
<rect x="859.6" y="180.3" width="334.6" height="4.6" fill="url(#hda)"/>
<rect x="859.6" y="184.3" width="334.6" height="4.6" fill="url(#hdb)"/>
<rect x="859.6" y="188.3" width="334.6" height="4.6" fill="url(#hdc)"/>
<rect x="859.6" y="192.3" width="334.6" height="4.6" fill="url(#hdd)"/>
<rect x="859.6" y="196.3" width="334.6" height="4.6" fill="url(#hde)"/>
<rect x="859.6" y="200.3" width="334.6" height="4.6" fill="url(#hdf)"/>
<rect x="859.6" y="204.3" width="334.6" height="4.6" fill="url(#he0)"/>
<rect x="859.6" y="208.3" width="334.6" height="4.6" fill="url(#he1)"/>
<rect x="859.6" y="212.3" width="334.6" height="4.6" fill="url(#he2)"/>
<rect x="859.6" y="216.3" width="334.6" height="4.6" fill="url(#he3)"/>
<rect x="859.6" y="220.3" width="334.6" height="4.6" fill="url(#he4)"/>
<rect x="859.6" y="224.3" width="334.6" height="4.6" fill="url(#he5)"/>
<rect x="859.6" y="228.3" width="334.6" height="4.6" fill="url(#he6)"/>
<rect x="859.6" y="232.3" width="334.6" height="4.6" fill="url(#he7)"/>
<rect x="859.6" y="236.3" width="334.6" height="4.6" fill="url(#he8)"/>
<rect x="859.6" y="240.3" width="334.6" height="4.6" fill="url(#he9)"/>
<rect x="859.6" y="244.3" width="334.6" height="4.6" fill="url(#hea)"/>
<rect x="859.6" y="248.3" width="334.6" height="4.6" fill="url(#heb)"/>
<rect x="859.6" y="252.3" width="334.6" height="4.6" fill="url(#hec)"/>
<rect x="859.6" y="256.3" width="334.6" height="4.6" fill="url(#hed)"/>
<rect x="859.6" y="260.3" width="334.6" height="4.6" fill="url(#hee)"/>
<rect x="859.6" y="264.3" width="334.6" height="4.6" fill="url(#hef)"/>
<rect x="859.6" y="268.3" width="334.6" height="4.6" fill="url(#hf0)"/>
<rect x="859.6" y="272.3" width="334.6" height="4.6" fill="url(#hf1)"/>
<rect x="859.6" y="276.3" width="334.6" height="4.6" fill="url(#hf2)"/>
<rect x="859.6" y="280.3" width="334.6" height="4.6" fill="url(#hf3)"/>
<rect x="859.6" y="284.3" width="334.6" height="4.6" fill="url(#hf4)"/>
<rect x="859.6" y="288.3" width="334.6" height="4.6" fill="url(#hf5)"/>
<rect x="859.6" y="292.3" width="334.6" height="4.6" fill="url(#hf6)"/>
<rect x="859.6" y="296.3" width="334.6" height="4.6" fill="url(#hf7)"/>
<rect x="859.6" y="300.3" width="334.6" height="4.6" fill="url(#hf8)"/>
<rect x="859.6" y="304.3" width="334.6" height="4.6" fill="url(#hf9)"/>
<rect x="859.6" y="308.3" width="334.6" height="4.6" fill="url(#hfa)"/>
<rect x="859.6" y="312.3" width="334.6" height="4.6" fill="url(#hfb)"/>
<rect x="859.6" y="316.3" width="334.6" height="4.6" fill="url(#hfc)"/>
<rect x="859.6" y="320.3" width="334.6" height="4.6" fill="url(#hfd)"/>
<rect x="859.6" y="324.3" width="334.6" height="4.6" fill="url(#hfe)"/>
<rect x="859.6" y="328.3" width="334.6" height="4.6" fill="url(#hff)"/>
<rect x="859.6" y="332.3" width="334.6" height="4.6" fill="url(#h100)"/>
<rect x="859.6" y="336.3" width="334.6" height="4.6" fill="url(#h101)"/>
<rect x="859.6" y="340.3" width="334.6" height="4.6" fill="url(#h102)"/>
<rect x="859.6" y="344.3" width="334.6" height="4.6" fill="url(#h103)"/>
<rect x="859.6" y="348.3" width="334.6" height="4.6" fill="url(#h104)"/>
<rect x="859.6" y="352.3" width="334.6" height="4.6" fill="url(#h105)"/>
<rect x="859.6" y="356.3" width="334.6" height="4.6" fill="url(#h106)"/>
<rect x="859.6" y="360.3" width="334.6" height="4.6" fill="url(#h107)"/>
<rect x="859.6" y="364.3" width="334.6" height="4.6" fill="url(#h108)"/>
<rect x="859.6" y="368.3" width="334.6" height="4.6" fill="url(#h109)"/>
<rect x="859.6" y="372.3" width="334.6" height="4.6" fill="url(#h10a)"/>
<rect x="859.6" y="376.3" width="334.6" height="4.6" fill="url(#h10b)"/>
<rect x="859.6" y="380.3" width="334.6" height="4.6" fill="url(#h10c)"/>
<rect x="859.6" y="384.3" width="334.6" height="4.6" fill="url(#h10d)"/>
<rect x="859.6" y="388.3" width="334.6" height="4.6" fill="url(#h10e)"/>
<rect x="859.6" y="392.3" width="334.6" height="4.6" fill="url(#h10f)"/>
<rect x="859.6" y="396.3" width="334.6" height="4.6" fill="url(#h110)"/>
<rect x="859.6" y="400.3" width="334.6" height="0.6" fill="url(#h111)"/>
<rect x="119.3" y="484.9" width="335.6" height="4.6" fill="url(#h112)"/>
<rect x="119.3" y="488.9" width="335.6" height="4.6" fill="url(#h113)"/>
<rect x="119.3" y="492.9" width="335.6" height="4.6" fill="url(#h114)"/>
<rect x="119.3" y="496.9" width="335.6" height="4.6" fill="url(#h115)"/>
<rect x="119.3" y="500.9" width="335.6" height="4.6" fill="url(#h116)"/>
<rect x="119.3" y="504.9" width="335.6" height="4.6" fill="url(#h117)"/>
<rect x="119.3" y="508.9" width="335.6" height="4.6" fill="url(#h118)"/>
<rect x="119.3" y="512.9" width="335.6" height="4.6" fill="url(#h119)"/>
<rect x="119.3" y="516.9" width="335.6" height="4.6" fill="url(#h11a)"/>
<rect x="119.3" y="520.9" width="335.6" height="4.6" fill="url(#h11b)"/>
<rect x="119.3" y="524.9" width="335.6" height="4.6" fill="url(#h11c)"/>
<rect x="119.3" y="528.9" width="335.6" height="4.6" fill="url(#h11d)"/>
<rect x="119.3" y="532.9" width="335.6" height="4.6" fill="url(#h11e)"/>
<rect x="119.3" y="536.9" width="335.6" height="4.6" fill="url(#h11f)"/>
<rect x="119.3" y="540.9" width="335.6" height="4.6" fill="url(#h120)"/>
<rect x="119.3" y="544.9" width="335.6" height="4.6" fill="url(#h121)"/>
<rect x="119.3" y="548.9" width="335.6" height="4.6" fill="url(#h122)"/>
<rect x="119.3" y="552.9" width="335.6" height="4.6" fill="url(#h123)"/>
<rect x="119.3" y="556.9" width="335.6" height="4.6" fill="url(#h124)"/>
<rect x="119.3" y="560.9" width="335.6" height="4.6" fill="url(#h125)"/>
<rect x="119.3" y="564.9" width="335.6" height="4.6" fill="url(#h126)"/>
<rect x="119.3" y="568.9" width="335.6" height="4.6" fill="url(#h127)"/>
<rect x="119.3" y="572.9" width="335.6" height="4.6" fill="url(#h128)"/>
<rect x="119.3" y="576.9" width="335.6" height="4.6" fill="url(#h129)"/>
<rect x="119.3" y="580.9" width="335.6" height="4.6" fill="url(#h12a)"/>
<rect x="119.3" y="584.9" width="335.6" height="4.6" fill="url(#h12b)"/>
<rect x="119.3" y="588.9" width="335.6" height="4.6" fill="url(#h12c)"/>
<rect x="119.3" y="592.9" width="335.6" height="4.6" fill="url(#h12d)"/>
<rect x="119.3" y="596.9" width="335.6" height="4.6" fill="url(#h12e)"/>
<rect x="119.3" y="600.9" width="335.6" height="4.6" fill="url(#h12f)"/>
<rect x="119.3" y="604.9" width="335.6" height="4.6" fill="url(#h130)"/>
<rect x="119.3" y="608.9" width="335.6" height="4.6" fill="url(#h131)"/>
<rect x="119.3" y="612.9" width="335.6" height="4.6" fill="url(#h132)"/>
<rect x="119.3" y="616.9" width="335.6" height="4.6" fill="url(#h133)"/>
<rect x="119.3" y="620.9" width="335.6" height="4.6" fill="url(#h134)"/>
<rect x="119.3" y="624.9" width="335.6" height="4.6" fill="url(#h135)"/>
<rect x="119.3" y="628.9" width="335.6" height="4.6" fill="url(#h136)"/>
<rect x="119.3" y="632.9" width="335.6" height="4.6" fill="url(#h137)"/>
<rect x="119.3" y="636.9" width="335.6" height="4.6" fill="url(#h138)"/>
<rect x="119.3" y="640.9" width="335.6" height="4.6" fill="url(#h139)"/>
<rect x="119.3" y="644.9" width="335.6" height="4.6" fill="url(#h13a)"/>
<rect x="119.3" y="648.9" width="335.6" height="4.6" fill="url(#h13b)"/>
<rect x="119.3" y="652.9" width="335.6" height="4.6" fill="url(#h13c)"/>
<rect x="119.3" y="656.9" width="335.6" height="4.6" fill="url(#h13d)"/>
<rect x="119.3" y="660.9" width="335.6" height="4.6" fill="url(#h13e)"/>
<rect x="119.3" y="664.9" width="335.6" height="4.6" fill="url(#h13f)"/>
<rect x="119.3" y="668.9" width="335.6" height="4.6" fill="url(#h140)"/>
<rect x="119.3" y="672.9" width="335.6" height="4.6" fill="url(#h141)"/>
<rect x="119.3" y="676.9" width="335.6" height="4.6" fill="url(#h142)"/>
<rect x="119.3" y="680.9" width="335.6" height="4.6" fill="url(#h143)"/>
<rect x="119.3" y="684.9" width="335.6" height="4.6" fill="url(#h144)"/>
<rect x="119.3" y="688.9" width="335.6" height="4.6" fill="url(#h145)"/>
<rect x="119.3" y="692.9" width="335.6" height="4.6" fill="url(#h146)"/>
<rect x="119.3" y="696.9" width="335.6" height="4.6" fill="url(#h147)"/>
<rect x="119.3" y="700.9" width="335.6" height="4.6" fill="url(#h148)"/>
<rect x="119.3" y="704.9" width="335.6" height="4.6" fill="url(#h149)"/>
<rect x="119.3" y="708.9" width="335.6" height="4.6" fill="url(#h14a)"/>
<rect x="119.3" y="712.9" width="335.6" height="4.6" fill="url(#h14b)"/>
<rect x="119.3" y="716.9" width="335.6" height="4.6" fill="url(#h14c)"/>
<rect x="119.3" y="720.9" width="335.6" height="4.6" fill="url(#h14d)"/>
<rect x="119.3" y="724.9" width="335.6" height="4.6" fill="url(#h14e)"/>
<rect x="119.3" y="728.9" width="335.6" height="4.6" fill="url(#h14f)"/>
<rect x="119.3" y="732.9" width="335.6" height="4.6" fill="url(#h150)"/>
<rect x="119.3" y="736.9" width="335.6" height="4.6" fill="url(#h151)"/>
<rect x="119.3" y="740.9" width="335.6" height="4.6" fill="url(#h152)"/>
<rect x="119.3" y="744.9" width="335.6" height="4.6" fill="url(#h153)"/>
<rect x="119.3" y="748.9" width="335.6" height="4.6" fill="url(#h154)"/>
<rect x="119.3" y="752.9" width="335.6" height="4.6" fill="url(#h155)"/>
<rect x="119.3" y="756.9" width="335.6" height="4.6" fill="url(#h156)"/>
<rect x="119.3" y="760.9" width="335.6" height="4.6" fill="url(#h157)"/>
<rect x="119.3" y="764.9" width="335.6" height="4.6" fill="url(#h158)"/>
<rect x="119.3" y="768.9" width="335.6" height="4.6" fill="url(#h159)"/>
<rect x="119.3" y="772.9" width="335.6" height="4.6" fill="url(#h15a)"/>
<rect x="119.3" y="776.9" width="335.6" height="4.6" fill="url(#h15b)"/>
<rect x="119.3" y="780.9" width="335.6" height="4.6" fill="url(#h15c)"/>
<rect x="119.3" y="784.9" width="335.6" height="4.6" fill="url(#h15d)"/>
<rect x="119.3" y="788.9" width="335.6" height="4.6" fill="url(#h15e)"/>
<rect x="119.3" y="792.9" width="335.6" height="4.6" fill="url(#h15f)"/>
<rect x="119.3" y="796.9" width="335.6" height="4.6" fill="url(#h160)"/>
<rect x="119.3" y="800.9" width="335.6" height="4.6" fill="url(#h161)"/>
<rect x="119.3" y="804.9" width="335.6" height="4.6" fill="url(#h162)"/>
<rect x="119.3" y="808.9" width="335.6" height="4.6" fill="url(#h163)"/>
<rect x="119.3" y="812.9" width="335.6" height="4.6" fill="url(#h164)"/>
<rect x="119.3" y="816.9" width="335.6" height="4.6" fill="url(#h165)"/>
<rect x="119.3" y="820.9" width="335.6" height="4.6" fill="url(#h166)"/>
<rect x="119.3" y="824.9" width="335.6" height="4.6" fill="url(#h167)"/>
<rect x="119.3" y="828.9" width="335.6" height="4.6" fill="url(#h168)"/>
<rect x="119.3" y="832.9" width="335.6" height="4.6" fill="url(#h169)"/>
<rect x="119.3" y="836.9" width="335.6" height="4.6" fill="url(#h16a)"/>
<rect x="119.3" y="840.9" width="335.6" height="3.2" fill="url(#h16b)"/>
<g clip-path="url(#bc0)">
<ellipse cx="144.55" cy="732.95" rx="26.39" ry="89.64" fill="#fff" filter="url(#bl2)"/>
<ellipse cx="144.55" cy="732.95" rx="23.39" ry="85.64" fill="#f06c6c" filter="url(#bl1)"/>
<polyline points="151.74,484.9 151.83,487.4 151.92,489.9 152.01,492.4 152.1,494.9 152.19,497.4 152.28,499.9 152.37,502.4 152.46,504.9 152.55,507.4 152.64,509.9 152.73,512.4 152.82,514.9 152.91,517.4 153,519.9 153.09,522.4 153.18,524.9 153.27,527.4 153.43,529.9 153.6,532.4 153.76,534.9 153.93,537.4 154.09,539.9 154.26,542.4 154.43,544.9 154.59,547.4 154.76,549.9 154.93,552.4 155.09,554.9 155.26,557.4 155.42,559.9 155.59,562.4 155.76,564.9 155.92,567.4 156.13,569.9 156.5,572.4 156.87,574.9 157.24,577.4 157.61,579.9 157.98,582.4 158.35,584.9 158.72,587.4 159.09,589.9 159.46,592.4 159.75,594.9 160,597.4 160.24,599.9 160.48,602.4 160.72,604.9 160.96,607.4 161.2,609.9 161.12,612.4 161.03,614.9 160.94,617.4 160.85,619.9 160.44,622.4 159.81,624.9 159.18,627.4 158.55,629.9 157.85,632.4 156.84,634.9 155.84,637.4 154.84,639.9 153.96,642.4 153.51,644.9 153.06,647.4 152.61,649.9 152.3,652.4 152.04,654.9 151.78,657.4 151.53,659.9 151.27,662.4 151.01,664.9 150.75,667.4 150.49,669.9 150.24,672.4 149.98,674.9 149.72,677.4 149.46,679.9 149.3,682.4 149.25,684.9 149.21,687.4 149.17,689.9 149.12,692.4 149.08,694.9 149.04,697.4 148.99,699.9 148.95,702.4 148.91,704.9 148.87,707.4 148.82,709.9 148.78,712.4 148.74,714.9 148.69,717.4 148.65,719.9 148.61,722.4 148.56,724.9 148.52,727.4 148.58,729.9 148.63,732.4 148.69,734.9 148.75,737.4 148.8,739.9 148.86,742.4 148.91,744.9 148.97,747.4 149.03,749.9 149.08,752.4 149.14,754.9 149.2,757.4 149.25,759.9 149.31,762.4 149.37,764.9 149.42,767.4 149.48,769.9 149.53,772.4 149.59,774.9 149.65,777.4 149.7,779.9 149.87,782.4 150.05,784.9 150.23,787.4 150.41,789.9 150.59,792.4 150.77,794.9 150.95,797.4 151.14,799.9 151.32,802.4 151.5,804.9 151.68,807.4 151.86,809.9 152.04,812.4 152.2,814.9 152.35,817.4 152.5,819.9 152.65,822.4 152.8,824.9 152.95,827.4 153.1,829.9 153.25,832.4 153.4,834.9 153.55,837.4 153.7,839.9 153.85,842.4" fill="none" stroke="#fff" stroke-width="1.8" opacity="0.7"/>
<polygon points="138.6,484.9 150.54,484.9 150.63,487.4 150.72,489.9 150.81,492.4 150.9,494.9 150.99,497.4 151.08,499.9 151.17,502.4 151.26,504.9 151.35,507.4 151.44,509.9 151.53,512.4 151.62,514.9 151.71,517.4 151.8,519.9 151.89,522.4 151.98,524.9 152.07,527.4 152.23,529.9 152.4,532.4 152.56,534.9 152.73,537.4 152.89,539.9 153.06,542.4 153.23,544.9 153.39,547.4 153.56,549.9 153.73,552.4 153.89,554.9 154.06,557.4 154.22,559.9 154.39,562.4 154.56,564.9 154.72,567.4 154.93,569.9 155.3,572.4 155.67,574.9 156.04,577.4 156.41,579.9 156.78,582.4 157.15,584.9 157.52,587.4 157.89,589.9 158.26,592.4 158.55,594.9 158.8,597.4 159.04,599.9 159.28,602.4 159.52,604.9 159.76,607.4 160,609.9 159.92,612.4 159.83,614.9 159.74,617.4 159.65,619.9 159.24,622.4 158.61,624.9 157.98,627.4 157.35,629.9 156.65,632.4 155.64,634.9 154.64,637.4 153.64,639.9 152.76,642.4 152.31,644.9 151.86,647.4 151.41,649.9 151.1,652.4 150.84,654.9 150.58,657.4 150.33,659.9 150.07,662.4 149.81,664.9 149.55,667.4 149.29,669.9 149.04,672.4 148.78,674.9 148.52,677.4 148.26,679.9 148.1,682.4 148.05,684.9 148.01,687.4 147.97,689.9 147.92,692.4 147.88,694.9 147.84,697.4 147.79,699.9 147.75,702.4 147.71,704.9 147.67,707.4 147.62,709.9 147.58,712.4 147.54,714.9 147.49,717.4 147.45,719.9 147.41,722.4 147.36,724.9 147.32,727.4 147.38,729.9 147.43,732.4 147.49,734.9 147.55,737.4 147.6,739.9 147.66,742.4 147.71,744.9 147.77,747.4 147.83,749.9 147.88,752.4 147.94,754.9 148,757.4 148.05,759.9 148.11,762.4 148.17,764.9 148.22,767.4 148.28,769.9 148.33,772.4 148.39,774.9 148.45,777.4 148.5,779.9 148.67,782.4 148.85,784.9 149.03,787.4 149.21,789.9 149.39,792.4 149.57,794.9 149.75,797.4 149.94,799.9 150.12,802.4 150.3,804.9 150.48,807.4 150.66,809.9 150.84,812.4 151,814.9 151.15,817.4 151.3,819.9 151.45,822.4 151.6,824.9 151.75,827.4 151.9,829.9 152.05,832.4 152.2,834.9 152.35,837.4 152.5,839.9 152.65,842.4 138.6,844.1" fill="#164b9b"/>
</g>
<rect x="485.3" y="485.2" width="335.4" height="4.6" fill="url(#h16c)"/>
<rect x="485.3" y="489.2" width="335.4" height="4.6" fill="url(#h16d)"/>
<rect x="485.3" y="493.2" width="335.4" height="4.6" fill="url(#h16e)"/>
<rect x="485.3" y="497.2" width="335.4" height="4.6" fill="url(#h16f)"/>
<rect x="485.3" y="501.2" width="335.4" height="4.6" fill="url(#h170)"/>
<rect x="485.3" y="505.2" width="335.4" height="4.6" fill="url(#h171)"/>
<rect x="485.3" y="509.2" width="335.4" height="4.6" fill="url(#h172)"/>
<rect x="485.3" y="513.2" width="335.4" height="4.6" fill="url(#h173)"/>
<rect x="485.3" y="517.2" width="335.4" height="4.6" fill="url(#h174)"/>
<rect x="485.3" y="521.2" width="335.4" height="4.6" fill="url(#h175)"/>
<rect x="485.3" y="525.2" width="335.4" height="4.6" fill="url(#h176)"/>
<rect x="485.3" y="529.2" width="335.4" height="4.6" fill="url(#h177)"/>
<rect x="485.3" y="533.2" width="335.4" height="4.6" fill="url(#h178)"/>
<rect x="485.3" y="537.2" width="335.4" height="4.6" fill="url(#h179)"/>
<rect x="485.3" y="541.2" width="335.4" height="4.6" fill="url(#h17a)"/>
<rect x="485.3" y="545.2" width="335.4" height="4.6" fill="url(#h17b)"/>
<rect x="485.3" y="549.2" width="335.4" height="4.6" fill="url(#h17c)"/>
<rect x="485.3" y="553.2" width="335.4" height="4.6" fill="url(#h17d)"/>
<rect x="485.3" y="557.2" width="335.4" height="4.6" fill="url(#h17e)"/>
<rect x="485.3" y="561.2" width="335.4" height="4.6" fill="url(#h17f)"/>
<rect x="485.3" y="565.2" width="335.4" height="4.6" fill="url(#h180)"/>
<rect x="485.3" y="569.2" width="335.4" height="4.6" fill="url(#h181)"/>
<rect x="485.3" y="573.2" width="335.4" height="4.6" fill="url(#h182)"/>
<rect x="485.3" y="577.2" width="335.4" height="4.6" fill="url(#h183)"/>
<rect x="485.3" y="581.2" width="335.4" height="4.6" fill="url(#h184)"/>
<rect x="485.3" y="585.2" width="335.4" height="4.6" fill="url(#h185)"/>
<rect x="485.3" y="589.2" width="335.4" height="4.6" fill="url(#h186)"/>
<rect x="485.3" y="593.2" width="335.4" height="4.6" fill="url(#h187)"/>
<rect x="485.3" y="597.2" width="335.4" height="4.6" fill="url(#h188)"/>
<rect x="485.3" y="601.2" width="335.4" height="4.6" fill="url(#h189)"/>
<rect x="485.3" y="605.2" width="335.4" height="4.6" fill="url(#h18a)"/>
<rect x="485.3" y="609.2" width="335.4" height="4.6" fill="url(#h18b)"/>
<rect x="485.3" y="613.2" width="335.4" height="4.6" fill="url(#h18c)"/>
<rect x="485.3" y="617.2" width="335.4" height="4.6" fill="url(#h18d)"/>
<rect x="485.3" y="621.2" width="335.4" height="4.6" fill="url(#h18e)"/>
<rect x="485.3" y="625.2" width="335.4" height="4.6" fill="url(#h18f)"/>
<rect x="485.3" y="629.2" width="335.4" height="4.6" fill="url(#h190)"/>
<rect x="485.3" y="633.2" width="335.4" height="4.6" fill="url(#h191)"/>
<rect x="485.3" y="637.2" width="335.4" height="4.6" fill="url(#h192)"/>
<rect x="485.3" y="641.2" width="335.4" height="4.6" fill="url(#h193)"/>
<rect x="485.3" y="645.2" width="335.4" height="4.6" fill="url(#h194)"/>
<rect x="485.3" y="649.2" width="335.4" height="4.6" fill="url(#h195)"/>
<rect x="485.3" y="653.2" width="335.4" height="4.6" fill="url(#h196)"/>
<rect x="485.3" y="657.2" width="335.4" height="4.6" fill="url(#h197)"/>
<rect x="485.3" y="661.2" width="335.4" height="4.6" fill="url(#h198)"/>
<rect x="485.3" y="665.2" width="335.4" height="4.6" fill="url(#h199)"/>
<rect x="485.3" y="669.2" width="335.4" height="4.6" fill="url(#h19a)"/>
<rect x="485.3" y="673.2" width="335.4" height="4.6" fill="url(#h19b)"/>
<rect x="485.3" y="677.2" width="335.4" height="4.6" fill="url(#h19c)"/>
<rect x="485.3" y="681.2" width="335.4" height="4.6" fill="url(#h19d)"/>
<rect x="485.3" y="685.2" width="335.4" height="4.6" fill="url(#h19e)"/>
<rect x="485.3" y="689.2" width="335.4" height="4.6" fill="url(#h19f)"/>
<rect x="485.3" y="693.2" width="335.4" height="4.6" fill="url(#h1a0)"/>
<rect x="485.3" y="697.2" width="335.4" height="4.6" fill="url(#h1a1)"/>
<rect x="485.3" y="701.2" width="335.4" height="4.6" fill="url(#h1a2)"/>
<rect x="485.3" y="705.2" width="335.4" height="4.6" fill="url(#h1a3)"/>
<rect x="485.3" y="709.2" width="335.4" height="4.6" fill="url(#h1a4)"/>
<rect x="485.3" y="713.2" width="335.4" height="4.6" fill="url(#h1a5)"/>
<rect x="485.3" y="717.2" width="335.4" height="4.6" fill="url(#h1a6)"/>
<rect x="485.3" y="721.2" width="335.4" height="4.6" fill="url(#h1a7)"/>
<rect x="485.3" y="725.2" width="335.4" height="4.6" fill="url(#h1a8)"/>
<rect x="485.3" y="729.2" width="335.4" height="4.6" fill="url(#h1a9)"/>
<rect x="485.3" y="733.2" width="335.4" height="4.6" fill="url(#h1aa)"/>
<rect x="485.3" y="737.2" width="335.4" height="4.6" fill="url(#h1ab)"/>
<rect x="485.3" y="741.2" width="335.4" height="4.6" fill="url(#h1ac)"/>
<rect x="485.3" y="745.2" width="335.4" height="4.6" fill="url(#h1ad)"/>
<rect x="485.3" y="749.2" width="335.4" height="4.6" fill="url(#h1ae)"/>
<rect x="485.3" y="753.2" width="335.4" height="4.6" fill="url(#h1af)"/>
<rect x="485.3" y="757.2" width="335.4" height="4.6" fill="url(#h1b0)"/>
<rect x="485.3" y="761.2" width="335.4" height="4.6" fill="url(#h1b1)"/>
<rect x="485.3" y="765.2" width="335.4" height="4.6" fill="url(#h1b2)"/>
<rect x="485.3" y="769.2" width="335.4" height="4.6" fill="url(#h1b3)"/>
<rect x="485.3" y="773.2" width="335.4" height="4.6" fill="url(#h1b4)"/>
<rect x="485.3" y="777.2" width="335.4" height="4.6" fill="url(#h1b5)"/>
<rect x="485.3" y="781.2" width="335.4" height="4.6" fill="url(#h1b6)"/>
<rect x="485.3" y="785.2" width="335.4" height="4.6" fill="url(#h1b7)"/>
<rect x="485.3" y="789.2" width="335.4" height="4.6" fill="url(#h1b8)"/>
<rect x="485.3" y="793.2" width="335.4" height="4.6" fill="url(#h1b9)"/>
<rect x="485.3" y="797.2" width="335.4" height="4.6" fill="url(#h1ba)"/>
<rect x="485.3" y="801.2" width="335.4" height="4.6" fill="url(#h1bb)"/>
<rect x="485.3" y="805.2" width="335.4" height="4.6" fill="url(#h1bc)"/>
<rect x="485.3" y="809.2" width="335.4" height="4.6" fill="url(#h1bd)"/>
<rect x="485.3" y="813.2" width="335.4" height="4.6" fill="url(#h1be)"/>
<rect x="485.3" y="817.2" width="335.4" height="4.6" fill="url(#h1bf)"/>
<rect x="485.3" y="821.2" width="335.4" height="4.6" fill="url(#h1c0)"/>
<rect x="485.3" y="825.2" width="335.4" height="4.6" fill="url(#h1c1)"/>
<rect x="485.3" y="829.2" width="335.4" height="4.6" fill="url(#h1c2)"/>
<rect x="485.3" y="833.2" width="335.4" height="4.6" fill="url(#h1c3)"/>
<rect x="485.3" y="837.2" width="335.4" height="4.6" fill="url(#h1c4)"/>
<rect x="485.3" y="841.2" width="335.4" height="4.6" fill="url(#h1c5)"/>
<rect x="485.3" y="845.2" width="335.4" height="0.1" fill="url(#h1c6)"/>
<g clip-path="url(#bc1)">
<ellipse cx="508.07" cy="763.69" rx="33.15" ry="102.82" fill="#fff" filter="url(#bl2)"/>
<ellipse cx="508.07" cy="763.69" rx="30.15" ry="98.82" fill="#f06c6c" filter="url(#bl1)"/>
<polyline points="515.28,485.2 515.38,487.7 515.48,490.2 515.58,492.7 515.68,495.2 515.78,497.7 515.88,500.2 515.98,502.7 516.08,505.2 516.18,507.7 516.28,510.2 516.38,512.7 516.48,515.2 516.58,517.7 516.68,520.2 516.78,522.7 516.88,525.2 516.99,527.7 517.09,530.2 517.19,532.7 517.29,535.2 517.39,537.7 517.49,540.2 517.59,542.7 518.01,545.2 518.47,547.7 518.94,550.2 519.4,552.7 519.87,555.2 520.33,557.7 520.8,560.2 521.26,562.7 521.73,565.2 522.19,567.7 522.66,570.2 523.12,572.7 523.58,575.2 524.05,577.7 524.51,580.2 524.92,582.7 525.26,585.2 525.6,587.7 525.95,590.2 526.29,592.7 526.64,595.2 526.98,597.7 527.33,600.2 527.67,602.7 527.95,605.2 528.07,607.7 528.19,610.2 528.31,612.7 528.43,615.2 528.55,617.7 528.67,620.2 528.5,622.7 528.2,625.2 527.9,627.7 527.59,630.2 527.29,632.7 526.99,635.2 526.69,637.7 526.39,640.2 525.29,642.7 523.99,645.2 522.68,647.7 521.38,650.2 520.13,652.7 518.9,655.2 517.67,657.7 516.44,660.2 515.22,662.7 514.95,665.2 514.68,667.7 514.42,670.2 514.15,672.7 513.89,675.2 513.62,677.7 513.36,680.2 513.22,682.7 513.2,685.2 513.17,687.7 513.14,690.2 513.12,692.7 513.09,695.2 513.07,697.7 513.04,700.2 513.01,702.7 512.99,705.2 512.96,707.7 512.94,710.2 512.91,712.7 512.89,715.2 512.86,717.7 512.83,720.2 512.81,722.7 512.78,725.2 512.76,727.7 512.73,730.2 512.7,732.7 512.68,735.2 512.65,737.7 512.63,740.2 512.6,742.7 512.58,745.2 512.55,747.7 512.52,750.2 512.5,752.7 512.47,755.2 512.45,757.7 512.51,760.2 512.6,762.7 512.69,765.2 512.78,767.7 512.88,770.2 512.97,772.7 513.06,775.2 513.15,777.7 513.24,780.2 513.33,782.7 513.42,785.2 513.51,787.7 513.6,790.2 513.69,792.7 513.78,795.2 513.87,797.7 513.96,800.2 514.05,802.7 514.14,805.2 514.23,807.7 514.32,810.2 514.41,812.7 514.5,815.2 514.59,817.7 514.68,820.2 514.77,822.7 514.86,825.2 514.95,827.7 515.04,830.2 515.13,832.7 515.22,835.2 515.31,837.7 515.4,840.2 515.49,842.7 515.59,845.2" fill="none" stroke="#fff" stroke-width="1.8" opacity="0.7"/>
<polygon points="504.1,485.2 514.08,485.2 514.18,487.7 514.28,490.2 514.38,492.7 514.48,495.2 514.58,497.7 514.68,500.2 514.78,502.7 514.88,505.2 514.98,507.7 515.08,510.2 515.18,512.7 515.28,515.2 515.38,517.7 515.48,520.2 515.58,522.7 515.68,525.2 515.79,527.7 515.89,530.2 515.99,532.7 516.09,535.2 516.19,537.7 516.29,540.2 516.39,542.7 516.81,545.2 517.27,547.7 517.74,550.2 518.2,552.7 518.67,555.2 519.13,557.7 519.6,560.2 520.06,562.7 520.53,565.2 520.99,567.7 521.46,570.2 521.92,572.7 522.38,575.2 522.85,577.7 523.31,580.2 523.72,582.7 524.06,585.2 524.4,587.7 524.75,590.2 525.09,592.7 525.44,595.2 525.78,597.7 526.13,600.2 526.47,602.7 526.75,605.2 526.87,607.7 526.99,610.2 527.11,612.7 527.23,615.2 527.35,617.7 527.47,620.2 527.3,622.7 527,625.2 526.7,627.7 526.39,630.2 526.09,632.7 525.79,635.2 525.49,637.7 525.19,640.2 524.09,642.7 522.79,645.2 521.48,647.7 520.18,650.2 518.93,652.7 517.7,655.2 516.47,657.7 515.24,660.2 514.02,662.7 513.75,665.2 513.48,667.7 513.22,670.2 512.95,672.7 512.69,675.2 512.42,677.7 512.16,680.2 512.02,682.7 512,685.2 511.97,687.7 511.94,690.2 511.92,692.7 511.89,695.2 511.87,697.7 511.84,700.2 511.81,702.7 511.79,705.2 511.76,707.7 511.74,710.2 511.71,712.7 511.69,715.2 511.66,717.7 511.63,720.2 511.61,722.7 511.58,725.2 511.56,727.7 511.53,730.2 511.5,732.7 511.48,735.2 511.45,737.7 511.43,740.2 511.4,742.7 511.38,745.2 511.35,747.7 511.32,750.2 511.3,752.7 511.27,755.2 511.25,757.7 511.31,760.2 511.4,762.7 511.49,765.2 511.58,767.7 511.68,770.2 511.77,772.7 511.86,775.2 511.95,777.7 512.04,780.2 512.13,782.7 512.22,785.2 512.31,787.7 512.4,790.2 512.49,792.7 512.58,795.2 512.67,797.7 512.76,800.2 512.85,802.7 512.94,805.2 513.03,807.7 513.12,810.2 513.21,812.7 513.3,815.2 513.39,817.7 513.48,820.2 513.57,822.7 513.66,825.2 513.75,827.7 513.84,830.2 513.93,832.7 514.02,835.2 514.11,837.7 514.2,840.2 514.29,842.7 514.39,845.2 504.1,845.3" fill="#164b9b"/>
</g>
<rect x="859.8" y="485.8" width="334" height="4.6" fill="url(#h1c7)"/>
<rect x="859.8" y="489.8" width="334" height="4.6" fill="url(#h1c8)"/>
<rect x="859.8" y="493.8" width="334" height="4.6" fill="url(#h1c9)"/>
<rect x="859.8" y="497.8" width="334" height="4.6" fill="url(#h1ca)"/>
<rect x="859.8" y="501.8" width="334" height="4.6" fill="url(#h1cb)"/>
<rect x="859.8" y="505.8" width="334" height="4.6" fill="url(#h1cc)"/>
<rect x="859.8" y="509.8" width="334" height="4.6" fill="url(#h1cd)"/>
<rect x="859.8" y="513.8" width="334" height="4.6" fill="url(#h1ce)"/>
<rect x="859.8" y="517.8" width="334" height="4.6" fill="url(#h1cf)"/>
<rect x="859.8" y="521.8" width="334" height="4.6" fill="url(#h1d0)"/>
<rect x="859.8" y="525.8" width="334" height="4.6" fill="url(#h1d1)"/>
<rect x="859.8" y="529.8" width="334" height="4.6" fill="url(#h1d2)"/>
<rect x="859.8" y="533.8" width="334" height="4.6" fill="url(#h1d3)"/>
<rect x="859.8" y="537.8" width="334" height="4.6" fill="url(#h1d4)"/>
<rect x="859.8" y="541.8" width="334" height="4.6" fill="url(#h1d5)"/>
<rect x="859.8" y="545.8" width="334" height="4.6" fill="url(#h1d6)"/>
<rect x="859.8" y="549.8" width="334" height="4.6" fill="url(#h1d7)"/>
<rect x="859.8" y="553.8" width="334" height="4.6" fill="url(#h1d8)"/>
<rect x="859.8" y="557.8" width="334" height="4.6" fill="url(#h1d9)"/>
<rect x="859.8" y="561.8" width="334" height="4.6" fill="url(#h1da)"/>
<rect x="859.8" y="565.8" width="334" height="4.6" fill="url(#h1db)"/>
<rect x="859.8" y="569.8" width="334" height="4.6" fill="url(#h1dc)"/>
<rect x="859.8" y="573.8" width="334" height="4.6" fill="url(#h1dd)"/>
<rect x="859.8" y="577.8" width="334" height="4.6" fill="url(#h1de)"/>
<rect x="859.8" y="581.8" width="334" height="4.6" fill="url(#h1df)"/>
<rect x="859.8" y="585.8" width="334" height="4.6" fill="url(#h1e0)"/>
<rect x="859.8" y="589.8" width="334" height="4.6" fill="url(#h1e1)"/>
<rect x="859.8" y="593.8" width="334" height="4.6" fill="url(#h1e2)"/>
<rect x="859.8" y="597.8" width="334" height="4.6" fill="url(#h1e3)"/>
<rect x="859.8" y="601.8" width="334" height="4.6" fill="url(#h1e4)"/>
<rect x="859.8" y="605.8" width="334" height="4.6" fill="url(#h1e5)"/>
<rect x="859.8" y="609.8" width="334" height="4.6" fill="url(#h1e6)"/>
<rect x="859.8" y="613.8" width="334" height="4.6" fill="url(#h1e7)"/>
<rect x="859.8" y="617.8" width="334" height="4.6" fill="url(#h1e8)"/>
<rect x="859.8" y="621.8" width="334" height="4.6" fill="url(#h1e9)"/>
<rect x="859.8" y="625.8" width="334" height="4.6" fill="url(#h1ea)"/>
<rect x="859.8" y="629.8" width="334" height="4.6" fill="url(#h1eb)"/>
<rect x="859.8" y="633.8" width="334" height="4.6" fill="url(#h1ec)"/>
<rect x="859.8" y="637.8" width="334" height="4.6" fill="url(#h1ed)"/>
<rect x="859.8" y="641.8" width="334" height="4.6" fill="url(#h1ee)"/>
<rect x="859.8" y="645.8" width="334" height="4.6" fill="url(#h1ef)"/>
<rect x="859.8" y="649.8" width="334" height="4.6" fill="url(#h1f0)"/>
<rect x="859.8" y="653.8" width="334" height="4.6" fill="url(#h1f1)"/>
<rect x="859.8" y="657.8" width="334" height="4.6" fill="url(#h1f2)"/>
<rect x="859.8" y="661.8" width="334" height="4.6" fill="url(#h1f3)"/>
<rect x="859.8" y="665.8" width="334" height="4.6" fill="url(#h1f4)"/>
<rect x="859.8" y="669.8" width="334" height="4.6" fill="url(#h1f5)"/>
<rect x="859.8" y="673.8" width="334" height="4.6" fill="url(#h1f6)"/>
<rect x="859.8" y="677.8" width="334" height="4.6" fill="url(#h1f7)"/>
<rect x="859.8" y="681.8" width="334" height="4.6" fill="url(#h1f8)"/>
<rect x="859.8" y="685.8" width="334" height="4.6" fill="url(#h1f9)"/>
<rect x="859.8" y="689.8" width="334" height="4.6" fill="url(#h1fa)"/>
<rect x="859.8" y="693.8" width="334" height="4.6" fill="url(#h1fb)"/>
<rect x="859.8" y="697.8" width="334" height="4.6" fill="url(#h1fc)"/>
<rect x="859.8" y="701.8" width="334" height="4.6" fill="url(#h1fd)"/>
<rect x="859.8" y="705.8" width="334" height="4.6" fill="url(#h1fe)"/>
<rect x="859.8" y="709.8" width="334" height="4.6" fill="url(#h1ff)"/>
<rect x="859.8" y="713.8" width="334" height="4.6" fill="url(#h200)"/>
<rect x="859.8" y="717.8" width="334" height="4.6" fill="url(#h201)"/>
<rect x="859.8" y="721.8" width="334" height="4.6" fill="url(#h202)"/>
<rect x="859.8" y="725.8" width="334" height="4.6" fill="url(#h203)"/>
<rect x="859.8" y="729.8" width="334" height="4.6" fill="url(#h204)"/>
<rect x="859.8" y="733.8" width="334" height="4.6" fill="url(#h205)"/>
<rect x="859.8" y="737.8" width="334" height="4.6" fill="url(#h206)"/>
<rect x="859.8" y="741.8" width="334" height="4.6" fill="url(#h207)"/>
<rect x="859.8" y="745.8" width="334" height="4.6" fill="url(#h208)"/>
<rect x="859.8" y="749.8" width="334" height="4.6" fill="url(#h209)"/>
<rect x="859.8" y="753.8" width="334" height="4.6" fill="url(#h20a)"/>
<rect x="859.8" y="757.8" width="334" height="4.6" fill="url(#h20b)"/>
<rect x="859.8" y="761.8" width="334" height="4.6" fill="url(#h20c)"/>
<rect x="859.8" y="765.8" width="334" height="4.6" fill="url(#h20d)"/>
<rect x="859.8" y="769.8" width="334" height="4.6" fill="url(#h20e)"/>
<rect x="859.8" y="773.8" width="334" height="4.6" fill="url(#h20f)"/>
<rect x="859.8" y="777.8" width="334" height="4.6" fill="url(#h210)"/>
<rect x="859.8" y="781.8" width="334" height="4.6" fill="url(#h211)"/>
<rect x="859.8" y="785.8" width="334" height="4.6" fill="url(#h212)"/>
<rect x="859.8" y="789.8" width="334" height="4.6" fill="url(#h213)"/>
<rect x="859.8" y="793.8" width="334" height="4.6" fill="url(#h214)"/>
<rect x="859.8" y="797.8" width="334" height="4.6" fill="url(#h215)"/>
<rect x="859.8" y="801.8" width="334" height="4.6" fill="url(#h216)"/>
<rect x="859.8" y="805.8" width="334" height="4.6" fill="url(#h217)"/>
<rect x="859.8" y="809.8" width="334" height="4.6" fill="url(#h218)"/>
<rect x="859.8" y="813.8" width="334" height="4.6" fill="url(#h219)"/>
<rect x="859.8" y="817.8" width="334" height="4.6" fill="url(#h21a)"/>
<rect x="859.8" y="821.8" width="334" height="4.6" fill="url(#h21b)"/>
<rect x="859.8" y="825.8" width="334" height="4.6" fill="url(#h21c)"/>
<rect x="859.8" y="829.8" width="334" height="4.6" fill="url(#h21d)"/>
<rect x="859.8" y="833.8" width="334" height="4.6" fill="url(#h21e)"/>
<rect x="859.8" y="837.8" width="334" height="4.6" fill="url(#h21f)"/>
<rect x="859.8" y="841.8" width="334" height="4.6" fill="url(#h220)"/>
<rect x="859.8" y="845.8" width="334" height="0.7" fill="url(#h221)"/>
<g clip-path="url(#bc2)">
<ellipse cx="885.02" cy="763.69" rx="34.55" ry="95.13" fill="#fff" filter="url(#bl2)"/>
<ellipse cx="885.02" cy="763.69" rx="31.55" ry="91.13" fill="#f06c6c" filter="url(#bl1)"/>
<polyline points="881.55,485.8 881.62,488.3 881.7,490.8 881.77,493.3 881.85,495.8 881.92,498.3 882,500.8 882.07,503.3 882.14,505.8 882.22,508.3 882.29,510.8 882.37,513.3 882.44,515.8 882.52,518.3 882.59,520.8 882.67,523.3 882.74,525.8 882.82,528.3 882.89,530.8 882.97,533.3 883.04,535.8 883.12,538.3 883.19,540.8 883.27,543.3 883.34,545.8 883.42,548.3 883.5,550.8 883.6,553.3 883.7,555.8 883.79,558.3 883.89,560.8 883.99,563.3 884.09,565.8 884.18,568.3 884.28,570.8 884.38,573.3 884.47,575.8 884.57,578.3 884.67,580.8 884.76,583.3 884.86,585.8 884.96,588.3 885.6,590.8 888,593.3 890.55,595.8 893.11,598.3 895.68,600.8 898.16,603.3 900.63,605.8 903.1,608.3 905.01,610.8 905.78,613.3 906.55,615.8 907.35,618.3 908.25,620.8 909.15,623.3 910.04,625.8 909.36,628.3 908.12,630.8 906.89,633.3 905.5,635.8 903.63,638.3 901.76,640.8 899.89,643.3 898.02,645.8 896.15,648.3 895.08,650.8 894.05,653.3 893.01,655.8 891.97,658.3 890.94,660.8 890.04,663.3 889.56,665.8 889.07,668.3 888.59,670.8 888.1,673.3 887.62,675.8 887.28,678.3 887.05,680.8 886.83,683.3 886.6,685.8 886.38,688.3 886.16,690.8 885.93,693.3 885.71,695.8 885.48,698.3 885.26,700.8 885.03,703.3 885.04,705.8 885.05,708.3 885.05,710.8 885.06,713.3 885.07,715.8 885.07,718.3 885.08,720.8 885.09,723.3 885.09,725.8 885.1,728.3 885.11,730.8 885.12,733.3 885.12,735.8 885.13,738.3 885.14,740.8 885.14,743.3 885.15,745.8 885.16,748.3 885.16,750.8 885.17,753.3 885.18,755.8 885.18,758.3 885.19,760.8 885.2,763.3 885.21,765.8 885.21,768.3 885.22,770.8 885.23,773.3 885.23,775.8 885.24,778.3 885.25,780.8 885.25,783.3 885.26,785.8 885.27,788.3 885.27,790.8 885.28,793.3 885.29,795.8 885.3,798.3 885.3,800.8 885.31,803.3 885.32,805.8 885.32,808.3 885.33,810.8 885.34,813.3 885.34,815.8 885.35,818.3 885.36,820.8 885.36,823.3 885.37,825.8 885.38,828.3 885.39,830.8 885.39,833.3 885.4,835.8 885.41,838.3 885.41,840.8 885.42,843.3 885.43,845.8" fill="none" stroke="#fff" stroke-width="1.8" opacity="0.7"/>
<polygon points="879.1,485.8 880.35,485.8 880.42,488.3 880.5,490.8 880.57,493.3 880.65,495.8 880.72,498.3 880.8,500.8 880.87,503.3 880.94,505.8 881.02,508.3 881.09,510.8 881.17,513.3 881.24,515.8 881.32,518.3 881.39,520.8 881.47,523.3 881.54,525.8 881.62,528.3 881.69,530.8 881.77,533.3 881.84,535.8 881.92,538.3 881.99,540.8 882.07,543.3 882.14,545.8 882.22,548.3 882.3,550.8 882.4,553.3 882.5,555.8 882.59,558.3 882.69,560.8 882.79,563.3 882.89,565.8 882.98,568.3 883.08,570.8 883.18,573.3 883.27,575.8 883.37,578.3 883.47,580.8 883.56,583.3 883.66,585.8 883.76,588.3 884.4,590.8 886.8,593.3 889.35,595.8 891.91,598.3 894.48,600.8 896.96,603.3 899.43,605.8 901.9,608.3 903.81,610.8 904.58,613.3 905.35,615.8 906.15,618.3 907.05,620.8 907.95,623.3 908.84,625.8 908.16,628.3 906.92,630.8 905.69,633.3 904.3,635.8 902.43,638.3 900.56,640.8 898.69,643.3 896.82,645.8 894.95,648.3 893.88,650.8 892.85,653.3 891.81,655.8 890.77,658.3 889.74,660.8 888.84,663.3 888.36,665.8 887.87,668.3 887.39,670.8 886.9,673.3 886.42,675.8 886.08,678.3 885.85,680.8 885.63,683.3 885.4,685.8 885.18,688.3 884.96,690.8 884.73,693.3 884.51,695.8 884.28,698.3 884.06,700.8 883.83,703.3 883.84,705.8 883.85,708.3 883.85,710.8 883.86,713.3 883.87,715.8 883.87,718.3 883.88,720.8 883.89,723.3 883.89,725.8 883.9,728.3 883.91,730.8 883.92,733.3 883.92,735.8 883.93,738.3 883.94,740.8 883.94,743.3 883.95,745.8 883.96,748.3 883.96,750.8 883.97,753.3 883.98,755.8 883.98,758.3 883.99,760.8 884,763.3 884.01,765.8 884.01,768.3 884.02,770.8 884.03,773.3 884.03,775.8 884.04,778.3 884.05,780.8 884.05,783.3 884.06,785.8 884.07,788.3 884.07,790.8 884.08,793.3 884.09,795.8 884.1,798.3 884.1,800.8 884.11,803.3 884.12,805.8 884.12,808.3 884.13,810.8 884.14,813.3 884.14,815.8 884.15,818.3 884.16,820.8 884.16,823.3 884.17,825.8 884.18,828.3 884.19,830.8 884.19,833.3 884.2,835.8 884.21,838.3 884.21,840.8 884.22,843.3 884.23,845.8 879.1,846.5" fill="#164b9b"/>
</g>
<rect x="118.8" y="39.5" width="336.6" height="362" fill="none" stroke="#2a2a2a" stroke-width="1.6"/>
<rect x="118.5" y="484.1" width="337.2" height="360.8" fill="none" stroke="#2a2a2a" stroke-width="1.6"/>
<line x1="108.8" y1="38.9" x2="118.8" y2="38.9" stroke="#2a2a2a" stroke-width="1.6"/>
<line x1="113.8" y1="93.9" x2="118.8" y2="93.9" stroke="#2a2a2a" stroke-width="1.6"/>
<line x1="108.8" y1="148.9" x2="118.8" y2="148.9" stroke="#2a2a2a" stroke-width="1.6"/>
<line x1="113.8" y1="203.9" x2="118.8" y2="203.9" stroke="#2a2a2a" stroke-width="1.6"/>
<line x1="108.8" y1="258.9" x2="118.8" y2="258.9" stroke="#2a2a2a" stroke-width="1.6"/>
<line x1="113.8" y1="313.9" x2="118.8" y2="313.9" stroke="#2a2a2a" stroke-width="1.6"/>
<line x1="108.8" y1="368.9" x2="118.8" y2="368.9" stroke="#2a2a2a" stroke-width="1.6"/>
<line x1="108.8" y1="483.7" x2="118.8" y2="483.7" stroke="#2a2a2a" stroke-width="1.6"/>
<line x1="113.8" y1="538.6" x2="118.8" y2="538.6" stroke="#2a2a2a" stroke-width="1.6"/>
<line x1="108.8" y1="593.5" x2="118.8" y2="593.5" stroke="#2a2a2a" stroke-width="1.6"/>
<line x1="113.8" y1="648.4" x2="118.8" y2="648.4" stroke="#2a2a2a" stroke-width="1.6"/>
<line x1="108.8" y1="703.3" x2="118.8" y2="703.3" stroke="#2a2a2a" stroke-width="1.6"/>
<line x1="113.8" y1="758.2" x2="118.8" y2="758.2" stroke="#2a2a2a" stroke-width="1.6"/>
<line x1="108.8" y1="813.1" x2="118.8" y2="813.1" stroke="#2a2a2a" stroke-width="1.6"/>
<line x1="124.5" y1="401.5" x2="124.5" y2="415.5" stroke="#2a2a2a" stroke-width="1.6"/>
<line x1="159.01" y1="401.5" x2="159.01" y2="408.5" stroke="#2a2a2a" stroke-width="1.6"/>
<line x1="193.53" y1="401.5" x2="193.53" y2="415.5" stroke="#2a2a2a" stroke-width="1.6"/>
<line x1="228.04" y1="401.5" x2="228.04" y2="408.5" stroke="#2a2a2a" stroke-width="1.6"/>
<line x1="262.55" y1="401.5" x2="262.55" y2="415.5" stroke="#2a2a2a" stroke-width="1.6"/>
<line x1="297.06" y1="401.5" x2="297.06" y2="408.5" stroke="#2a2a2a" stroke-width="1.6"/>
<line x1="331.58" y1="401.5" x2="331.58" y2="415.5" stroke="#2a2a2a" stroke-width="1.6"/>
<line x1="366.09" y1="401.5" x2="366.09" y2="408.5" stroke="#2a2a2a" stroke-width="1.6"/>
<line x1="400.6" y1="401.5" x2="400.6" y2="415.5" stroke="#2a2a2a" stroke-width="1.6"/>
<line x1="435.11" y1="401.5" x2="435.11" y2="408.5" stroke="#2a2a2a" stroke-width="1.6"/>
<text x="124.5" y="447.5" font-size="27.5" text-anchor="middle" fill="#111">0</text>
<text x="193.53" y="447.5" font-size="27.5" text-anchor="middle" fill="#111">250</text>
<text x="262.55" y="447.5" font-size="27.5" text-anchor="middle" fill="#111">500</text>
<text x="331.58" y="447.5" font-size="27.5" text-anchor="middle" fill="#111">750</text>
<text x="400.6" y="447.5" font-size="27.5" text-anchor="middle" fill="#111">1000</text>
<line x1="138.6" y1="844.9" x2="138.6" y2="857.9" stroke="#2a2a2a" stroke-width="1.6"/>
<line x1="178.24" y1="844.9" x2="178.24" y2="851.9" stroke="#2a2a2a" stroke-width="1.6"/>
<line x1="217.88" y1="844.9" x2="217.88" y2="857.9" stroke="#2a2a2a" stroke-width="1.6"/>
<line x1="257.52" y1="844.9" x2="257.52" y2="851.9" stroke="#2a2a2a" stroke-width="1.6"/>
<line x1="297.16" y1="844.9" x2="297.16" y2="857.9" stroke="#2a2a2a" stroke-width="1.6"/>
<line x1="336.8" y1="844.9" x2="336.8" y2="851.9" stroke="#2a2a2a" stroke-width="1.6"/>
<line x1="376.44" y1="844.9" x2="376.44" y2="857.9" stroke="#2a2a2a" stroke-width="1.6"/>
<line x1="416.08" y1="844.9" x2="416.08" y2="851.9" stroke="#2a2a2a" stroke-width="1.6"/>
<line x1="455.72" y1="844.9" x2="455.72" y2="857.9" stroke="#2a2a2a" stroke-width="1.6"/>
<text x="138.6" y="892.5" font-size="27.5" text-anchor="middle" fill="#111">0</text>
<text x="217.88" y="892.5" font-size="27.5" text-anchor="middle" fill="#111">20</text>
<text x="297.16" y="892.5" font-size="27.5" text-anchor="middle" fill="#111">40</text>
<text x="376.44" y="892.5" font-size="27.5" text-anchor="middle" fill="#111">60</text>
<text x="455.72" y="892.5" font-size="27.5" text-anchor="middle" fill="#111">80</text>
<text x="283.7" y="936.2" font-size="30.5" text-anchor="middle" fill="#111">Time (ps)</text>
<rect x="484.2" y="39.5" width="335.7" height="362.2" fill="none" stroke="#2a2a2a" stroke-width="1.6"/>
<rect x="484.5" y="484.4" width="337" height="361.7" fill="none" stroke="#2a2a2a" stroke-width="1.6"/>
<line x1="474.4" y1="38.9" x2="484.4" y2="38.9" stroke="#2a2a2a" stroke-width="1.6"/>
<line x1="479.4" y1="93.9" x2="484.4" y2="93.9" stroke="#2a2a2a" stroke-width="1.6"/>
<line x1="474.4" y1="148.9" x2="484.4" y2="148.9" stroke="#2a2a2a" stroke-width="1.6"/>
<line x1="479.4" y1="203.9" x2="484.4" y2="203.9" stroke="#2a2a2a" stroke-width="1.6"/>
<line x1="474.4" y1="258.9" x2="484.4" y2="258.9" stroke="#2a2a2a" stroke-width="1.6"/>
<line x1="479.4" y1="313.9" x2="484.4" y2="313.9" stroke="#2a2a2a" stroke-width="1.6"/>
<line x1="474.4" y1="368.9" x2="484.4" y2="368.9" stroke="#2a2a2a" stroke-width="1.6"/>
<line x1="474.4" y1="483.7" x2="484.4" y2="483.7" stroke="#2a2a2a" stroke-width="1.6"/>
<line x1="479.4" y1="538.6" x2="484.4" y2="538.6" stroke="#2a2a2a" stroke-width="1.6"/>
<line x1="474.4" y1="593.5" x2="484.4" y2="593.5" stroke="#2a2a2a" stroke-width="1.6"/>
<line x1="479.4" y1="648.4" x2="484.4" y2="648.4" stroke="#2a2a2a" stroke-width="1.6"/>
<line x1="474.4" y1="703.3" x2="484.4" y2="703.3" stroke="#2a2a2a" stroke-width="1.6"/>
<line x1="479.4" y1="758.2" x2="484.4" y2="758.2" stroke="#2a2a2a" stroke-width="1.6"/>
<line x1="474.4" y1="813.1" x2="484.4" y2="813.1" stroke="#2a2a2a" stroke-width="1.6"/>
<line x1="489.7" y1="401.7" x2="489.7" y2="415.7" stroke="#2a2a2a" stroke-width="1.6"/>
<line x1="524.12" y1="401.7" x2="524.12" y2="408.7" stroke="#2a2a2a" stroke-width="1.6"/>
<line x1="558.55" y1="401.7" x2="558.55" y2="415.7" stroke="#2a2a2a" stroke-width="1.6"/>
<line x1="592.98" y1="401.7" x2="592.98" y2="408.7" stroke="#2a2a2a" stroke-width="1.6"/>
<line x1="627.4" y1="401.7" x2="627.4" y2="415.7" stroke="#2a2a2a" stroke-width="1.6"/>
<line x1="661.83" y1="401.7" x2="661.83" y2="408.7" stroke="#2a2a2a" stroke-width="1.6"/>
<line x1="696.25" y1="401.7" x2="696.25" y2="415.7" stroke="#2a2a2a" stroke-width="1.6"/>
<line x1="730.67" y1="401.7" x2="730.67" y2="408.7" stroke="#2a2a2a" stroke-width="1.6"/>
<line x1="765.1" y1="401.7" x2="765.1" y2="415.7" stroke="#2a2a2a" stroke-width="1.6"/>
<line x1="799.52" y1="401.7" x2="799.52" y2="408.7" stroke="#2a2a2a" stroke-width="1.6"/>
<text x="489.7" y="447.5" font-size="27.5" text-anchor="middle" fill="#111">0</text>
<text x="558.55" y="447.5" font-size="27.5" text-anchor="middle" fill="#111">250</text>
<text x="627.4" y="447.5" font-size="27.5" text-anchor="middle" fill="#111">500</text>
<text x="696.25" y="447.5" font-size="27.5" text-anchor="middle" fill="#111">750</text>
<text x="765.1" y="447.5" font-size="27.5" text-anchor="middle" fill="#111">1000</text>
<line x1="504.1" y1="846.1" x2="504.1" y2="859.1" stroke="#2a2a2a" stroke-width="1.6"/>
<line x1="543.77" y1="846.1" x2="543.77" y2="853.1" stroke="#2a2a2a" stroke-width="1.6"/>
<line x1="583.45" y1="846.1" x2="583.45" y2="859.1" stroke="#2a2a2a" stroke-width="1.6"/>
<line x1="623.12" y1="846.1" x2="623.12" y2="853.1" stroke="#2a2a2a" stroke-width="1.6"/>
<line x1="662.8" y1="846.1" x2="662.8" y2="859.1" stroke="#2a2a2a" stroke-width="1.6"/>
<line x1="702.48" y1="846.1" x2="702.48" y2="853.1" stroke="#2a2a2a" stroke-width="1.6"/>
<line x1="742.15" y1="846.1" x2="742.15" y2="859.1" stroke="#2a2a2a" stroke-width="1.6"/>
<line x1="781.83" y1="846.1" x2="781.83" y2="853.1" stroke="#2a2a2a" stroke-width="1.6"/>
<line x1="821.5" y1="846.1" x2="821.5" y2="859.1" stroke="#2a2a2a" stroke-width="1.6"/>
<text x="504.1" y="892.5" font-size="27.5" text-anchor="middle" fill="#111">0</text>
<text x="583.45" y="892.5" font-size="27.5" text-anchor="middle" fill="#111">20</text>
<text x="662.8" y="892.5" font-size="27.5" text-anchor="middle" fill="#111">40</text>
<text x="742.15" y="892.5" font-size="27.5" text-anchor="middle" fill="#111">60</text>
<text x="821.5" y="892.5" font-size="27.5" text-anchor="middle" fill="#111">80</text>
<text x="648.7" y="936.2" font-size="30.5" text-anchor="middle" fill="#111">Time (ps)</text>
<rect x="858.8" y="39.5" width="336.2" height="362.2" fill="none" stroke="#2a2a2a" stroke-width="1.6"/>
<rect x="859" y="485" width="335.6" height="362.3" fill="none" stroke="#2a2a2a" stroke-width="1.6"/>
<line x1="849.3" y1="38.9" x2="859.3" y2="38.9" stroke="#2a2a2a" stroke-width="1.6"/>
<line x1="854.3" y1="93.9" x2="859.3" y2="93.9" stroke="#2a2a2a" stroke-width="1.6"/>
<line x1="849.3" y1="148.9" x2="859.3" y2="148.9" stroke="#2a2a2a" stroke-width="1.6"/>
<line x1="854.3" y1="203.9" x2="859.3" y2="203.9" stroke="#2a2a2a" stroke-width="1.6"/>
<line x1="849.3" y1="258.9" x2="859.3" y2="258.9" stroke="#2a2a2a" stroke-width="1.6"/>
<line x1="854.3" y1="313.9" x2="859.3" y2="313.9" stroke="#2a2a2a" stroke-width="1.6"/>
<line x1="849.3" y1="368.9" x2="859.3" y2="368.9" stroke="#2a2a2a" stroke-width="1.6"/>
<line x1="849.3" y1="483.7" x2="859.3" y2="483.7" stroke="#2a2a2a" stroke-width="1.6"/>
<line x1="854.3" y1="538.6" x2="859.3" y2="538.6" stroke="#2a2a2a" stroke-width="1.6"/>
<line x1="849.3" y1="593.5" x2="859.3" y2="593.5" stroke="#2a2a2a" stroke-width="1.6"/>
<line x1="854.3" y1="648.4" x2="859.3" y2="648.4" stroke="#2a2a2a" stroke-width="1.6"/>
<line x1="849.3" y1="703.3" x2="859.3" y2="703.3" stroke="#2a2a2a" stroke-width="1.6"/>
<line x1="854.3" y1="758.2" x2="859.3" y2="758.2" stroke="#2a2a2a" stroke-width="1.6"/>
<line x1="849.3" y1="813.1" x2="859.3" y2="813.1" stroke="#2a2a2a" stroke-width="1.6"/>
<line x1="864.6" y1="401.7" x2="864.6" y2="415.7" stroke="#2a2a2a" stroke-width="1.6"/>
<line x1="899" y1="401.7" x2="899" y2="408.7" stroke="#2a2a2a" stroke-width="1.6"/>
<line x1="933.4" y1="401.7" x2="933.4" y2="415.7" stroke="#2a2a2a" stroke-width="1.6"/>
<line x1="967.8" y1="401.7" x2="967.8" y2="408.7" stroke="#2a2a2a" stroke-width="1.6"/>
<line x1="1002.2" y1="401.7" x2="1002.2" y2="415.7" stroke="#2a2a2a" stroke-width="1.6"/>
<line x1="1036.6" y1="401.7" x2="1036.6" y2="408.7" stroke="#2a2a2a" stroke-width="1.6"/>
<line x1="1071" y1="401.7" x2="1071" y2="415.7" stroke="#2a2a2a" stroke-width="1.6"/>
<line x1="1105.4" y1="401.7" x2="1105.4" y2="408.7" stroke="#2a2a2a" stroke-width="1.6"/>
<line x1="1139.8" y1="401.7" x2="1139.8" y2="415.7" stroke="#2a2a2a" stroke-width="1.6"/>
<line x1="1174.2" y1="401.7" x2="1174.2" y2="408.7" stroke="#2a2a2a" stroke-width="1.6"/>
<text x="864.6" y="447.5" font-size="27.5" text-anchor="middle" fill="#111">0</text>
<text x="933.4" y="447.5" font-size="27.5" text-anchor="middle" fill="#111">250</text>
<text x="1002.2" y="447.5" font-size="27.5" text-anchor="middle" fill="#111">500</text>
<text x="1071" y="447.5" font-size="27.5" text-anchor="middle" fill="#111">750</text>
<text x="1139.8" y="447.5" font-size="27.5" text-anchor="middle" fill="#111">1000</text>
<line x1="879.1" y1="847.3" x2="879.1" y2="860.3" stroke="#2a2a2a" stroke-width="1.6"/>
<line x1="918.54" y1="847.3" x2="918.54" y2="854.3" stroke="#2a2a2a" stroke-width="1.6"/>
<line x1="957.98" y1="847.3" x2="957.98" y2="860.3" stroke="#2a2a2a" stroke-width="1.6"/>
<line x1="997.42" y1="847.3" x2="997.42" y2="854.3" stroke="#2a2a2a" stroke-width="1.6"/>
<line x1="1036.86" y1="847.3" x2="1036.86" y2="860.3" stroke="#2a2a2a" stroke-width="1.6"/>
<line x1="1076.3" y1="847.3" x2="1076.3" y2="854.3" stroke="#2a2a2a" stroke-width="1.6"/>
<line x1="1115.74" y1="847.3" x2="1115.74" y2="860.3" stroke="#2a2a2a" stroke-width="1.6"/>
<line x1="1155.18" y1="847.3" x2="1155.18" y2="854.3" stroke="#2a2a2a" stroke-width="1.6"/>
<line x1="1194.62" y1="847.3" x2="1194.62" y2="860.3" stroke="#2a2a2a" stroke-width="1.6"/>
<text x="879.1" y="892.5" font-size="27.5" text-anchor="middle" fill="#111">0</text>
<text x="957.98" y="892.5" font-size="27.5" text-anchor="middle" fill="#111">20</text>
<text x="1036.86" y="892.5" font-size="27.5" text-anchor="middle" fill="#111">40</text>
<text x="1115.74" y="892.5" font-size="27.5" text-anchor="middle" fill="#111">60</text>
<text x="1194.62" y="892.5" font-size="27.5" text-anchor="middle" fill="#111">80</text>
<text x="1023.65" y="936.2" font-size="30.5" text-anchor="middle" fill="#111">Time (ps)</text>
<text x="102" y="47.3" font-size="27.5" text-anchor="end" fill="#111">1.1</text>
<text x="102" y="492.1" font-size="27.5" text-anchor="end" fill="#111">1.1</text>
<text x="102" y="157.3" font-size="27.5" text-anchor="end" fill="#111">1.0</text>
<text x="102" y="601.9" font-size="27.5" text-anchor="end" fill="#111">1.0</text>
<text x="102" y="267.3" font-size="27.5" text-anchor="end" fill="#111">0.9</text>
<text x="102" y="711.7" font-size="27.5" text-anchor="end" fill="#111">0.9</text>
<text x="102" y="377.3" font-size="27.5" text-anchor="end" fill="#111">0.8</text>
<text x="102" y="821.5" font-size="27.5" text-anchor="end" fill="#111">0.8</text>
<text transform="translate(42,221.5) rotate(-90)" font-size="31" text-anchor="middle" fill="#111">Energy (eV)</text>
<text transform="translate(42,667) rotate(-90)" font-size="31" text-anchor="middle" fill="#111">Energy (eV)</text>
<text x="436" y="81.5" font-size="30" text-anchor="end" fill="#111">13 QL</text>
<text x="800" y="81.5" font-size="30" text-anchor="end" fill="#111">17 QL</text>
<text x="1177" y="81.5" font-size="30" text-anchor="end" fill="#111">22 QL</text>
<text x="436" y="825.5" font-size="30" text-anchor="end" fill="#111">13 QL</text>
<text x="800" y="825.5" font-size="30" text-anchor="end" fill="#111">17 QL</text>
<text x="1177" y="825.5" font-size="30" text-anchor="end" fill="#111">22 QL</text>
<text x="1" y="36.5" font-size="43" text-anchor="start" fill="#111" font-weight="bold">(a)</text>
<text x="0" y="495.5" font-size="43" text-anchor="start" fill="#111" font-weight="bold">(b)</text>
<text x="1" y="996.5" font-size="43" text-anchor="start" fill="#111" font-weight="bold">(c)</text>
<text x="0" y="1298.5" font-size="43" text-anchor="start" fill="#111" font-weight="bold">(d)</text>
<text x="581" y="996.5" font-size="43" text-anchor="start" fill="#111" font-weight="bold">(e)</text>
<defs><linearGradient id="cbar" x1="0" y1="0" x2="0" y2="1"><stop offset="0" stop-color="#ee6a6c"/><stop offset=".125" stop-color="#f08a8c"/><stop offset=".25" stop-color="#f4abac"/><stop offset=".375" stop-color="#f9d3d3"/><stop offset=".5" stop-color="#ffffff"/><stop offset=".625" stop-color="#c9d5ea"/><stop offset=".75" stop-color="#92add2"/><stop offset=".875" stop-color="#5a7fb8"/><stop offset="1" stop-color="#21509f"/></linearGradient></defs>
<rect x="1204.5" y="487" width="15" height="360" fill="url(#cbar)" stroke="#2a2a2a" stroke-width="1.6"/>
<line x1="1219.5" y1="487" x2="1228.5" y2="487" stroke="#2a2a2a" stroke-width="1.6"/>
<line x1="1219.5" y1="532" x2="1224.5" y2="532" stroke="#2a2a2a" stroke-width="1.6"/>
<line x1="1219.5" y1="577" x2="1224.5" y2="577" stroke="#2a2a2a" stroke-width="1.6"/>
<line x1="1219.5" y1="622" x2="1224.5" y2="622" stroke="#2a2a2a" stroke-width="1.6"/>
<line x1="1219.5" y1="667" x2="1228.5" y2="667" stroke="#2a2a2a" stroke-width="1.6"/>
<line x1="1219.5" y1="712" x2="1224.5" y2="712" stroke="#2a2a2a" stroke-width="1.6"/>
<line x1="1219.5" y1="757" x2="1224.5" y2="757" stroke="#2a2a2a" stroke-width="1.6"/>
<line x1="1219.5" y1="802" x2="1224.5" y2="802" stroke="#2a2a2a" stroke-width="1.6"/>
<line x1="1219.5" y1="847" x2="1228.5" y2="847" stroke="#2a2a2a" stroke-width="1.6"/>
<text x="1245.5" y="497" font-size="27.5" text-anchor="start" fill="#111">5</text>
<text x="1245.5" y="677" font-size="27.5" text-anchor="start" fill="#111">0</text>
<text x="1244" y="857" font-size="27.5" text-anchor="start" fill="#111">-5</text>
<text transform="translate(1310,675) rotate(-90)" font-size="30.5" text-anchor="middle" fill="#111">&#916;R/R<tspan font-size="20" dy="7">0</tspan><tspan dy="-7"> (10</tspan><tspan font-size="19" dy="-11">&#8722;4</tspan><tspan dy="11">)</tspan></text>
<line x1="150.5" y1="1276.3" x2="154.5" y2="1276.3" stroke="#000" stroke-width="2.2"/>
<line x1="150.5" y1="1237.9" x2="158.5" y2="1237.9" stroke="#000" stroke-width="2.2"/>
<line x1="150.5" y1="1199.5" x2="154.5" y2="1199.5" stroke="#000" stroke-width="2.2"/>
<line x1="150.5" y1="1161.1" x2="158.5" y2="1161.1" stroke="#000" stroke-width="2.2"/>
<line x1="150.5" y1="1122.7" x2="154.5" y2="1122.7" stroke="#000" stroke-width="2.2"/>
<line x1="150.5" y1="1084.3" x2="158.5" y2="1084.3" stroke="#000" stroke-width="2.2"/>
<line x1="150.5" y1="1045.9" x2="154.5" y2="1045.9" stroke="#000" stroke-width="2.2"/>
<line x1="150.5" y1="1007.5" x2="158.5" y2="1007.5" stroke="#000" stroke-width="2.2"/>
<line x1="168.35" y1="1283" x2="168.35" y2="1279" stroke="#000" stroke-width="2.2"/>
<line x1="168.35" y1="1564.6" x2="168.35" y2="1560.6" stroke="#000" stroke-width="2.2"/>
<line x1="215" y1="1283" x2="215" y2="1276" stroke="#000" stroke-width="2.2"/>
<line x1="215" y1="1564.6" x2="215" y2="1557.6" stroke="#000" stroke-width="2.2"/>
<line x1="261.65" y1="1283" x2="261.65" y2="1279" stroke="#000" stroke-width="2.2"/>
<line x1="261.65" y1="1564.6" x2="261.65" y2="1560.6" stroke="#000" stroke-width="2.2"/>
<line x1="308.3" y1="1283" x2="308.3" y2="1276" stroke="#000" stroke-width="2.2"/>
<line x1="308.3" y1="1564.6" x2="308.3" y2="1557.6" stroke="#000" stroke-width="2.2"/>
<line x1="354.95" y1="1283" x2="354.95" y2="1279" stroke="#000" stroke-width="2.2"/>
<line x1="354.95" y1="1564.6" x2="354.95" y2="1560.6" stroke="#000" stroke-width="2.2"/>
<line x1="401.6" y1="1283" x2="401.6" y2="1276" stroke="#000" stroke-width="2.2"/>
<line x1="401.6" y1="1564.6" x2="401.6" y2="1557.6" stroke="#000" stroke-width="2.2"/>
<line x1="448.25" y1="1283" x2="448.25" y2="1279" stroke="#000" stroke-width="2.2"/>
<line x1="448.25" y1="1564.6" x2="448.25" y2="1560.6" stroke="#000" stroke-width="2.2"/>
<line x1="494.9" y1="1283" x2="494.9" y2="1276" stroke="#000" stroke-width="2.2"/>
<line x1="494.9" y1="1564.6" x2="494.9" y2="1557.6" stroke="#000" stroke-width="2.2"/>
<line x1="150.3" y1="1564.85" x2="154.3" y2="1564.85" stroke="#000" stroke-width="2.2"/>
<line x1="150.3" y1="1530.4" x2="159.3" y2="1530.4" stroke="#000" stroke-width="2.2"/>
<line x1="150.3" y1="1495.95" x2="154.3" y2="1495.95" stroke="#000" stroke-width="2.2"/>
<line x1="150.3" y1="1461.5" x2="159.3" y2="1461.5" stroke="#000" stroke-width="2.2"/>
<line x1="150.3" y1="1427.05" x2="154.3" y2="1427.05" stroke="#000" stroke-width="2.2"/>
<line x1="150.3" y1="1392.6" x2="159.3" y2="1392.6" stroke="#000" stroke-width="2.2"/>
<line x1="150.3" y1="1358.15" x2="154.3" y2="1358.15" stroke="#000" stroke-width="2.2"/>
<line x1="150.3" y1="1323.7" x2="159.3" y2="1323.7" stroke="#000" stroke-width="2.2"/>
<line x1="227.5" y1="1007.0" x2="227.5" y2="1564.6" stroke="#000" stroke-width="1.7" stroke-dasharray="4.5,2.5"/>
<line x1="333.3" y1="1007.0" x2="333.3" y2="1564.6" stroke="#000" stroke-width="1.7" stroke-dasharray="4.5,2.5"/>
<line x1="426.0" y1="1007.0" x2="426.0" y2="1564.6" stroke="#000" stroke-width="1.7" stroke-dasharray="4.5,2.5"/>
<text x="141" y="1015.9" font-size="27.5" text-anchor="end" fill="#111">2</text>
<text x="141" y="1092.7" font-size="27.5" text-anchor="end" fill="#111">0</text>
<text x="141" y="1169.5" font-size="27.5" text-anchor="end" fill="#111">-2</text>
<text x="141" y="1246.3" font-size="27.5" text-anchor="end" fill="#111">-4</text>
<text x="141" y="1332.1" font-size="27.5" text-anchor="end" fill="#111">2</text>
<text x="141" y="1401" font-size="27.5" text-anchor="end" fill="#111">1</text>
<text x="141" y="1469.9" font-size="27.5" text-anchor="end" fill="#111">0</text>
<text x="141" y="1538.8" font-size="27.5" text-anchor="end" fill="#111">-1</text>
<text x="215" y="1597" font-size="27.5" text-anchor="middle" fill="#111">0.8</text>
<text x="308.3" y="1597" font-size="27.5" text-anchor="middle" fill="#111">0.9</text>
<text x="401.6" y="1597" font-size="27.5" text-anchor="middle" fill="#111">1.0</text>
<text x="494.9" y="1597" font-size="27.5" text-anchor="middle" fill="#111">1.1</text>
<text x="340.4" y="1634" font-size="30.8" text-anchor="middle" fill="#111">Probe energy (eV)</text>
<text transform="translate(93.5,1148.5) rotate(-90)" font-size="30.5" text-anchor="middle" fill="#111">&#916;R/R<tspan font-size="20" dy="7">0</tspan><tspan dy="-7"> (10</tspan><tspan font-size="19" dy="-11">&#8722;3</tspan><tspan dy="11">)</tspan></text>
<text transform="translate(93.5,1434) rotate(-90)" font-size="30.5" text-anchor="middle" fill="#111">&#916;A/A<tspan font-size="20" dy="7">0</tspan><tspan dy="-7">  (10</tspan><tspan font-size="19" dy="-11">&#8722;3</tspan><tspan dy="11">)</tspan></text>
<line x1="717" y1="1547.25" x2="727" y2="1547.25" stroke="#000" stroke-width="2.4"/>
<line x1="717" y1="1504.92" x2="722" y2="1504.92" stroke="#000" stroke-width="2.4"/>
<line x1="717" y1="1462.6" x2="727" y2="1462.6" stroke="#000" stroke-width="2.4"/>
<line x1="717" y1="1420.28" x2="722" y2="1420.28" stroke="#000" stroke-width="2.4"/>
<line x1="717" y1="1377.95" x2="727" y2="1377.95" stroke="#000" stroke-width="2.4"/>
<line x1="717" y1="1335.62" x2="722" y2="1335.62" stroke="#000" stroke-width="2.4"/>
<line x1="717" y1="1293.3" x2="727" y2="1293.3" stroke="#000" stroke-width="2.4"/>
<line x1="717" y1="1250.97" x2="722" y2="1250.97" stroke="#000" stroke-width="2.4"/>
<line x1="717" y1="1208.65" x2="727" y2="1208.65" stroke="#000" stroke-width="2.4"/>
<line x1="717" y1="1166.33" x2="722" y2="1166.33" stroke="#000" stroke-width="2.4"/>
<line x1="717" y1="1124" x2="727" y2="1124" stroke="#000" stroke-width="2.4"/>
<line x1="717" y1="1081.67" x2="722" y2="1081.67" stroke="#000" stroke-width="2.4"/>
<line x1="717" y1="1039.35" x2="727" y2="1039.35" stroke="#000" stroke-width="2.4"/>
<line x1="742.8" y1="1564.5" x2="742.8" y2="1558.5" stroke="#000" stroke-width="2.4"/>
<line x1="807.3" y1="1564.5" x2="807.3" y2="1553.5" stroke="#000" stroke-width="2.4"/>
<line x1="871.8" y1="1564.5" x2="871.8" y2="1558.5" stroke="#000" stroke-width="2.4"/>
<line x1="936.3" y1="1564.5" x2="936.3" y2="1553.5" stroke="#000" stroke-width="2.4"/>
<line x1="1000.8" y1="1564.5" x2="1000.8" y2="1558.5" stroke="#000" stroke-width="2.4"/>
<line x1="1065.3" y1="1564.5" x2="1065.3" y2="1553.5" stroke="#000" stroke-width="2.4"/>
<line x1="1129.8" y1="1564.5" x2="1129.8" y2="1558.5" stroke="#000" stroke-width="2.4"/>
<line x1="1194.3" y1="1564.5" x2="1194.3" y2="1553.5" stroke="#000" stroke-width="2.4"/>
<text x="705" y="1047.75" font-size="27.5" text-anchor="end" fill="#111">1</text>
<text x="705" y="1132.4" font-size="27.5" text-anchor="end" fill="#111">0</text>
<text x="705" y="1217.05" font-size="27.5" text-anchor="end" fill="#111">-1</text>
<text x="705" y="1301.7" font-size="27.5" text-anchor="end" fill="#111">-2</text>
<text x="705" y="1386.35" font-size="27.5" text-anchor="end" fill="#111">-3</text>
<text x="705" y="1471" font-size="27.5" text-anchor="end" fill="#111">-4</text>
<text x="705" y="1555.65" font-size="27.5" text-anchor="end" fill="#111">-5</text>
<text x="807.3" y="1598.5" font-size="27.5" text-anchor="middle" fill="#111">0.8</text>
<text x="936.3" y="1598.5" font-size="27.5" text-anchor="middle" fill="#111">0.9</text>
<text x="1065.3" y="1598.5" font-size="27.5" text-anchor="middle" fill="#111">1.0</text>
<text x="1194.3" y="1598.5" font-size="27.5" text-anchor="middle" fill="#111">1.1</text>
<text x="987.2" y="1635.5" font-size="30.8" text-anchor="middle" fill="#111">Probe energy (eV)</text>
<text transform="translate(653,1289.5) rotate(-90)" font-size="30.5" text-anchor="middle" fill="#111">&#916;R/R<tspan font-size="20" dy="7">0</tspan><tspan dy="-7"> (10</tspan><tspan font-size="19" dy="-11">&#8722;3</tspan><tspan dy="11">)</tspan></text>
<text x="1222" y="1048.8" font-size="30.5" text-anchor="end" fill="#111">&#916;<tspan font-style="italic">t</tspan> = 1.5 ps</text>
<text x="1209" y="1189.3" font-size="30.5" text-anchor="end" fill="#111">22 QL</text>
<text x="1200" y="1325.6" font-size="30.5" text-anchor="end" fill="#111">17 QL</text>
<text x="1225" y="1452.5" font-size="30.5" text-anchor="end" fill="#111">13 QL</text>
<text x="498.5" y="1058.2" font-size="30.5" text-anchor="end" fill="#e8868c">3 ps</text>
<text x="516.5" y="1126" font-size="30.5" text-anchor="end" fill="#e8101a">1.5 ps</text>
<text x="504" y="1231" font-size="30.5" text-anchor="end" fill="#7a1616">1 ps</text>
<text x="516.5" y="1327.5" font-size="30.5" text-anchor="end" fill="#e8101a">1.5 ps</text>
<text x="267.5" y="1324" font-size="30.5" text-anchor="start" fill="#111">PA</text>
<text x="258.5" y="1549.3" font-size="30.5" text-anchor="start" fill="#111">PB1</text>
<text x="435.5" y="1550" font-size="30.5" text-anchor="start" fill="#111">PB2</text>
<defs><linearGradient id="paf" x1="0" y1="0" x2="0" y2="1"><stop offset="0" stop-color="#f6cacb"/><stop offset="1" stop-color="#ffffff"/></linearGradient><linearGradient id="pb2f" x1="0" y1="0" x2="0" y2="1"><stop offset="0" stop-color="#fbfcfe"/><stop offset="1" stop-color="#6f93c0"/></linearGradient><clipPath id="dclip"><rect x="151" y="1290" width="381.5" height="274"/></clipPath></defs>
<g clip-path="url(#dclip)">
<polygon points="147.36,1461.5 147.36,1461.5 149.69,1461.5 152.02,1461.5 154.35,1461.5 156.69,1461.5 159.02,1461.5 161.35,1461.5 163.68,1461.5 166.02,1461.5 168.35,1461.5 170.68,1461.5 173.01,1461.5 175.35,1461.5 177.68,1461.5 180.01,1461.5 182.34,1461.5 184.68,1461.5 187.01,1461.5 189.34,1461.5 191.67,1461.5 194.01,1461.5 196.34,1461.5 198.67,1461.5 201,1461.5 203.34,1461.5 205.67,1461.5 208,1461.5 210.34,1461.5 212.67,1461.5 215,1461.5 217.33,1461.49 219.66,1461.49 222,1461.49 224.33,1461.48 226.66,1461.47 229,1461.46 231.33,1461.44 233.66,1461.41 235.99,1461.38 238.33,1461.33 240.66,1461.26 242.99,1461.17 245.32,1461.04 247.66,1460.88 249.99,1460.66 252.32,1460.38 254.65,1460.02 256.99,1459.56 259.32,1458.96 261.65,1458.22 263.98,1457.29 266.31,1456.15 268.65,1454.75 270.98,1453.06 273.31,1451.03 275.64,1448.61 277.98,1445.77 280.31,1442.47 282.64,1438.65 284.97,1434.3 287.31,1429.38 289.64,1423.89 291.97,1417.82 294.3,1411.19 296.64,1404.03 298.97,1396.39 301.3,1388.35 303.63,1379.98 305.97,1371.41 308.3,1362.76 310.63,1354.16 312.96,1345.78 315.3,1337.76 317.63,1330.29 319.96,1323.5 322.29,1317.56 324.63,1312.6 326.96,1308.74 329.29,1306.06 331.62,1304.64 333.96,1304.51 336.29,1305.68 338.62,1308.1 340.96,1311.74 343.29,1316.49 345.62,1322.24 347.95,1328.87 350.29,1336.22 352.62,1344.14 354.95,1352.46 357.28,1361.03 359.62,1369.68 361.95,1378.28 364.28,1386.7 366.61,1394.82 368.95,1402.54 371.28,1409.8 373.61,1416.54 375.94,1422.72 378.28,1428.33 380.61,1433.36 382.94,1437.82 385.27,1441.74 387.61,1445.15 389.94,1448.08 392.27,1450.58 394.6,1452.68 396.94,1454.44 399.27,1455.89 401.6,1457.08 403.93,1458.05 406.27,1458.83 408.6,1459.45 410.93,1459.94 413.26,1460.32 415.6,1460.61 417.93,1460.84 420.26,1461.01 422.59,1461.15 424.92,1461.24 427.26,1461.32 429.59,1461.37 431.92,1461.41 434.26,1461.43 436.59,1461.45 438.92,1461.47 441.25,1461.48 443.58,1461.49 445.92,1461.49 448.25,1461.49 450.58,1461.5 452.92,1461.5 455.25,1461.5 457.58,1461.5 459.91,1461.5 462.24,1461.5 464.58,1461.5 466.91,1461.5 469.24,1461.5 471.58,1461.5 473.91,1461.5 476.24,1461.5 478.57,1461.5 480.9,1461.5 483.24,1461.5 485.57,1461.5 487.9,1461.5 490.23,1461.5 492.57,1461.5 494.9,1461.5 497.23,1461.5 499.56,1461.5 501.9,1461.5 504.23,1461.5 506.56,1461.5 508.89,1461.5 511.23,1461.5 513.56,1461.5 515.89,1461.5 518.22,1461.5 520.56,1461.5 522.89,1461.5 525.22,1461.5 527.55,1461.5 529.89,1461.5 529.89,1461.5" fill="url(#paf)"/>
<polygon points="147.36,1461.5 147.36,1462.39 149.69,1462.64 152.02,1462.96 154.35,1463.36 156.69,1463.84 159.02,1464.42 161.35,1465.12 163.68,1465.96 166.02,1466.95 168.35,1468.11 170.68,1469.45 173.01,1471 175.35,1472.77 177.68,1474.77 180.01,1477.01 182.34,1479.5 184.68,1482.22 187.01,1485.19 189.34,1488.37 191.67,1491.76 194.01,1495.33 196.34,1499.03 198.67,1502.83 201,1506.68 203.34,1510.52 205.67,1514.29 208,1517.94 210.34,1521.38 212.67,1524.57 215,1527.44 217.33,1529.92 219.66,1531.98 222,1533.56 224.33,1534.63 226.66,1535.16 229,1535.15 231.33,1534.59 233.66,1533.5 235.99,1531.91 238.33,1529.83 240.66,1527.33 242.99,1524.45 245.32,1521.25 247.66,1517.79 249.99,1514.14 252.32,1510.37 254.65,1506.52 256.99,1502.68 259.32,1498.88 261.65,1495.18 263.98,1491.62 266.31,1488.24 268.65,1485.06 270.98,1482.11 273.31,1479.39 275.64,1476.92 277.98,1474.69 280.31,1472.7 282.64,1470.94 284.97,1469.4 287.31,1468.06 289.64,1466.9 291.97,1465.92 294.3,1465.09 296.64,1464.39 298.97,1463.81 301.3,1463.34 303.63,1462.95 305.97,1462.63 308.3,1462.38 310.63,1462.18 312.96,1462.02 315.3,1461.89 317.63,1461.8 319.96,1461.72 322.29,1461.67 324.63,1461.62 326.96,1461.59 329.29,1461.56 331.62,1461.55 333.96,1461.53 336.29,1461.52 338.62,1461.52 340.96,1461.51 343.29,1461.51 345.62,1461.51 347.95,1461.5 350.29,1461.5 352.62,1461.5 354.95,1461.5 357.28,1461.5 359.62,1461.5 361.95,1461.5 364.28,1461.5 366.61,1461.5 368.95,1461.5 371.28,1461.5 373.61,1461.5 375.94,1461.5 378.28,1461.5 380.61,1461.5 382.94,1461.5 385.27,1461.5 387.61,1461.5 389.94,1461.5 392.27,1461.5 394.6,1461.5 396.94,1461.5 399.27,1461.5 401.6,1461.5 403.93,1461.5 406.27,1461.5 408.6,1461.5 410.93,1461.5 413.26,1461.5 415.6,1461.5 417.93,1461.5 420.26,1461.5 422.59,1461.5 424.92,1461.5 427.26,1461.5 429.59,1461.5 431.92,1461.5 434.26,1461.5 436.59,1461.5 438.92,1461.5 441.25,1461.5 443.58,1461.5 445.92,1461.5 448.25,1461.5 450.58,1461.5 452.92,1461.5 455.25,1461.5 457.58,1461.5 459.91,1461.5 462.24,1461.5 464.58,1461.5 466.91,1461.5 469.24,1461.5 471.58,1461.5 473.91,1461.5 476.24,1461.5 478.57,1461.5 480.9,1461.5 483.24,1461.5 485.57,1461.5 487.9,1461.5 490.23,1461.5 492.57,1461.5 494.9,1461.5 497.23,1461.5 499.56,1461.5 501.9,1461.5 504.23,1461.5 506.56,1461.5 508.89,1461.5 511.23,1461.5 513.56,1461.5 515.89,1461.5 518.22,1461.5 520.56,1461.5 522.89,1461.5 525.22,1461.5 527.55,1461.5 529.89,1461.5 529.89,1461.5" fill="#dfeaf6"/>
<polygon points="147.36,1461.5 147.36,1461.5 149.69,1461.5 152.02,1461.5 154.35,1461.5 156.69,1461.5 159.02,1461.5 161.35,1461.5 163.68,1461.5 166.02,1461.5 168.35,1461.5 170.68,1461.5 173.01,1461.5 175.35,1461.5 177.68,1461.5 180.01,1461.5 182.34,1461.5 184.68,1461.5 187.01,1461.5 189.34,1461.5 191.67,1461.5 194.01,1461.5 196.34,1461.5 198.67,1461.5 201,1461.5 203.34,1461.5 205.67,1461.5 208,1461.5 210.34,1461.5 212.67,1461.5 215,1461.5 217.33,1461.5 219.66,1461.5 222,1461.5 224.33,1461.5 226.66,1461.5 229,1461.5 231.33,1461.5 233.66,1461.5 235.99,1461.5 238.33,1461.51 240.66,1461.51 242.99,1461.51 245.32,1461.51 247.66,1461.51 249.99,1461.52 252.32,1461.52 254.65,1461.52 256.99,1461.53 259.32,1461.54 261.65,1461.54 263.98,1461.55 266.31,1461.57 268.65,1461.58 270.98,1461.6 273.31,1461.62 275.64,1461.64 277.98,1461.67 280.31,1461.7 282.64,1461.74 284.97,1461.78 287.31,1461.83 289.64,1461.89 291.97,1461.96 294.3,1462.04 296.64,1462.14 298.97,1462.24 301.3,1462.37 303.63,1462.51 305.97,1462.66 308.3,1462.85 310.63,1463.05 312.96,1463.28 315.3,1463.54 317.63,1463.83 319.96,1464.15 322.29,1464.51 324.63,1464.91 326.96,1465.35 329.29,1465.83 331.62,1466.36 333.96,1466.94 336.29,1467.57 338.62,1468.26 340.96,1469.01 343.29,1469.81 345.62,1470.67 347.95,1471.59 350.29,1472.58 352.62,1473.63 354.95,1474.73 357.28,1475.9 359.62,1477.13 361.95,1478.41 364.28,1479.75 366.61,1481.14 368.95,1482.57 371.28,1484.05 373.61,1485.55 375.94,1487.09 378.28,1488.65 380.61,1490.22 382.94,1491.8 385.27,1493.38 387.61,1494.94 389.94,1496.48 392.27,1497.98 394.6,1499.45 396.94,1500.86 399.27,1502.2 401.6,1503.48 403.93,1504.67 406.27,1505.77 408.6,1506.77 410.93,1507.66 413.26,1508.44 415.6,1509.1 417.93,1509.63 420.26,1510.02 422.59,1510.28 424.92,1510.41 427.26,1510.39 429.59,1510.24 431.92,1509.95 434.26,1509.53 436.59,1508.98 438.92,1508.3 441.25,1507.5 443.58,1506.58 445.92,1505.56 448.25,1504.44 450.58,1503.23 452.92,1501.94 455.25,1500.58 457.58,1499.16 459.91,1497.68 462.24,1496.17 464.58,1494.63 466.91,1493.06 469.24,1491.49 471.58,1489.91 473.91,1488.34 476.24,1486.78 478.57,1485.25 480.9,1483.75 483.24,1482.28 485.57,1480.86 487.9,1479.48 490.23,1478.15 492.57,1476.88 494.9,1475.66 497.23,1474.51 499.56,1473.41 501.9,1472.38 504.23,1471.41 506.56,1470.49 508.89,1469.64 511.23,1468.85 513.56,1468.12 515.89,1467.44 518.22,1466.82 520.56,1466.25 522.89,1465.73 525.22,1465.25 527.55,1464.82 529.89,1464.43 529.89,1461.5" fill="url(#pb2f)"/>
<polyline points="147.36,1461.5 149.69,1461.5 152.02,1461.5 154.35,1461.5 156.69,1461.5 159.02,1461.5 161.35,1461.5 163.68,1461.5 166.02,1461.5 168.35,1461.5 170.68,1461.5 173.01,1461.5 175.35,1461.5 177.68,1461.5 180.01,1461.5 182.34,1461.5 184.68,1461.5 187.01,1461.5 189.34,1461.5 191.67,1461.5 194.01,1461.5 196.34,1461.5 198.67,1461.5 201,1461.5 203.34,1461.5 205.67,1461.5 208,1461.5 210.34,1461.5 212.67,1461.5 215,1461.5 217.33,1461.49 219.66,1461.49 222,1461.49 224.33,1461.48 226.66,1461.47 229,1461.46 231.33,1461.44 233.66,1461.41 235.99,1461.38 238.33,1461.33 240.66,1461.26 242.99,1461.17 245.32,1461.04 247.66,1460.88 249.99,1460.66 252.32,1460.38 254.65,1460.02 256.99,1459.56 259.32,1458.96 261.65,1458.22 263.98,1457.29 266.31,1456.15 268.65,1454.75 270.98,1453.06 273.31,1451.03 275.64,1448.61 277.98,1445.77 280.31,1442.47 282.64,1438.65 284.97,1434.3 287.31,1429.38 289.64,1423.89 291.97,1417.82 294.3,1411.19 296.64,1404.03 298.97,1396.39 301.3,1388.35 303.63,1379.98 305.97,1371.41 308.3,1362.76 310.63,1354.16 312.96,1345.78 315.3,1337.76 317.63,1330.29 319.96,1323.5 322.29,1317.56 324.63,1312.6 326.96,1308.74 329.29,1306.06 331.62,1304.64 333.96,1304.51 336.29,1305.68 338.62,1308.1 340.96,1311.74 343.29,1316.49 345.62,1322.24 347.95,1328.87 350.29,1336.22 352.62,1344.14 354.95,1352.46 357.28,1361.03 359.62,1369.68 361.95,1378.28 364.28,1386.7 366.61,1394.82 368.95,1402.54 371.28,1409.8 373.61,1416.54 375.94,1422.72 378.28,1428.33 380.61,1433.36 382.94,1437.82 385.27,1441.74 387.61,1445.15 389.94,1448.08 392.27,1450.58 394.6,1452.68 396.94,1454.44 399.27,1455.89 401.6,1457.08 403.93,1458.05 406.27,1458.83 408.6,1459.45 410.93,1459.94 413.26,1460.32 415.6,1460.61 417.93,1460.84 420.26,1461.01 422.59,1461.15 424.92,1461.24 427.26,1461.32 429.59,1461.37 431.92,1461.41 434.26,1461.43 436.59,1461.45 438.92,1461.47 441.25,1461.48 443.58,1461.49 445.92,1461.49 448.25,1461.49 450.58,1461.5 452.92,1461.5 455.25,1461.5 457.58,1461.5 459.91,1461.5 462.24,1461.5 464.58,1461.5 466.91,1461.5 469.24,1461.5 471.58,1461.5 473.91,1461.5 476.24,1461.5 478.57,1461.5 480.9,1461.5 483.24,1461.5 485.57,1461.5 487.9,1461.5 490.23,1461.5 492.57,1461.5 494.9,1461.5 497.23,1461.5 499.56,1461.5 501.9,1461.5 504.23,1461.5 506.56,1461.5 508.89,1461.5 511.23,1461.5 513.56,1461.5 515.89,1461.5 518.22,1461.5 520.56,1461.5 522.89,1461.5 525.22,1461.5 527.55,1461.5 529.89,1461.5" fill="none" stroke="#e57a7e" stroke-width="1.6"/>
<polyline points="147.36,1462.39 149.69,1462.64 152.02,1462.96 154.35,1463.36 156.69,1463.84 159.02,1464.42 161.35,1465.12 163.68,1465.96 166.02,1466.95 168.35,1468.11 170.68,1469.45 173.01,1471 175.35,1472.77 177.68,1474.77 180.01,1477.01 182.34,1479.5 184.68,1482.22 187.01,1485.19 189.34,1488.37 191.67,1491.76 194.01,1495.33 196.34,1499.03 198.67,1502.83 201,1506.68 203.34,1510.52 205.67,1514.29 208,1517.94 210.34,1521.38 212.67,1524.57 215,1527.44 217.33,1529.92 219.66,1531.98 222,1533.56 224.33,1534.63 226.66,1535.16 229,1535.15 231.33,1534.59 233.66,1533.5 235.99,1531.91 238.33,1529.83 240.66,1527.33 242.99,1524.45 245.32,1521.25 247.66,1517.79 249.99,1514.14 252.32,1510.37 254.65,1506.52 256.99,1502.68 259.32,1498.88 261.65,1495.18 263.98,1491.62 266.31,1488.24 268.65,1485.06 270.98,1482.11 273.31,1479.39 275.64,1476.92 277.98,1474.69 280.31,1472.7 282.64,1470.94 284.97,1469.4 287.31,1468.06 289.64,1466.9 291.97,1465.92 294.3,1465.09 296.64,1464.39 298.97,1463.81 301.3,1463.34 303.63,1462.95 305.97,1462.63 308.3,1462.38 310.63,1462.18 312.96,1462.02 315.3,1461.89 317.63,1461.8 319.96,1461.72 322.29,1461.67 324.63,1461.62 326.96,1461.59 329.29,1461.56 331.62,1461.55 333.96,1461.53 336.29,1461.52 338.62,1461.52 340.96,1461.51 343.29,1461.51 345.62,1461.51 347.95,1461.5 350.29,1461.5 352.62,1461.5 354.95,1461.5 357.28,1461.5 359.62,1461.5 361.95,1461.5 364.28,1461.5 366.61,1461.5 368.95,1461.5 371.28,1461.5 373.61,1461.5 375.94,1461.5 378.28,1461.5 380.61,1461.5 382.94,1461.5 385.27,1461.5 387.61,1461.5 389.94,1461.5 392.27,1461.5 394.6,1461.5 396.94,1461.5 399.27,1461.5 401.6,1461.5 403.93,1461.5 406.27,1461.5 408.6,1461.5 410.93,1461.5 413.26,1461.5 415.6,1461.5 417.93,1461.5 420.26,1461.5 422.59,1461.5 424.92,1461.5 427.26,1461.5 429.59,1461.5 431.92,1461.5 434.26,1461.5 436.59,1461.5 438.92,1461.5 441.25,1461.5 443.58,1461.5 445.92,1461.5 448.25,1461.5 450.58,1461.5 452.92,1461.5 455.25,1461.5 457.58,1461.5 459.91,1461.5 462.24,1461.5 464.58,1461.5 466.91,1461.5 469.24,1461.5 471.58,1461.5 473.91,1461.5 476.24,1461.5 478.57,1461.5 480.9,1461.5 483.24,1461.5 485.57,1461.5 487.9,1461.5 490.23,1461.5 492.57,1461.5 494.9,1461.5 497.23,1461.5 499.56,1461.5 501.9,1461.5 504.23,1461.5 506.56,1461.5 508.89,1461.5 511.23,1461.5 513.56,1461.5 515.89,1461.5 518.22,1461.5 520.56,1461.5 522.89,1461.5 525.22,1461.5 527.55,1461.5 529.89,1461.5" fill="none" stroke="#e57a7e" stroke-width="1.4"/>
<line x1="151" y1="1461.5" x2="532" y2="1461.5" stroke="#1c2f58" stroke-width="2.6"/>
<polyline points="147.36,1461.5 149.69,1461.5 152.02,1461.5 154.35,1461.5 156.69,1461.5 159.02,1461.5 161.35,1461.5 163.68,1461.5 166.02,1461.5 168.35,1461.5 170.68,1461.5 173.01,1461.5 175.35,1461.5 177.68,1461.5 180.01,1461.5 182.34,1461.5 184.68,1461.5 187.01,1461.5 189.34,1461.5 191.67,1461.5 194.01,1461.5 196.34,1461.5 198.67,1461.5 201,1461.5 203.34,1461.5 205.67,1461.5 208,1461.5 210.34,1461.5 212.67,1461.5 215,1461.5 217.33,1461.5 219.66,1461.5 222,1461.5 224.33,1461.5 226.66,1461.5 229,1461.5 231.33,1461.5 233.66,1461.5 235.99,1461.5 238.33,1461.51 240.66,1461.51 242.99,1461.51 245.32,1461.51 247.66,1461.51 249.99,1461.52 252.32,1461.52 254.65,1461.52 256.99,1461.53 259.32,1461.54 261.65,1461.54 263.98,1461.55 266.31,1461.57 268.65,1461.58 270.98,1461.6 273.31,1461.62 275.64,1461.64 277.98,1461.67 280.31,1461.7 282.64,1461.74 284.97,1461.78 287.31,1461.83 289.64,1461.89 291.97,1461.96 294.3,1462.04 296.64,1462.14 298.97,1462.24 301.3,1462.37 303.63,1462.51 305.97,1462.66 308.3,1462.85 310.63,1463.05 312.96,1463.28 315.3,1463.54 317.63,1463.83 319.96,1464.15 322.29,1464.51 324.63,1464.91 326.96,1465.35 329.29,1465.83 331.62,1466.36 333.96,1466.94 336.29,1467.57 338.62,1468.26 340.96,1469.01 343.29,1469.81 345.62,1470.67 347.95,1471.59 350.29,1472.58 352.62,1473.63 354.95,1474.73 357.28,1475.9 359.62,1477.13 361.95,1478.41 364.28,1479.75 366.61,1481.14 368.95,1482.57 371.28,1484.05 373.61,1485.55 375.94,1487.09 378.28,1488.65 380.61,1490.22 382.94,1491.8 385.27,1493.38 387.61,1494.94 389.94,1496.48 392.27,1497.98 394.6,1499.45 396.94,1500.86 399.27,1502.2 401.6,1503.48 403.93,1504.67 406.27,1505.77 408.6,1506.77 410.93,1507.66 413.26,1508.44 415.6,1509.1 417.93,1509.63 420.26,1510.02 422.59,1510.28 424.92,1510.41 427.26,1510.39 429.59,1510.24 431.92,1509.95 434.26,1509.53 436.59,1508.98 438.92,1508.3 441.25,1507.5 443.58,1506.58 445.92,1505.56 448.25,1504.44 450.58,1503.23 452.92,1501.94 455.25,1500.58 457.58,1499.16 459.91,1497.68 462.24,1496.17 464.58,1494.63 466.91,1493.06 469.24,1491.49 471.58,1489.91 473.91,1488.34 476.24,1486.78 478.57,1485.25 480.9,1483.75 483.24,1482.28 485.57,1480.86 487.9,1479.48 490.23,1478.15 492.57,1476.88 494.9,1475.66 497.23,1474.51 499.56,1473.41 501.9,1472.38 504.23,1471.41 506.56,1470.49 508.89,1469.64 511.23,1468.85 513.56,1468.12 515.89,1467.44 518.22,1466.82 520.56,1466.25 522.89,1465.73 525.22,1465.25 527.55,1464.82 529.89,1464.43" fill="none" stroke="#1c2f58" stroke-width="2.8"/>
<g fill="#f01414"><circle cx="193.5" cy="1488.6" r="4.6"/><circle cx="197" cy="1490.4" r="4.6"/><circle cx="198.7" cy="1510.3" r="4.6"/><circle cx="203.9" cy="1520.7" r="4.6"/><circle cx="209.1" cy="1531.1" r="4.6"/><circle cx="215.2" cy="1532.8" r="4.6"/><circle cx="223" cy="1520.7" r="4.6"/><circle cx="228.2" cy="1531.1" r="4.6"/><circle cx="235.1" cy="1521.6" r="4.6"/><circle cx="239.5" cy="1531.1" r="4.6"/><circle cx="245.5" cy="1520.7" r="4.6"/><circle cx="255.9" cy="1514.6" r="4.6"/><circle cx="261.1" cy="1499.9" r="4.6"/><circle cx="266.3" cy="1491.2" r="4.6"/><circle cx="269.8" cy="1473.9" r="4.6"/><circle cx="276.7" cy="1463.5" r="4.6"/><circle cx="283.6" cy="1458.3" r="4.6"/><circle cx="289.7" cy="1441" r="4.6"/><circle cx="292.3" cy="1423.6" r="4.6"/><circle cx="298.4" cy="1404.6" r="4.6"/><circle cx="304.4" cy="1381.2" r="4.6"/><circle cx="310.5" cy="1359.5" r="4.6"/><circle cx="317.4" cy="1340.5" r="4.6"/><circle cx="323.5" cy="1318.8" r="4.6"/><circle cx="330.4" cy="1309.3" r="4.6"/><circle cx="336.5" cy="1323.1" r="4.6"/><circle cx="345.4" cy="1325.7" r="4.6"/><circle cx="352.3" cy="1343" r="4.6"/><circle cx="359.3" cy="1363" r="4.6"/><circle cx="365.3" cy="1393.3" r="4.6"/><circle cx="372.3" cy="1420.2" r="4.6"/><circle cx="380" cy="1442.7" r="4.6"/><circle cx="387" cy="1462.6" r="4.6"/><circle cx="393.9" cy="1477.3" r="4.6"/><circle cx="400" cy="1499.9" r="4.6"/><circle cx="408.6" cy="1496.4" r="4.6"/><circle cx="414.7" cy="1510.3" r="4.6"/><circle cx="423.4" cy="1519.8" r="4.6"/><circle cx="432" cy="1501.6" r="4.6"/><circle cx="439.8" cy="1511.1" r="4.6"/><circle cx="447.6" cy="1495.5" r="4.6"/><circle cx="456.3" cy="1502.5" r="4.6"/><circle cx="464.1" cy="1482.5" r="4.6"/><circle cx="473.6" cy="1474.7" r="4.6"/><circle cx="483.2" cy="1477.3" r="4.6"/><circle cx="491.8" cy="1480.8" r="4.6"/></g>
<polyline points="147.36,1462.39 149.69,1462.64 152.02,1462.96 154.35,1463.36 156.69,1463.84 159.02,1464.42 161.35,1465.12 163.68,1465.96 166.02,1466.95 168.35,1468.11 170.68,1469.45 173.01,1471 175.35,1472.77 177.68,1474.77 180.01,1477.01 182.34,1479.5 184.68,1482.22 187.01,1485.19 189.34,1488.37 191.67,1491.76 194.01,1495.33 196.34,1499.03 198.67,1502.83 201,1506.68 203.34,1510.52 205.67,1514.29 208,1517.94 210.34,1521.38 212.67,1524.57 215,1527.44 217.33,1529.92 219.66,1531.97 222,1533.54 224.33,1534.61 226.66,1535.13 229,1535.11 231.33,1534.53 233.66,1533.42 235.99,1531.79 238.33,1529.67 240.66,1527.1 242.99,1524.13 245.32,1520.81 247.66,1517.19 249.99,1513.32 252.32,1509.27 254.65,1505.07 256.99,1500.76 259.32,1496.38 261.65,1491.95 263.98,1487.47 266.31,1482.96 268.65,1478.4 270.98,1473.77 273.31,1469.04 275.64,1464.17 277.98,1459.13 280.31,1453.86 282.64,1448.33 284.97,1442.47 287.31,1436.27 289.64,1429.69 291.97,1422.71 294.3,1415.33 296.64,1407.56 298.97,1399.45 301.3,1391.05 303.63,1382.44 305.97,1373.71 308.3,1364.98 310.63,1356.39 312.96,1348.07 315.3,1340.2 317.63,1332.91 319.96,1326.37 322.29,1320.73 324.63,1316.13 326.96,1312.67 329.29,1310.46 331.62,1309.55 333.96,1309.99 336.29,1311.77 338.62,1314.88 340.96,1319.25 343.29,1324.8 345.62,1331.42 347.95,1338.97 350.29,1347.3 352.62,1356.27 354.95,1365.7 357.28,1375.43 359.62,1385.31 361.95,1395.2 364.28,1404.95 366.61,1414.45 368.95,1423.61 371.28,1432.35 373.61,1440.6 375.94,1448.32 378.28,1455.48 380.61,1462.09 382.94,1468.13 385.27,1473.62 387.61,1478.59 389.94,1483.06 392.27,1487.06 394.6,1490.63 396.94,1493.8 399.27,1496.6 401.6,1499.06 403.93,1501.22 406.27,1503.1 408.6,1504.72 410.93,1506.1 413.26,1507.26 415.6,1508.21 417.93,1508.97 420.26,1509.54 422.59,1509.93 424.92,1510.15 427.26,1510.21 429.59,1510.11 431.92,1509.86 434.26,1509.46 436.59,1508.93 438.92,1508.26 441.25,1507.47 443.58,1506.57 445.92,1505.55 448.25,1504.43 450.58,1503.23 452.92,1501.94 455.25,1500.58 457.58,1499.16 459.91,1497.68 462.24,1496.17 464.58,1494.63 466.91,1493.06 469.24,1491.49 471.58,1489.91 473.91,1488.34 476.24,1486.78 478.57,1485.25 480.9,1483.75 483.24,1482.28 485.57,1480.86 487.9,1479.48 490.23,1478.15 492.57,1476.88 494.9,1475.66 497.23,1474.51 499.56,1473.41 501.9,1472.38 504.23,1471.41 506.56,1470.49 508.89,1469.64 511.23,1468.85 513.56,1468.12 515.89,1467.44 518.22,1466.82 520.56,1466.25 522.89,1465.73 525.22,1465.25 527.55,1464.82 529.89,1464.43" fill="none" stroke="#000" stroke-width="3.4" stroke-linejoin="round"/>
</g>
<defs><clipPath id="cclip"><rect x="151" y="1007" width="381.5" height="276"/></clipPath></defs>
<g clip-path="url(#cclip)">
<g fill="#ec8e96"><circle cx="192.6" cy="1084.7" r="4.1"/><circle cx="195.25" cy="1082.9" r="4.1"/><circle cx="197.9" cy="1081.1" r="4.1"/><circle cx="201.45" cy="1078.45" r="4.1"/><circle cx="205" cy="1075.8" r="4.1"/><circle cx="208.5" cy="1074.05" r="4.1"/><circle cx="212" cy="1072.3" r="4.1"/><circle cx="215.5" cy="1073.15" r="4.1"/><circle cx="219" cy="1074" r="4.1"/><circle cx="223.45" cy="1068.3" r="4.1"/><circle cx="227.9" cy="1062.6" r="4.1"/><circle cx="231.45" cy="1059.5" r="4.1"/><circle cx="235" cy="1056.4" r="4.1"/><circle cx="239.4" cy="1052" r="4.1"/><circle cx="243.8" cy="1047.6" r="4.1"/><circle cx="247.3" cy="1043.65" r="4.1"/><circle cx="250.8" cy="1039.7" r="4.1"/><circle cx="255.2" cy="1037.05" r="4.1"/><circle cx="259.6" cy="1034.4" r="4.1"/><circle cx="264.05" cy="1033.05" r="4.1"/><circle cx="268.5" cy="1031.7" r="4.1"/><circle cx="272.9" cy="1030.85" r="4.1"/><circle cx="277.3" cy="1030" r="4.1"/><circle cx="280.8" cy="1029.55" r="4.1"/><circle cx="284.3" cy="1029.1" r="4.1"/><circle cx="287.85" cy="1030" r="4.1"/><circle cx="291.4" cy="1030.9" r="4.1"/><circle cx="295.8" cy="1036.15" r="4.1"/><circle cx="300.2" cy="1041.4" r="4.1"/><circle cx="303.75" cy="1037.9" r="4.1"/><circle cx="307.3" cy="1034.4" r="4.1"/><circle cx="310.8" cy="1037.05" r="4.1"/><circle cx="314.3" cy="1039.7" r="4.1"/><circle cx="317.85" cy="1043.65" r="4.1"/><circle cx="321.4" cy="1047.6" r="4.1"/><circle cx="324.9" cy="1052" r="4.1"/><circle cx="328.4" cy="1056.4" r="4.1"/><circle cx="330.6" cy="1060.85" r="4.1"/><circle cx="332.8" cy="1065.3" r="4.1"/><circle cx="336.1" cy="1072.75" r="4.1"/><circle cx="339.4" cy="1080.2" r="4.1"/><circle cx="342.95" cy="1086.35" r="4.1"/><circle cx="346.5" cy="1092.5" r="4.1"/><circle cx="350" cy="1099.15" r="4.1"/><circle cx="353.5" cy="1105.8" r="4.1"/><circle cx="356.6" cy="1110.2" r="4.1"/><circle cx="359.7" cy="1114.6" r="4.1"/><circle cx="362.75" cy="1120.3" r="4.1"/><circle cx="365.8" cy="1126" r="4.1"/><circle cx="369.35" cy="1126.9" r="4.1"/><circle cx="372.9" cy="1127.8" r="4.1"/><circle cx="376.45" cy="1128.7" r="4.1"/><circle cx="380" cy="1129.6" r="4.1"/><circle cx="383.95" cy="1128.25" r="4.1"/><circle cx="387.9" cy="1126.9" r="4.1"/><circle cx="391.85" cy="1125.15" r="4.1"/><circle cx="395.8" cy="1123.4" r="4.1"/><circle cx="398.9" cy="1120.3" r="4.1"/><circle cx="402" cy="1117.2" r="4.1"/><circle cx="405.5" cy="1114.1" r="4.1"/><circle cx="409" cy="1111" r="4.1"/><circle cx="412.55" cy="1110.15" r="4.1"/><circle cx="416.1" cy="1109.3" r="4.1"/><circle cx="419.6" cy="1105.35" r="4.1"/><circle cx="423.1" cy="1101.4" r="4.1"/><circle cx="427.1" cy="1099.6" r="4.1"/><circle cx="431.1" cy="1097.8" r="4.1"/><circle cx="435.05" cy="1096.95" r="4.1"/><circle cx="439" cy="1096.1" r="4.1"/><circle cx="443.4" cy="1093" r="4.1"/><circle cx="447.8" cy="1089.9" r="4.1"/><circle cx="452.2" cy="1089.9" r="4.1"/><circle cx="456.6" cy="1089.9" r="4.1"/><circle cx="461.45" cy="1089.45" r="4.1"/><circle cx="466.3" cy="1089" r="4.1"/><circle cx="470.3" cy="1087.7" r="4.1"/><circle cx="474.3" cy="1086.4" r="4.1"/><circle cx="479.55" cy="1085.05" r="4.1"/><circle cx="484.8" cy="1083.7" r="4.1"/></g>
<g fill="#f50f0f"><circle cx="191.7" cy="1151.7" r="4.4"/><circle cx="196.1" cy="1160.5" r="4.4"/><circle cx="205" cy="1153.4" r="4.4"/><circle cx="211.1" cy="1144.6" r="4.4"/><circle cx="215.5" cy="1138.4" r="4.4"/><circle cx="220.8" cy="1129.6" r="4.4"/><circle cx="233.2" cy="1121.7" r="4.4"/><circle cx="241.1" cy="1118.2" r="4.4"/><circle cx="243.8" cy="1106.7" r="4.4"/><circle cx="251.7" cy="1107.6" r="4.4"/><circle cx="255.2" cy="1095.2" r="4.4"/><circle cx="264.9" cy="1089.1" r="4.4"/><circle cx="273.7" cy="1084.7" r="4.4"/><circle cx="282.6" cy="1081.1" r="4.4"/><circle cx="291.4" cy="1079.4" r="4.4"/><circle cx="300.2" cy="1079.4" r="4.4"/><circle cx="309" cy="1082.9" r="4.4"/><circle cx="314.3" cy="1090" r="4.4"/><circle cx="319.6" cy="1097.9" r="4.4"/><circle cx="328.4" cy="1112.9" r="4.4"/><circle cx="333.7" cy="1135.8" r="4.4"/><circle cx="339.4" cy="1151.6" r="4.4"/><circle cx="346.5" cy="1164.8" r="4.4"/><circle cx="352.6" cy="1180.7" r="4.4"/><circle cx="359.7" cy="1191.3" r="4.4"/><circle cx="365.8" cy="1202.7" r="4.4"/><circle cx="372.9" cy="1200.1" r="4.4"/><circle cx="380" cy="1202.7" r="4.4"/><circle cx="387.9" cy="1196.5" r="4.4"/><circle cx="395.8" cy="1193" r="4.4"/><circle cx="402" cy="1185.1" r="4.4"/><circle cx="409" cy="1174.5" r="4.4"/><circle cx="417" cy="1175.4" r="4.4"/><circle cx="423.1" cy="1157.8" r="4.4"/><circle cx="432" cy="1156" r="4.4"/><circle cx="440.8" cy="1151.6" r="4.4"/><circle cx="448.7" cy="1148.9" r="4.4"/><circle cx="456.6" cy="1146.3" r="4.4"/><circle cx="466.3" cy="1137.5" r="4.4"/><circle cx="475.1" cy="1148.1" r="4.4"/><circle cx="484" cy="1148.1" r="4.4"/></g>
<g fill="#7a1515"><circle cx="191.7" cy="1201.9" r="4.4"/><circle cx="196.1" cy="1218.7" r="4.4"/><circle cx="201.4" cy="1222.2" r="4.4"/><circle cx="206.7" cy="1219.6" r="4.4"/><circle cx="211.1" cy="1205.5" r="4.4"/><circle cx="215.5" cy="1194.9" r="4.4"/><circle cx="220.8" cy="1175.5" r="4.4"/><circle cx="226.1" cy="1189.6" r="4.4"/><circle cx="235" cy="1180.8" r="4.4"/><circle cx="241.1" cy="1173.7" r="4.4"/><circle cx="250.8" cy="1163.1" r="4.4"/><circle cx="257" cy="1154.3" r="4.4"/><circle cx="264.9" cy="1138.4" r="4.4"/><circle cx="273.7" cy="1130.5" r="4.4"/><circle cx="284.3" cy="1126.1" r="4.4"/><circle cx="294.9" cy="1122.6" r="4.4"/><circle cx="302" cy="1121.7" r="4.4"/><circle cx="307.3" cy="1130.5" r="4.4"/><circle cx="314.3" cy="1139.3" r="4.4"/><circle cx="319.6" cy="1153.4" r="4.4"/><circle cx="324.9" cy="1173.7" r="4.4"/><circle cx="330.2" cy="1207.2" r="4.4"/><circle cx="339.9" cy="1221.3" r="4.4"/><circle cx="346.5" cy="1232.7" r="4.4"/><circle cx="352.6" cy="1249.4" r="4.4"/><circle cx="359.7" cy="1258.2" r="4.4"/><circle cx="365.8" cy="1268.8" r="4.4"/><circle cx="372.9" cy="1260" r="4.4"/><circle cx="380.8" cy="1260.9" r="4.4"/><circle cx="387.9" cy="1253.8" r="4.4"/><circle cx="394.9" cy="1251.2" r="4.4"/><circle cx="402" cy="1238.8" r="4.4"/><circle cx="409" cy="1226.5" r="4.4"/><circle cx="417" cy="1227.4" r="4.4"/><circle cx="424" cy="1206.2" r="4.4"/><circle cx="432" cy="1203.6" r="4.4"/><circle cx="440.8" cy="1196.5" r="4.4"/><circle cx="449.6" cy="1186.9" r="4.4"/><circle cx="457.5" cy="1188.6" r="4.4"/><circle cx="466.3" cy="1175.4" r="4.4"/><circle cx="475.1" cy="1191.3" r="4.4"/><circle cx="484" cy="1196.5" r="4.4"/></g>
<path d="M152,1084.3 153.5,1084.49 155,1084.73 156.5,1085.02 158,1085.34 159.5,1085.7 161,1086.09 162.5,1086.5 164,1086.92 165.5,1087.35 167,1087.78 168.5,1088.2 170,1088.62 171.5,1089.01 173,1089.37 174.5,1089.71 176,1090 177.5,1090.25 179,1090.44 180.5,1090.58 182,1090.65 183.5,1090.65 185,1090.57 186.5,1090.41 188,1090.15 189.5,1089.8 191,1089.35 192.5,1088.8 194,1088.16 195.5,1087.44 197,1086.65 198.5,1085.79 200,1084.87 201.5,1083.9 203,1082.88 204.5,1081.81 206,1080.71 207.5,1079.58 209,1078.43 210.5,1077.25 212,1076.06 213.5,1074.85 215,1073.62 216.5,1072.38 218,1071.13 219.5,1069.87 221,1068.6 222.5,1067.34 224,1066.07 225.5,1064.8 227,1063.53 228.5,1062.27 230,1061.02 231.5,1059.77 233,1058.54 234.5,1057.33 236,1056.13 237.5,1054.95 239,1053.79 240.5,1052.66 242,1051.55 243.5,1050.47 245,1049.42 246.5,1048.4 248,1047.42 249.5,1046.47 251,1045.56 252.5,1044.69 254,1043.85 255.5,1043.05 257,1042.27 258.5,1041.54 260,1040.84 261.5,1040.17 263,1039.53 264.5,1038.92 266,1038.35 267.5,1037.81 269,1037.3 270.5,1036.82 272,1036.38 273.5,1035.97 275,1035.6 276.5,1035.27 278,1034.98 279.5,1034.74 281,1034.54 282.5,1034.39 284,1034.29 285.5,1034.25 287,1034.26 288.5,1034.33 290,1034.46 291.5,1034.65 293,1034.9 294.5,1035.22 296,1035.61 297.5,1036.06 299,1036.59 300.5,1037.2 302,1037.88 303.5,1038.64 305,1039.48 306.5,1040.4 308,1041.41 309.5,1042.51 311,1043.69 312.5,1044.97 314,1046.34 315.5,1047.81 317,1049.37 318.5,1051.04 320,1052.81 321.5,1054.68 323,1056.66 324.5,1058.75 326,1060.94 327.5,1063.26 329,1065.68 330.5,1068.23 332,1070.89 333.5,1073.67 335,1076.58 336.5,1079.57 338,1082.62 339.5,1085.69 341,1088.73 342.5,1091.72 344,1094.61 345.5,1097.36 347,1099.96 348.5,1102.41 350,1104.71 351.5,1106.87 353,1108.9 354.5,1110.79 356,1112.56 357.5,1114.19 359,1115.7 360.5,1117.09 362,1118.34 363.5,1119.48 365,1120.49 366.5,1121.38 368,1122.15 369.5,1122.8 371,1123.34 372.5,1123.77 374,1124.1 375.5,1124.33 377,1124.47 378.5,1124.51 380,1124.47 381.5,1124.35 383,1124.15 384.5,1123.88 386,1123.54 387.5,1123.13 389,1122.67 390.5,1122.15 392,1121.58 393.5,1120.97 395,1120.31 396.5,1119.62 398,1118.89 399.5,1118.13 401,1117.35 402.5,1116.55 404,1115.74 405.5,1114.91 407,1114.08 408.5,1113.25 410,1112.42 411.5,1111.59 413,1110.77 414.5,1109.95 416,1109.13 417.5,1108.32 419,1107.51 420.5,1106.71 422,1105.92 423.5,1105.13 425,1104.34 426.5,1103.56 428,1102.78 429.5,1102.01 431,1101.25 432.5,1100.49 434,1099.74 435.5,1098.99 437,1098.25 438.5,1097.52 440,1096.8 441.5,1096.08 443,1095.36 444.5,1094.66 446,1093.96 447.5,1093.27 449,1092.58 450.5,1091.91 452,1091.24 453.5,1090.58 455,1089.93 456.5,1089.28 458,1088.65 459.5,1088.02 461,1087.4 462.5,1086.79 464,1086.19 465.5,1085.59 467,1085.01 468.5,1084.43 470,1083.87 471.5,1083.31 473,1082.77 474.5,1082.23 476,1081.71 477.5,1081.19 479,1080.68 480.5,1080.19 482,1079.7 483.5,1079.23 485,1078.77 486.5,1078.31 488,1077.87 489.5,1077.44 491,1077.02 492.5,1076.62 494,1076.22 495.5,1075.84 497,1075.46 498.5,1075.1 500,1074.76 501.5,1074.42 503,1074.1 504.5,1073.79 506,1073.49 507.5,1073.21 509,1072.93 510.5,1072.68 512,1072.43 513.5,1072.2 515,1071.98 516.5,1071.78 518,1071.58 519.5,1071.41 521,1071.25 522.5,1071.1 524,1070.96 525.5,1070.84 527,1070.74 528.5,1070.65 530,1070.57 531.5,1070.52 532.5,1070.48" fill="none" stroke="#000" stroke-width="3.2" stroke-linejoin="round" stroke-linecap="round"/>
<path d="M152,1149.6 153.5,1149.83 155,1150.12 156.5,1150.45 158,1150.83 159.5,1151.24 161,1151.68 162.5,1152.15 164,1152.64 165.5,1153.15 167,1153.67 168.5,1154.19 170,1154.72 171.5,1155.24 173,1155.75 174.5,1156.24 176,1156.72 177.5,1157.17 179,1157.6 180.5,1157.98 182,1158.33 183.5,1158.63 185,1158.88 186.5,1159.08 188,1159.21 189.5,1159.28 191,1159.28 192.5,1159.2 194,1159.04 195.5,1158.79 197,1158.45 198.5,1158.02 200,1157.48 201.5,1156.84 203,1156.08 204.5,1155.21 206,1154.21 207.5,1153.1 209,1151.87 210.5,1150.55 212,1149.12 213.5,1147.61 215,1146.01 216.5,1144.35 218,1142.61 219.5,1140.82 221,1138.98 222.5,1137.1 224,1135.18 225.5,1133.23 227,1131.27 228.5,1129.29 230,1127.31 231.5,1125.33 233,1123.36 234.5,1121.41 236,1119.49 237.5,1117.6 239,1115.75 240.5,1113.95 242,1112.21 243.5,1110.53 245,1108.92 246.5,1107.39 248,1105.95 249.5,1104.61 251,1103.37 252.5,1102.23 254,1101.19 255.5,1100.24 257,1099.37 258.5,1098.56 260,1097.8 261.5,1097.1 263,1096.43 264.5,1095.78 266,1095.15 267.5,1094.52 269,1093.89 270.5,1093.24 272,1092.56 273.5,1091.85 275,1091.12 276.5,1090.37 278,1089.62 279.5,1088.87 281,1088.14 282.5,1087.44 284,1086.78 285.5,1086.17 287,1085.62 288.5,1085.14 290,1084.75 291.5,1084.45 293,1084.25 294.5,1084.17 296,1084.22 297.5,1084.41 299,1084.74 300.5,1085.24 302,1085.9 303.5,1086.75 305,1087.79 306.5,1089.03 308,1090.49 309.5,1092.17 311,1094.09 312.5,1096.25 314,1098.68 315.5,1101.36 317,1104.28 318.5,1107.36 320,1110.57 321.5,1113.83 323,1117.11 324.5,1120.34 326,1123.47 327.5,1126.51 329,1129.5 330.5,1132.47 332,1135.47 333.5,1138.53 335,1141.69 336.5,1144.98 338,1148.39 339.5,1151.88 341,1155.44 342.5,1159.03 344,1162.63 345.5,1166.21 347,1169.74 348.5,1173.2 350,1176.56 351.5,1179.8 353,1182.88 354.5,1185.78 356,1188.47 357.5,1190.93 359,1193.13 360.5,1195.04 362,1196.64 363.5,1197.92 365,1198.91 366.5,1199.66 368,1200.18 369.5,1200.51 371,1200.69 372.5,1200.73 374,1200.64 375.5,1200.42 377,1200.07 378.5,1199.62 380,1199.05 381.5,1198.38 383,1197.6 384.5,1196.74 386,1195.78 387.5,1194.74 389,1193.61 390.5,1192.42 392,1191.16 393.5,1189.83 395,1188.44 396.5,1187.01 398,1185.52 399.5,1183.99 401,1182.43 402.5,1180.83 404,1179.21 405.5,1177.57 407,1175.91 408.5,1174.24 410,1172.56 411.5,1170.89 413,1169.22 414.5,1167.56 416,1165.92 417.5,1164.3 419,1162.7 420.5,1161.14 422,1159.61 423.5,1158.12 425,1156.68 426.5,1155.3 428,1153.97 429.5,1152.7 431,1151.48 432.5,1150.31 434,1149.2 435.5,1148.13 437,1147.12 438.5,1146.16 440,1145.24 441.5,1144.38 443,1143.55 444.5,1142.78 446,1142.05 447.5,1141.36 449,1140.72 450.5,1140.11 452,1139.55 453.5,1139.03 455,1138.54 456.5,1138.09 458,1137.68 459.5,1137.31 461,1136.97 462.5,1136.66 464,1136.39 465.5,1136.14 467,1135.93 468.5,1135.75 470,1135.6 471.5,1135.47 473,1135.37 474.5,1135.3 476,1135.25 477.5,1135.22 479,1135.22 480.5,1135.24 482,1135.28 483.5,1135.34 485,1135.42 486.5,1135.51 488,1135.63 489.5,1135.76 491,1135.9 492.5,1136.06 494,1136.23 495.5,1136.41 497,1136.61 498.5,1136.81 500,1137.02 501.5,1137.24 503,1137.47 504.5,1137.7 506,1137.94 507.5,1138.18 509,1138.43 510.5,1138.68 512,1138.92 513.5,1139.17 515,1139.42 516.5,1139.67 518,1139.91 519.5,1140.15 521,1140.38 522.5,1140.61 524,1140.83 525.5,1141.04 527,1141.25 528.5,1141.44 530,1141.63 531.5,1141.8 532.5,1141.91" fill="none" stroke="#000" stroke-width="3.2" stroke-linejoin="round" stroke-linecap="round"/>
<path d="M152,1199.3 153.5,1199.85 155,1200.41 156.5,1200.98 158,1201.55 159.5,1202.12 161,1202.69 162.5,1203.26 164,1203.81 165.5,1204.35 167,1204.88 168.5,1205.39 170,1205.88 171.5,1206.35 173,1206.79 174.5,1207.21 176,1207.59 177.5,1207.93 179,1208.24 180.5,1208.51 182,1208.73 183.5,1208.91 185,1209.04 186.5,1209.11 188,1209.13 189.5,1209.09 191,1209 192.5,1208.83 194,1208.6 195.5,1208.3 197,1207.93 198.5,1207.48 200,1206.96 201.5,1206.35 203,1205.66 204.5,1204.88 206,1204.01 207.5,1203.04 209,1201.99 210.5,1200.85 212,1199.62 213.5,1198.32 215,1196.95 216.5,1195.51 218,1194.01 219.5,1192.45 221,1190.84 222.5,1189.18 224,1187.48 225.5,1185.74 227,1183.97 228.5,1182.17 230,1180.35 231.5,1178.52 233,1176.67 234.5,1174.81 236,1172.95 237.5,1171.09 239,1169.24 240.5,1167.41 242,1165.59 243.5,1163.79 245,1162.02 246.5,1160.28 248,1158.58 249.5,1156.92 251,1155.31 252.5,1153.75 254,1152.23 255.5,1150.77 257,1149.34 258.5,1147.95 260,1146.59 261.5,1145.26 263,1143.97 264.5,1142.69 266,1141.44 267.5,1140.21 269,1138.98 270.5,1137.77 272,1136.57 273.5,1135.37 275,1134.18 276.5,1132.99 278,1131.83 279.5,1130.7 281,1129.62 282.5,1128.59 284,1127.64 285.5,1126.77 287,1125.99 288.5,1125.31 290,1124.75 291.5,1124.32 293,1124.04 294.5,1123.9 296,1123.93 297.5,1124.13 299,1124.52 300.5,1125.12 302,1125.92 303.5,1126.95 305,1128.21 306.5,1129.72 308,1131.48 309.5,1133.52 311,1135.84 312.5,1138.46 314,1141.38 315.5,1144.62 317,1148.19 318.5,1152.1 320,1156.33 321.5,1160.82 323,1165.52 324.5,1170.38 326,1175.34 327.5,1180.34 329,1185.32 330.5,1190.24 332,1195.03 333.5,1199.64 335,1204.01 336.5,1208.1 338,1211.96 339.5,1215.65 341,1219.22 342.5,1222.72 344,1226.23 345.5,1229.79 347,1233.46 348.5,1237.17 350,1240.85 351.5,1244.44 353,1247.84 354.5,1250.99 356,1253.82 357.5,1256.24 359,1258.27 360.5,1259.93 362,1261.24 363.5,1262.22 365,1262.89 366.5,1263.27 368,1263.39 369.5,1263.26 371,1262.89 372.5,1262.29 374,1261.49 375.5,1260.49 377,1259.32 378.5,1257.99 380,1256.51 381.5,1254.9 383,1253.17 384.5,1251.34 386,1249.43 387.5,1247.44 389,1245.4 390.5,1243.33 392,1241.22 393.5,1239.11 395,1237 396.5,1234.92 398,1232.87 399.5,1230.85 401,1228.88 402.5,1226.94 404,1225.05 405.5,1223.19 407,1221.37 408.5,1219.59 410,1217.84 411.5,1216.14 413,1214.47 414.5,1212.85 416,1211.26 417.5,1209.71 419,1208.2 420.5,1206.72 422,1205.29 423.5,1203.89 425,1202.54 426.5,1201.22 428,1199.94 429.5,1198.7 431,1197.5 432.5,1196.34 434,1195.21 435.5,1194.13 437,1193.08 438.5,1192.08 440,1191.11 441.5,1190.18 443,1189.29 444.5,1188.44 446,1187.63 447.5,1186.86 449,1186.12 450.5,1185.43 452,1184.77 453.5,1184.15 455,1183.58 456.5,1183.04 458,1182.54 459.5,1182.08 461,1181.66 462.5,1181.28 464,1180.94 465.5,1180.63 467,1180.37 468.5,1180.15 470,1179.96 471.5,1179.82 473,1179.71 474.5,1179.64 476,1179.61 477.5,1179.62 479,1179.66 480.5,1179.73 482,1179.83 483.5,1179.95 485,1180.11 486.5,1180.29 488,1180.49 489.5,1180.72 491,1180.96 492.5,1181.22 494,1181.5 495.5,1181.79 497,1182.1 498.5,1182.41 500,1182.74 501.5,1183.07 503,1183.41 504.5,1183.75 506,1184.09 507.5,1184.43 509,1184.78 510.5,1185.11 512,1185.45 513.5,1185.78 515,1186.09 516.5,1186.4 518,1186.7 519.5,1186.98 521,1187.25 522.5,1187.5 524,1187.73 525.5,1187.94 527,1188.13 528.5,1188.29 530,1188.43 531.5,1188.54 532.5,1188.6" fill="none" stroke="#000" stroke-width="3.2" stroke-linejoin="round" stroke-linecap="round"/>
</g>
<defs><clipPath id="eclip"><rect x="717" y="1005" width="530.3" height="559.5"/></clipPath></defs>
<g clip-path="url(#eclip)">
<g fill="#2f7cd6"><circle cx="773.7" cy="1174.6" r="5.2"/><circle cx="780.5" cy="1173.5" r="5.2"/><circle cx="787.3" cy="1158.7" r="5.2"/><circle cx="793" cy="1156.5" r="5.2"/><circle cx="799.8" cy="1141.7" r="5.2"/><circle cx="805.4" cy="1132.7" r="5.2"/><circle cx="812.2" cy="1124.7" r="5.2"/><circle cx="819" cy="1125.9" r="5.2"/><circle cx="827" cy="1123.6" r="5.2"/><circle cx="833.8" cy="1114.5" r="5.2"/><circle cx="841.7" cy="1099.8" r="5.2"/><circle cx="849.7" cy="1097.5" r="5.2"/><circle cx="856.5" cy="1097.5" r="5.2"/><circle cx="863.3" cy="1082.8" r="5.2"/><circle cx="870" cy="1070.3" r="5.2"/><circle cx="879" cy="1056.7" r="5.2"/><circle cx="886" cy="1059" r="5.2"/><circle cx="892.7" cy="1052.2" r="5.2"/><circle cx="900.7" cy="1049.9" r="5.2"/><circle cx="908.6" cy="1056.7" r="5.2"/><circle cx="917.7" cy="1062.4" r="5.2"/><circle cx="926.8" cy="1060.1" r="5.2"/><circle cx="933.6" cy="1079.4" r="5.2"/><circle cx="942.6" cy="1106.6" r="5.2"/><circle cx="952.5" cy="1124" r="5.2"/><circle cx="960.5" cy="1171.2" r="5.2"/><circle cx="970" cy="1202" r="5.2"/><circle cx="979.8" cy="1255" r="5.2"/><circle cx="988.2" cy="1292.5" r="5.2"/><circle cx="996.5" cy="1317.6" r="5.2"/><circle cx="1005.6" cy="1338" r="5.2"/><circle cx="1015.8" cy="1331.2" r="5.2"/><circle cx="1024.8" cy="1324.4" r="5.2"/><circle cx="1035" cy="1299" r="5.2"/><circle cx="1045.2" cy="1260.8" r="5.2"/><circle cx="1054.8" cy="1233.6" r="5.2"/><circle cx="1065.6" cy="1188.2" r="5.2"/><circle cx="1076.5" cy="1158.7" r="5.2"/><circle cx="1087.2" cy="1142.4" r="5.2"/><circle cx="1098.5" cy="1135.4" r="5.2"/><circle cx="1109.9" cy="1136" r="5.2"/><circle cx="1120" cy="1132.7" r="5.2"/><circle cx="1131.4" cy="1130.4" r="5.2"/><circle cx="1143.9" cy="1128.8" r="5.2"/><circle cx="1155.2" cy="1131.5" r="5.2"/><circle cx="1167.2" cy="1134.9" r="5.2"/><circle cx="1180.2" cy="1128.1" r="5.2"/><circle cx="1192.6" cy="1111.8" r="5.2"/></g>
<g fill="#f41414"><circle cx="773.7" cy="1276.6" r="5.2"/><circle cx="781.6" cy="1293.7" r="5.2"/><circle cx="786.8" cy="1290.4" r="5.2"/><circle cx="791.8" cy="1283.4" r="5.2"/><circle cx="799.8" cy="1261.9" r="5.2"/><circle cx="806.6" cy="1246.7" r="5.2"/><circle cx="813.4" cy="1226.8" r="5.2"/><circle cx="819" cy="1237" r="5.2"/><circle cx="825.9" cy="1218.8" r="5.2"/><circle cx="833.8" cy="1209.1" r="5.2"/><circle cx="841.7" cy="1200.7" r="5.2"/><circle cx="848.5" cy="1178" r="5.2"/><circle cx="856.5" cy="1175.7" r="5.2"/><circle cx="862.1" cy="1155.3" r="5.2"/><circle cx="870" cy="1145.1" r="5.2"/><circle cx="876.9" cy="1138.3" r="5.2"/><circle cx="885.9" cy="1131.1" r="5.2"/><circle cx="892.7" cy="1131.1" r="5.2"/><circle cx="901.8" cy="1122.4" r="5.2"/><circle cx="909.8" cy="1117.5" r="5.2"/><circle cx="917.7" cy="1114.5" r="5.2"/><circle cx="926.8" cy="1117.5" r="5.2"/><circle cx="934.7" cy="1123.6" r="5.2"/><circle cx="943.8" cy="1139.5" r="5.2"/><circle cx="951.7" cy="1161" r="5.2"/><circle cx="959.6" cy="1190.5" r="5.2"/><circle cx="968.7" cy="1229" r="5.2"/><circle cx="976.6" cy="1275.5" r="5.2"/><circle cx="986.3" cy="1304" r="5.2"/><circle cx="996.5" cy="1340.3" r="5.2"/><circle cx="1005.6" cy="1364.1" r="5.2"/><circle cx="1015.8" cy="1387.9" r="5.2"/><circle cx="1024.8" cy="1383.4" r="5.2"/><circle cx="1035" cy="1386.8" r="5.2"/><circle cx="1045.7" cy="1374.3" r="5.2"/><circle cx="1055.4" cy="1368.6" r="5.2"/><circle cx="1065.6" cy="1348.2" r="5.2"/><circle cx="1077" cy="1327.8" r="5.2"/><circle cx="1087.2" cy="1327.8" r="5.2"/><circle cx="1097.4" cy="1292.7" r="5.2"/><circle cx="1109.9" cy="1284.7" r="5.2"/><circle cx="1120" cy="1274.5" r="5.2"/><circle cx="1131.4" cy="1263" r="5.2"/><circle cx="1143.2" cy="1263.5" r="5.2"/><circle cx="1155.2" cy="1243.8" r="5.2"/><circle cx="1167.2" cy="1267.1" r="5.2"/><circle cx="1179.5" cy="1267.1" r="5.2"/><circle cx="1192.2" cy="1283.9" r="5.2"/></g>
<g fill="#0a0a0a"><circle cx="773.7" cy="1347.8" r="5.2"/><circle cx="780.5" cy="1380.4" r="5.2"/><circle cx="786.8" cy="1387.2" r="5.2"/><circle cx="793" cy="1393.6" r="5.2"/><circle cx="799.8" cy="1385.6" r="5.2"/><circle cx="806.6" cy="1377.7" r="5.2"/><circle cx="813.4" cy="1358.4" r="5.2"/><circle cx="819.7" cy="1339.8" r="5.2"/><circle cx="827" cy="1336.2" r="5.2"/><circle cx="834.9" cy="1355.7" r="5.2"/><circle cx="841.7" cy="1334.6" r="5.2"/><circle cx="849" cy="1330.1" r="5.2"/><circle cx="856.5" cy="1322.6" r="5.2"/><circle cx="863.3" cy="1309" r="5.2"/><circle cx="871.2" cy="1291.5" r="5.2"/><circle cx="879.1" cy="1269.8" r="5.2"/><circle cx="885.9" cy="1256.2" r="5.2"/><circle cx="893.9" cy="1232.3" r="5.2"/><circle cx="900.7" cy="1227.9" r="5.2"/><circle cx="908.6" cy="1222.2" r="5.2"/><circle cx="917.7" cy="1209.8" r="5.2"/><circle cx="925.6" cy="1192.7" r="5.2"/><circle cx="934.7" cy="1187.1" r="5.2"/><circle cx="942.6" cy="1183.7" r="5.2"/><circle cx="951.7" cy="1207.5" r="5.2"/><circle cx="959.6" cy="1232.3" r="5.2"/><circle cx="968.7" cy="1264.2" r="5.2"/><circle cx="977.2" cy="1299" r="5.2"/><circle cx="986.7" cy="1317.6" r="5.2"/><circle cx="1005.6" cy="1394.7" r="5.2"/><circle cx="1015.8" cy="1443.5" r="5.2"/><circle cx="1024.8" cy="1491.1" r="5.2"/><circle cx="1035" cy="1514.9" r="5.2"/><circle cx="1045.2" cy="1510.4" r="5.2"/><circle cx="1055.4" cy="1512.6" r="5.2"/><circle cx="1065.6" cy="1475.2" r="5.2"/><circle cx="1076.3" cy="1444.6" r="5.2"/><circle cx="1086.5" cy="1475.2" r="5.2"/><circle cx="1097.8" cy="1433.3" r="5.2"/><circle cx="1109.2" cy="1431" r="5.2"/><circle cx="1120" cy="1420.1" r="5.2"/><circle cx="1131.4" cy="1401.5" r="5.2"/><circle cx="1143.2" cy="1377.7" r="5.2"/><circle cx="1155.2" cy="1374.8" r="5.2"/><circle cx="1167.2" cy="1355.7" r="5.2"/><circle cx="1179.5" cy="1391.8" r="5.2"/><circle cx="1192.2" cy="1391.3" r="5.2"/></g>
<path d="M717,1159.89 718.5,1160.02 720,1160.18 721.5,1160.37 723,1160.58 724.5,1160.82 726,1161.08 727.5,1161.36 729,1161.66 730.5,1161.98 732,1162.31 733.5,1162.65 735,1163.01 736.5,1163.37 738,1163.74 739.5,1164.12 741,1164.5 742.5,1164.88 744,1165.26 745.5,1165.63 747,1166.01 748.5,1166.37 750,1166.73 751.5,1167.08 753,1167.42 754.5,1167.74 756,1168.04 757.5,1168.33 759,1168.6 760.5,1168.84 762,1169.07 763.5,1169.26 765,1169.43 766.5,1169.57 768,1169.68 769.5,1169.75 771,1169.79 772.5,1169.79 774,1169.75 775.5,1169.67 777,1169.55 778.5,1169.39 780,1169.17 781.5,1168.91 783,1168.6 784.5,1168.23 786,1167.81 787.5,1167.33 789,1166.8 790.5,1166.2 792,1165.54 793.5,1164.82 795,1164.03 796.5,1163.17 798,1162.25 799.5,1161.25 801,1160.17 802.5,1159.03 804,1157.8 805.5,1156.51 807,1155.14 808.5,1153.71 810,1152.22 811.5,1150.67 813,1149.06 814.5,1147.41 816,1145.71 817.5,1143.96 819,1142.18 820.5,1140.36 822,1138.51 823.5,1136.62 825,1134.72 826.5,1132.79 828,1130.84 829.5,1128.88 831,1126.91 832.5,1124.93 834,1122.95 835.5,1120.96 837,1118.98 838.5,1117.01 840,1115.05 841.5,1113.1 843,1111.18 844.5,1109.27 846,1107.39 847.5,1105.54 849,1103.72 850.5,1101.93 852,1100.17 853.5,1098.45 855,1096.75 856.5,1095.08 858,1093.45 859.5,1091.84 861,1090.26 862.5,1088.71 864,1087.18 865.5,1085.68 867,1084.21 868.5,1082.77 870,1081.34 871.5,1079.95 873,1078.57 874.5,1077.22 876,1075.9 877.5,1074.59 879,1073.31 880.5,1072.05 882,1070.81 883.5,1069.59 885,1068.39 886.5,1067.21 888,1066.05 889.5,1064.91 891,1063.78 892.5,1062.67 894,1061.58 895.5,1060.52 897,1059.49 898.5,1058.49 900,1057.55 901.5,1056.67 903,1055.86 904.5,1055.12 906,1054.47 907.5,1053.91 909,1053.45 910.5,1053.11 912,1052.89 913.5,1052.79 915,1052.84 916.5,1053.03 918,1053.37 919.5,1053.88 921,1054.56 922.5,1055.42 924,1056.47 925.5,1057.72 927,1059.18 928.5,1060.86 930,1062.76 931.5,1064.89 933,1067.26 934.5,1069.89 936,1072.78 937.5,1075.93 939,1079.36 940.5,1083.08 942,1087.09 943.5,1091.41 945,1096.04 946.5,1100.98 948,1106.23 949.5,1111.76 951,1117.56 952.5,1123.61 954,1129.89 955.5,1136.39 957,1143.09 958.5,1149.97 960,1157.02 961.5,1164.22 963,1171.55 964.5,1178.99 966,1186.53 967.5,1194.15 969,1201.84 970.5,1209.55 972,1217.27 973.5,1224.97 975,1232.6 976.5,1240.15 978,1247.58 979.5,1254.86 981,1261.96 982.5,1268.86 984,1275.51 985.5,1281.89 987,1287.98 988.5,1293.73 990,1299.12 991.5,1304.12 993,1308.71 994.5,1312.91 996,1316.72 997.5,1320.14 999,1323.18 1000.5,1325.86 1002,1328.16 1003.5,1330.11 1005,1331.71 1006.5,1332.96 1008,1333.88 1009.5,1334.46 1011,1334.72 1012.5,1334.66 1014,1334.28 1015.5,1333.61 1017,1332.63 1018.5,1331.36 1020,1329.81 1021.5,1327.98 1023,1325.88 1024.5,1323.51 1026,1320.88 1027.5,1318 1029,1314.88 1030.5,1311.52 1032,1307.92 1033.5,1304.11 1035,1300.08 1036.5,1295.86 1038,1291.46 1039.5,1286.88 1041,1282.16 1042.5,1277.29 1044,1272.3 1045.5,1267.19 1047,1261.98 1048.5,1256.71 1050,1251.38 1051.5,1246.03 1053,1240.68 1054.5,1235.36 1056,1230.08 1057.5,1224.88 1059,1219.77 1060.5,1214.79 1062,1209.95 1063.5,1205.29 1065,1200.81 1066.5,1196.52 1068,1192.41 1069.5,1188.49 1071,1184.73 1072.5,1181.15 1074,1177.72 1075.5,1174.46 1077,1171.34 1078.5,1168.37 1080,1165.55 1081.5,1162.86 1083,1160.31 1084.5,1157.88 1086,1155.57 1087.5,1153.38 1089,1151.3 1090.5,1149.33 1092,1147.46 1093.5,1145.68 1095,1144 1096.5,1142.4 1098,1140.89 1099.5,1139.45 1101,1138.09 1102.5,1136.8 1104,1135.58 1105.5,1134.44 1107,1133.36 1108.5,1132.36 1110,1131.42 1111.5,1130.54 1113,1129.73 1114.5,1128.98 1116,1128.29 1117.5,1127.66 1119,1127.09 1120.5,1126.57 1122,1126.11 1123.5,1125.7 1125,1125.34 1126.5,1125.03 1128,1124.77 1129.5,1124.56 1131,1124.39 1132.5,1124.26 1134,1124.18 1135.5,1124.14 1137,1124.14 1138.5,1124.17 1140,1124.24 1141.5,1124.35 1143,1124.49 1144.5,1124.66 1146,1124.86 1147.5,1125.08 1149,1125.34 1150.5,1125.62 1152,1125.92 1153.5,1126.25 1155,1126.6 1156.5,1126.96 1158,1127.35 1159.5,1127.75 1161,1128.16 1162.5,1128.59 1164,1129.03 1165.5,1129.48 1167,1129.94 1168.5,1130.4 1170,1130.88 1171.5,1131.35 1173,1131.83 1174.5,1132.3 1176,1132.78 1177.5,1133.26 1179,1133.73 1180.5,1134.2 1182,1134.66 1183.5,1135.13 1185,1135.58 1186.5,1136.04 1188,1136.49 1189.5,1136.93 1191,1137.37 1192.5,1137.81 1194,1138.24 1195.5,1138.66 1197,1139.08 1198.5,1139.49 1200,1139.9 1201.5,1140.3 1203,1140.7 1204.5,1141.09 1206,1141.47 1207.5,1141.84 1209,1142.21 1210.5,1142.57 1212,1142.92 1213.5,1143.27 1215,1143.6 1216.5,1143.93 1218,1144.25 1219.5,1144.56 1221,1144.87 1222.5,1145.16 1224,1145.44 1225.5,1145.72 1227,1145.98 1228.5,1146.24 1230,1146.48 1231.5,1146.72 1233,1146.94 1234.5,1147.16 1236,1147.36 1237.5,1147.55 1239,1147.73 1240.5,1147.9 1242,1148.06 1243.5,1148.2 1245,1148.34 1246.5,1148.46 1247,1148.5" fill="none" stroke="#000" stroke-width="3.6" stroke-linejoin="round" stroke-linecap="round"/>
<path d="M717,1269.81 718.5,1270.06 720,1270.4 721.5,1270.8 723,1271.27 724.5,1271.81 726,1272.4 727.5,1273.05 729,1273.74 730.5,1274.48 732,1275.26 733.5,1276.08 735,1276.93 736.5,1277.8 738,1278.7 739.5,1279.61 741,1280.54 742.5,1281.48 744,1282.42 745.5,1283.36 747,1284.3 748.5,1285.23 750,1286.14 751.5,1287.04 753,1287.91 754.5,1288.75 756,1289.57 757.5,1290.35 759,1291.09 760.5,1291.78 762,1292.42 763.5,1293.01 765,1293.54 766.5,1294.01 768,1294.41 769.5,1294.74 771,1294.99 772.5,1295.16 774,1295.25 775.5,1295.24 777,1295.14 778.5,1294.95 780,1294.64 781.5,1294.23 783,1293.71 784.5,1293.07 786,1292.31 787.5,1291.43 789,1290.41 790.5,1289.26 792,1287.97 793.5,1286.54 795,1284.95 796.5,1283.22 798,1281.33 799.5,1279.27 801,1277.05 802.5,1274.68 804,1272.15 805.5,1269.49 807,1266.7 808.5,1263.8 810,1260.8 811.5,1257.7 813,1254.52 814.5,1251.27 816,1247.96 817.5,1244.61 819,1241.21 820.5,1237.79 822,1234.36 823.5,1230.92 825,1227.48 826.5,1224.06 828,1220.68 829.5,1217.33 831,1214.03 832.5,1210.79 834,1207.63 835.5,1204.55 837,1201.57 838.5,1198.68 840,1195.9 841.5,1193.22 843,1190.64 844.5,1188.14 846,1185.74 847.5,1183.42 849,1181.19 850.5,1179.04 852,1176.96 853.5,1174.96 855,1173.03 856.5,1171.16 858,1169.36 859.5,1167.62 861,1165.93 862.5,1164.3 864,1162.73 865.5,1161.2 867,1159.71 868.5,1158.27 870,1156.86 871.5,1155.5 873,1154.17 874.5,1152.87 876,1151.6 877.5,1150.37 879,1149.17 880.5,1148 882,1146.86 883.5,1145.75 885,1144.66 886.5,1143.6 888,1142.56 889.5,1141.55 891,1140.56 892.5,1139.59 894,1138.64 895.5,1137.71 897,1136.79 898.5,1135.89 900,1135.01 901.5,1134.14 903,1133.28 904.5,1132.44 906,1131.62 907.5,1130.81 909,1130.04 910.5,1129.31 912,1128.62 913.5,1127.98 915,1127.4 916.5,1126.89 918,1126.44 919.5,1126.07 921,1125.79 922.5,1125.59 924,1125.49 925.5,1125.5 927,1125.62 928.5,1125.85 930,1126.21 931.5,1126.71 933,1127.38 934.5,1128.24 936,1129.33 937.5,1130.67 939,1132.28 940.5,1134.19 942,1136.43 943.5,1139.03 945,1142 946.5,1145.38 948,1149.2 949.5,1153.48 951,1158.24 952.5,1163.5 954,1169.26 955.5,1175.55 957,1182.35 958.5,1189.68 960,1197.49 961.5,1205.63 963,1213.95 964.5,1222.29 966,1230.51 967.5,1238.46 969,1246.01 970.5,1253.15 972,1259.93 973.5,1266.37 975,1272.52 976.5,1278.4 978,1284.06 979.5,1289.54 981,1294.85 982.5,1300.06 984,1305.17 985.5,1310.25 987,1315.31 988.5,1320.4 990,1325.55 991.5,1330.79 993,1336.11 994.5,1341.45 996,1346.72 997.5,1351.85 999,1356.78 1000.5,1361.43 1002,1365.73 1003.5,1369.62 1005,1373.09 1006.5,1376.15 1008,1378.84 1009.5,1381.16 1011,1383.13 1012.5,1384.77 1014,1386.1 1015.5,1387.13 1017,1387.89 1018.5,1388.39 1020,1388.65 1021.5,1388.68 1023,1388.5 1024.5,1388.14 1026,1387.6 1027.5,1386.91 1029,1386.07 1030.5,1385.12 1032,1384.07 1033.5,1382.93 1035,1381.73 1036.5,1380.47 1038,1379.18 1039.5,1377.85 1041,1376.48 1042.5,1375.08 1044,1373.64 1045.5,1372.16 1047,1370.65 1048.5,1369.1 1050,1367.51 1051.5,1365.89 1053,1364.23 1054.5,1362.53 1056,1360.79 1057.5,1359.02 1059,1357.21 1060.5,1355.36 1062,1353.47 1063.5,1351.55 1065,1349.59 1066.5,1347.59 1068,1345.55 1069.5,1343.47 1071,1341.35 1072.5,1339.2 1074,1337.01 1075.5,1334.78 1077,1332.51 1078.5,1330.2 1080,1327.86 1081.5,1325.48 1083,1323.08 1084.5,1320.66 1086,1318.22 1087.5,1315.77 1089,1313.31 1090.5,1310.84 1092,1308.37 1093.5,1305.9 1095,1303.45 1096.5,1301 1098,1298.57 1099.5,1296.16 1101,1293.77 1102.5,1291.41 1104,1289.08 1105.5,1286.79 1107,1284.55 1108.5,1282.34 1110,1280.19 1111.5,1278.09 1113,1276.05 1114.5,1274.06 1116,1272.15 1117.5,1270.29 1119,1268.49 1120.5,1266.76 1122,1265.08 1123.5,1263.47 1125,1261.91 1126.5,1260.41 1128,1258.97 1129.5,1257.59 1131,1256.26 1132.5,1254.99 1134,1253.78 1135.5,1252.62 1137,1251.52 1138.5,1250.47 1140,1249.47 1141.5,1248.53 1143,1247.64 1144.5,1246.8 1146,1246.01 1147.5,1245.27 1149,1244.59 1150.5,1243.95 1152,1243.36 1153.5,1242.82 1155,1242.33 1156.5,1241.88 1158,1241.47 1159.5,1241.11 1161,1240.79 1162.5,1240.51 1164,1240.26 1165.5,1240.06 1167,1239.89 1168.5,1239.76 1170,1239.67 1171.5,1239.6 1173,1239.57 1174.5,1239.57 1176,1239.6 1177.5,1239.65 1179,1239.74 1180.5,1239.85 1182,1239.98 1183.5,1240.14 1185,1240.32 1186.5,1240.52 1188,1240.74 1189.5,1240.98 1191,1241.24 1192.5,1241.51 1194,1241.8 1195.5,1242.1 1197,1242.42 1198.5,1242.75 1200,1243.09 1201.5,1243.43 1203,1243.79 1204.5,1244.15 1206,1244.52 1207.5,1244.89 1209,1245.26 1210.5,1245.64 1212,1246.02 1213.5,1246.4 1215,1246.77 1216.5,1247.14 1218,1247.51 1219.5,1247.88 1221,1248.23 1222.5,1248.58 1224,1248.93 1225.5,1249.26 1227,1249.58 1228.5,1249.88 1230,1250.18 1231.5,1250.46 1233,1250.72 1234.5,1250.97 1236,1251.19 1237.5,1251.4 1239,1251.59 1240.5,1251.75 1242,1251.9 1243.5,1252.01 1245,1252.11 1246.5,1252.17 1247,1252.19" fill="none" stroke="#000" stroke-width="3.6" stroke-linejoin="round" stroke-linecap="round"/>
<path d="M717,1377.7 718.5,1377.88 720,1378.11 721.5,1378.39 723,1378.71 724.5,1379.08 726,1379.48 727.5,1379.91 729,1380.38 730.5,1380.88 732,1381.4 733.5,1381.95 735,1382.52 736.5,1383.11 738,1383.71 739.5,1384.32 741,1384.94 742.5,1385.57 744,1386.2 745.5,1386.83 747,1387.46 748.5,1388.08 750,1388.69 751.5,1389.29 753,1389.88 754.5,1390.45 756,1391 757.5,1391.53 759,1392.03 760.5,1392.51 762,1392.95 763.5,1393.35 765,1393.72 766.5,1394.05 768,1394.33 769.5,1394.57 771,1394.76 772.5,1394.89 774,1394.97 775.5,1395 777,1394.96 778.5,1394.87 780,1394.72 781.5,1394.52 783,1394.26 784.5,1393.96 786,1393.61 787.5,1393.21 789,1392.77 790.5,1392.28 792,1391.75 793.5,1391.18 795,1390.58 796.5,1389.93 798,1389.26 799.5,1388.55 801,1387.81 802.5,1387.04 804,1386.24 805.5,1385.42 807,1384.57 808.5,1383.69 810,1382.77 811.5,1381.79 813,1380.72 814.5,1379.56 816,1378.29 817.5,1376.88 819,1375.32 820.5,1373.6 822,1371.69 823.5,1369.58 825,1367.25 826.5,1364.69 828,1361.87 829.5,1358.83 831,1355.64 832.5,1352.33 834,1348.99 835.5,1345.66 837,1342.4 838.5,1339.28 840,1336.32 841.5,1333.5 843,1330.81 844.5,1328.23 846,1325.74 847.5,1323.31 849,1320.94 850.5,1318.59 852,1316.26 853.5,1313.91 855,1311.54 856.5,1309.12 858,1306.63 859.5,1304.06 861,1301.38 862.5,1298.61 864,1295.76 865.5,1292.85 867,1289.92 868.5,1286.97 870,1284.04 871.5,1281.13 873,1278.27 874.5,1275.49 876,1272.8 877.5,1270.22 879,1267.73 880.5,1265.33 882,1263.01 883.5,1260.76 885,1258.57 886.5,1256.44 888,1254.35 889.5,1252.3 891,1250.27 892.5,1248.26 894,1246.26 895.5,1244.26 897,1242.29 898.5,1240.33 900,1238.38 901.5,1236.46 903,1234.57 904.5,1232.7 906,1230.86 907.5,1229.06 909,1227.29 910.5,1225.57 912,1223.88 913.5,1222.24 915,1220.65 916.5,1219.11 918,1217.63 919.5,1216.2 921,1214.83 922.5,1213.52 924,1212.28 925.5,1211.11 927,1210.01 928.5,1208.99 930,1208.07 931.5,1207.25 933,1206.54 934.5,1205.95 936,1205.49 937.5,1205.17 939,1205 940.5,1204.99 942,1205.15 943.5,1205.49 945,1206.01 946.5,1206.74 948,1207.67 949.5,1208.82 951,1210.19 952.5,1211.8 954,1213.66 955.5,1215.77 957,1218.15 958.5,1220.81 960,1223.74 961.5,1226.97 963,1230.51 964.5,1234.36 966,1238.53 967.5,1243.04 969,1247.87 970.5,1253.01 972,1258.4 973.5,1264 975,1269.78 976.5,1275.67 978,1281.65 979.5,1287.67 981,1293.69 982.5,1299.71 984,1305.74 985.5,1311.8 987,1317.9 988.5,1324.05 990,1330.25 991.5,1336.53 993,1342.88 994.5,1349.33 996,1355.89 997.5,1362.56 999,1369.36 1000.5,1376.29 1002,1383.36 1003.5,1390.51 1005,1397.7 1006.5,1404.89 1008,1412.04 1009.5,1419.1 1011,1426.03 1012.5,1432.8 1014,1439.35 1015.5,1445.64 1017,1451.63 1018.5,1457.28 1020,1462.54 1021.5,1467.38 1023,1471.74 1024.5,1475.61 1026,1479.01 1027.5,1481.97 1029,1484.52 1030.5,1486.67 1032,1488.47 1033.5,1489.92 1035,1491.07 1036.5,1491.93 1038,1492.54 1039.5,1492.92 1041,1493.09 1042.5,1493.09 1044,1492.94 1045.5,1492.66 1047,1492.28 1048.5,1491.8 1050,1491.23 1051.5,1490.57 1053,1489.82 1054.5,1488.98 1056,1488.07 1057.5,1487.08 1059,1486.01 1060.5,1484.87 1062,1483.67 1063.5,1482.41 1065,1481.08 1066.5,1479.7 1068,1478.27 1069.5,1476.79 1071,1475.26 1072.5,1473.69 1074,1472.09 1075.5,1470.44 1077,1468.77 1078.5,1467.07 1080,1465.35 1081.5,1463.6 1083,1461.84 1084.5,1460.06 1086,1458.27 1087.5,1456.48 1089,1454.68 1090.5,1452.87 1092,1451.05 1093.5,1449.23 1095,1447.39 1096.5,1445.54 1098,1443.69 1099.5,1441.82 1101,1439.94 1102.5,1438.05 1104,1436.15 1105.5,1434.23 1107,1432.3 1108.5,1430.36 1110,1428.4 1111.5,1426.43 1113,1424.44 1114.5,1422.43 1116,1420.41 1117.5,1418.36 1119,1416.31 1120.5,1414.23 1122,1412.13 1123.5,1410.01 1125,1407.88 1126.5,1405.72 1128,1403.54 1129.5,1401.34 1131,1399.12 1132.5,1396.87 1134,1394.61 1135.5,1392.33 1137,1390.05 1138.5,1387.77 1140,1385.49 1141.5,1383.22 1143,1380.97 1144.5,1378.74 1146,1376.54 1147.5,1374.38 1149,1372.25 1150.5,1370.18 1152,1368.15 1153.5,1366.19 1155,1364.29 1156.5,1362.46 1158,1360.7 1159.5,1359.03 1161,1357.45 1162.5,1355.96 1164,1354.57 1165.5,1353.29 1167,1352.11 1168.5,1351.05 1170,1350.09 1171.5,1349.23 1173,1348.47 1174.5,1347.81 1176,1347.23 1177.5,1346.75 1179,1346.35 1180.5,1346.03 1182,1345.79 1183.5,1345.62 1185,1345.52 1186.5,1345.5 1188,1345.53 1189.5,1345.63 1191,1345.79 1192.5,1346 1194,1346.26 1195.5,1346.57 1197,1346.93 1198.5,1347.33 1200,1347.76 1201.5,1348.23 1203,1348.73 1204.5,1349.26 1206,1349.81 1207.5,1350.39 1209,1350.98 1210.5,1351.59 1212,1352.2 1213.5,1352.83 1215,1353.46 1216.5,1354.09 1218,1354.72 1219.5,1355.34 1221,1355.96 1222.5,1356.56 1224,1357.15 1225.5,1357.72 1227,1358.26 1228.5,1358.78 1230,1359.28 1231.5,1359.73 1233,1360.16 1234.5,1360.54 1236,1360.89 1237.5,1361.18 1239,1361.43 1240.5,1361.63 1242,1361.77 1243.5,1361.85 1245,1361.86 1246.5,1361.82 1247,1361.79" fill="none" stroke="#000" stroke-width="3.6" stroke-linejoin="round" stroke-linecap="round"/>
</g>
<path d="M904.1,1193.9 L839.8,1028" stroke="#000" stroke-width="2.6" fill="none"/>
<path d="M838.3,1044 L839.6,1027.5 L853.5,1038" stroke="#000" stroke-width="2.6" fill="none" stroke-linejoin="miter"/>
<rect x="150.5" y="1007.0" width="382.0" height="276.0" fill="none" stroke="#000" stroke-width="2.6"/>
<rect x="150.3" y="1289.7" width="381.99999999999994" height="274.89999999999986" fill="none" stroke="#000" stroke-width="2.6"/>
<rect x="717.0" y="1005.2" width="530.3" height="559.3" fill="none" stroke="#000" stroke-width="2.6"/>
</svg></body></html>
